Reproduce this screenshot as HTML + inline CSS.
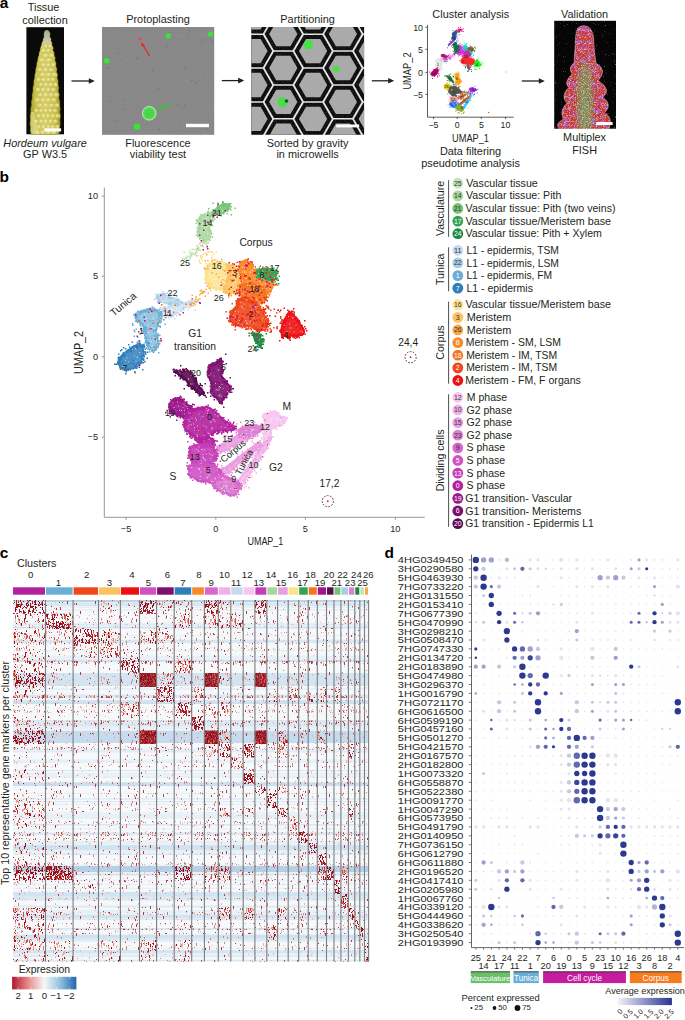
<!DOCTYPE html>
<html><head><meta charset="utf-8"><style>
html,body{margin:0;padding:0;background:#fff;}
body{width:685px;height:1020px;overflow:hidden;position:relative;}
svg{position:absolute;left:0;top:0;display:block;}
text{font-family:"Liberation Sans",sans-serif;}
</style></head><body>
<svg width="685" height="1020" viewBox="0 0 685 1020" font-family="Liberation Sans, sans-serif" fill="#231f20">
<defs>
<linearGradient id="spk" x1="0" x2="1" y1="0" y2="0">
<stop offset="0" stop-color="#9c9428"/><stop offset="0.18" stop-color="#cdc248"/><stop offset="0.5" stop-color="#e2da78"/><stop offset="0.82" stop-color="#cdc248"/><stop offset="1" stop-color="#9a9226"/></linearGradient>
<linearGradient id="spktip" x1="0" x2="0" y1="0" y2="1">
<stop offset="0" stop-color="#a8a89a"/><stop offset="0.1" stop-color="#c8c6a8" stop-opacity="0.95"/><stop offset="0.2" stop-color="#e0da9a" stop-opacity="0"/></linearGradient>
<filter id="grain" x="0" y="0" width="1" height="1"><feTurbulence type="fractalNoise" baseFrequency="0.9" numOctaves="2" seed="3"/><feColorMatrix type="matrix" values="0 0 0 0 0.3  0 0 0 0 0.3  0 0 0 0 0.3  0 0 0 -2.2 1.25"/><feComposite in2="SourceGraphic" operator="in"/></filter>
</defs>
<text x="-0.30" y="7.90" font-size="15.5" fill="#000" font-weight="bold">a</text>
<text x="43.60" y="10.90" font-size="10.9" text-anchor="middle">Tissue</text>
<text x="45.00" y="23.50" font-size="10.9" text-anchor="middle">collection</text>
<text x="45.10" y="146.80" font-size="10.9" text-anchor="middle" font-style="italic">Hordeum vulgare</text>
<text x="45.10" y="157.70" font-size="10.9" text-anchor="middle">GP W3.5</text>
<rect x="26.4" y="27.2" width="37.6" height="107.1" fill="#0a0a08"/>
<path d="M44.6 31.5 Q46.9 28.8 49.2 31.5 Q51.0 34.2 49.7 37.0 Q52.1 39.0 50.8 41.0 Q53.1 43.0 51.8 45.0 Q54.1 47.5 52.8 50.0 Q55.1 52.5 53.8 55.0 Q56.1 57.5 54.8 60.0 Q57.1 63.0 55.8 66.0 Q57.9 69.0 56.6 72.0 Q58.5 75.0 57.2 78.0 Q59.1 81.0 57.8 84.0 Q59.6 87.5 58.3 91.0 Q60.1 94.5 58.8 98.0 Q60.7 101.5 59.4 105.0 Q61.1 108.5 59.8 112.0 Q61.3 116.0 60.0 120.0 Q60.9 123.5 59.6 127.0 Q60.1 130.7 58.8 134.3 L31.2 134.3 Q29.3 130.7 30.6 127.0 Q29.2 123.5 30.5 120.0 Q29.5 116.0 30.8 112.0 Q30.2 108.5 31.5 105.0 Q30.9 101.5 32.2 98.0 Q31.7 94.5 33.0 91.0 Q32.5 87.5 33.8 84.0 Q33.3 81.0 34.6 78.0 Q34.3 75.0 35.6 72.0 Q35.3 69.0 36.6 66.0 Q36.5 63.0 37.8 60.0 Q37.7 57.5 39.0 55.0 Q38.9 52.5 40.2 50.0 Q40.3 47.5 41.6 45.0 Q41.6 43.0 42.9 41.0 Q42.9 39.0 44.2 37.0 Q43.3 34.2 44.6 31.5 Z" fill="url(#spk)"/>
<path d="M44.6 31.5 Q46.9 28.8 49.2 31.5 Q51.0 34.2 49.7 37.0 Q52.1 39.0 50.8 41.0 Q53.1 43.0 51.8 45.0 Q54.1 47.5 52.8 50.0 Q55.1 52.5 53.8 55.0 Q56.1 57.5 54.8 60.0 Q57.1 63.0 55.8 66.0 Q57.9 69.0 56.6 72.0 Q58.5 75.0 57.2 78.0 Q59.1 81.0 57.8 84.0 Q59.6 87.5 58.3 91.0 Q60.1 94.5 58.8 98.0 Q60.7 101.5 59.4 105.0 Q61.1 108.5 59.8 112.0 Q61.3 116.0 60.0 120.0 Q60.9 123.5 59.6 127.0 Q60.1 130.7 58.8 134.3 L31.2 134.3 Q29.3 130.7 30.6 127.0 Q29.2 123.5 30.5 120.0 Q29.5 116.0 30.8 112.0 Q30.2 108.5 31.5 105.0 Q30.9 101.5 32.2 98.0 Q31.7 94.5 33.0 91.0 Q32.5 87.5 33.8 84.0 Q33.3 81.0 34.6 78.0 Q34.3 75.0 35.6 72.0 Q35.3 69.0 36.6 66.0 Q36.5 63.0 37.8 60.0 Q37.7 57.5 39.0 55.0 Q38.9 52.5 40.2 50.0 Q40.3 47.5 41.6 45.0 Q41.6 43.0 42.9 41.0 Q42.9 39.0 44.2 37.0 Q43.3 34.2 44.6 31.5 Z" fill="url(#spktip)"/>
<g fill="#e4dd84" stroke="#aea43c" stroke-width="0.45" opacity="0.8"><ellipse cx="45.9" cy="46.0" rx="2.2" ry="2.3"/><ellipse cx="49.8" cy="46.0" rx="2.2" ry="2.3"/><ellipse cx="43.3" cy="50.6" rx="2.6" ry="2.3"/><ellipse cx="48.1" cy="50.6" rx="2.6" ry="2.3"/><ellipse cx="45.5" cy="55.3" rx="3.1" ry="2.3"/><ellipse cx="51.2" cy="55.3" rx="3.1" ry="2.3"/><ellipse cx="41.9" cy="60.0" rx="3.5" ry="2.3"/><ellipse cx="48.6" cy="60.0" rx="3.5" ry="2.3"/><ellipse cx="43.2" cy="64.8" rx="2.7" ry="2.3"/><ellipse cx="48.1" cy="64.8" rx="2.7" ry="2.3"/><ellipse cx="53.1" cy="64.8" rx="2.7" ry="2.3"/><ellipse cx="40.1" cy="69.6" rx="2.9" ry="2.3"/><ellipse cx="45.5" cy="69.6" rx="2.9" ry="2.3"/><ellipse cx="51.0" cy="69.6" rx="2.9" ry="2.3"/><ellipse cx="42.5" cy="74.5" rx="3.1" ry="2.3"/><ellipse cx="48.4" cy="74.5" rx="3.1" ry="2.3"/><ellipse cx="54.2" cy="74.5" rx="3.1" ry="2.3"/><ellipse cx="38.8" cy="79.5" rx="2.5" ry="2.3"/><ellipse cx="43.4" cy="79.5" rx="2.5" ry="2.3"/><ellipse cx="48.1" cy="79.5" rx="2.5" ry="2.3"/><ellipse cx="52.7" cy="79.5" rx="2.5" ry="2.3"/><ellipse cx="40.8" cy="84.5" rx="2.6" ry="2.3"/><ellipse cx="45.7" cy="84.5" rx="2.6" ry="2.3"/><ellipse cx="50.6" cy="84.5" rx="2.6" ry="2.3"/><ellipse cx="55.4" cy="84.5" rx="2.6" ry="2.3"/><ellipse cx="38.1" cy="89.6" rx="2.7" ry="2.3"/><ellipse cx="43.1" cy="89.6" rx="2.7" ry="2.3"/><ellipse cx="48.2" cy="89.6" rx="2.7" ry="2.3"/><ellipse cx="53.2" cy="89.6" rx="2.7" ry="2.3"/><ellipse cx="40.4" cy="94.7" rx="2.8" ry="2.3"/><ellipse cx="45.6" cy="94.7" rx="2.8" ry="2.3"/><ellipse cx="50.8" cy="94.7" rx="2.8" ry="2.3"/><ellipse cx="56.1" cy="94.7" rx="2.8" ry="2.3"/><ellipse cx="37.4" cy="99.9" rx="2.9" ry="2.3"/><ellipse cx="42.8" cy="99.9" rx="2.9" ry="2.3"/><ellipse cx="48.3" cy="99.9" rx="2.9" ry="2.3"/><ellipse cx="53.7" cy="99.9" rx="2.9" ry="2.3"/><ellipse cx="39.8" cy="105.2" rx="3.0" ry="2.3"/><ellipse cx="45.5" cy="105.2" rx="3.0" ry="2.3"/><ellipse cx="51.1" cy="105.2" rx="3.0" ry="2.3"/><ellipse cx="56.8" cy="105.2" rx="3.0" ry="2.3"/><ellipse cx="36.4" cy="110.5" rx="2.5" ry="2.3"/><ellipse cx="41.1" cy="110.5" rx="2.5" ry="2.3"/><ellipse cx="45.7" cy="110.5" rx="2.5" ry="2.3"/><ellipse cx="50.4" cy="110.5" rx="2.5" ry="2.3"/><ellipse cx="55.0" cy="110.5" rx="2.5" ry="2.3"/><ellipse cx="38.6" cy="115.9" rx="2.6" ry="2.3"/><ellipse cx="43.4" cy="115.9" rx="2.6" ry="2.3"/><ellipse cx="48.1" cy="115.9" rx="2.6" ry="2.3"/><ellipse cx="52.8" cy="115.9" rx="2.6" ry="2.3"/><ellipse cx="57.5" cy="115.9" rx="2.6" ry="2.3"/><ellipse cx="36.3" cy="121.3" rx="2.6" ry="2.3"/><ellipse cx="41.0" cy="121.3" rx="2.6" ry="2.3"/><ellipse cx="45.7" cy="121.3" rx="2.6" ry="2.3"/><ellipse cx="50.4" cy="121.3" rx="2.6" ry="2.3"/><ellipse cx="55.2" cy="121.3" rx="2.6" ry="2.3"/><ellipse cx="38.8" cy="126.8" rx="2.5" ry="2.3"/><ellipse cx="43.4" cy="126.8" rx="2.5" ry="2.3"/><ellipse cx="48.1" cy="126.8" rx="2.5" ry="2.3"/><ellipse cx="52.7" cy="126.8" rx="2.5" ry="2.3"/><ellipse cx="57.3" cy="126.8" rx="2.5" ry="2.3"/><ellipse cx="37.4" cy="132.4" rx="2.9" ry="2.3"/><ellipse cx="42.8" cy="132.4" rx="2.9" ry="2.3"/><ellipse cx="48.3" cy="132.4" rx="2.9" ry="2.3"/><ellipse cx="53.7" cy="132.4" rx="2.9" ry="2.3"/></g>
<g fill="#fbf8d0" opacity="0.7"><circle cx="46.0" cy="45.4" r="0.75"/><circle cx="50.1" cy="45.4" r="0.75"/><circle cx="43.6" cy="50.0" r="0.75"/><circle cx="48.5" cy="50.0" r="0.75"/><circle cx="45.7" cy="54.7" r="0.75"/><circle cx="51.6" cy="54.7" r="0.75"/><circle cx="41.4" cy="59.4" r="0.75"/><circle cx="48.5" cy="59.4" r="0.75"/><circle cx="43.6" cy="64.2" r="0.75"/><circle cx="48.3" cy="64.2" r="0.75"/><circle cx="53.5" cy="64.2" r="0.75"/><circle cx="39.7" cy="69.0" r="0.75"/><circle cx="45.5" cy="69.0" r="0.75"/><circle cx="50.7" cy="69.0" r="0.75"/><circle cx="42.6" cy="73.9" r="0.75"/><circle cx="48.4" cy="73.9" r="0.75"/><circle cx="53.7" cy="73.9" r="0.75"/><circle cx="38.5" cy="78.9" r="0.75"/><circle cx="43.2" cy="78.9" r="0.75"/><circle cx="48.5" cy="78.9" r="0.75"/><circle cx="52.9" cy="78.9" r="0.75"/><circle cx="40.5" cy="83.9" r="0.75"/><circle cx="46.0" cy="83.9" r="0.75"/><circle cx="50.2" cy="83.9" r="0.75"/><circle cx="55.5" cy="83.9" r="0.75"/><circle cx="37.7" cy="89.0" r="0.75"/><circle cx="42.6" cy="89.0" r="0.75"/><circle cx="48.5" cy="89.0" r="0.75"/><circle cx="52.9" cy="89.0" r="0.75"/><circle cx="40.1" cy="94.1" r="0.75"/><circle cx="46.1" cy="94.1" r="0.75"/><circle cx="51.2" cy="94.1" r="0.75"/><circle cx="55.8" cy="94.1" r="0.75"/><circle cx="37.9" cy="99.3" r="0.75"/><circle cx="42.9" cy="99.3" r="0.75"/><circle cx="48.4" cy="99.3" r="0.75"/><circle cx="53.4" cy="99.3" r="0.75"/><circle cx="40.3" cy="104.6" r="0.75"/><circle cx="45.7" cy="104.6" r="0.75"/><circle cx="51.6" cy="104.6" r="0.75"/><circle cx="57.2" cy="104.6" r="0.75"/><circle cx="36.2" cy="109.9" r="0.75"/><circle cx="41.0" cy="109.9" r="0.75"/><circle cx="45.4" cy="109.9" r="0.75"/><circle cx="50.0" cy="109.9" r="0.75"/><circle cx="54.6" cy="109.9" r="0.75"/><circle cx="38.4" cy="115.3" r="0.75"/><circle cx="43.5" cy="115.3" r="0.75"/><circle cx="47.6" cy="115.3" r="0.75"/><circle cx="53.0" cy="115.3" r="0.75"/><circle cx="57.4" cy="115.3" r="0.75"/><circle cx="36.1" cy="120.7" r="0.75"/><circle cx="41.3" cy="120.7" r="0.75"/><circle cx="45.7" cy="120.7" r="0.75"/><circle cx="50.3" cy="120.7" r="0.75"/><circle cx="55.2" cy="120.7" r="0.75"/><circle cx="39.0" cy="126.2" r="0.75"/><circle cx="43.0" cy="126.2" r="0.75"/><circle cx="48.5" cy="126.2" r="0.75"/><circle cx="52.2" cy="126.2" r="0.75"/><circle cx="57.5" cy="126.2" r="0.75"/><circle cx="37.7" cy="131.8" r="0.75"/><circle cx="42.3" cy="131.8" r="0.75"/><circle cx="48.6" cy="131.8" r="0.75"/><circle cx="53.6" cy="131.8" r="0.75"/></g>
<path d="M44.6 31.5 Q46.9 28.8 49.2 31.5 Q51.0 34.2 49.7 37.0 Q52.1 39.0 50.8 41.0 Q53.1 43.0 51.8 45.0 Q54.1 47.5 52.8 50.0 Q55.1 52.5 53.8 55.0 Q56.1 57.5 54.8 60.0 Q57.1 63.0 55.8 66.0 Q57.9 69.0 56.6 72.0 Q58.5 75.0 57.2 78.0 Q59.1 81.0 57.8 84.0 Q59.6 87.5 58.3 91.0 Q60.1 94.5 58.8 98.0 Q60.7 101.5 59.4 105.0 Q61.1 108.5 59.8 112.0 Q61.3 116.0 60.0 120.0 Q60.9 123.5 59.6 127.0 Q60.1 130.7 58.8 134.3 L31.2 134.3 Q29.3 130.7 30.6 127.0 Q29.2 123.5 30.5 120.0 Q29.5 116.0 30.8 112.0 Q30.2 108.5 31.5 105.0 Q30.9 101.5 32.2 98.0 Q31.7 94.5 33.0 91.0 Q32.5 87.5 33.8 84.0 Q33.3 81.0 34.6 78.0 Q34.3 75.0 35.6 72.0 Q35.3 69.0 36.6 66.0 Q36.5 63.0 37.8 60.0 Q37.7 57.5 39.0 55.0 Q38.9 52.5 40.2 50.0 Q40.3 47.5 41.6 45.0 Q41.6 43.0 42.9 41.0 Q42.9 39.0 44.2 37.0 Q43.3 34.2 44.6 31.5 Z" fill="none" stroke="#7a7420" stroke-width="0.6" opacity="0.6"/>
<path d="M31 112 Q29.8 124 31.5 134.3 L40 134.3 Q36 125 34 112Z" fill="#e8e29a" opacity="0.6"/>
<rect x="44.3" y="128.3" width="16.8" height="3.1" fill="#fff"/>
<line x1="71.50" y1="81.00" x2="90.80" y2="81.00" stroke="#231f20" stroke-width="1.3"/>
<path d="M94.80 81.00 L88.80 78.20 L88.80 83.80Z" fill="#231f20"/>
<rect x="102" y="27" width="112.2" height="107.8" fill="#888"/>
<rect x="102" y="27" width="112.2" height="107.8" fill="#888" filter="url(#grain)" opacity="0.35"/>
<g fill="#5a5a5a" opacity="0.45"><circle cx="153.9" cy="67.6" r="0.5"/><circle cx="123.5" cy="99.7" r="0.6"/><circle cx="158.3" cy="123.2" r="0.5"/><circle cx="139.7" cy="127.3" r="0.8"/><circle cx="107.5" cy="68.2" r="0.8"/><circle cx="207.1" cy="128.8" r="0.6"/><circle cx="120.3" cy="53.2" r="0.5"/><circle cx="117.6" cy="120.4" r="0.8"/><circle cx="110.0" cy="101.0" r="0.8"/><circle cx="200.6" cy="125.4" r="0.5"/><circle cx="177.2" cy="104.9" r="0.6"/><circle cx="200.9" cy="109.9" r="0.5"/><circle cx="146.6" cy="64.2" r="0.5"/><circle cx="124.9" cy="122.0" r="0.6"/><circle cx="109.0" cy="68.2" r="0.6"/><circle cx="118.3" cy="53.1" r="0.8"/><circle cx="202.7" cy="39.9" r="0.8"/><circle cx="103.4" cy="109.0" r="0.5"/><circle cx="201.5" cy="49.5" r="0.5"/><circle cx="201.2" cy="42.1" r="0.5"/><circle cx="158.1" cy="88.7" r="0.8"/><circle cx="204.3" cy="72.5" r="0.6"/><circle cx="124.1" cy="109.1" r="0.8"/><circle cx="166.8" cy="46.3" r="0.8"/><circle cx="182.2" cy="32.4" r="0.6"/><circle cx="164.1" cy="92.3" r="0.5"/><circle cx="185.0" cy="106.1" r="0.8"/><circle cx="212.8" cy="40.9" r="0.8"/><circle cx="147.3" cy="124.1" r="0.5"/><circle cx="170.2" cy="32.6" r="0.6"/><circle cx="196.0" cy="83.3" r="0.8"/><circle cx="188.2" cy="37.2" r="0.6"/><circle cx="115.1" cy="121.5" r="0.6"/><circle cx="152.6" cy="70.6" r="0.8"/><circle cx="185.0" cy="68.2" r="0.8"/><circle cx="139.2" cy="74.0" r="0.5"/><circle cx="127.4" cy="56.6" r="0.5"/><circle cx="136.8" cy="58.2" r="0.8"/><circle cx="189.3" cy="30.7" r="0.8"/><circle cx="191.8" cy="80.7" r="0.8"/><circle cx="188.6" cy="88.0" r="0.5"/><circle cx="149.8" cy="52.5" r="0.6"/><circle cx="159.1" cy="129.3" r="0.8"/><circle cx="143.6" cy="98.8" r="0.5"/><circle cx="179.2" cy="120.8" r="0.5"/></g>
<circle cx="168.2" cy="35.7" r="2.8" fill="#38e438"/>
<circle cx="210.6" cy="34.1" r="2.6" fill="#38e438"/>
<circle cx="106.7" cy="60.7" r="2.9" fill="#38e438"/>
<circle cx="137.1" cy="126.8" r="3.3" fill="#38e438"/>
<circle cx="149.2" cy="113.3" r="6.8" fill="#56dc56" stroke="#c6f2c6" stroke-width="0.9"/>
<circle cx="149.2" cy="113.3" r="4.6" fill="#44d044" opacity="0.55"/>
<circle cx="139.8" cy="38.8" r="1.8" fill="#e05050"/>
<line x1="149.60" y1="56.20" x2="143.00" y2="45.00" stroke="#e8241c" stroke-width="1.2"/>
<path d="M141.2 42.2 L145.2 45.4 L141.6 46.6Z" fill="#e8241c"/>
<line x1="171.80" y1="104.80" x2="160.00" y2="108.00" stroke="#22d022" stroke-width="1.3"/>
<path d="M156.6 108.8 L160.6 105.9 L161.4 110.0Z" fill="#22d022"/>
<rect x="186" y="123.8" width="23" height="3.4" fill="#fff"/>
<text x="158.00" y="23.40" font-size="10.9" text-anchor="middle">Protoplasting</text>
<text x="158.00" y="146.50" font-size="10.9" text-anchor="middle">Fluorescence</text>
<text x="158.00" y="157.70" font-size="10.9" text-anchor="middle">viability test</text>
<line x1="221.80" y1="80.60" x2="240.20" y2="80.60" stroke="#231f20" stroke-width="1.3"/>
<path d="M244.20 80.60 L238.20 77.80 L238.20 83.40Z" fill="#231f20"/>
<clipPath id="pclip"><rect x="251.3" y="27" width="112.8" height="107.8"/></clipPath>
<g clip-path="url(#pclip)"><rect x="251.3" y="27" width="112.8" height="107.8" fill="#e8e8e8"/><g fill="#0c0c0c"><polygon points="272.2,-16.7 262.9,-0.5 244.2,-0.5 234.8,-16.7 244.1,-32.9 262.9,-32.9"/><polygon points="272.2,17.2 262.9,33.4 244.2,33.4 234.8,17.2 244.1,1.0 262.9,1.0"/><polygon points="272.2,51.1 262.9,67.3 244.2,67.3 234.8,51.1 244.1,34.9 262.9,34.9"/><polygon points="272.2,85.0 262.9,101.2 244.2,101.2 234.8,85.0 244.1,68.8 262.9,68.8"/><polygon points="272.2,118.9 262.9,135.1 244.2,135.1 234.8,118.9 244.1,102.7 262.9,102.7"/><polygon points="272.2,152.8 262.9,169.0 244.2,169.0 234.8,152.8 244.1,136.6 262.9,136.6"/><polygon points="302.0,0.2 292.7,16.4 273.9,16.4 264.6,0.2 273.9,-16.0 292.7,-16.0"/><polygon points="302.0,34.1 292.7,50.3 273.9,50.3 264.6,34.1 273.9,17.9 292.7,17.9"/><polygon points="302.0,68.0 292.7,84.2 273.9,84.2 264.6,68.0 273.9,51.8 292.7,51.8"/><polygon points="302.0,101.9 292.7,118.1 273.9,118.1 264.6,101.9 273.9,85.7 292.7,85.7"/><polygon points="302.0,135.8 292.7,152.0 273.9,152.0 264.6,135.8 273.9,119.6 292.7,119.6"/><polygon points="302.0,169.7 292.7,185.9 273.9,185.9 264.6,169.7 273.9,153.5 292.7,153.5"/><polygon points="331.8,-16.7 322.5,-0.5 303.8,-0.5 294.4,-16.7 303.8,-32.9 322.5,-32.9"/><polygon points="331.8,17.2 322.5,33.4 303.8,33.4 294.4,17.2 303.8,1.0 322.5,1.0"/><polygon points="331.8,51.1 322.5,67.3 303.8,67.3 294.4,51.1 303.8,34.9 322.5,34.9"/><polygon points="331.8,85.0 322.5,101.2 303.8,101.2 294.4,85.0 303.8,68.8 322.5,68.8"/><polygon points="331.8,118.9 322.5,135.1 303.8,135.1 294.4,118.9 303.8,102.7 322.5,102.7"/><polygon points="331.8,152.8 322.5,169.0 303.8,169.0 294.4,152.8 303.8,136.6 322.5,136.6"/><polygon points="361.6,0.2 352.3,16.4 333.6,16.4 324.2,0.2 333.6,-16.0 352.3,-16.0"/><polygon points="361.6,34.1 352.3,50.3 333.6,50.3 324.2,34.1 333.6,17.9 352.3,17.9"/><polygon points="361.6,68.0 352.3,84.2 333.6,84.2 324.2,68.0 333.6,51.8 352.3,51.8"/><polygon points="361.6,101.9 352.3,118.1 333.6,118.1 324.2,101.9 333.6,85.7 352.3,85.7"/><polygon points="361.6,135.8 352.3,152.0 333.6,152.0 324.2,135.8 333.6,119.6 352.3,119.6"/><polygon points="361.6,169.7 352.3,185.9 333.6,185.9 324.2,169.7 333.6,153.5 352.3,153.5"/><polygon points="391.4,-16.7 382.1,-0.5 363.4,-0.5 354.0,-16.7 363.4,-32.9 382.1,-32.9"/><polygon points="391.4,17.2 382.1,33.4 363.4,33.4 354.0,17.2 363.4,1.0 382.1,1.0"/><polygon points="391.4,51.1 382.1,67.3 363.4,67.3 354.0,51.1 363.4,34.9 382.1,34.9"/><polygon points="391.4,85.0 382.1,101.2 363.4,101.2 354.0,85.0 363.4,68.8 382.1,68.8"/><polygon points="391.4,118.9 382.1,135.1 363.4,135.1 354.0,118.9 363.4,102.7 382.1,102.7"/><polygon points="391.4,152.8 382.1,169.0 363.4,169.0 354.0,152.8 363.4,136.6 382.1,136.6"/><polygon points="421.2,0.2 411.9,16.4 393.1,16.4 383.8,0.2 393.1,-16.0 411.9,-16.0"/><polygon points="421.2,34.1 411.9,50.3 393.1,50.3 383.8,34.1 393.1,17.9 411.9,17.9"/><polygon points="421.2,68.0 411.9,84.2 393.1,84.2 383.8,68.0 393.1,51.8 411.9,51.8"/><polygon points="421.2,101.9 411.9,118.1 393.1,118.1 383.8,101.9 393.1,85.7 411.9,85.7"/><polygon points="421.2,135.8 411.9,152.0 393.1,152.0 383.8,135.8 393.1,119.6 411.9,119.6"/><polygon points="421.2,169.7 411.9,185.9 393.1,185.9 383.8,169.7 393.1,153.5 411.9,153.5"/></g><g fill="#acacac"><polygon points="267.6,-16.7 260.6,-4.5 246.5,-4.5 239.4,-16.7 246.4,-28.9 260.6,-28.9"/><polygon points="267.6,17.2 260.6,29.4 246.5,29.4 239.4,17.2 246.4,5.0 260.6,5.0"/><polygon points="267.6,51.1 260.6,63.3 246.5,63.3 239.4,51.1 246.4,38.9 260.6,38.9"/><polygon points="267.6,85.0 260.6,97.2 246.5,97.2 239.4,85.0 246.4,72.8 260.6,72.8"/><polygon points="267.6,118.9 260.6,131.1 246.5,131.1 239.4,118.9 246.4,106.7 260.6,106.7"/><polygon points="267.6,152.8 260.6,165.0 246.5,165.0 239.4,152.8 246.4,140.6 260.6,140.6"/><polygon points="297.4,0.2 290.4,12.4 276.2,12.4 269.2,0.2 276.2,-12.0 290.4,-12.0"/><polygon points="297.4,34.1 290.4,46.3 276.2,46.3 269.2,34.1 276.2,21.9 290.4,21.9"/><polygon points="297.4,68.0 290.4,80.2 276.2,80.2 269.2,68.0 276.2,55.8 290.4,55.8"/><polygon points="297.4,101.9 290.4,114.1 276.2,114.1 269.2,101.9 276.2,89.7 290.4,89.7"/><polygon points="297.4,135.8 290.4,148.0 276.2,148.0 269.2,135.8 276.2,123.6 290.4,123.6"/><polygon points="297.4,169.7 290.4,181.9 276.2,181.9 269.2,169.7 276.2,157.5 290.4,157.5"/><polygon points="327.2,-16.7 320.2,-4.5 306.1,-4.5 299.0,-16.7 306.1,-28.9 320.2,-28.9"/><polygon points="327.2,17.2 320.2,29.4 306.1,29.4 299.0,17.2 306.1,5.0 320.2,5.0"/><polygon points="327.2,51.1 320.2,63.3 306.1,63.3 299.0,51.1 306.1,38.9 320.2,38.9"/><polygon points="327.2,85.0 320.2,97.2 306.1,97.2 299.0,85.0 306.1,72.8 320.2,72.8"/><polygon points="327.2,118.9 320.2,131.1 306.1,131.1 299.0,118.9 306.1,106.7 320.2,106.7"/><polygon points="327.2,152.8 320.2,165.0 306.1,165.0 299.0,152.8 306.1,140.6 320.2,140.6"/><polygon points="357.0,0.2 350.0,12.4 335.9,12.4 328.8,0.2 335.9,-12.0 350.0,-12.0"/><polygon points="357.0,34.1 350.0,46.3 335.9,46.3 328.8,34.1 335.9,21.9 350.0,21.9"/><polygon points="357.0,68.0 350.0,80.2 335.9,80.2 328.8,68.0 335.9,55.8 350.0,55.8"/><polygon points="357.0,101.9 350.0,114.1 335.9,114.1 328.8,101.9 335.9,89.7 350.0,89.7"/><polygon points="357.0,135.8 350.0,148.0 335.9,148.0 328.8,135.8 335.9,123.6 350.0,123.6"/><polygon points="357.0,169.7 350.0,181.9 335.9,181.9 328.8,169.7 335.9,157.5 350.0,157.5"/><polygon points="386.8,-16.7 379.8,-4.5 365.7,-4.5 358.6,-16.7 365.7,-28.9 379.8,-28.9"/><polygon points="386.8,17.2 379.8,29.4 365.7,29.4 358.6,17.2 365.7,5.0 379.8,5.0"/><polygon points="386.8,51.1 379.8,63.3 365.7,63.3 358.6,51.1 365.7,38.9 379.8,38.9"/><polygon points="386.8,85.0 379.8,97.2 365.7,97.2 358.6,85.0 365.7,72.8 379.8,72.8"/><polygon points="386.8,118.9 379.8,131.1 365.7,131.1 358.6,118.9 365.7,106.7 379.8,106.7"/><polygon points="386.8,152.8 379.8,165.0 365.7,165.0 358.6,152.8 365.7,140.6 379.8,140.6"/><polygon points="416.6,0.2 409.6,12.4 395.4,12.4 388.4,0.2 395.4,-12.0 409.6,-12.0"/><polygon points="416.6,34.1 409.6,46.3 395.4,46.3 388.4,34.1 395.4,21.9 409.6,21.9"/><polygon points="416.6,68.0 409.6,80.2 395.4,80.2 388.4,68.0 395.4,55.8 409.6,55.8"/><polygon points="416.6,101.9 409.6,114.1 395.4,114.1 388.4,101.9 395.4,89.7 409.6,89.7"/><polygon points="416.6,135.8 409.6,148.0 395.4,148.0 388.4,135.8 395.4,123.6 409.6,123.6"/><polygon points="416.6,169.7 409.6,181.9 395.4,181.9 388.4,169.7 395.4,157.5 409.6,157.5"/></g><rect x="251.3" y="27" width="112.8" height="107.8" fill="#999" filter="url(#grain)" opacity="0.25"/></g>
<circle cx="308.5" cy="44.8" r="4.8" fill="#48e048"/>
<circle cx="336.2" cy="69.0" r="3.2" fill="#48e048"/>
<circle cx="282.4" cy="102.3" r="5.0" fill="#48e048"/>
<circle cx="286.5" cy="101.0" r="1.8" fill="#153" />
<rect x="336.2" y="124.5" width="23" height="2.9" fill="#fff"/>
<text x="307.60" y="23.40" font-size="10.9" text-anchor="middle">Partitioning</text>
<text x="307.60" y="146.50" font-size="10.9" text-anchor="middle">Sorted by gravity</text>
<text x="307.60" y="157.70" font-size="10.9" text-anchor="middle">in microwells</text>
<line x1="371.80" y1="80.80" x2="390.20" y2="80.80" stroke="#231f20" stroke-width="1.3"/>
<path d="M394.20 80.80 L388.20 78.00 L388.20 83.60Z" fill="#231f20"/>
<text x="-0.50" y="181.70" font-size="15.5" fill="#000" font-weight="bold">b</text>
<line x1="104.30" y1="187.50" x2="104.30" y2="517.30" stroke="#8a8a8a" stroke-width="0.9"/>
<line x1="104.30" y1="517.30" x2="424.70" y2="517.30" stroke="#8a8a8a" stroke-width="0.9"/>
<line x1="101.80" y1="196.20" x2="104.30" y2="196.20" stroke="#8a8a8a" stroke-width="0.9"/>
<text x="98.00" y="199.40" font-size="9.2" text-anchor="end">10</text>
<line x1="101.80" y1="276.20" x2="104.30" y2="276.20" stroke="#8a8a8a" stroke-width="0.9"/>
<text x="98.00" y="279.40" font-size="9.2" text-anchor="end">5</text>
<line x1="101.80" y1="356.80" x2="104.30" y2="356.80" stroke="#8a8a8a" stroke-width="0.9"/>
<text x="98.00" y="360.00" font-size="9.2" text-anchor="end">0</text>
<line x1="101.80" y1="437.20" x2="104.30" y2="437.20" stroke="#8a8a8a" stroke-width="0.9"/>
<text x="98.00" y="440.40" font-size="9.2" text-anchor="end">−5</text>
<line x1="126.10" y1="517.30" x2="126.10" y2="519.80" stroke="#8a8a8a" stroke-width="0.9"/>
<text x="126.10" y="531.60" font-size="9.2" text-anchor="middle">−5</text>
<line x1="215.80" y1="517.30" x2="215.80" y2="519.80" stroke="#8a8a8a" stroke-width="0.9"/>
<text x="215.80" y="531.60" font-size="9.2" text-anchor="middle">0</text>
<line x1="305.40" y1="517.30" x2="305.40" y2="519.80" stroke="#8a8a8a" stroke-width="0.9"/>
<text x="305.40" y="531.60" font-size="9.2" text-anchor="middle">5</text>
<line x1="395.30" y1="517.30" x2="395.30" y2="519.80" stroke="#8a8a8a" stroke-width="0.9"/>
<text x="395.30" y="531.60" font-size="9.2" text-anchor="middle">10</text>
<text x="265.40" y="545.40" font-size="10.8" text-anchor="middle" textLength="35.90" lengthAdjust="spacingAndGlyphs">UMAP_1</text>
<text x="82.90" y="352.50" font-size="12.2" text-anchor="middle" textLength="43.20" lengthAdjust="spacingAndGlyphs" transform="rotate(-90 82.90 352.50)">UMAP_2</text>
<g transform="scale(.5)"><path fill="#c2e3b8" d="M385 506h3v3h-3zm4 1h3v3h-3zm-3-9h3v3h-3zm21-15h3v3h-3zm-15 16h3v3h-3zm-24 17h3v3h-3zm5 2h3v3h-3zm21-24h3v3h-3zm-7 12h3v3h-3zm24-23h3v3h-3zm-16 14h3v3h-3zm-28 18h3v3h-3zm28-26h3v3h-3zm20-5h3v3h-3zm-36 29h3v3h-3zm-8 1h3v3h-3zm28-30h3v3h-3zm-18 23h3v3h-3zm1 3h3v3h-3zm27-24h3v3h-3zm-13 13h3v3h-3zm6-16h3v3h-3zm-24 31h3v3h-3zm2-8h3v3h-3zm26-26h3v3h-3zm-14 11h3v3h-3zm-4 17h3v3h-3zm2-11h3v3h-3zm-19 16h3v3h-3zm-8 3h3v3h-3zm27-18h3v3h-3zm21-12h3v3h-3zm-8 2h3v3h-3zm-12 15h3v3h-3zm-22 19h3v3h-3zm36-30h3v3h-3zm-38 11h3v3h-3zm29-7h3v3h-3zm-18 4h3v3h-3zm1 10h3v3h-3zm-1 2h3v3h-3zm14-8h3v3h-3zm-9 0h3v3h-3zm11-10h3v3h-3zm-20 17h3v3h-3zm25-12h3v3h-3zm-6-2h3v3h-3zm3-3h3v3h-3zm-23 19h3v3h-3zm23-19h3v3h-3zm9-9h3v3h-3zm-25 26h3v3h-3zm12-10h3v3h-3zm8-11h3v3h-3zm-21 26h3v3h-3zm33-27h3v3h-3zm-23 16h3v3h-3zm17-28h3v3h-3zm-23 20h3v3h-3zm2 10h3v3h-3zm-14 8h3v3h-3zm-4 2h3v3h-3zm11-12h3v3h-3zm3-1h3v3h-3zm17-18h3v3h-3zm-19 27h3v3h-3z"/><path fill="#a5d79a" fill-opacity="0.8" d="M407 427 421 422 429 427 425 439 419 452 421 466 419 480 409 482 397 476 393 464 396 452 394 441 399 431Z"/><path fill="#a5d79a" d="M427 430h3v3h-3zm-32 40h3v3h-3zm28-31h3v3h-3zm-17 39h3v3h-3zm-15-33h3v3h-3zm28 27h3v3h-3zm1-12h3v3h-3zm-22-2h3v3h-3zm23-19h3v3h-3zm-6 38h3v3h-3zm-20-21h3v3h-3zm-1-2h3v3h-3zm22 17h3v3h-3zm-19-34h3v3h-3zm9-5h3v3h-3zm-10 39h3v3h-3zm19 12h3v3h-3zm-5-53h3v3h-3zm-15 32h3v3h-3zm2 3h3v3h-3zm28-32h3v3h-3zm-6 41h3v3h-3zm7-48h3v3h-3zm-29 25h3v3h-3zm-1 7h3v3h-3zm3 17h3v3h-3zm-7-37h3v3h-3zm36-11h3v3h-3zm-19 44h3v3h-3zm14-40h3v3h-3zm-25 25h3v3h-3zm0-7h3v3h-3zm23-7h3v3h-3zm1-8h3v3h-3zm-16-2h3v3h-3zm14-7h3v3h-3zm-15 55h3v3h-3zm-8-44h3v3h-3zm6-6h3v3h-3zm15 27h3v3h-3zm-21 5h3v3h-3zm0 4h3v3h-3zm21-9h3v3h-3zm-20-4h3v3h-3zm24-14h3v3h-3zm-24 12h3v3h-3zm-7-12h3v3h-3zm24-14h3v3h-3zm4 36h3v3h-3zm-23 10h3v3h-3zm26-44h3v3h-3zm-29 35h3v3h-3zm25-10h3v3h-3zm-13-21h3v3h-3zm11 27h3v3h-3zm-10 22h3v3h-3zm-8-5h3v3h-3zm0 0h3v3h-3zm-5-33h3v3h-3zm3 20h3v3h-3zm24-15h3v3h-3zm1 2h3v3h-3zm-17-20h3v3h-3zm20 12h3v3h-3zm-6 5h3v3h-3zm-21 12h3v3h-3zm23-9h3v3h-3zm-4-1h3v3h-3zm5 17h3v3h-3zm-3-15h3v3h-3zm2 10h3v3h-3zm-26 3h3v3h-3zm24 7h3v3h-3zm-20 6h3v3h-3zm25-3h3v3h-3zm3-40h3v3h-3zm-33 21h3v3h-3zm26 25h3v3h-3zm-21-37h3v3h-3zm-1 29h3v3h-3zm20-12h3v3h-3zm-19-25h3v3h-3zm16-12h3v3h-3zm-1 56h3v3h-3zm8-35h3v3h-3zm-4 14h3v3h-3zm-22-2h3v3h-3zm26-13h3v3h-3zm-22-6h3v3h-3zm0 17h3v3h-3zm18 2h3v3h-3zm9-21h3v3h-3zm-31 34h3v3h-3zm19-44h3v3h-3zm3 37h3v3h-3zm-1-7h3v3h-3zm10-15h3v3h-3zm-1-7h3v3h-3zm-29 13h3v3h-3zm7 29h3v3h-3zm21-24h3v3h-3zm-7 28h3v3h-3zm-8-50h3v3h-3zm-15 42h3v3h-3zm0-1h3v3h-3zm21-43h3v3h-3zm6 14h3v3h-3zm-9 3h3v3h-3zm6 6h3v3h-3zm9-22h3v3h-3zm1 10h3v3h-3zm-25 37h3v3h-3zm-12-5h3v3h-3zm27-18h3v3h-3zm-13-10h3v3h-3zm-4-6h3v3h-3zm-6 28h3v3h-3zm23-18h3v3h-3zm-12-13h3v3h-3zm-11 40h3v3h-3zm28-34h3v3h-3zm-17 44h3v3h-3zm4-1h3v3h-3zm9-16h3v3h-3zm-16 3h3v3h-3zm-5 0h3v3h-3zm19-19h3v3h-3zm-13 6h3v3h-3zm7 12h3v3h-3zm11 0h3v3h-3zm-25-6h3v3h-3zm7-30h3v3h-3zm11-10h3v3h-3zm-17 15h3v3h-3zm23 31h3v3h-3zm-25-19h3v3h-3zm29-9h3v3h-3zm-2 33h3v3h-3zm-25 5h3v3h-3zm20-16h3v3h-3zm-13 16h3v3h-3zm-7-9h3v3h-3zm22-6h3v3h-3zm8-37h3v3h-3zm-28 3h3v3h-3zm-5 35h3v3h-3zm10-13h3v3h-3zm17-8h3v3h-3zm-22-6h3v3h-3zm0 2h3v3h-3zm17-12h3v3h-3z"/><path fill="#74c476" fill-opacity="0.9" d="M433 414 446 406 460 407 461 413 454 421 446 427 434 428 427 425 422 426Z"/><path fill="#74c476" d="M452 419h3v3h-3zm9-7h3v3h-3zm-32 9h3v3h-3zm29-12h3v3h-3zm-22 7h3v3h-3zm-14 12h3v3h-3zm26-18h3v3h-3zm-20 9h3v3h-3zm9 5h3v3h-3zm17-9h3v3h-3zm-20-3h3v3h-3zm19 9h3v3h-3zm-18-8h3v3h-3zm26-1h3v3h-3zm-12-5h3v3h-3zm-21 20h3v3h-3zm19-17h3v3h-3zm-5 15h3v3h-3zm10-6h3v3h-3zm-14-4h3v3h-3zm7-7h3v3h-3zm12 2h3v3h-3zm4 18h3v3h-3zm-36-10h3v3h-3zm14 6h3v3h-3zm14-14h3v3h-3zm-8-7h3v3h-3zm-10 8h3v3h-3zm-1-1h3v3h-3zm22-4h3v3h-3zm-1 3h3v3h-3zm-16 2h3v3h-3zm1 17h3v3h-3zm5-19h3v3h-3zm-4 3h3v3h-3zm-25 4h3v3h-3zm39 1h3v3h-3zm-7 4h3v3h-3zm7-12h3v3h-3zm-2 17h3v3h-3zm-13-15h3v3h-3zm-3 5h3v3h-3zm23-10h3v3h-3zm-20 20h3v3h-3zm16-9h3v3h-3zm-2-1h3v3h-3zm-15 8h3v3h-3zm19-9h3v3h-3zm-14-13h3v3h-3zm25 13h3v3h-3zm-21 7h3v3h-3zm-19 2h3v3h-3zm8 4h3v3h-3zm-5-5h3v3h-3zm9-8h3v3h-3zm-8 12h3v3h-3zm1-22h3v3h-3zm14 16h3v3h-3zm12-3h3v3h-3zm-16 7h3v3h-3zm3-3h3v3h-3zm-18-1h3v3h-3zm10-6h3v3h-3zm7 7h3v3h-3zm-21-17h3v3h-3zm21 2h3v3h-3zm-17 14h3v3h-3zm1 6h3v3h-3zm-2-5h3v3h-3zm20-15h3v3h-3zm-2 3h3v3h-3zm-12 4h3v3h-3zm11 10h3v3h-3zm4-3h3v3h-3zm5-1h3v3h-3zm2-11h3v3h-3zm-21 5h3v3h-3zm12 8h3v3h-3zm-3 1h3v3h-3zm-20 2h3v3h-3zm-5 6h3v3h-3zm28-21h3v3h-3zm-6-1h3v3h-3zm-3 5h3v3h-3zm9-6h3v3h-3zm11-1h3v3h-3zm-30 18h3v3h-3zm10-1h3v3h-3zm-19 12h3v3h-3zm22-6h3v3h-3zm10-23h3v3h-3zm-16 9h3v3h-3zm-8 8h3v3h-3zm19 2h3v3h-3zm-2-21h3v3h-3zm12 10h3v3h-3z"/><path fill="#c6dbef" fill-opacity="0.6" d="M313 618 337 610 360 607 378 601 389 598 395 604 384 613 366 618 348 630 331 636 319 630Z"/><path fill="#c6dbef" d="M354 612h3v3h-3zm-36 14h3v3h-3zm26 6h3v3h-3zm33-28h3v3h-3zm-29 23h3v3h-3zm4 3h3v3h-3zm-24-13h3v3h-3zm-4 1h3v3h-3zm40-3h3v3h-3zm5-8h3v3h-3zm-36 9h3v3h-3zm-10 1h3v3h-3zm47-12h3v3h-3zm-47 25h3v3h-3zm15-20h3v3h-3zm2 18h3v3h-3zm1-20h3v3h-3zm-21 18h3v3h-3zm37-16h3v3h-3zm1 17h3v3h-3zm-32-11h3v3h-3zm48-15h3v3h-3zm-52 25h3v3h-3zm19 4h3v3h-3zm18-23h3v3h-3zm1 11h3v3h-3zm-7-8h3v3h-3zm-10 22h3v3h-3zm1-23h3v3h-3zm-25 19h3v3h-3zm6-13h3v3h-3zm-6 2h3v3h-3zm8-5h3v3h-3zm-4 8h3v3h-3zm41-17h3v3h-3zm-21 6h3v3h-3zm-3 21h3v3h-3zm36-25h3v3h-3zm-59 13h3v3h-3zm1 5h3v3h-3zm1-9h3v3h-3zm-2 10h3v3h-3zm1-5h3v3h-3zm27 10h3v3h-3zm-7-16h3v3h-3zm2-6h3v3h-3zm-9 25h3v3h-3zm9 1h3v3h-3zm-4 1h3v3h-3zm2-20h3v3h-3zm54-14h3v3h-3zm-34 8h3v3h-3zm7 7h3v3h-3zm23-11h3v3h-3zm-48 29h3v3h-3zm38-32h3v3h-3zm-42 29h3v3h-3zm12 6h3v3h-3zm-27-10h3v3h-3zm7 8h3v3h-3zm14-23h3v3h-3zm-13 19h3v3h-3zm11 1h3v3h-3zm33-19h3v3h-3zm-19 12h3v3h-3zm27-23h3v3h-3zm-36 26h3v3h-3zm21-10h3v3h-3zm-50 12h3v3h-3zm33-19h3v3h-3zm47-8h3v3h-3zm-31 16h3v3h-3zm-24 12h3v3h-3zm6-3h3v3h-3zm8-3h3v3h-3zm-3-13h3v3h-3zm-8 2h3v3h-3zm22-4h3v3h-3zm-15 16h3v3h-3zm-1 2h3v3h-3zm-9-18h3v3h-3zm-18 9h3v3h-3zm39 3h3v3h-3zm16-7h3v3h-3zm-43-1h3v3h-3zm8 15h3v3h-3zm37-16h3v3h-3zm-5 6h3v3h-3zm18-15h3v3h-3zm-23 2h3v3h-3zm21-11h3v3h-3zm-36 12h3v3h-3zm3 4h3v3h-3zm30-6h3v3h-3zm-27 17h3v3h-3zm-5 5h3v3h-3zm27-28h3v3h-3zm-14 15h3v3h-3zm-22-3h3v3h-3zm-17 22h3v3h-3zm22-2h3v3h-3zm-7 0h3v3h-3zm-28-12h3v3h-3zm23-8h3v3h-3zm38-1h3v3h-3zm-8-5h3v3h-3zm-34 28h3v3h-3zm6-25h3v3h-3zm18 13h3v3h-3zm-37 8h3v3h-3zm14-20h3v3h-3zm5 2h3v3h-3zm-14 4h3v3h-3zm-5 3h3v3h-3zm31 7h3v3h-3zm30-24h3v3h-3zm-55 32h3v3h-3zm20-15h3v3h-3zm-30 13h3v3h-3zm50-24h3v3h-3zm-2-1h3v3h-3zm22 14h3v3h-3zm-73 19h3v3h-3z"/><path fill="#a5cde5" fill-opacity="0.65" d="M312 589 325 585 343 594 357 596 363 604 348 608 331 607 316 602 311 596Z"/><path fill="#a5cde5" d="M314 591h3v3h-3zm22 13h3v3h-3zm4 0h3v3h-3zm-17-14h3v3h-3zm4-4h3v3h-3zm21 17h3v3h-3zm9-5h3v3h-3zm-1 4h3v3h-3zm-4-11h3v3h-3zm-19-6h3v3h-3zm-19 6h3v3h-3zm12-4h3v3h-3zm-10 17h3v3h-3zm3-1h3v3h-3zm8 1h3v3h-3zm-13-2h3v3h-3zm1 2h3v3h-3zm21-13h3v3h-3zm-7 1h3v3h-3zm-14 9h3v3h-3zm36-2h3v3h-3zm-28-11h3v3h-3zm13 5h3v3h-3zm-12 4h3v3h-3zm36 7h3v3h-3zm-20-10h3v3h-3zm-12-5h3v3h-3zm10 14h3v3h-3zm15 6h3v3h-3zm-36-11h3v3h-3zm-6-11h3v3h-3zm7 15h3v3h-3zm35-4h3v3h-3zm0 7h3v3h-3zm-10-10h3v3h-3zm14 3h3v3h-3zm-49-1h3v3h-3zm27 10h3v3h-3zm1-20h3v3h-3zm8 7h3v3h-3zm-30-5h3v3h-3zm24 5h3v3h-3zm-22 4h3v3h-3zm3-6h3v3h-3zm-2 7h3v3h-3zm-3-3h3v3h-3zm36 3h3v3h-3zm-28-12h3v3h-3zm32 15h3v3h-3zm-3-2h3v3h-3zm-20 4h3v3h-3zm8-11h3v3h-3zm24 12h3v3h-3zm-23-9h3v3h-3zm3-2h3v3h-3zm-7 1h3v3h-3zm6 9h3v3h-3zm-29-10h3v3h-3zm1 2h3v3h-3zm26-9h3v3h-3zm-25 6h3v3h-3zm39 13h3v3h-3zm-15 1h3v3h-3zm-27-14h3v3h-3zm3 5h3v3h-3zm33 6h3v3h-3zm2 1h3v3h-3zm-2-1h3v3h-3zm-23-22h3v3h-3zm7 23h3v3h-3zm-15-8h3v3h-3zm1 5h3v3h-3zm18 5h3v3h-3zm-21-15h3v3h-3zm23 3h3v3h-3zm27 20h3v3h-3zm-36-29h3v3h-3zm7 8h3v3h-3zm26 8h3v3h-3zm-22-7h3v3h-3zm-4-4h3v3h-3zm5 16h3v3h-3zm7 1h3v3h-3zm9-1h3v3h-3zm-36-4h3v3h-3z"/><path fill="#6aaed6" fill-opacity="0.7" d="M268 627 281 620 296 617 308 615 319 623 322 636 318 648 313 659 316 683 313 697 305 703 294 694 290 683 289 668 286 653 278 645 271 642Z"/><path fill="#6aaed6" d="M269 629h3v3h-3zm23 65h3v3h-3zm-12-72h3v3h-3zm39 6h3v3h-3zm-45-7h3v3h-3zm17 44h3v3h-3zm-3 10h3v3h-3zm23 13h3v3h-3zm2-66h3v3h-3zm-42 17h3v3h-3zm51-3h3v3h-3zm-41 23h3v3h-3zm3-12h3v3h-3zm32 38h3v3h-3zm2-58h3v3h-3zm-2 77h3v3h-3zm-1-23h3v3h-3zm-44-52h3v3h-3zm-1-3h3v3h-3zm42-6h3v3h-3zm-19 2h3v3h-3zm-27 6h3v3h-3zm48 66h3v3h-3zm-20-13h3v3h-3zm9-63h3v3h-3zm-12 46h3v3h-3zm29-35h3v3h-3zm-42 13h3v3h-3zm36 39h3v3h-3zm-3-5h3v3h-3zm-38-44h3v3h-3zm31-10h3v3h-3zm-11 57h3v3h-3zm-6-24h3v3h-3zm-12-14h3v3h-3zm47-19h3v3h-3zm-32 51h3v3h-3zm25 18h3v3h-3zm-3-37h3v3h-3zm-18-34h3v3h-3zm19 47h3v3h-3zm-31-22h3v3h-3zm26-26h3v3h-3zm5 72h3v3h-3zm-21-16h3v3h-3zm-21-48h3v3h-3zm20 51h3v3h-3zm-16-36h3v3h-3zm6 2h3v3h-3zm33-21h3v3h-3zm-13-4h3v3h-3zm-12 42h3v3h-3zm4 25h3v3h-3zm-2-66h3v3h-3zm3-4h3v3h-3zm11 28h3v3h-3zm10 7h3v3h-3zm-15-31h3v3h-3zm-13-1h3v3h-3zm-23 30h3v3h-3zm47 10h3v3h-3zm-21-3h3v3h-3zm29-12h3v3h-3zm-20-23h3v3h-3zm10 40h3v3h-3zm-20-6h3v3h-3zm-12-32h3v3h-3zm7 23h3v3h-3zm5 7h3v3h-3zm27-9h3v3h-3zm-27 18h3v3h-3zm-9-40h3v3h-3zm10 43h3v3h-3zm21 33h3v3h-3zm-32-53h3v3h-3zm32-25h3v3h-3zm-15 55h3v3h-3zm22 11h3v3h-3zm-8 12h3v3h-3zm6-73h3v3h-3zm-6 73h3v3h-3zm-2-1h3v3h-3zm-20-40h3v3h-3zm8-40h3v3h-3zm18 60h3v3h-3zm2-47h3v3h-3zm0 40h3v3h-3zm-7 29h3v3h-3zm-21-78h3v3h-3zm-17 6h3v3h-3zm46 58h3v3h-3zm-38-36h3v3h-3zm32-29h3v3h-3zm-18 65h3v3h-3zm24-53h3v3h-3zm-53 14h3v3h-3zm17-23h3v3h-3zm24 69h3v3h-3zm14-57h3v3h-3zm-4 31h3v3h-3zm-19-47h3v3h-3zm-6 62h3v3h-3zm-17-39h3v3h-3zm40 7h3v3h-3zm9-23h3v3h-3zm-26-6h3v3h-3zm22 20h3v3h-3zm-5 31h3v3h-3zm-24 12h3v3h-3zm32-41h3v3h-3zm-10 27h3v3h-3zm0-14h3v3h-3zm-40-14h3v3h-3zm18-19h3v3h-3zm22-4h3v3h-3zm-23 73h3v3h-3zm19-76h3v3h-3zm-5 85h3v3h-3zm-10-80h3v3h-3zm19 74h3v3h-3zm-26-31h3v3h-3zm21 40h3v3h-3zm-31-65h3v3h-3zm40 49h3v3h-3zm-30 13h3v3h-3zm-4-77h3v3h-3zm14 66h3v3h-3zm-9-37h3v3h-3zm6 31h3v3h-3zm-1-21h3v3h-3zm-6-2h3v3h-3zm33 9h3v3h-3zm-22-50h3v3h-3zm-27 14h3v3h-3zm43 38h3v3h-3zm-3-13h3v3h-3zm-17 24h3v3h-3zm-19-48h3v3h-3zm33 66h3v3h-3zm-16-45h3v3h-3zm-12-15h3v3h-3zm42-1h3v3h-3zm-1 12h3v3h-3zm2-26h3v3h-3zm-29 43h3v3h-3zm4 28h3v3h-3zm3-56h3v3h-3zm-25 3h3v3h-3zm18 21h3v3h-3zm19 8h3v3h-3zm19-38h3v3h-3zm-27-21h3v3h-3zm-10 7h3v3h-3zm21 50h3v3h-3zm-43-31h3v3h-3zm21 26h3v3h-3zm-22-32h3v3h-3zm41 57h3v3h-3zm-22-26h3v3h-3zm-5-41h3v3h-3zm38 9h3v3h-3zm-15 38h3v3h-3zm-2-9h3v3h-3zm-17-40h3v3h-3zm15 77h3v3h-3zm-23-73h3v3h-3zm6 32h3v3h-3zm43-10h3v3h-3zm-32-30h3v3h-3zm-18 9h3v3h-3zm39 2h3v3h-3zm-21 64h3v3h-3zm-14-72h3v3h-3zm-7 8h3v3h-3zm43-3h3v3h-3zm-27 70h3v3h-3zm25-76h3v3h-3zm2 34h3v3h-3zm-28-31h3v3h-3zm-21 6h3v3h-3zm19-6h3v3h-3zm-1 37h3v3h-3zm-12-31h3v3h-3zm16 42h3v3h-3zm18-8h3v3h-3zm5 19h3v3h-3zm-19 7h3v3h-3zm-19-48h3v3h-3zm40 3h3v3h-3zm-2 43h3v3h-3zm-30-65h3v3h-3zm13-6h3v3h-3zm21 8h3v3h-3zm-28 72h3v3h-3zm30-67h3v3h-3zm-5 58h3v3h-3zm-6 10h3v3h-3zm-40-55h3v3h-3zm26 49h3v3h-3zm11-73h3v3h-3zm-18 67h3v3h-3zm27-4h3v3h-3zm-11-21h3v3h-3zm-2 42h3v3h-3zm12-55h3v3h-3zm-46-12h3v3h-3zm44 13h3v3h-3zm5-21h3v3h-3zm-48 5h3v3h-3zm21 51h3v3h-3zm25 5h3v3h-3zm-32-37h3v3h-3zm38-19h3v3h-3zm-52 4h3v3h-3zm52 0h3v3h-3zm-32 47h3v3h-3zm24 3h3v3h-3zm-16 17h3v3h-3zm18-52h3v3h-3zm-20-32h3v3h-3zm-21 4h3v3h-3zm12 35h3v3h-3zm13 37h3v3h-3zm15-56h3v3h-3zm-26 14h3v3h-3zm9-35h3v3h-3zm1 3h3v3h-3zm-9 2h3v3h-3zm26 66h3v3h-3zm-18 10h3v3h-3zm16-24h3v3h-3zm-21 15h3v3h-3zm29-61h3v3h-3zm-3 0h3v3h-3zm-7 29h3v3h-3zm-33-9h3v3h-3zm23 27h3v3h-3zm-11-58h3v3h-3zm-13 26h3v3h-3zm35-24h3v3h-3zm-21 70h3v3h-3zm13-50h3v3h-3zm-25 11h3v3h-3zm23-32h3v3h-3zm-29 23h3v3h-3zm40 37h3v3h-3zm3-51h3v3h-3zm3-5h3v3h-3zm-16 80h3v3h-3zm-14-19h3v3h-3zm23-13h3v3h-3zm-40-28h3v3h-3zm5 39h3v3h-3zm3-26h3v3h-3zm13 27h3v3h-3zm-7-21h3v3h-3zm4 22h3v3h-3zm-24-12h3v3h-3zm23 11h3v3h-3zm5 15h3v3h-3zm-18-15h3v3h-3zm15-16h3v3h-3zm-18 7h3v3h-3zm4 9h3v3h-3zm8-22h3v3h-3zm6 27h3v3h-3zm-4-17h3v3h-3zm3 14h3v3h-3zm-3-17h3v3h-3zm-3 22h3v3h-3zm1-34h3v3h-3zm-15 2h3v3h-3zm9-1h3v3h-3zm9 9h3v3h-3zm4-7h3v3h-3zm-26 1h3v3h-3zm12 28h3v3h-3zm10-25h3v3h-3zm5 29h3v3h-3zm-3-11h3v3h-3zm-12-13h3v3h-3zm15 18h3v3h-3zm-9-34h3v3h-3zm-12 33h3v3h-3zm4 2h3v3h-3zm-9-24h3v3h-3zm18 25h3v3h-3zm5-33h3v3h-3zm-18 29h3v3h-3z"/><path fill="#2f7ebc" fill-opacity="0.85" d="M236 716 248 704 262 694 276 686 286 690 289 706 282 724 270 734 256 740 242 738 234 728Z"/><path fill="#2f7ebc" d="M280 718h3v3h-3zm-16-21h3v3h-3zm8 36h3v3h-3zm-18 6h3v3h-3zm31-28h3v3h-3zm-45 8h3v3h-3zm17-19h3v3h-3zm3 0h3v3h-3zm-10 46h3v3h-3zm-8-10h3v3h-3zm15-38h3v3h-3zm-6 37h3v3h-3zm-11-21h3v3h-3zm-5 1h3v3h-3zm9-8h3v3h-3zm10-5h3v3h-3zm13-12h3v3h-3zm-29 37h3v3h-3zm-2-20h3v3h-3zm31-14h3v3h-3zm13 31h3v3h-3zm-25-25h3v3h-3zm-4 4h3v3h-3zm31 21h3v3h-3zm-9-34h3v3h-3zm-36 31h3v3h-3zm18 17h3v3h-3zm-11-3h3v3h-3zm33-12h3v3h-3zm-1-38h3v3h-3zm-5 50h3v3h-3zm3-46h3v3h-3zm-17 9h3v3h-3zm24 23h3v3h-3zm-36 17h3v3h-3zm28-47h3v3h-3zm12 25h3v3h-3zm-1-15h3v3h-3zm-17 31h3v3h-3zm4-1h3v3h-3zm13-38h3v3h-3zm-1 25h3v3h-3zm-6 11h3v3h-3zm-7-39h3v3h-3zm-1 3h3v3h-3zm-18 49h3v3h-3zm-14-21h3v3h-3zm19 16h3v3h-3zm34-30h3v3h-3zm-33 19h3v3h-3zm24-34h3v3h-3zm-19 7h3v3h-3zm14 26h3v3h-3zm-48 2h3v3h-3zm35 9h3v3h-3zm-29-13h3v3h-3zm25-24h3v3h-3zm9 43h3v3h-3zm-3-6h3v3h-3zm4-4h3v3h-3zm17-44h3v3h-3zm-44 22h3v3h-3zm4-2h3v3h-3zm1-4h3v3h-3zm40-11h3v3h-3zm-49 39h3v3h-3zm34-39h3v3h-3zm-19 9h3v3h-3zm16-9h3v3h-3zm-36 33h3v3h-3zm53-8h3v3h-3zm-13-29h3v3h-3zm12 35h3v3h-3zm-46 8h3v3h-3zm1 5h3v3h-3zm27-43h3v3h-3zm2 40h3v3h-3zm-10 4h3v3h-3zm35-35h3v3h-3zm-9-11h3v3h-3zm-14 36h3v3h-3zm-8-35h3v3h-3zm-6 42h3v3h-3zm19-8h3v3h-3zm6-13h3v3h-3zm-41 12h3v3h-3zm-5-8h3v3h-3zm43-31h3v3h-3zm-40 45h3v3h-3zm-1-2h3v3h-3zm50-8h3v3h-3zm-48-22h3v3h-3zm22 36h3v3h-3zm-20-38h3v3h-3zm-4 24h3v3h-3zm5 2h3v3h-3zm29 11h3v3h-3zm12-38h3v3h-3zm-30 6h3v3h-3zm19 23h3v3h-3zm-18 13h3v3h-3zm31-47h3v3h-3zm10-7h3v3h-3zm-46 11h3v3h-3zm14 1h3v3h-3zm-10 5h3v3h-3zm24-17h3v3h-3zm2 2h3v3h-3zm-6 3h3v3h-3zm-20 48h3v3h-3zm24-11h3v3h-3zm-38 8h3v3h-3zm29-44h3v3h-3zm9 0h3v3h-3zm0-1h3v3h-3zm8 29h3v3h-3zm-12 12h3v3h-3zm15-34h3v3h-3zm-3 15h3v3h-3zm0-5h3v3h-3zm-6 13h3v3h-3zm-19-18h3v3h-3zm16 25h3v3h-3zm-13 9h3v3h-3zm-3-1h3v3h-3zm1-10h3v3h-3zm3 1h3v3h-3zm11 3h3v3h-3zm-34 3h3v3h-3zm44-15h3v3h-3zm-34 20h3v3h-3zm11-54h3v3h-3zm-14 25h3v3h-3zm0 0h3v3h-3zm32-16h3v3h-3zm3 19h3v3h-3zm-9 15h3v3h-3zm3-35h3v3h-3zm11 13h3v3h-3zm-44 30h3v3h-3zm34-11h3v3h-3zm-42-9h3v3h-3zm34 19h3v3h-3zm4-8h3v3h-3zm-39-1h3v3h-3zm10-16h3v3h-3zm10-8h3v3h-3zm29 10h3v3h-3zm-22 26h3v3h-3zm-19-25h3v3h-3zm21 8h3v3h-3zm-11 16h3v3h-3zm-9-30h3v3h-3zm29 21h3v3h-3zm-8 9h3v3h-3zm-29-9h3v3h-3zm5-14h3v3h-3zm34 14h3v3h-3zm-32-18h3v3h-3zm16-12h3v3h-3zm27 14h3v3h-3zm-6 12h3v3h-3zm-27-20h3v3h-3zm9-10h3v3h-3zm24 20h3v3h-3zm-31-24h3v3h-3zm-4 51h3v3h-3zm12-41h3v3h-3zm-22 37h3v3h-3zm-6-18h3v3h-3zm38-27h3v3h-3zm-25 49h3v3h-3zm23-42h3v3h-3zm-13 41h3v3h-3zm22-47h3v3h-3zm-39 44h3v3h-3zm0-25h3v3h-3zm-2 6h3v3h-3zm36 13h3v3h-3zm-10-39h3v3h-3zm2 43h3v3h-3zm-28-21h3v3h-3zm40 13h3v3h-3zm2-3h3v3h-3zm6-20h3v3h-3zm-42 19h3v3h-3zm1-10h3v3h-3zm16 25h3v3h-3zm30-21h3v3h-3zm-24 29h3v3h-3zm-31-14h3v3h-3zm46 8h3v3h-3zm6-35h3v3h-3zm-53 15h3v3h-3zm-6 9h3v3h-3zm15-33h3v3h-3zm-10 19h3v3h-3zm20-14h3v3h-3zm-20 19h3v3h-3zm51-16h3v3h-3zm-17 27h3v3h-3zm-31 7h3v3h-3zm19-43h3v3h-3zm-17 24h3v3h-3zm-4-2h3v3h-3zm2 19h3v3h-3zm42-22h3v3h-3zm-34-3h3v3h-3zm40-18h3v3h-3zm-42 15h3v3h-3zm-9 12h3v3h-3zm33 14h3v3h-3zm17-21h3v3h-3zm-3-22h3v3h-3zm-30 12h3v3h-3z"/><path fill="#f9a848" d="M400 586h3v3h-3zm15-19h3v3h-3zm2-2h3v3h-3zm-9 17h3v3h-3zm-3 2h3v3h-3zm17-19h3v3h-3zm-41 44h3v3h-3zm1-5h3v3h-3zm31-33h3v3h-3zm6-3h3v3h-3zm-31 34h3v3h-3zm1 6h3v3h-3zm-4 2h3v3h-3zm-1-6h3v3h-3zm14-8h3v3h-3zm8-15h3v3h-3zm-3 1h3v3h-3zm6 9h3v3h-3zm-6-6h3v3h-3zm-4-5h3v3h-3zm20-4h3v3h-3zm-24 22h3v3h-3zm22-28h3v3h-3zm-30 35h3v3h-3zm3-8h3v3h-3zm16-16h3v3h-3zm-14 21h3v3h-3zm26-28h3v3h-3zm-38 33h3v3h-3zm25-23h3v3h-3zm13-9h3v3h-3zm-35 14h3v3h-3zm18-10h3v3h-3zm-17 26h3v3h-3zm6-7h3v3h-3zm1-6h3v3h-3z"/><path fill="#fde28c" fill-opacity="0.8" d="M412 535 424 523 444 522 456 528 460 541 456 558 450 573 438 580 424 576 415 567 409 553Z"/><path fill="#fde28c" d="M412 538h3v3h-3zm2 17h3v3h-3zm19-30h3v3h-3zm-23 35h3v3h-3zm45-34h3v3h-3zm-41 17h3v3h-3zm35 30h3v3h-3zm-25-47h3v3h-3zm23-3h3v3h-3zm-37 12h3v3h-3zm19-11h3v3h-3zm-6 3h3v3h-3zm-12 30h3v3h-3zm3-13h3v3h-3zm10-24h3v3h-3zm5 7h3v3h-3zm10 51h3v3h-3zm-20-9h3v3h-3zm14-45h3v3h-3zm22 7h3v3h-3zm-7-3h3v3h-3zm-26-4h3v3h-3zm-10 27h3v3h-3zm6 15h3v3h-3zm34 0h3v3h-3zm-42-18h3v3h-3zm4-9h3v3h-3zm2 20h3v3h-3zm36-33h3v3h-3zm-7 48h3v3h-3zm-27-46h3v3h-3zm40 14h3v3h-3zm-3-9h3v3h-3zm-6 30h3v3h-3zm7-5h3v3h-3zm-7 8h3v3h-3zm-26-37h3v3h-3zm-9 24h3v3h-3zm13 22h3v3h-3zm31-33h3v3h-3zm-43-4h3v3h-3zm29 37h3v3h-3zm-15-52h3v3h-3zm14-1h3v3h-3zm-7 3h3v3h-3zm12 3h3v3h-3zm-36 28h3v3h-3zm43-6h3v3h-3zm3 7h3v3h-3zm2-17h3v3h-3zm-5-3h3v3h-3zm-41 8h3v3h-3zm23 30h3v3h-3zm-23-29h3v3h-3zm31 29h3v3h-3zm15-42h3v3h-3zm-26-12h3v3h-3zm-8 5h3v3h-3zm33 15h3v3h-3zm-1-4h3v3h-3zm-29-13h3v3h-3zm13 52h3v3h-3zm-28-23h3v3h-3zm-1-12h3v3h-3zm37 24h3v3h-3zm-8-41h3v3h-3zm12 7h3v3h-3zm-24 48h3v3h-3zm-19-34h3v3h-3zm20 30h3v3h-3zm-20-20h3v3h-3zm-2 2h3v3h-3zm45 3h3v3h-3zm2-28h3v3h-3zm-45 14h3v3h-3zm45-7h3v3h-3zm-18 41h3v3h-3zm-2-53h3v3h-3zm-18 36h3v3h-3zm26 13h3v3h-3zm-22-3h3v3h-3zm13 4h3v3h-3zm-16-48h3v3h-3zm-1 4h3v3h-3zm32-7h3v3h-3zm-27 44h3v3h-3zm26-27h3v3h-3zm-35 4h3v3h-3zm-4-8h3v3h-3zm44 9h3v3h-3zm-38-8h3v3h-3zm37 14h3v3h-3zm5-18h3v3h-3zm-46 8h3v3h-3zm0 14h3v3h-3zm9 12h3v3h-3zm-10-26h3v3h-3zm47-5h3v3h-3zm-10 31h3v3h-3zm-34-23h3v3h-3zm27-25h3v3h-3zm-21 52h3v3h-3zm15 2h3v3h-3zm18-10h3v3h-3zm-35-33h3v3h-3zm2 33h3v3h-3zm21-41h3v3h-3zm6-2h3v3h-3zm8 37h3v3h-3zm-30 16h3v3h-3zm6-2h3v3h-3zm17-4h3v3h-3zm-5-41h3v3h-3zm-27 35h3v3h-3zm13-39h3v3h-3zm16 51h3v3h-3zm13-38h3v3h-3zm-4 24h3v3h-3zm-15 14h3v3h-3zm-6 1h3v3h-3zm22-40h3v3h-3zm0 22h3v3h-3zm-1-8h3v3h-3zm-41 11h3v3h-3zm38-36h3v3h-3zm-13 18h3v3h-3zm16 13h3v3h-3zm-22-30h3v3h-3zm-8 46h3v3h-3zm35-27h3v3h-3zm-3-1h3v3h-3zm-28 29h3v3h-3zm14 4h3v3h-3zm-10-52h3v3h-3zm23 10h3v3h-3zm-26-9h3v3h-3zm-13 8h3v3h-3zm38 28h3v3h-3zm-27-39h3v3h-3zm21 45h3v3h-3zm-38-13h3v3h-3zm22-32h3v3h-3zm15 0h3v3h-3zm-27 7h3v3h-3zm28 39h3v3h-3zm-32-42h3v3h-3zm-7 16h3v3h-3zm31 34h3v3h-3zm14-9h3v3h-3zm3-20h3v3h-3zm-48 7h3v3h-3zm42 5h3v3h-3zm7-12h3v3h-3zm-6 18h3v3h-3zm-38-4h3v3h-3zm43-26h3v3h-3zm-43 12h3v3h-3zm17 26h3v3h-3zm-15-4h3v3h-3zm-3-10h3v3h-3zm21-14h3v3h-3zm20 5h3v3h-3zm5 8h3v3h-3zm-32 15h3v3h-3zm-6-48h3v3h-3zm-1 53h3v3h-3zm27-11h3v3h-3zm-20 7h3v3h-3zm2-3h3v3h-3zm22 0h3v3h-3zm-36-46h3v3h-3zm-6 15h3v3h-3zm17 12h3v3h-3zm-4-39h3v3h-3zm6 10h3v3h-3zm-4 49h3v3h-3zm26-12h3v3h-3zm-33 9h3v3h-3zm36-45h3v3h-3zm-22 19h3v3h-3zm-1 42h3v3h-3zm-8-61h3v3h-3zm33 29h3v3h-3zm-1 5h3v3h-3zm-27-34h3v3h-3zm28 33h3v3h-3zm-47-3h3v3h-3zm35-13h3v3h-3zm-4-19h3v3h-3zm-11 3h3v3h-3zm-7 46h3v3h-3zm-4-11h3v3h-3zm16 13h3v3h-3zm16-5h3v3h-3zm-37-22h3v3h-3zm11-23h3v3h-3zm39 50h3v3h-3zm-5-39h3v3h-3zm0 14h3v3h-3zm-14-30h3v3h-3zm12 14h3v3h-3zm3 12h3v3h-3zm-27 34h3v3h-3zm0-3h3v3h-3zm-17-16h3v3h-3zm33 14h3v3h-3zm-28-46h3v3h-3zm39-3h3v3h-3zm-33-1h3v3h-3zm14-3h3v3h-3zm9 50h3v3h-3zm-20-40h3v3h-3zm-4-12h3v3h-3zm-2 5h3v3h-3zm-22-12h3v3h-3zm3-1h3v3h-3zm-2 3h3v3h-3zm2 5h3v3h-3zm6-15h3v3h-3zm13 9h3v3h-3zm-11 12h3v3h-3zm8-23h3v3h-3zm-6 0h3v3h-3zm-8 4h3v3h-3zm26-4h3v3h-3zm-21 23h3v3h-3zm-11-16h3v3h-3zm23-8h3v3h-3zm-24 22h3v3h-3zm26-21h3v3h-3zm-20 5h3v3h-3zm21 17h3v3h-3zm-2-4h3v3h-3zm-23-8h3v3h-3zm2 0h3v3h-3zm21-3h3v3h-3zm-12 29h3v3h-3zm14-20h3v3h-3zm-8-18h3v3h-3zm-20 18h3v3h-3zm18-16h3v3h-3zm-13 13h3v3h-3zm-2 9h3v3h-3zm22-6h3v3h-3zm-11 13h3v3h-3zm15-25h3v3h-3zm-4 14h3v3h-3zm-4 4h3v3h-3zm-6 9h3v3h-3zm-15-14h3v3h-3zm4-10h3v3h-3zm10-5h3v3h-3z"/><path fill="#fdc25f" fill-opacity="0.85" d="M450 529 465 528 476 538 479 558 476 576 468 588 453 588 444 579 450 564 457 544Z"/><path fill="#fdc25f" d="M450 583h3v3h-3zm29-25h3v3h-3zm-13 24h3v3h-3zm6-44h3v3h-3zm-25 42h3v3h-3zm9 7h3v3h-3zm31-28h3v3h-3zm-38 20h3v3h-3zm25-4h3v3h-3zm-1-34h3v3h-3zm-2 41h3v3h-3zm3-12h3v3h-3zm-21-32h3v3h-3zm6 14h3v3h-3zm14-11h3v3h-3zm-13 3h3v3h-3zm-8 40h3v3h-3zm16-52h3v3h-3zm8 40h3v3h-3zm-2-32h3v3h-3zm-24 30h3v3h-3zm16-36h3v3h-3zm-10 15h3v3h-3zm20-6h3v3h-3zm-7-10h3v3h-3zm-13 20h3v3h-3zm16 24h3v3h-3zm-8 3h3v3h-3zm7-44h3v3h-3zm-15 1h3v3h-3zm11-5h3v3h-3zm-10 54h3v3h-3zm-2-33h3v3h-3zm-1-19h3v3h-3zm0-3h3v3h-3zm22 41h3v3h-3zm2-16h3v3h-3zm-22-3h3v3h-3zm-1 2h3v3h-3zm15 29h3v3h-3zm-13-41h3v3h-3zm19 19h3v3h-3zm-28 14h3v3h-3zm24-40h3v3h-3zm1 0h3v3h-3zm-19 48h3v3h-3zm-5-15h3v3h-3zm23 7h3v3h-3zm-21-14h3v3h-3zm-2 10h3v3h-3zm-3 8h3v3h-3zm22 1h3v3h-3zm-19-5h3v3h-3zm29 3h3v3h-3zm-22 5h3v3h-3zm-6-37h3v3h-3zm31 15h3v3h-3zm-16 21h3v3h-3zm-14 1h3v3h-3zm0-4h3v3h-3zm15-47h3v3h-3zm9 47h3v3h-3zm-24-12h3v3h-3zm-2 13h3v3h-3zm1-10h3v3h-3zm8-40h3v3h-3zm-4 28h3v3h-3zm1-30h3v3h-3zm-2 6h3v3h-3zm7 49h3v3h-3zm0-39h3v3h-3zm15 24h3v3h-3zm-20-31h3v3h-3zm4 49h3v3h-3zm-6-18h3v3h-3zm2-37h3v3h-3zm-1 29h3v3h-3zm-1 24h3v3h-3zm8 4h3v3h-3zm4-59h3v3h-3zm6-6h3v3h-3zm-6 9h3v3h-3zm1 17h3v3h-3zm3-20h3v3h-3zm-9 56h3v3h-3zm-11-26h3v3h-3zm8-6h3v3h-3zm16 16h3v3h-3zm2-13h3v3h-3zm-23-22h3v3h-3zm26 23h3v3h-3zm-1 1h3v3h-3zm-31 21h3v3h-3zm13-36h3v3h-3zm14 31h3v3h-3zm-15-27h3v3h-3zm-8 27h3v3h-3zm0-3h3v3h-3zm18 15h3v3h-3zm-9-40h3v3h-3zm12 35h3v3h-3zm-21-19h3v3h-3zm24-25h3v3h-3zm5 14h3v3h-3zm-10 32h3v3h-3zm-1-11h3v3h-3zm2 15h3v3h-3zm2-53h3v3h-3zm-20-3h3v3h-3zm1 26h3v3h-3zm15 26h3v3h-3zm-2-53h3v3h-3zm-10 13h3v3h-3zm2 43h3v3h-3zm12-9h3v3h-3zm5-21h3v3h-3zm-16-8h3v3h-3zm12 29h3v3h-3zm-11-14h3v3h-3zm-16-26h3v3h-3zm34 24h3v3h-3zm-28 9h3v3h-3zm3 12h3v3h-3zm-7-14h3v3h-3zm17-41h3v3h-3zm11 19h3v3h-3zm-7-15h3v3h-3zm-22 51h3v3h-3zm8-23h3v3h-3zm21 6h3v3h-3zm-21-36h3v3h-3zm22 19h3v3h-3zm-19-12h3v3h-3zm21 29h3v3h-3zm2-9h3v3h-3zm-29-30h3v3h-3zm7 19h3v3h-3zm-12 20h3v3h-3zm28-22h3v3h-3zm-14 16h3v3h-3zm21 3h3v3h-3zm-22-12h3v3h-3zm-1 33h3v3h-3zm0-44h3v3h-3zm3 46h3v3h-3zm14-15h3v3h-3zm0-1h3v3h-3zm-4 11h3v3h-3zm3-40h3v3h-3zm-18-4h3v3h-3zm21 7h3v3h-3zm-24-5h3v3h-3zm3 2h3v3h-3zm-3 30h3v3h-3zm-6 1h3v3h-3zm14-41h3v3h-3zm-2 17h3v3h-3zm22 5h3v3h-3zm-2-10h3v3h-3zm-5 43h3v3h-3zm4-19h3v3h-3zm1-18h3v3h-3zm-23-15h3v3h-3zm11 51h3v3h-3zm12-28h3v3h-3zm-25-20h3v3h-3zm21 31h3v3h-3zm3-14h3v3h-3zm-26-20h3v3h-3zm2 49h3v3h-3zm21-9h3v3h-3zm-3-23h3v3h-3zm-3 36h3v3h-3zm-14-21h3v3h-3zm21-13h3v3h-3zm-19 41h3v3h-3zm1-41h3v3h-3zm-3 8h3v3h-3z"/><path fill="#f98a2a" fill-opacity="0.9" d="M479 523 491 519 503 526 508 538 544 547 546 567 538 588 520 593 503 588 491 573 482 555 478 538Z"/><path fill="#f98a2a" d="M525 587h3v3h-3zm-38-26h3v3h-3zm-5-38h3v3h-3zm-2 16h3v3h-3zm25-9h3v3h-3zm-25 10h3v3h-3zm57 38h3v3h-3zm-49-12h3v3h-3zm14-33h3v3h-3zm-11-15h3v3h-3zm-6 44h3v3h-3zm37-23h3v3h-3zm-20 45h3v3h-3zm-7-13h3v3h-3zm55-26h3v3h-3zm-48-22h3v3h-3zm-16 33h3v3h-3zm43 1h3v3h-3zm-49-34h3v3h-3zm64 50h3v3h-3zm-57-7h3v3h-3zm42-21h3v3h-3zm-44 13h3v3h-3zm67-4h3v3h-3zm-24 33h3v3h-3zm-34-38h3v3h-3zm-14-11h3v3h-3zm27 51h3v3h-3zm-6-62h3v3h-3zm-8 36h3v3h-3zm-4-43h3v3h-3zm8 8h3v3h-3zm-12 23h3v3h-3zm-2-4h3v3h-3zm64 6h3v3h-3zm-33 38h3v3h-3zm-11-4h3v3h-3zm-5-42h3v3h-3zm31 43h3v3h-3zm-48-47h3v3h-3zm52 44h3v3h-3zm-42-15h3v3h-3zm54-24h3v3h-3zm-17-7h3v3h-3zm-16 48h3v3h-3zm-24-65h3v3h-3zm31 69h3v3h-3zm24-28h3v3h-3zm-35-21h3v3h-3zm34 12h3v3h-3zm-3 21h3v3h-3zm-56-29h3v3h-3zm1 8h3v3h-3zm2-29h3v3h-3zm57 42h3v3h-3zm-43-40h3v3h-3zm-14-4h3v3h-3zm28 21h3v3h-3zm-27-22h3v3h-3zm-7 38h3v3h-3zm49-25h3v3h-3zm3 20h3v3h-3zm-57-17h3v3h-3zm15 28h3v3h-3zm53 9h3v3h-3zm0-4h3v3h-3zm-5 5h3v3h-3zm4-5h3v3h-3zm-63-36h3v3h-3zm33 6h3v3h-3zm21 46h3v3h-3zm-12-46h3v3h-3zm-13-1h3v3h-3zm34 14h3v3h-3zm-45 41h3v3h-3zm45-40h3v3h-3zm-52 7h3v3h-3zm6-40h3v3h-3zm48 39h3v3h-3zm-4-12h3v3h-3zm-32 39h3v3h-3zm-22-32h3v3h-3zm55-7h3v3h-3zm-8 38h3v3h-3zm-13 2h3v3h-3zm-21-13h3v3h-3zm-23-34h3v3h-3zm19 31h3v3h-3zm-17-47h3v3h-3zm23-2h3v3h-3zm-1 58h3v3h-3zm7-42h3v3h-3zm-5 44h3v3h-3zm-10-34h3v3h-3zm20 15h3v3h-3zm-26-24h3v3h-3zm0-19h3v3h-3zm30 70h3v3h-3zm-13-58h3v3h-3zm39 14h3v3h-3zm-1 9h3v3h-3zm-46 18h3v3h-3zm9-42h3v3h-3zm-22 15h3v3h-3zm64 17h3v3h-3zm-27 31h3v3h-3zm-41-51h3v3h-3zm61 38h3v3h-3zm-58-35h3v3h-3zm59-4h3v3h-3zm-35-16h3v3h-3zm-19 35h3v3h-3zm16-8h3v3h-3zm42 9h3v3h-3zm-34-28h3v3h-3zm26 7h3v3h-3zm-49-20h3v3h-3zm-8 6h3v3h-3zm25 3h3v3h-3zm37 19h3v3h-3zm-51 8h3v3h-3zm31-15h3v3h-3zm25-1h3v3h-3zm-42-9h3v3h-3zm16 39h3v3h-3zm7 21h3v3h-3zm-45-41h3v3h-3zm17-26h3v3h-3zm-7-9h3v3h-3zm12 11h3v3h-3zm38 27h3v3h-3zm12 0h3v3h-3zm-70-35h3v3h-3zm6 70h3v3h-3zm52-47h3v3h-3zm-29 48h3v3h-3zm-31-56h3v3h-3zm53 50h3v3h-3zm-52-38h3v3h-3zm40 30h3v3h-3zm6-35h3v3h-3zm-1-1h3v3h-3zm-25-16h3v3h-3zm-4 1h3v3h-3zm-18 19h3v3h-3zm23-16h3v3h-3zm-16 38h3v3h-3zm-3-47h3v3h-3zm2 36h3v3h-3zm33-13h3v3h-3zm-28 21h3v3h-3zm9-37h3v3h-3zm31 59h3v3h-3zm-5-43h3v3h-3zm-11 48h3v3h-3zm-22-19h3v3h-3zm53-4h3v3h-3zm-14 24h3v3h-3zm-18-46h3v3h-3zm1 48h3v3h-3zm6-51h3v3h-3zm-36 17h3v3h-3zm55-4h3v3h-3zm3 11h3v3h-3zm1-11h3v3h-3zm-17 33h3v3h-3zm13-9h3v3h-3zm-3-35h3v3h-3zm-2 2h3v3h-3zm-27-8h3v3h-3zm-15 34h3v3h-3zm27 17h3v3h-3zm-18-57h3v3h-3zm38 45h3v3h-3zm-1-5h3v3h-3zm-55-17h3v3h-3zm56-11h3v3h-3zm-43 30h3v3h-3zm47-12h3v3h-3zm-40-24h3v3h-3zm32 50h3v3h-3zm-54-33h3v3h-3zm4 0h3v3h-3zm1-38h3v3h-3zm10 8h3v3h-3zm-6 42h3v3h-3zm-8-32h3v3h-3zm56 37h3v3h-3zm-50-46h3v3h-3zm-11 13h3v3h-3zm39 1h3v3h-3zm24 5h3v3h-3zm-61 13h3v3h-3zm66-1h3v3h-3zm-39-21h3v3h-3zm0 42h3v3h-3zm28 2h3v3h-3zm18-13h3v3h-3zm-17 13h3v3h-3zm-56-56h3v3h-3zm62 28h3v3h-3zm-43 24h3v3h-3zm-19-40h3v3h-3zm1-3h3v3h-3zm3 16h3v3h-3zm18-16h3v3h-3zm41 32h3v3h-3zm-52-1h3v3h-3zm-12-35h3v3h-3zm48 56h3v3h-3zm-4-43h3v3h-3zm-22-14h3v3h-3zm40 46h3v3h-3zm-16 15h3v3h-3zm20-27h3v3h-3zm-21-20h3v3h-3zm0 2h3v3h-3zm-29-7h3v3h-3zm46 19h3v3h-3zm2-1h3v3h-3zm-4-20h3v3h-3zm-1 44h3v3h-3zm-60-26h3v3h-3zm59 32h3v3h-3zm-53-64h3v3h-3zm29 65h3v3h-3zm-1 1h3v3h-3zm-3-3h3v3h-3zm20-42h3v3h-3zm14 23h3v3h-3zm-21 21h3v3h-3zm-23-6h3v3h-3zm-17-55h3v3h-3zm6 45h3v3h-3zm50 8h3v3h-3zm-62-39h3v3h-3zm64 17h3v3h-3zm-2-9h3v3h-3zm-48-28h3v3h-3zm48 23h3v3h-3zm-37 26h3v3h-3zm-14-47h3v3h-3zm51 27h3v3h-3zm-13-4h3v3h-3zm-29 29h3v3h-3zm-6-7h3v3h-3zm39 20h3v3h-3zm-13 0h3v3h-3zm-20-64h3v3h-3zm-1 10h3v3h-3zm-18 21h3v3h-3zm24 25h3v3h-3zm2 6h3v3h-3zm-4-7h3v3h-3zm-12-12h3v3h-3zm34-22h3v3h-3zm20 13h3v3h-3zm-23 34h3v3h-3zm-26-69h3v3h-3zm-7 1h3v3h-3zm57 49h3v3h-3zm-9-30h3v3h-3zm-48-22h3v3h-3zm11 54h3v3h-3zm17-35h3v3h-3z"/><path fill="#f47421" fill-opacity="0.9" d="M479 567 503 564 526 573 535 593 520 605 503 608 485 599 476 585Z"/><path fill="#f47421" d="M490 566h3v3h-3zm-10 22h3v3h-3zm32 16h3v3h-3zm-1 4h3v3h-3zm-13-4h3v3h-3zm32-13h3v3h-3zm2 2h3v3h-3zm-9 7h3v3h-3zm-30 1h3v3h-3zm33-29h3v3h-3zm-28-4h3v3h-3zm-9 29h3v3h-3zm41-19h3v3h-3zm-43-7h3v3h-3zm38 2h3v3h-3zm-42 18h3v3h-3zm44-6h3v3h-3zm3 1h3v3h-3zm-44 7h3v3h-3zm2 4h3v3h-3zm43-2h3v3h-3zm-58-9h3v3h-3zm51 18h3v3h-3zm4-24h3v3h-3zm-33 20h3v3h-3zm17-30h3v3h-3zm1-2h3v3h-3zm-4 3h3v3h-3zm21 8h3v3h-3zm-7-2h3v3h-3zm-20-14h3v3h-3zm26 33h3v3h-3zm-45-1h3v3h-3zm26-24h3v3h-3zm-31 17h3v3h-3zm36-18h3v3h-3zm0-3h3v3h-3zm-20 14h3v3h-3zm33 21h3v3h-3zm-6-2h3v3h-3zm7-2h3v3h-3zm-10 5h3v3h-3zm-46-26h3v3h-3zm49 29h3v3h-3zm-7-33h3v3h-3zm3-4h3v3h-3zm-34-2h3v3h-3zm19 29h3v3h-3zm-14 1h3v3h-3zm3-6h3v3h-3zm-3 8h3v3h-3zm14 5h3v3h-3zm22-30h3v3h-3zm-9 1h3v3h-3zm3 26h3v3h-3zm-11-32h3v3h-3zm7-2h3v3h-3zm-30 28h3v3h-3zm18-31h3v3h-3zm-14 37h3v3h-3zm14 3h3v3h-3zm-23-25h3v3h-3zm6 19h3v3h-3zm3-29h3v3h-3zm6-5h3v3h-3zm-9 32h3v3h-3zm4 3h3v3h-3zm-9-15h3v3h-3zm1-12h3v3h-3zm0-2h3v3h-3zm3 22h3v3h-3zm15-24h3v3h-3zm3-4h3v3h-3zm-20 7h3v3h-3zm22 35h3v3h-3zm-23-35h3v3h-3zm41 3h3v3h-3zm-38-8h3v3h-3zm-3 25h3v3h-3zm-4-4h3v3h-3zm50 6h3v3h-3zm3 1h3v3h-3zm-16 10h3v3h-3zm-39-22h3v3h-3zm7 12h3v3h-3zm52-1h3v3h-3zm-47-21h3v3h-3zm26 1h3v3h-3zm-32 1h3v3h-3zm38-1h3v3h-3zm-39 23h3v3h-3zm2 3h3v3h-3zm38-26h3v3h-3zm3 28h3v3h-3zm-20-34h3v3h-3zm-10 2h3v3h-3zm-13 21h3v3h-3zm46 9h3v3h-3zm-24-10h3v3h-3zm24-12h3v3h-3zm-3 0h3v3h-3zm5 21h3v3h-3zm-34-29h3v3h-3zm-17 8h3v3h-3zm8 17h3v3h-3zm5 7h3v3h-3zm-6-32h3v3h-3zm-8 16h3v3h-3zm45 19h3v3h-3zm-28-34h3v3h-3zm17 2h3v3h-3zm-29-5h3v3h-3zm17 1h3v3h-3zm21 4h3v3h-3zm-28 26h3v3h-3zm26-3h3v3h-3zm11-10h3v3h-3zm-28-17h3v3h-3zm4 9h3v3h-3zm21 23h3v3h-3zm-4 1h3v3h-3zm-31-2h3v3h-3zm36-20h3v3h-3zm-25 24h3v3h-3zm25-17h3v3h-3zm-22-17h3v3h-3zm22 7h3v3h-3zm-2-2h3v3h-3zm-8 33h3v3h-3zm1-36h3v3h-3zm-19 31h3v3h-3zm-4-27h3v3h-3zm-21-5h3v3h-3zm40 32h3v3h-3zm-36-32h3v3h-3zm43 24h3v3h-3zm4-15h3v3h-3zm-37-11h3v3h-3zm9-1h3v3h-3zm-20 15h3v3h-3zm19-15h3v3h-3zm23 3h3v3h-3zm-40 14h3v3h-3zm3 9h3v3h-3zm-8-9h3v3h-3zm57 14h3v3h-3zm-11 4h3v3h-3zm-41-33h3v3h-3zm9-1h3v3h-3zm9 27h3v3h-3zm12 8h3v3h-3zm-1-24h3v3h-3zm5 27h3v3h-3zm-35-28h3v3h-3zm55 5h3v3h-3zm-40-15h3v3h-3zm18 37h3v3h-3zm0-34h3v3h-3zm-26 26h3v3h-3zm37 6h3v3h-3zm-2-32h3v3h-3zm-37-3h3v3h-3zm17-2h3v3h-3zm19 39h3v3h-3zm4-29h3v3h-3zm5 6h3v3h-3zm-44 15h3v3h-3zm33 13h3v3h-3z"/><path fill="#31a354" fill-opacity="0.9" d="M512 540 526 535 544 536 554 544 553 558 542 561 526 556 512 550Z"/><path fill="#31a354" d="M513 554h3v3h-3zm29 7h3v3h-3zm-25-19h3v3h-3zm24 16h3v3h-3zm-8-3h3v3h-3zm12-8h3v3h-3zm-30 2h3v3h-3zm13 7h3v3h-3zm14-21h3v3h-3zm5 6h3v3h-3zm-28 11h3v3h-3zm-3-1h3v3h-3zm4-5h3v3h-3zm17 13h3v3h-3zm7 1h3v3h-3zm6-6h3v3h-3zm1 3h3v3h-3zm2-2h3v3h-3zm-27 2h3v3h-3zm-9-18h3v3h-3zm34 8h3v3h-3zm3-1h3v3h-3zm-26 10h3v3h-3zm1-18h3v3h-3zm2 1h3v3h-3zm14 19h3v3h-3zm7 8h3v3h-3zm-10-28h3v3h-3zm-31 14h3v3h-3zm39-11h3v3h-3zm4 0h3v3h-3zm-23-1h3v3h-3zm-13 12h3v3h-3zm9-2h3v3h-3zm1 7h3v3h-3zm15-2h3v3h-3zm-24-16h3v3h-3zm12 17h3v3h-3zm19-9h3v3h-3zm-11 9h3v3h-3zm-15 3h3v3h-3zm-2-22h3v3h-3zm28 7h3v3h-3zm-33 6h3v3h-3zm2 3h3v3h-3zm37 13h3v3h-3zm-3-7h3v3h-3zm-15-23h3v3h-3zm-6 0h3v3h-3zm-14 3h3v3h-3zm-5 6h3v3h-3zm25-8h3v3h-3zm-13-1h3v3h-3zm26 13h3v3h-3zm-15 8h3v3h-3zm8-18h3v3h-3zm-28 9h3v3h-3zm14 8h3v3h-3zm-15-6h3v3h-3zm1-4h3v3h-3zm25 5h3v3h-3zm3-9h3v3h-3zm-28-1h3v3h-3zm13-4h3v3h-3zm-17 4h3v3h-3zm28 16h3v3h-3zm6-14h3v3h-3zm7 2h3v3h-3zm-8 13h3v3h-3zm-24-6h3v3h-3zm-5-11h3v3h-3zm8-8h3v3h-3zm25 29h3v3h-3zm-30-10h3v3h-3zm30-10h3v3h-3zm-40 2h3v3h-3zm33-5h3v3h-3zm11 16h3v3h-3zm-14 3h3v3h-3zm11-19h3v3h-3zm-4-4h3v3h-3zm-27-4h3v3h-3zm1 8h3v3h-3zm-9 7h3v3h-3zm44 13h3v3h-3zm-16-23h3v3h-3zm-11 18h3v3h-3zm-12-5h3v3h-3zm11 6h3v3h-3zm17 7h3v3h-3zm-2-4h3v3h-3zm-27-15h3v3h-3zm29-4h3v3h-3zm-9 20h3v3h-3zm-23-6h3v3h-3zm36 4h3v3h-3zm-19-19h3v3h-3zm-8 13h3v3h-3zm0 2h3v3h-3zm14-14h3v3h-3zm-20 15h3v3h-3zm31-15h3v3h-3zm-2-3h3v3h-3zm-25 13h3v3h-3zm17-12h3v3h-3zm-12 2h3v3h-3zm20-1h3v3h-3zm-6 19h3v3h-3zm-24-11h3v3h-3zm38-6h3v3h-3zm-7-4h3v3h-3zm-20 16h3v3h-3zm5 6h3v3h-3zm0-19h3v3h-3zm-12-1h3v3h-3zm34 19h3v3h-3zm-35-5h3v3h-3zm16 5h3v3h-3zm-20-20h3v3h-3zm32-1h3v3h-3zm-2 0h3v3h-3zm8 12h3v3h-3zm-28 10h3v3h-3zm11-25h3v3h-3zm10 30h3v3h-3zm-20-11h3v3h-3zm33-1h3v3h-3zm-35-10h3v3h-3zm30 2h3v3h-3zm-18 12h3v3h-3zm9 9h3v3h-3zm-32-22h3v3h-3zm8 7h3v3h-3z"/><path fill="#f0461a" fill-opacity="0.9" d="M474 596 494 594 512 604 526 622 536 640 532 660 518 662 502 654 486 654 466 650 457 638 460 624 472 610Z"/><path fill="#f0461a" d="M532 657h3v3h-3zm-69-19h3v3h-3zm73 2h3v3h-3zm-44 0h3v3h-3zm30-22h3v3h-3zm2 29h3v3h-3zm-59-25h3v3h-3zm21-27h3v3h-3zm20 10h3v3h-3zm-7-7h3v3h-3zm-8-2h3v3h-3zm29 15h3v3h-3zm-6-3h3v3h-3zm7-10h3v3h-3zm-46 26h3v3h-3zm44 36h3v3h-3zm-39-16h3v3h-3zm41 15h3v3h-3zm3 0h3v3h-3zm-55-40h3v3h-3zm58 1h3v3h-3zm-1 37h3v3h-3zm-52-45h3v3h-3zm60 26h3v3h-3zm1 14h3v3h-3zm-9 6h3v3h-3zm-11 7h3v3h-3zm-46-13h3v3h-3zm51-41h3v3h-3zm14 25h3v3h-3zm-58-36h3v3h-3zm32 53h3v3h-3zm-33-56h3v3h-3zm1 12h3v3h-3zm-16 32h3v3h-3zm0 1h3v3h-3zm43 12h3v3h-3zm-37-38h3v3h-3zm1 31h3v3h-3zm6-32h3v3h-3zm61 42h3v3h-3zm-18 2h3v3h-3zm-54-16h3v3h-3zm44-40h3v3h-3zm-44 28h3v3h-3zm20-33h3v3h-3zm-4-1h3v3h-3zm27 54h3v3h-3zm28-2h3v3h-3zm-25 8h3v3h-3zm-34-56h3v3h-3zm56 56h3v3h-3zm2-26h3v3h-3zm1-1h3v3h-3zm-21-24h3v3h-3zm-38-6h3v3h-3zm36 55h3v3h-3zm3-45h3v3h-3zm-54 23h3v3h-3zm37 19h3v3h-3zm-9-2h3v3h-3zm-13-42h3v3h-3zm-23 14h3v3h-3zm26-16h3v3h-3zm-16 32h3v3h-3zm31 18h3v3h-3zm-19-51h3v3h-3zm33 0h3v3h-3zm-7-5h3v3h-3zm-36 27h3v3h-3zm50-18h3v3h-3zm-26-11h3v3h-3zm-8 54h3v3h-3zm2 0h3v3h-3zm51-8h3v3h-3zm-55 4h3v3h-3zm41-35h3v3h-3zm-49 4h3v3h-3zm68 29h3v3h-3zm-5 7h3v3h-3zm-61-53h3v3h-3zm29 55h3v3h-3zm10-2h3v3h-3zm23-13h3v3h-3zm-53 12h3v3h-3zm42-8h3v3h-3zm10-1h3v3h-3zm-25-39h3v3h-3zm-3 50h3v3h-3zm-43-12h3v3h-3zm51 13h3v3h-3zm-21-5h3v3h-3zm-22-8h3v3h-3zm62 7h3v3h-3zm-62 9h3v3h-3zm36-54h3v3h-3zm-8-4h3v3h-3zm14 54h3v3h-3zm21-4h3v3h-3zm-58 0h3v3h-3zm-4-36h3v3h-3zm-2 34h3v3h-3zm48 11h3v3h-3zm-15-57h3v3h-3zm-39 27h3v3h-3zm44 27h3v3h-3zm13 2h3v3h-3zm-60-37h3v3h-3zm68 38h3v3h-3zm-62-10h3v3h-3zm10-41h3v3h-3zm57 33h3v3h-3zm2 19h3v3h-3zm-32-63h3v3h-3zm20 22h3v3h-3zm-1 39h3v3h-3zm-57-32h3v3h-3zm43-10h3v3h-3zm6 41h3v3h-3zm7-42h3v3h-3zm-45-5h3v3h-3zm-14 14h3v3h-3zm16-35h3v3h-3zm49 33h3v3h-3zm-45-25h3v3h-3zm55 49h3v3h-3zm-24-41h3v3h-3zm-51 23h3v3h-3zm73 13h3v3h-3zm-20-29h3v3h-3zm-35-14h3v3h-3zm-6 14h3v3h-3zm59 37h3v3h-3zm-38 8h3v3h-3zm-16-6h3v3h-3zm35-42h3v3h-3zm-36-4h3v3h-3zm56 35h3v3h-3zm-39-46h3v3h-3zm-35 37h3v3h-3zm36-33h3v3h-3zm40 49h3v3h-3zm-11 10h3v3h-3zm2-38h3v3h-3zm3 15h3v3h-3zm2-2h3v3h-3zm-70 0h3v3h-3zm0-1h3v3h-3zm-3-8h3v3h-3zm6-2h3v3h-3zm4-6h3v3h-3zm24 37h3v3h-3zm-7-55h3v3h-3zm11-2h3v3h-3zm17 61h3v3h-3zm-27-62h3v3h-3zm28 15h3v3h-3zm-57 33h3v3h-3zm6-17h3v3h-3zm3-2h3v3h-3zm45 37h3v3h-3zm21-3h3v3h-3zm-13-38h3v3h-3zm-15-17h3v3h-3zm-28 48h3v3h-3zm-14-26h3v3h-3zm68 1h3v3h-3zm-46-27h3v3h-3zm47 41h3v3h-3zm-36-24h3v3h-3zm9-11h3v3h-3zm28 44h3v3h-3zm-25-49h3v3h-3zm-40 19h3v3h-3zm-5 30h3v3h-3zm71-6h3v3h-3zm-29-40h3v3h-3zm-45 19h3v3h-3zm14-12h3v3h-3zm8-14h3v3h-3zm35 19h3v3h-3zm-41-2h3v3h-3zm21 44h3v3h-3zm-5-60h3v3h-3zm13 6h3v3h-3zm-3 15h3v3h-3zm-8-20h3v3h-3zm36 37h3v3h-3zm-64-15h3v3h-3zm57 39h3v3h-3zm-38-4h3v3h-3zm6-2h3v3h-3zm1-1h3v3h-3zm-32-10h3v3h-3zm71 20h3v3h-3zm-45-30h3v3h-3zm-20 12h3v3h-3zm36-42h3v3h-3zm-23 36h3v3h-3zm23 21h3v3h-3zm-30-52h3v3h-3zm-6 39h3v3h-3zm50-27h3v3h-3zm-43-4h3v3h-3zm38 16h3v3h-3zm1-29h3v3h-3zm-40 1h3v3h-3zm45 58h3v3h-3zm5 0h3v3h-3zm6-7h3v3h-3zm-34-59h3v3h-3zm23 18h3v3h-3zm-29-13h3v3h-3zm4-5h3v3h-3zm25 50h3v3h-3zm-52-24h3v3h-3zm70 25h3v3h-3zm-41 5h3v3h-3zm13-49h3v3h-3zm28 44h3v3h-3zm-9-23h3v3h-3zm-14 36h3v3h-3zm-46-39h3v3h-3zm31-16h3v3h-3zm-9-6h3v3h-3zm35 27h3v3h-3zm1-5h3v3h-3zm-22-23h3v3h-3zm0 6h3v3h-3zm19 57h3v3h-3zm-60-21h3v3h-3zm71 8h3v3h-3zm-70-26h3v3h-3zm61 5h3v3h-3zm-53 21h3v3h-3zm16-52h3v3h-3zm46 63h3v3h-3zm-22-2h3v3h-3zm-21-2h3v3h-3zm-6-1h3v3h-3zm-9-51h3v3h-3zm-10 28h3v3h-3zm51 29h3v3h-3zm-51-30h3v3h-3zm61-2h3v3h-3zm-16 31h3v3h-3zm-9-7h3v3h-3zm29 10h3v3h-3zm-5-42h3v3h-3zm7 17h3v3h-3zm-50 14h3v3h-3zm53-8h3v3h-3zm-44-43h3v3h-3zm22 57h3v3h-3zm7-57h3v3h-3zm-59 36h3v3h-3zm37 20h3v3h-3zm9-51h3v3h-3zm-18-8h3v3h-3zm9-1h3v3h-3zm31 29h3v3h-3zm-13 34h3v3h-3zm-27-44h3v3h-3zm40 14h3v3h-3zm-17-2h3v3h-3zm-38-20h3v3h-3zm46 13h3v3h-3zm-18-23h3v3h-3zm33 55h3v3h-3zm-27-44h3v3h-3zm-44 34h3v3h-3zm38-43h3v3h-3zm12 58h3v3h-3zm-51-15h3v3h-3zm22 14h3v3h-3zm-27-14h3v3h-3zm17 8h3v3h-3zm-10-42h3v3h-3zm38-8h3v3h-3zm-33 50h3v3h-3zm67-5h3v3h-3zm25-8h3v3h-3zm-25-23h3v3h-3zm20 7h3v3h-3zm-25 25h3v3h-3zm34 6h3v3h-3zm-34-7h3v3h-3zm28-21h3v3h-3zm-28-6h3v3h-3zm-2 2h3v3h-3zm8-3h3v3h-3zm0 1h3v3h-3zm-3-5h3v3h-3zm8 48h3v3h-3zm-13-36h3v3h-3zm10 26h3v3h-3zm25 1h3v3h-3zm-24 13h3v3h-3zm-6-50h3v3h-3zm2 32h3v3h-3zm0-8h3v3h-3zm18 19h3v3h-3zm-26-29h3v3h-3zm12 29h3v3h-3zm13-2h3v3h-3zm-22-30h3v3h-3zm5-9h3v3h-3zm28 23h3v3h-3zm-16-21h3v3h-3zm-17 20h3v3h-3zm1-27h3v3h-3zm-6 4h3v3h-3zm27 10h3v3h-3zm9 18h3v3h-3zm1-3h3v3h-3zm-16 15h3v3h-3zm-16-20h3v3h-3zm-1-17h3v3h-3zm1 15h3v3h-3zm23 20h3v3h-3zm-13-33h3v3h-3z"/><path fill="#1a8a3e" fill-opacity="0.9" d="M503 664 517 666 526 681 523 696 517 693 508 681Z"/><path fill="#1a8a3e" d="M525 687h3v3h-3zm-19-18h3v3h-3zm8-1h3v3h-3zm5 10h3v3h-3zm2 11h3v3h-3zm-13 4h3v3h-3zm4-9h3v3h-3zm9 5h3v3h-3zm-2-22h3v3h-3zm4 28h3v3h-3zm1-25h3v3h-3zm-4 18h3v3h-3zm-6-21h3v3h-3zm-6 4h3v3h-3zm0 26h3v3h-3zm-2-30h3v3h-3zm1 1h3v3h-3zm6 15h3v3h-3zm4-9h3v3h-3zm-4 17h3v3h-3zm2-8h3v3h-3zm-8-18h3v3h-3zm-10 5h3v3h-3zm17-1h3v3h-3zm9 25h3v3h-3zm8-28h3v3h-3zm-23 14h3v3h-3zm9-17h3v3h-3zm3 26h3v3h-3zm-23-24h3v3h-3zm21 25h3v3h-3zm-4 8h3v3h-3zm-2-32h3v3h-3zm-2 19h3v3h-3zm11 10h3v3h-3zm-6-12h3v3h-3zm-2 9h3v3h-3zm-7-27h3v3h-3zm17 22h3v3h-3zm-16-18h3v3h-3zm-6-3h3v3h-3zm18 26h3v3h-3zm-10-24h3v3h-3zm14 14h3v3h-3zm-8-17h3v3h-3zm0 18h3v3h-3zm2-10h3v3h-3zm4 15h3v3h-3zm-11-7h3v3h-3zm11-13h3v3h-3zm4 8h3v3h-3zm-14 9h3v3h-3zm15-3h3v3h-3zm-21 8h3v3h-3zm3-12h3v3h-3zm6 4h3v3h-3zm2 11h3v3h-3zm8-14h3v3h-3zm-17-9h3v3h-3zm11-1h3v3h-3zm-2-2h3v3h-3zm6 11h3v3h-3zm-1 11h3v3h-3zm2-12h3v3h-3zm4 1h3v3h-3zm-22-9h3v3h-3zm-4-4h3v3h-3zm19 6h3v3h-3zm-11 4h3v3h-3zm-3-3h3v3h-3zm13 20h3v3h-3z"/><path fill="#ee1111" fill-opacity="0.9" d="M578 620 588 628 600 644 610 660 606 668 592 672 576 674 562 672 560 660 566 640Z"/><path fill="#ee1111" d="M603 650h3v3h-3zm-41 20h3v3h-3zm16-5h3v3h-3zm-4 10h3v3h-3zm17-41h3v3h-3zm-12 45h3v3h-3zm14-37h3v3h-3zm3 2h3v3h-3zm0 23h3v3h-3zm11-6h3v3h-3zm-32-33h3v3h-3zm0 1h3v3h-3zm28 22h3v3h-3zm-38 7h3v3h-3zm2-8h3v3h-3zm24 19h3v3h-3zm6-25h3v3h-3zm-14-18h3v3h-3zm6 7h3v3h-3zm-24 41h3v3h-3zm21-46h3v3h-3zm11 39h3v3h-3zm-23-32h3v3h-3zm16 40h3v3h-3zm2-5h3v3h-3zm-31-12h3v3h-3zm7-16h3v3h-3zm-4 18h3v3h-3zm31-17h3v3h-3zm-11 28h3v3h-3zm-21-22h3v3h-3zm34 18h3v3h-3zm-26-32h3v3h-3zm-8 37h3v3h-3zm11 0h3v3h-3zm-2 1h3v3h-3zm14-57h3v3h-3zm-28 44h3v3h-3zm20-36h3v3h-3zm27 42h3v3h-3zm-31-33h3v3h-3zm-12 36h3v3h-3zm30-34h3v3h-3zm-15-9h3v3h-3zm25 27h3v3h-3zm-39 15h3v3h-3zm28-35h3v3h-3zm-16-6h3v3h-3zm-7 17h3v3h-3zm-6 1h3v3h-3zm5 0h3v3h-3zm45 15h3v3h-3zm-30-39h3v3h-3zm26 19h3v3h-3zm-22 28h3v3h-3zm7-28h3v3h-3zm-13 30h3v3h-3zm-20-7h3v3h-3zm40 6h3v3h-3zm-39-9h3v3h-3zm16 16h3v3h-3zm-16-13h3v3h-3zm2 2h3v3h-3zm14-35h3v3h-3zm-4 1h3v3h-3zm10-5h3v3h-3zm22 30h3v3h-3zm-42 18h3v3h-3zm3-21h3v3h-3zm3-8h3v3h-3zm26-4h3v3h-3zm-21 29h3v3h-3zm3-8h3v3h-3zm28 0h3v3h-3zm-13-10h3v3h-3zm11-1h3v3h-3zm-5 18h3v3h-3zm-8-1h3v3h-3zm10 0h3v3h-3zm-28-32h3v3h-3zm-1 0h3v3h-3zm21 36h3v3h-3zm-27-19h3v3h-3zm44 14h3v3h-3zm-22-40h3v3h-3zm-22 48h3v3h-3zm6-36h3v3h-3zm23 29h3v3h-3zm12-9h3v3h-3zm-28 13h3v3h-3zm15 1h3v3h-3zm-14 1h3v3h-3zm-16-4h3v3h-3zm33 1h3v3h-3zm-12-50h3v3h-3zm-6 14h3v3h-3zm29 28h3v3h-3zm-49 17h3v3h-3zm6-25h3v3h-3zm10-29h3v3h-3zm-4 40h3v3h-3zm11-40h3v3h-3zm-2 1h3v3h-3zm18 13h3v3h-3zm-18 30h3v3h-3zm12 0h3v3h-3zm-20 3h3v3h-3zm-6-2h3v3h-3zm12 2h3v3h-3zm2 0h3v3h-3zm16-29h3v3h-3zm2 0h3v3h-3zm-32 3h3v3h-3zm31-7h3v3h-3zm-9 33h3v3h-3zm-2-3h3v3h-3zm-18-55h3v3h-3zm31 34h3v3h-3zm9 15h3v3h-3zm-22 7h3v3h-3zm-15-31h3v3h-3zm6-11h3v3h-3zm27 40h3v3h-3zm-2-20h3v3h-3zm-28-15h3v3h-3zm22 5h3v3h-3zm-1-2h3v3h-3zm-5-3h3v3h-3zm-20 4h3v3h-3zm41 18h3v3h-3zm-29-33h3v3h-3zm-13 22h3v3h-3zm21-8h3v3h-3zm6 33h3v3h-3zm-2 3h3v3h-3zm-9-1h3v3h-3zm-16-27h3v3h-3zm-3-4h3v3h-3zm-2 32h3v3h-3zm10-42h3v3h-3zm10-5h3v3h-3zm-21 19h3v3h-3zm46 7h3v3h-3zm-39 18h3v3h-3zm13-49h3v3h-3zm21 33h3v3h-3zm-15 17h3v3h-3zm-20-2h3v3h-3zm35-14h3v3h-3zm-31 14h3v3h-3zm32-15h3v3h-3zm-39-14h3v3h-3zm17-16h3v3h-3zm-18 44h3v3h-3zm10-36h3v3h-3zm-8 37h3v3h-3zm-5-9h3v3h-3zm44-3h3v3h-3zm-20-29h3v3h-3zm20 39h3v3h-3zm-36 3h3v3h-3zm28-2h3v3h-3zm0 6h3v3h-3zm-20-51h3v3h-3zm-15 50h3v3h-3zm21-4h3v3h-3zm-4 0h3v3h-3zm13 0h3v3h-3zm-6-37h3v3h-3zm-15 41h3v3h-3zm-12-11h3v3h-3zm17-40h3v3h-3zm-11 21h3v3h-3zm33 0h3v3h-3zm-9 28h3v3h-3zm-2-48h3v3h-3zm4 13h3v3h-3zm-28 16h3v3h-3zm14-25h3v3h-3zm16 41h3v3h-3zm6-13h3v3h-3zm-10-21h3v3h-3zm11 16h3v3h-3zm-33-10h3v3h-3zm20-8h3v3h-3zm16 36h3v3h-3zm-27-38h3v3h-3zm-4-2h3v3h-3zm31 29h3v3h-3zm-33 13h3v3h-3zm18-1h3v3h-3zm0-23h3v3h-3zm-16 27h3v3h-3zm-3-30h3v3h-3zm4-10h3v3h-3zm19 7h3v3h-3zm-30 9h3v3h-3zm21 20h3v3h-3zm4 5h3v3h-3zm-3-48h3v3h-3zm19 31h3v3h-3z"/><path fill="#5a0b52" fill-opacity="0.9" d="M346 738 364 741 373 736 387 750 393 764 405 779 408 788 399 788 387 779 378 773 370 761 358 750 349 744Z"/><path fill="#5a0b52" d="M360 754h3v3h-3zm4-4h3v3h-3zm-7-4h3v3h-3zm51 43h3v3h-3zm-44-35h3v3h-3zm2-17h3v3h-3zm-15 7h3v3h-3zm52 35h3v3h-3zm-1-1h3v3h-3zm-43-36h3v3h-3zm-10 8h3v3h-3zm34 21h3v3h-3zm-2 5h3v3h-3zm-22-38h3v3h-3zm-5 5h3v3h-3zm41 37h3v3h-3zm-30-26h3v3h-3zm14 15h3v3h-3zm23 16h3v3h-3zm-10-24h3v3h-3zm-32-18h3v3h-3zm-10-1h3v3h-3zm17 12h3v3h-3zm-15-9h3v3h-3zm35 14h3v3h-3zm-31-9h3v3h-3zm11 26h3v3h-3zm-12-36h3v3h-3zm1 7h3v3h-3zm29 6h3v3h-3zm-26-1h3v3h-3zm6 6h3v3h-3zm11 13h3v3h-3zm25 16h3v3h-3zm-34-45h3v3h-3zm9 27h3v3h-3zm-28-28h3v3h-3zm54 34h3v3h-3zm-56-38h3v3h-3zm34 3h3v3h-3zm3 35h3v3h-3zm0-31h3v3h-3zm-3-2h3v3h-3zm16 33h3v3h-3zm-30-34h3v3h-3zm5-2h3v3h-3zm34 47h3v3h-3zm-7-4h3v3h-3zm-36-30h3v3h-3zm25 11h3v3h-3zm3 20h3v3h-3zm-17-43h3v3h-3zm19 24h3v3h-3zm-5 6h3v3h-3zm-26-27h3v3h-3zm31 39h3v3h-3zm-4-6h3v3h-3zm-1-18h3v3h-3zm2 0h3v3h-3zm-8-14h3v3h-3zm20 43h3v3h-3zm-13-32h3v3h-3zm3 13h3v3h-3zm14 16h3v3h-3zm-14-3h3v3h-3zm-27-44h3v3h-3zm42 52h3v3h-3zm-31-19h3v3h-3zm23 17h3v3h-3zm-13-36h3v3h-3zm-25-21h3v3h-3zm28 49h3v3h-3zm-15-19h3v3h-3zm10-12h3v3h-3zm14 26h3v3h-3zm-35-20h3v3h-3zm14 11h3v3h-3zm31 19h3v3h-3zm-36-45h3v3h-3zm14 12h3v3h-3zm19 36h3v3h-3zm-34-46h3v3h-3zm27 29h3v3h-3zm-26-12h3v3h-3zm-20-13h3v3h-3zm37 16h3v3h-3zm3-2h3v3h-3zm-1 3h3v3h-3zm10 14h3v3h-3zm-21-31h3v3h-3zm-4 24h3v3h-3zm-2 0h3v3h-3zm26 20h3v3h-3zm-13-16h3v3h-3zm-26-20h3v3h-3zm7 5h3v3h-3zm-1-5h3v3h-3zm26 15h3v3h-3zm6 5h3v3h-3zm-40-27h3v3h-3zm6 9h3v3h-3zm22 21h3v3h-3zm-26-30h3v3h-3zm44 36h3v3h-3zm-54-37h3v3h-3zm54 42h3v3h-3zm5-21h3v3h-3zm-9 3h3v3h-3zm-9-2h3v3h-3zm-37-23h3v3h-3zm-1 0h3v3h-3zm13 10h3v3h-3zm-3-2h3v3h-3zm3-13h3v3h-3zm22 16h3v3h-3zm16 24h3v3h-3zm-19-26h3v3h-3zm8 29h3v3h-3zm5 4h3v3h-3zm-7-31h3v3h-3zm-6-1h3v3h-3zm4 7h3v3h-3zm2-4h3v3h-3zm-20 2h3v3h-3zm36 26h3v3h-3zm-56-43h3v3h-3zm41 37h3v3h-3zm-16-38h3v3h-3zm5 33h3v3h-3zm-22-18h3v3h-3zm15 8h3v3h-3zm-11-21h3v3h-3zm39 41h3v3h-3zm12 0h3v3h-3zm-37-21h3v3h-3zm12 12h3v3h-3zm-24-21h3v3h-3zm22 6h3v3h-3zm-42-22h3v3h-3zm37 32h3v3h-3zm-18-17h3v3h-3zm26 1h3v3h-3zm3 29h3v3h-3zm-46-40h3v3h-3zm21 11h3v3h-3zm36 31h3v3h-3zm2-3h3v3h-3zm-30-11h3v3h-3zm12 3h3v3h-3zm-5 3h3v3h-3zm26 13h3v3h-3zm-18-33h3v3h-3zm-39-18h3v3h-3zm10 10h3v3h-3zm26 1h3v3h-3zm-21-10h3v3h-3zm-17 4h3v3h-3zm22-5h3v3h-3zm24 35h3v3h-3zm-42-30h3v3h-3zm45 22h3v3h-3zm4 4h3v3h-3zm-49-23h3v3h-3zm32 2h3v3h-3zm11 41h3v3h-3zm-44-45h3v3h-3zm-7-3h3v3h-3zm38 30h3v3h-3zm-22-23h3v3h-3zm7 8h3v3h-3zm14-6h3v3h-3zm8 9h3v3h-3zm-30-11h3v3h-3zm41 35h3v3h-3zm-8-5h3v3h-3zm-4-20h3v3h-3zm4 25h3v3h-3zm-36-34h3v3h-3zm30 6h3v3h-3zm-20-17h3v3h-3zm25 28h3v3h-3zm-26-12h3v3h-3zm28 31h3v3h-3zm-20-18h3v3h-3zm-4-32h3v3h-3zm26 36h3v3h-3zm-43-25h3v3h-3zm30 28h3v3h-3zm15 0h3v3h-3zm-36-32h3v3h-3zm-4 4h3v3h-3zm-6-2h3v3h-3z"/><path fill="#7c0f70" fill-opacity="0.9" d="M416 729 431 723 441 715 446 729 443 750 454 764 463 776 457 785 446 799 443 808 434 799 425 793 419 785 422 767 413 750Z"/><path fill="#7c0f70" d="M416 749h3v3h-3zm2-8h3v3h-3zm-1-4h3v3h-3zm35 24h3v3h-3zm-30 19h3v3h-3zm20 15h3v3h-3zm-27-43h3v3h-3zm42 18h3v3h-3zm-6-4h3v3h-3zm-31-11h3v3h-3zm40 23h3v3h-3zm-15-24h3v3h-3zm-29-9h3v3h-3zm44 28h3v3h-3zm-25 25h3v3h-3zm-20-65h3v3h-3zm29 12h3v3h-3zm8 43h3v3h-3zm-34-30h3v3h-3zm37 9h3v3h-3zm-34-36h3v3h-3zm4 55h3v3h-3zm20-64h3v3h-3zm-26 19h3v3h-3zm26 0h3v3h-3zm-4 9h3v3h-3zm4 12h3v3h-3zm13 11h3v3h-3zm-4 13h3v3h-3zm-37-46h3v3h-3zm29 16h3v3h-3zm-13-30h3v3h-3zm4 38h3v3h-3zm-9 28h3v3h-3zm17 6h3v3h-3zm13-17h3v3h-3zm-24-60h3v3h-3zm30 55h3v3h-3zm-43-12h3v3h-3zm19-16h3v3h-3zm-14-22h3v3h-3zm-2 39h3v3h-3zm17-50h3v3h-3zm11 71h3v3h-3zm-37-45h3v3h-3zm26-23h3v3h-3zm-17 55h3v3h-3zm16-28h3v3h-3zm2-9h3v3h-3zm-26 12h3v3h-3zm37 17h3v3h-3zm-12-42h3v3h-3zm-17 54h3v3h-3zm-7-37h3v3h-3zm29 53h3v3h-3zm-27-22h3v3h-3zm12-44h3v3h-3zm30 44h3v3h-3zm-35-8h3v3h-3zm-1 1h3v3h-3zm-4-35h3v3h-3zm31 41h3v3h-3zm-26-45h3v3h-3zm10-1h3v3h-3zm20 45h3v3h-3zm-7-8h3v3h-3zm12 17h3v3h-3zm-9-15h3v3h-3zm-12-45h3v3h-3zm-3 84h3v3h-3zm-11-64h3v3h-3zm18 5h3v3h-3zm-1 3h3v3h-3zm18 26h3v3h-3zm-15 26h3v3h-3zm-23-24h3v3h-3zm10-51h3v3h-3zm8 20h3v3h-3zm10 21h3v3h-3zm1 26h3v3h-3zm-12-38h3v3h-3zm-7 46h3v3h-3zm-5-69h3v3h-3zm37 47h3v3h-3zm-37-47h3v3h-3zm10 75h3v3h-3zm-20-55h3v3h-3zm-3 0h3v3h-3zm27 6h3v3h-3zm-6 47h3v3h-3zm-18-65h3v3h-3zm20 68h3v3h-3zm2-89h3v3h-3zm-13 82h3v3h-3zm23-10h3v3h-3zm-24-2h3v3h-3zm1-14h3v3h-3zm6 23h3v3h-3zm10 9h3v3h-3zm-1-63h3v3h-3zm-6-20h3v3h-3zm-15 39h3v3h-3zm20-32h3v3h-3zm-17 3h3v3h-3zm-5 4h3v3h-3zm6-8h3v3h-3zm7 66h3v3h-3zm-8-6h3v3h-3zm-5-27h3v3h-3zm1-1h3v3h-3zm17 43h3v3h-3zm7-47h3v3h-3zm-3-28h3v3h-3zm10 66h3v3h-3zm3-24h3v3h-3zm-7 27h3v3h-3zm-3 3h3v3h-3zm-3 7h3v3h-3zm3-63h3v3h-3zm-26 12h3v3h-3zm25 47h3v3h-3zm-15-52h3v3h-3zm9-26h3v3h-3zm-20 27h3v3h-3zm1 1h3v3h-3zm39 17h3v3h-3zm-40-26h3v3h-3zm34-17h3v3h-3zm-9-1h3v3h-3zm2 70h3v3h-3zm-29-42h3v3h-3zm33 9h3v3h-3zm-15 8h3v3h-3zm19 19h3v3h-3zm-36-49h3v3h-3zm43 43h3v3h-3zm-23-52h3v3h-3zm5 3h3v3h-3zm18 20h3v3h-3zm-2 28h3v3h-3zm-11 13h3v3h-3zm1-38h3v3h-3zm-5-21h3v3h-3zm0-16h3v3h-3zm-20 66h3v3h-3zm36-17h3v3h-3zm-38-12h3v3h-3zm1 24h3v3h-3zm-1-52h3v3h-3zm13-11h3v3h-3zm27 57h3v3h-3zm-36 11h3v3h-3zm29-25h3v3h-3zm0 26h3v3h-3zm-4-23h3v3h-3zm2 28h3v3h-3zm-7-60h3v3h-3zm-15 16h3v3h-3zm-12-4h3v3h-3zm3 22h3v3h-3zm21-24h3v3h-3zm-15 48h3v3h-3zm-4-9h3v3h-3zm4-41h3v3h-3zm22 54h3v3h-3zm-10-39h3v3h-3zm-18 36h3v3h-3zm22-69h3v3h-3zm-25 21h3v3h-3zm29 70h3v3h-3zm-5-69h3v3h-3zm6 52h3v3h-3zm11-17h3v3h-3zm-29-51h3v3h-3zm11 27h3v3h-3zm-13 38h3v3h-3zm23-4h3v3h-3zm-4-51h3v3h-3zm12 44h3v3h-3zm-26-20h3v3h-3zm11-11h3v3h-3zm-20 29h3v3h-3zm19-45h3v3h-3zm-24 18h3v3h-3zm5 15h3v3h-3zm19 34h3v3h-3zm-25-50h3v3h-3zm21 51h3v3h-3zm10-46h3v3h-3zm-10-38h3v3h-3zm5 87h3v3h-3zm15-25h3v3h-3zm-41-34h3v3h-3zm12-20h3v3h-3zm-5 59h3v3h-3zm18-47h3v3h-3zm0 15h3v3h-3zm0-2h3v3h-3zm13 16h3v3h-3zm-1 0h3v3h-3zm-13-16h3v3h-3zm9-45h3v3h-3zm-7 33h3v3h-3zm9 20h3v3h-3zm-21 32h3v3h-3zm-8-67h3v3h-3zm17 12h3v3h-3zm0-15h3v3h-3zm4-1h3v3h-3zm-1 84h3v3h-3zm8-14h3v3h-3zm-10-37h3v3h-3zm-14-28h3v3h-3zm-12 18h3v3h-3zm10-17h3v3h-3zm-3 37h3v3h-3zm5 25h3v3h-3zm-3-26h3v3h-3zm15 38h3v3h-3zm-28-8h3v3h-3zm29-49h3v3h-3zm12 21h3v3h-3zm-22-38h3v3h-3zm-10 56h3v3h-3zm25 12h3v3h-3zm-4-77h3v3h-3zm-20 63h3v3h-3zm23 10h3v3h-3zm18-8h3v3h-3zm-10 11h3v3h-3zm-20-71h3v3h-3zm-13 7h3v3h-3zm-6 12h3v3h-3zm25-26h3v3h-3zm-2 86h3v3h-3z"/><path fill="#9c178b" fill-opacity="0.9" d="M340 811 349 799 361 796 373 808 384 817 378 828 364 834 352 828 340 823ZM336 808 346 796 360 794 374 806 386 816 380 828 364 834 350 828 338 822Z"/><path fill="#9c178b" d="M374 828h3v3h-3zm-34-14h3v3h-3zm12-14h3v3h-3zm26 21h3v3h-3zm-37-6h3v3h-3zm14-16h3v3h-3zm-1 33h3v3h-3zm2-31h3v3h-3zm-3-6h3v3h-3zm-1 44h3v3h-3zm-3-17h3v3h-3zm30-12h3v3h-3zm-28-11h3v3h-3zm15 2h3v3h-3zm10 24h3v3h-3zm3-7h3v3h-3zm-7-7h3v3h-3zm-11-13h3v3h-3zm-12 3h3v3h-3zm6 19h3v3h-3zm-3-18h3v3h-3zm13 1h3v3h-3zm-14 22h3v3h-3zm25 0h3v3h-3zm5-4h3v3h-3zm-37-5h3v3h-3zm20-13h3v3h-3zm-16 4h3v3h-3zm-3-2h3v3h-3zm28 25h3v3h-3zm-36-5h3v3h-3zm13-21h3v3h-3zm6-6h3v3h-3zm22 26h3v3h-3zm-37-2h3v3h-3zm11 3h3v3h-3zm5 1h3v3h-3zm-10-2h3v3h-3zm12 7h3v3h-3zm4-20h3v3h-3zm-10 20h3v3h-3zm22-4h3v3h-3zm-10-25h3v3h-3zm-21 18h3v3h-3zm30-5h3v3h-3zm-2 20h3v3h-3zm-33-3h3v3h-3zm34-24h3v3h-3zm-24-6h3v3h-3zm3 28h3v3h-3zm4-30h3v3h-3zm-1-1h3v3h-3zm20 28h3v3h-3zm-12 6h3v3h-3zm-5-8h3v3h-3zm-18-12h3v3h-3zm5-6h3v3h-3zm37 10h3v3h-3zm-7 14h3v3h-3zm-14-24h3v3h-3zm-13-2h3v3h-3zm21 2h3v3h-3zm-27 17h3v3h-3zm12-8h3v3h-3zm9 14h3v3h-3zm7-1h3v3h-3zm-24-26h3v3h-3zm-3 10h3v3h-3zm1 6h3v3h-3zm30-10h3v3h-3zm2 15h3v3h-3zm-35-2h3v3h-3zm31-5h3v3h-3zm-25-15h3v3h-3zm25 8h3v3h-3zm7 9h3v3h-3zm-22-12h3v3h-3zm-1-9h3v3h-3zm-7 29h3v3h-3zm35-7h3v3h-3zm-29 9h3v3h-3zm0-2h3v3h-3zm27-8h3v3h-3zm-33-19h3v3h-3zm0 5h3v3h-3zm23 4h3v3h-3zm-3 20h3v3h-3zm-2-21h3v3h-3zm-1 15h3v3h-3zm-2-22h3v3h-3zm-24 14h3v3h-3zm28-6h3v3h-3zm-18 18h3v3h-3zm-6-23h3v3h-3zm6-1h3v3h-3zm-4 21h3v3h-3zm0-18h3v3h-3zm17 27h3v3h-3zm1-2h3v3h-3zm-3-38h3v3h-3zm16 20h3v3h-3zm-32-13h3v3h-3zm17 2h3v3h-3zm-1-1h3v3h-3zm-19 11h3v3h-3zm4-1h3v3h-3zm6-12h3v3h-3zm-9 15h3v3h-3zm16 17h3v3h-3zm-5-4h3v3h-3zm-11-5h3v3h-3zm21 9h3v3h-3zm12-15h3v3h-3zm-19-16h3v3h-3zm7 32h3v3h-3zm-11-4h3v3h-3zm-3-27h3v3h-3zm-8 21h3v3h-3zm40-10h3v3h-3zm-23-11h3v3h-3zm-18 17h3v3h-3zm1-2h3v3h-3zm-2-18h3v3h-3zm12 8h3v3h-3zm12 28h3v3h-3zm7-24h3v3h-3zm0 17h3v3h-3zm-4 5h3v3h-3zm14 7h3v3h-3zm-6-9h3v3h-3zm-14-5h3v3h-3zm3-26h3v3h-3zm12 27h3v3h-3zm-35-5h3v3h-3zm27-13h3v3h-3zm-21 18h3v3h-3zm-2-23h3v3h-3zm27 2h3v3h-3zm4 23h3v3h-3zm-1 4h3v3h-3zm8-20h3v3h-3zm-24 12h3v3h-3zm22 5h3v3h-3zm-7-17h3v3h-3zm-27 13h3v3h-3zm28 1h3v3h-3zm-37-4h3v3h-3zm8 4h3v3h-3zm-10-13h3v3h-3zm4-3h3v3h-3zm1 6h3v3h-3zm0 5h3v3h-3zm30-3h3v3h-3zm-3 14h3v3h-3zm11-8h3v3h-3zm-7 9h3v3h-3zm-14-5h3v3h-3zm-28-4h3v3h-3zm8-15h3v3h-3zm33 12h3v3h-3zm10-4h3v3h-3zm-42 9h3v3h-3zm15-32h3v3h-3zm10 5h3v3h-3zm3-2h3v3h-3zm6 32h3v3h-3zm-32-17h3v3h-3zm-4 2h3v3h-3zm6-12h3v3h-3zm14-7h3v3h-3zm18 34h3v3h-3zm5-17h3v3h-3zm-40 1h3v3h-3zm7-13h3v3h-3zm-10 7h3v3h-3zm42 19h3v3h-3zm7-8h3v3h-3zm-43 2h3v3h-3zm25 9h3v3h-3zm-17-30h3v3h-3zm-1 29h3v3h-3zm30-12h3v3h-3zm-30 0h3v3h-3zm-12 3h3v3h-3zm4-13h3v3h-3zm7-12h3v3h-3zm31 27h3v3h-3zm2 2h3v3h-3zm-44-3h3v3h-3zm37 8h3v3h-3zm-6 2h3v3h-3zm-12-1h3v3h-3zm15-24h3v3h-3zm-10-6h3v3h-3zm-4-1h3v3h-3zm-20 21h3v3h-3zm17 11h3v3h-3zm-14-14h3v3h-3zm26 10h3v3h-3zm-22 2h3v3h-3zm12 2h3v3h-3zm-13-7h3v3h-3zm-6-9h3v3h-3zm-1-3h3v3h-3zm17-13h3v3h-3zm-4-2h3v3h-3zm-12 20h3v3h-3zm44 8h3v3h-3zm-42-3h3v3h-3zm33-13h3v3h-3zm-13 23h3v3h-3zm-22-26h3v3h-3zm35 5h3v3h-3zm9 11h3v3h-3zm-15 9h3v3h-3zm-3-33h3v3h-3zm-1 4h3v3h-3zm-9-5h3v3h-3zm0 1h3v3h-3zm29 29h3v3h-3zm-7-17h3v3h-3zm-4-7h3v3h-3zm12 15h3v3h-3zm-12-11h3v3h-3zm-26-6h3v3h-3zm-4 2h3v3h-3zm42 14h3v3h-3zm-19 16h3v3h-3zm-22-32h3v3h-3zm19 3h3v3h-3zm20 17h3v3h-3zm-26 3h3v3h-3zm-11 1h3v3h-3zm1-24h3v3h-3zm41 8h3v3h-3zm-42-5h3v3h-3zm38 16h3v3h-3zm-11 8h3v3h-3zm-15 2h3v3h-3zm-5-31h3v3h-3zm8-1h3v3h-3zm-14 1h3v3h-3zm9-4h3v3h-3zm19 16h3v3h-3zm9 10h3v3h-3zm-5-7h3v3h-3zm-18 17h3v3h-3zm-8-2h3v3h-3zm-15-10h3v3h-3zm28-4h3v3h-3zm23 5h3v3h-3zm-40-20h3v3h-3zm-10 11h3v3h-3zm4 13h3v3h-3zm23 9h3v3h-3zm17-22h3v3h-3zm-10 21h3v3h-3zm-33-16h3v3h-3zm42 2h3v3h-3zm-22-26h3v3h-3zm25 16h3v3h-3zm-10 24h3v3h-3zm-22-5h3v3h-3zm13 7h3v3h-3zm-10-37h3v3h-3zm21 31h3v3h-3zm-31-27h3v3h-3zm7-2h3v3h-3zm-5 0h3v3h-3zm1 0h3v3h-3zm-2 3h3v3h-3zm29 27h3v3h-3zm-9-29h3v3h-3zm19 18h3v3h-3zm-26 17h3v3h-3zm-17-8h3v3h-3zm28 4h3v3h-3zm-1 1h3v3h-3zm5-21h3v3h-3zm-5-4h3v3h-3zm-12-10h3v3h-3zm18 15h3v3h-3z"/><path fill="#f6c5f0" fill-opacity="0.9" d="M525 828 549 821 563 832 574 833 563 849 546 856 528 853ZM524 854 544 854 536 876 526 882Z"/><path fill="#f6c5f0" d="M532 852h3v3h-3zm16 3h3v3h-3zm-20-3h3v3h-3zm16-28h3v3h-3zm4 30h3v3h-3zm-11-3h3v3h-3zm18-7h3v3h-3zm-26-14h3v3h-3zm13 22h3v3h-3zm9-31h3v3h-3zm-20 8h3v3h-3zm40 6h3v3h-3zm-13 13h3v3h-3zm-31-7h3v3h-3zm26-13h3v3h-3zm3 1h3v3h-3zm-19-1h3v3h-3zm-9 14h3v3h-3zm29 6h3v3h-3zm-1 1h3v3h-3zm-17-23h3v3h-3zm13-2h3v3h-3zm19 16h3v3h-3zm-42 9h3v3h-3zm44-15h3v3h-3zm-44 11h3v3h-3zm0-4h3v3h-3zm-2-10h3v3h-3zm32 17h3v3h-3zm-29 2h3v3h-3zm32-15h3v3h-3zm-24 19h3v3h-3zm-1-26h3v3h-3zm3 21h3v3h-3zm23-1h3v3h-3zm-13-24h3v3h-3zm-15 26h3v3h-3zm-2-21h3v3h-3zm-1-3h3v3h-3zm40 11h3v3h-3zm-45-5h3v3h-3zm26 20h3v3h-3zm-23-16h3v3h-3zm8-10h3v3h-3zm22 22h3v3h-3zm-5-20h3v3h-3zm-22 22h3v3h-3zm35-6h3v3h-3zm3-6h3v3h-3zm-33 13h3v3h-3zm13-26h3v3h-3zm-19 4h3v3h-3zm3 21h3v3h-3zm-7-5h3v3h-3zm32-12h3v3h-3zm-20 24h3v3h-3zm-16-29h3v3h-3zm16-5h3v3h-3zm23 9h3v3h-3zm-8-6h3v3h-3zm-24-1h3v3h-3zm-5 23h3v3h-3zm30 2h3v3h-3zm-13-1h3v3h-3zm-2 4h3v3h-3zm-14-24h3v3h-3zm2 2h3v3h-3zm11-7h3v3h-3zm6-4h3v3h-3zm-13 33h3v3h-3zm-7 1h3v3h-3zm40-13h3v3h-3zm-23 13h3v3h-3zm-1-28h3v3h-3zm23 5h3v3h-3zm-36 2h3v3h-3zm5-6h3v3h-3zm3-2h3v3h-3zm0 26h3v3h-3zm30-13h3v3h-3zm-2 1h3v3h-3zm-37-9h3v3h-3zm36 19h3v3h-3zm-24 7h3v3h-3zm24-13h3v3h-3zm7-7h3v3h-3zm-39-8h3v3h-3zm35 4h3v3h-3zm-39-3h3v3h-3zm35 6h3v3h-3zm-24-14h3v3h-3zm2 2h3v3h-3zm0 29h3v3h-3zm16-5h3v3h-3zm-1-23h3v3h-3zm-8 0h3v3h-3zm-17 6h3v3h-3zm40 10h3v3h-3zm-48-8h3v3h-3zm27 16h3v3h-3zm-12-20h3v3h-3zm-12 7h3v3h-3zm9 14h3v3h-3zm31-11h3v3h-3zm1 7h3v3h-3zm2-10h3v3h-3zm-20 18h3v3h-3zm-16-3h3v3h-3zm19 2h3v3h-3zm-24-6h3v3h-3zm36-3h3v3h-3zm4-4h3v3h-3zm-40-13h3v3h-3zm41 17h3v3h-3zm-43-10h3v3h-3zm32-2h3v3h-3zm7 12h3v3h-3zm-28 9h3v3h-3zm27-7h3v3h-3zm-36-5h3v3h-3zm32-9h3v3h-3zm-28 19h3v3h-3zm35-9h3v3h-3zm-40 0h3v3h-3zm19-17h3v3h-3zm-4 0h3v3h-3zm-14 17h3v3h-3zm0 1h3v3h-3zm10 18h3v3h-3zm-2 7h3v3h-3zm-7 9h3v3h-3zm9-17h3v3h-3zm-9-4h3v3h-3zm-2 21h3v3h-3zm10-21h3v3h-3zm5 1h3v3h-3zm-25-1h3v3h-3zm10 11h3v3h-3zm2 3h3v3h-3zm13-12h3v3h-3zm-13 24h3v3h-3zm1-2h3v3h-3zm1-4h3v3h-3zm-7-16h3v3h-3zm-1 6h3v3h-3zm5-8h3v3h-3zm-1 18h3v3h-3zm12-12h3v3h-3zm3-9h3v3h-3zm-15 25h3v3h-3zm4-15h3v3h-3zm-3-9h3v3h-3zm13 14h3v3h-3zm4-13h3v3h-3zm-17 9h3v3h-3zm-6 13h3v3h-3zm11-23h3v3h-3zm7 6h3v3h-3zm-3 19h3v3h-3zm-1-14h3v3h-3zm2-10h3v3h-3zm-11 7h3v3h-3zm5 17h3v3h-3zm9-21h3v3h-3zm-3-2h3v3h-3zm-10 11h3v3h-3z"/><path fill="#efb1e8" fill-opacity="0.75" d="M468 968 484 948 500 926 514 904 524 888 532 882 540 866 544 860 540 880 528 904 516 924 500 948 484 972 474 980Z"/><path fill="#efb1e8" d="M521 912h3v3h-3zm-11 16h3v3h-3zm-41 51h3v3h-3zm70-105h3v3h-3zm-56 78h3v3h-3zm57-79h3v3h-3zm-53 94h3v3h-3zm36-70h3v3h-3zm2 8h3v3h-3zm9-31h3v3h-3zm-22 53h3v3h-3zm21-36h3v3h-3zm-7-2h3v3h-3zm-20 32h3v3h-3zm1-4h3v3h-3zm-8 9h3v3h-3zm33-31h3v3h-3zm-12 15h3v3h-3zm-20 12h3v3h-3zm28-25h3v3h-3zm-26 45h3v3h-3zm23-41h3v3h-3zm-15 11h3v3h-3zm7-7h3v3h-3zm2-10h3v3h-3zm2-1h3v3h-3zm-11 20h3v3h-3zm0 15h3v3h-3zm28-56h3v3h-3zm-21 42h3v3h-3zm-18 30h3v3h-3zm-5 5h3v3h-3zm39-63h3v3h-3zm-45 73h3v3h-3zm49-83h3v3h-3zm-2 11h3v3h-3zm-29 44h3v3h-3zm19-44h3v3h-3zm16-13h3v3h-3zm-43 69h3v3h-3zm-20 29h3v3h-3zm28-39h3v3h-3zm17-42h3v3h-3zm-33 47h3v3h-3zm35-56h3v3h-3zm11-9h3v3h-3zm-64 94h3v3h-3zm26-20h3v3h-3zm-24 25h3v3h-3zm65-96h3v3h-3zm-42 76h3v3h-3zm37-73h3v3h-3zm-38 52h3v3h-3zm-1-4h3v3h-3zm26-27h3v3h-3zm-48 56h3v3h-3zm-2 4h3v3h-3zm56-58h3v3h-3zm-10 3h3v3h-3zm7-4h3v3h-3zm11-19h3v3h-3zm-42 59h3v3h-3zm38-49h3v3h-3zm-34 40h3v3h-3zm30-35h3v3h-3zm-10 23h3v3h-3zm-42 41h3v3h-3zm69-90h3v3h-3zm-7 16h3v3h-3zm3-14h3v3h-3zm-54 64h3v3h-3zm27-9h3v3h-3zm-3-19h3v3h-3zm30-38h3v3h-3zm-69 101h3v3h-3zm0 1h3v3h-3zm51-100h3v3h-3zm-12 37h3v3h-3zm3 1h3v3h-3zm-21 26h3v3h-3zm-3 23h3v3h-3zm18-43h3v3h-3zm18-6h3v3h-3zm-44 41h3v3h-3zm59-73h3v3h-3zm-9 2h3v3h-3zm-29 70h3v3h-3zm14-32h3v3h-3zm-21 15h3v3h-3zm-21 40h3v3h-3zm45-59h3v3h-3zm30-63h3v3h-3zm-53 80h3v3h-3zm-29 35h3v3h-3zm38-44h3v3h-3zm22-35h3v3h-3zm-7 7h3v3h-3zm-1 20h3v3h-3zm11-18h3v3h-3zm1-10h3v3h-3zm8-12h3v3h-3zm-3 6h3v3h-3zm-25 33h3v3h-3zm16-25h3v3h-3zm-56 80h3v3h-3zm15-44h3v3h-3zm45-40h3v3h-3zm-2 3h3v3h-3zm-9 12h3v3h-3zm-23 29h3v3h-3zm-5 23h3v3h-3zm43-58h3v3h-3zm-19 4h3v3h-3zm25-26h3v3h-3zm-4 10h3v3h-3zm-25 47h3v3h-3zm-28 23h3v3h-3zm53-74h3v3h-3zm-35 51h3v3h-3zm-11 41h3v3h-3zm9-26h3v3h-3zm39-71h3v3h-3zm-18 19h3v3h-3zm-32 71h3v3h-3zm-10-8h3v3h-3zm51-71h3v3h-3zm-11 30h3v3h-3zm0-3h3v3h-3zm21-39h3v3h-3zm-23 27h3v3h-3zm6-6h3v3h-3zm-35 72h3v3h-3zm5-33h3v3h-3zm-9 19h3v3h-3zm57-87h3v3h-3zm-29 60h3v3h-3zm-24 20h3v3h-3zm-14 14h3v3h-3zm15-2h3v3h-3zm25-33h3v3h-3zm-20 36h3v3h-3zm-16 18h3v3h-3zm36-55h3v3h-3zm-36 34h3v3h-3zm11-14h3v3h-3zm25-35h3v3h-3zm-39 75h3v3h-3zm55-91h3v3h-3zm2-5h3v3h-3zm-39 71h3v3h-3zm39-65h3v3h-3zm-58 73h3v3h-3zm60-85h3v3h-3zm2-8h3v3h-3zm-19 28h3v3h-3zm-20 53h3v3h-3zm-28 11h3v3h-3zm60-65h3v3h-3zm5-13h3v3h-3zm-15 8h3v3h-3zm1 42h3v3h-3zm14-57h3v3h-3zm-29 41h3v3h-3zm15-8h3v3h-3zm-47 51h3v3h-3zm42-54h3v3h-3zm-3 20h3v3h-3zm-1-2h3v3h-3zm-28 22h3v3h-3zm49-59h3v3h-3zm8-15h3v3h-3zm-44 59h3v3h-3zm2 1h3v3h-3zm10-1h3v3h-3zm-5-11h3v3h-3zm-15 24h3v3h-3zm36-52h3v3h-3zm-29 38h3v3h-3zm6-28h3v3h-3zm14 12h3v3h-3zm-52 39h3v3h-3zm51-51h3v3h-3zm-1 20h3v3h-3zm12-25h3v3h-3zm6-7h3v3h-3zm-4-8h3v3h-3zm-40 81h3v3h-3zm-3-24h3v3h-3zm11-4h3v3h-3zm23-23h3v3h-3zm-1 4h3v3h-3zm8-36h3v3h-3zm-53 81h3v3h-3zm34-43h3v3h-3zm-14 19h3v3h-3zm32-53h3v3h-3zm6 11h3v3h-3zm11-22h3v3h-3zm-53 62h3v3h-3zm16-12h3v3h-3zm-31 51h3v3h-3zm8-8h3v3h-3zm22-28h3v3h-3zm-5 4h3v3h-3zm13-16h3v3h-3zm6-9h3v3h-3zm-20 28h3v3h-3zm-22 33h3v3h-3zm54-82h3v3h-3zm-39 64h3v3h-3zm5-27h3v3h-3zm4 17h3v3h-3zm4-12h3v3h-3zm29-46h3v3h-3zm4-10h3v3h-3zm-1 0h3v3h-3zm-15 29h3v3h-3zm-33 59h3v3h-3zm38-84h3v3h-3zm1-5h3v3h-3zm1 2h3v3h-3zm-13 36h3v3h-3zm0-23h3v3h-3zm-6 9h3v3h-3zm44-52h3v3h-3zm-33 39h3v3h-3zm6-4h3v3h-3zm-44 62h3v3h-3zm18-20h3v3h-3zm31-35h3v3h-3zm-19 46h3v3h-3zm13-56h3v3h-3zm-28 85h3v3h-3zm-21 5h3v3h-3zm3-1h3v3h-3zm43-60h3v3h-3zm-8-14h3v3h-3zm-5 36h3v3h-3zm4-12h3v3h-3zm22-47h3v3h-3zm-48 78h3v3h-3zm1-10h3v3h-3z"/><path fill="#e99ce0" fill-opacity="0.9" d="M432 892 456 880 484 864 504 850 516 856 504 872 476 888 452 900 436 904ZM428 948 452 932 480 910 504 892 518 882 524 890 508 904 486 922 460 944 440 960Z"/><path fill="#e99ce0" d="M434 894h3v3h-3zm2 17h3v3h-3zm11-10h3v3h-3zm42-41h3v3h-3zm-33 37h3v3h-3zm49-31h3v3h-3zm4-3h3v3h-3zm-6 8h3v3h-3zm-48 25h3v3h-3zm10-20h3v3h-3zm-29 22h3v3h-3zm36-27h3v3h-3zm31 10h3v3h-3zm-28-11h3v3h-3zm35-15h3v3h-3zm-30 15h3v3h-3zm17-10h3v3h-3zm-20 13h3v3h-3zm-39 20h3v3h-3zm29-15h3v3h-3zm-16 21h3v3h-3zm19-13h3v3h-3zm-5 7h3v3h-3zm14-9h3v3h-3zm-26 15h3v3h-3zm17-11h3v3h-3zm-7-12h3v3h-3zm19-9h3v3h-3zm8 15h3v3h-3zm-53 11h3v3h-3zm44-29h3v3h-3zm-1 18h3v3h-3zm-23 18h3v3h-3zm-13-13h3v3h-3zm-3 13h3v3h-3zm64-51h3v3h-3zm-15 15h3v3h-3zm-56 31h3v3h-3zm66-39h3v3h-3zm-14 25h3v3h-3zm-44 7h3v3h-3zm-2 18h3v3h-3zm78-53h3v3h-3zm-14 1h3v3h-3zm-69 44h3v3h-3zm27-20h3v3h-3zm43-29h3v3h-3zm-2 19h3v3h-3zm-3-15h3v3h-3zm-36 37h3v3h-3zm-19 11h3v3h-3zm3-3h3v3h-3zm61-34h3v3h-3zm-18 12h3v3h-3zm-54 17h3v3h-3zm-1-2h3v3h-3zm8 11h3v3h-3zm60-50h3v3h-3zm-13 26h3v3h-3zm-42 20h3v3h-3zm60-41h3v3h-3zm1 3h3v3h-3zm-57 40h3v3h-3zm-17-1h3v3h-3zm24-7h3v3h-3zm27-25h3v3h-3zm-27 11h3v3h-3zm10 12h3v3h-3zm-23-1h3v3h-3zm54-37h3v3h-3zm-19 13h3v3h-3zm-24 30h3v3h-3zm50-31h3v3h-3zm-45 5h3v3h-3zm12 5h3v3h-3zm18 4h3v3h-3zm15-16h3v3h-3zm-5-10h3v3h-3zm-3-3h3v3h-3zm-51 55h3v3h-3zm17-13h3v3h-3zm16-7h3v3h-3zm8-10h3v3h-3zm-1 2h3v3h-3zm16-2h3v3h-3zm-35-14h3v3h-3zm12 7h3v3h-3zm-46 27h3v3h-3zm47-26h3v3h-3zm37-19h3v3h-3zm-21 26h3v3h-3zm-12-9h3v3h-3zm-3-2h3v3h-3zm24-3h3v3h-3zm-71 37h3v3h-3zm1 6h3v3h-3zm21-23h3v3h-3zm-11 19h3v3h-3zm20-12h3v3h-3zm16-4h3v3h-3zm8-23h3v3h-3zm-5 3h3v3h-3zm7-4h3v3h-3zm-2 16h3v3h-3zm-25 14h3v3h-3zm-15-10h3v3h-3zm-1 8h3v3h-3zm59-32h3v3h-3zm-67 46h3v3h-3zm13-19h3v3h-3zm13 8h3v3h-3zm-27 11h3v3h-3zm69-50h3v3h-3zm1 8h3v3h-3zm-24 3h3v3h-3zm-26 17h3v3h-3zm-20 20h3v3h-3zm17-3h3v3h-3zm-3 1h3v3h-3zm-3-15h3v3h-3zm46-30h3v3h-3zm-5 6h3v3h-3zm11 6h3v3h-3zm-17-1h3v3h-3zm6 14h3v3h-3zm-42-8h3v3h-3zm19 19h3v3h-3zm16-24h3v3h-3zm-16 24h3v3h-3zm-34 7h3v3h-3zm3-6h3v3h-3zm50-12h3v3h-3zm3-17h3v3h-3zm-17 9h3v3h-3zm3 0h3v3h-3zm30-15h3v3h-3zm-71 46h3v3h-3zm48-38h3v3h-3zm7 18h3v3h-3zm-30 10h3v3h-3zm-23 12h3v3h-3zm26-11h3v3h-3zm-31 13h3v3h-3zm26-30h3v3h-3zm26-11h3v3h-3zm17-9h3v3h-3zm5 13h3v3h-3zm-30 1h3v3h-3zm15-10h3v3h-3zm6-9h3v3h-3zm-63 50h3v3h-3zm76-40h3v3h-3zm-40 30h3v3h-3zm-40 1h3v3h-3zm24-7h3v3h-3zm-23 21h3v3h-3zm9-18h3v3h-3zm35-4h3v3h-3zm-43 15h3v3h-3zm54-20h3v3h-3zm-17 8h3v3h-3zm-16-7h3v3h-3zm61-22h3v3h-3zm-45 30h3v3h-3zm13-19h3v3h-3zm20-4h3v3h-3zm3-21h3v3h-3zm-75 51h3v3h-3zm49-27h3v3h-3zm27-3h3v3h-3zm-3 2h3v3h-3zm-67 37h3v3h-3zm35-16h3v3h-3zm-24-6h3v3h-3zm18-8h3v3h-3zm48-16h3v3h-3zm-10-4h3v3h-3zm0 13h3v3h-3zm-43 24h3v3h-3zm47-29h3v3h-3zm-39 11h3v3h-3zm-36 23h3v3h-3zm32-18h3v3h-3zm-23 11h3v3h-3zm3-3h3v3h-3zm-4 1h3v3h-3zm11-6h3v3h-3zm18-12h3v3h-3zm23 6h3v3h-3zm-62 17h3v3h-3zm60-15h3v3h-3zm4-19h3v3h-3zm-38 21h3v3h-3zm13-7h3v3h-3zm26-21h3v3h-3zm16 8h3v3h-3zm-49 16h3v3h-3zm26-10h3v3h-3zm-1 0h3v3h-3zm-1 14h3v3h-3zm10-26h3v3h-3zm-16 16h3v3h-3zm14 8h3v3h-3zm-14 4h3v3h-3zm-3 41h3v3h-3zm-29 15h3v3h-3zm14 0h3v3h-3zm-12-3h3v3h-3zm43-30h3v3h-3zm-60 52h3v3h-3zm8 4h3v3h-3zm75-71h3v3h-3zm-24 31h3v3h-3zm-31 16h3v3h-3zm0 1h3v3h-3zm18-29h3v3h-3zm24-22h3v3h-3zm-66 70h3v3h-3zm15-20h3v3h-3zm-15 8h3v3h-3zm64-35h3v3h-3zm-42 19h3v3h-3zm53-40h3v3h-3zm2-2h3v3h-3zm-23 25h3v3h-3zm-26 29h3v3h-3zm13-14h3v3h-3zm-28 10h3v3h-3zm0 1h3v3h-3zm-23 9h3v3h-3zm77-44h3v3h-3zm-52 43h3v3h-3zm-11 3h3v3h-3zm40-26h3v3h-3zm28-22h3v3h-3zm-22 25h3v3h-3zm-24 1h3v3h-3zm-13 28h3v3h-3zm-12-12h3v3h-3zm41-33h3v3h-3zm22-12h3v3h-3zm6 9h3v3h-3zm-45 32h3v3h-3zm18-35h3v3h-3zm36-22h3v3h-3zm0 17h3v3h-3zm-64 33h3v3h-3zm50-35h3v3h-3zm-70 51h3v3h-3zm1 8h3v3h-3zm78-52h3v3h-3zm-84 44h3v3h-3zm33-8h3v3h-3zm7-6h3v3h-3zm-14 12h3v3h-3zm33-26h3v3h-3zm-58 30h3v3h-3zm11-18h3v3h-3zm21 14h3v3h-3zm-10-8h3v3h-3zm32-16h3v3h-3zm-49 26h3v3h-3zm69-43h3v3h-3zm-63 32h3v3h-3zm28-16h3v3h-3zm38-25h3v3h-3zm-35 38h3v3h-3zm31-27h3v3h-3zm-36 32h3v3h-3zm16-26h3v3h-3zm-34 37h3v3h-3zm77-66h3v3h-3zm-38 37h3v3h-3zm-53 27h3v3h-3zm57-33h3v3h-3zm-21 4h3v3h-3zm15-12h3v3h-3zm-3 6h3v3h-3zm-50 37h3v3h-3zm25-6h3v3h-3zm57-57h3v3h-3zm-67 65h3v3h-3zm12-20h3v3h-3zm48-41h3v3h-3zm-38 30h3v3h-3zm-28 23h3v3h-3zm-6 15h3v3h-3zm12-21h3v3h-3zm-13 9h3v3h-3zm5-8h3v3h-3zm30-7h3v3h-3zm-27 37h3v3h-3zm42-45h3v3h-3zm15-25h3v3h-3zm-11 21h3v3h-3zm-37 36h3v3h-3zm52-61h3v3h-3zm-2 20h3v3h-3zm-37 10h3v3h-3zm20-6h3v3h-3zm30-34h3v3h-3zm-5 13h3v3h-3zm-18 9h3v3h-3zm-36 41h3v3h-3zm30-39h3v3h-3zm8-6h3v3h-3zm29-11h3v3h-3zm-10 3h3v3h-3zm-30 27h3v3h-3zm-50 29h3v3h-3zm12-12h3v3h-3zm17-8h3v3h-3zm21-10h3v3h-3zm33-19h3v3h-3zm-4 0h3v3h-3zm-77 45h3v3h-3zm59-43h3v3h-3zm-61 44h3v3h-3zm76-28h3v3h-3zm-58 17h3v3h-3zm-3 0h3v3h-3zm60-46h3v3h-3zm-29 33h3v3h-3zm3 0h3v3h-3zm-17 4h3v3h-3zm-6 17h3v3h-3zm49-54h3v3h-3zm-1 3h3v3h-3zm-41 42h3v3h-3zm8-14h3v3h-3zm-17 7h3v3h-3zm33-13h3v3h-3zm29-23h3v3h-3zm-10-3h3v3h-3zm4 10h3v3h-3zm-29 9h3v3h-3zm-17 13h3v3h-3zm46-17h3v3h-3zm3-16h3v3h-3zm-80 59h3v3h-3zm2-1h3v3h-3zm20-3h3v3h-3zm62-55h3v3h-3zm-23 24h3v3h-3zm17-13h3v3h-3zm-36 31h3v3h-3zm-54 21h3v3h-3zm94-66h3v3h-3zm-26 19h3v3h-3zm-14 20h3v3h-3zm41-38h3v3h-3zm-35 35h3v3h-3zm-44 23h3v3h-3zm31-22h3v3h-3zm0-4h3v3h-3zm33-11h3v3h-3zm-63 38h3v3h-3zm17-16h3v3h-3zm13-11h3v3h-3zm46-33h3v3h-3zm-9 16h3v3h-3zm-46 27h3v3h-3zm-18 7h3v3h-3zm41-24h3v3h-3zm23-16h3v3h-3zm-35 18h3v3h-3zm-8 26h3v3h-3zm27-27h3v3h-3zm-47 39h3v3h-3zm-3-13h3v3h-3zm11-2h3v3h-3zm-14 6h3v3h-3zm21 2h3v3h-3zm31-28h3v3h-3zm-2 6h3v3h-3zm13-18h3v3h-3zm11-6h3v3h-3zm-76 57h3v3h-3zm55-51h3v3h-3zm-4 28h3v3h-3zm-40 20h3v3h-3zm47-48h3v3h-3zm-55 50h3v3h-3zm80-61h3v3h-3zm-5-4h3v3h-3zm-70 66h3v3h-3zm2-3h3v3h-3zm-7 9h3v3h-3zm18-31h3v3h-3zm26-22h3v3h-3zm13 5h3v3h-3zm-9 5h3v3h-3zm-12 26h3v3h-3zm-8-23h3v3h-3zm-41 33h3v3h-3zm12 6h3v3h-3zm81-69h3v3h-3zm-4-5h3v3h-3zm-30 41h3v3h-3zm13-16h3v3h-3zm-37 17h3v3h-3zm34-26h3v3h-3zm7 0h3v3h-3zm-61 37h3v3h-3zm51-41h3v3h-3zm-3 17h3v3h-3zm-58 32h3v3h-3zm55-37h3v3h-3zm22-22h3v3h-3zm-77 64h3v3h-3zm85-56h3v3h-3zm-1-3h3v3h-3zm-82 60h3v3h-3zm39-37h3v3h-3zm-12 23h3v3h-3zm42-42h3v3h-3zm-58 54h3v3h-3zm71-58h3v3h-3zm-12 3h3v3h-3zm-72 53h3v3h-3zm40-31h3v3h-3zm30-19h3v3h-3zm15-4h3v3h-3zm-9 4h3v3h-3zm-15 15h3v3h-3z"/><path fill="#dd80d3" fill-opacity="0.9" d="M472 860 492 850 512 848 526 854 516 866 496 872 480 872Z"/><path fill="#dd80d3" d="M516 851h3v3h-3zm4 0h3v3h-3zm-40 8h3v3h-3zm36 5h3v3h-3zm-33-5h3v3h-3zm35 0h3v3h-3zm-26-7h3v3h-3zm18 19h3v3h-3zm-12-4h3v3h-3zm-2 4h3v3h-3zm10-21h3v3h-3zm4 1h3v3h-3zm12-5h3v3h-3zm-51 18h3v3h-3zm25 10h3v3h-3zm16-8h3v3h-3zm1 0h3v3h-3zm7-10h3v3h-3zm-45 12h3v3h-3zm2-6h3v3h-3zm35-10h3v3h-3zm-5 14h3v3h-3zm-21-10h3v3h-3zm40-1h3v3h-3zm-7-1h3v3h-3zm3-1h3v3h-3zm-22 19h3v3h-3zm-2-8h3v3h-3zm-15-13h3v3h-3zm7 20h3v3h-3zm8-2h3v3h-3zm16-5h3v3h-3zm4-6h3v3h-3zm-3 3h3v3h-3zm1-7h3v3h-3zm2 0h3v3h-3zm10 4h3v3h-3zm-23 13h3v3h-3zm15-11h3v3h-3zm-31-3h3v3h-3zm12-5h3v3h-3zm-5 19h3v3h-3zm21-18h3v3h-3zm-33 5h3v3h-3zm21 10h3v3h-3zm2 2h3v3h-3zm4-18h3v3h-3zm-30 15h3v3h-3zm33 3h3v3h-3zm-23-21h3v3h-3zm6 18h3v3h-3zm-12 4h3v3h-3zm34-9h3v3h-3zm-11 4h3v3h-3zm-25-8h3v3h-3zm21-6h3v3h-3zm-27 10h3v3h-3zm16-10h3v3h-3zm-7 6h3v3h-3zm18 8h3v3h-3zm-18 9h3v3h-3zm30-21h3v3h-3zm-39 15h3v3h-3zm20 3h3v3h-3zm-16-16h3v3h-3zm-4 1h3v3h-3zm26-7h3v3h-3zm-20 21h3v3h-3zm4-16h3v3h-3zm2-2h3v3h-3zm-9-10h3v3h-3zm31 20h3v3h-3zm-30 4h3v3h-3zm4 2h3v3h-3zm33-7h3v3h-3zm-19-14h3v3h-3zm-3 21h3v3h-3zm16-20h3v3h-3zm4 13h3v3h-3zm-37-1h3v3h-3zm3-2h3v3h-3zm-5 7h3v3h-3zm33 1h3v3h-3zm-14-19h3v3h-3zm29 7h3v3h-3zm-20 11h3v3h-3zm-27 7h3v3h-3zm11-8h3v3h-3zm-6-10h3v3h-3zm13 4h3v3h-3zm-14 14h3v3h-3zm21-20h3v3h-3zm21-2h3v3h-3zm-18 19h3v3h-3zm-28-8h3v3h-3zm42-3h3v3h-3zm-18-10h3v3h-3zm17 11h3v3h-3zm-12-10h3v3h-3zm-22 6h3v3h-3zm5 16h3v3h-3zm4-18h3v3h-3zm15 12h3v3h-3zm-7-15h3v3h-3zm-19 4h3v3h-3zm8 16h3v3h-3zm21-8h3v3h-3zm-35-2h3v3h-3zm13 2h3v3h-3zm31-4h3v3h-3zm-41-4h3v3h-3zm18-5h3v3h-3zm-14 6h3v3h-3zm14-4h3v3h-3zm3 18h3v3h-3zm14-7h3v3h-3zm9-6h3v3h-3zm-8 7h3v3h-3zm-39-3h3v3h-3z"/><path fill="#b3219e" fill-opacity="0.9" d="M368 836 380 818 396 814 416 812 432 822 444 834 458 846 472 852 464 862 444 862 428 864 416 874 404 882 392 880 378 868 366 854ZM392 876 412 870 428 878 426 894 400 892Z"/><path fill="#b3219e" d="M408 815h3v3h-3zm59 43h3v3h-3zm-57 20h3v3h-3zm-5 2h3v3h-3zm20-11h3v3h-3zm28-6h3v3h-3zm-70 6h3v3h-3zm20 11h3v3h-3zm-36-44h3v3h-3zm13 33h3v3h-3zm-1-42h3v3h-3zm31-13h3v3h-3zm-37 18h3v3h-3zm6-7h3v3h-3zm-10 21h3v3h-3zm1 2h3v3h-3zm66 14h3v3h-3zm-32-47h3v3h-3zm24 3h3v3h-3zm-30-4h3v3h-3zm59 34h3v3h-3zm14 4h3v3h-3zm-59-37h3v3h-3zm-16 46h3v3h-3zm49 1h3v3h-3zm-77-23h3v3h-3zm9-11h3v3h-3zm62 31h3v3h-3zm13-17h3v3h-3zm-14 21h3v3h-3zm-59 6h3v3h-3zm38 3h3v3h-3zm-52-28h3v3h-3zm28 32h3v3h-3zm9 2h3v3h-3zm-8-61h3v3h-3zm-15 8h3v3h-3zm17 53h3v3h-3zm-20-54h3v3h-3zm53 39h3v3h-3zm8-31h3v3h-3zm-67 11h3v3h-3zm4 18h3v3h-3zm48-41h3v3h-3zm-15-3h3v3h-3zm47 45h3v3h-3zm-3-20h3v3h-3zm-26-17h3v3h-3zm-50 3h3v3h-3zm6 42h3v3h-3zm20 11h3v3h-3zm55-30h3v3h-3zm-23 11h3v3h-3zm0 0h3v3h-3zm-46-46h3v3h-3zm17-1h3v3h-3zm22 3h3v3h-3zm-19 44h3v3h-3zm41-19h3v3h-3zm-55-7h3v3h-3zm36-19h3v3h-3zm38 38h3v3h-3zm-33 4h3v3h-3zm-65-24h3v3h-3zm10-14h3v3h-3zm15 56h3v3h-3zm40-17h3v3h-3zm-63 1h3v3h-3zm96-4h3v3h-3zm-17-12h3v3h-3zm7 4h3v3h-3zm-87-14h3v3h-3zm-1 25h3v3h-3zm1-22h3v3h-3zm-3 15h3v3h-3zm55 14h3v3h-3zm-50-42h3v3h-3zm1 11h3v3h-3zm21 47h3v3h-3zm39-23h3v3h-3zm-8-41h3v3h-3zm-54 20h3v3h-3zm3-5h3v3h-3zm92 9h3v3h-3zm-91-10h3v3h-3zm47-1h3v3h-3zm49 24h3v3h-3zm-76-41h3v3h-3zm7 2h3v3h-3zm59 43h3v3h-3zm-90-20h3v3h-3zm-1-9h3v3h-3zm73 30h3v3h-3zm-40-47h3v3h-3zm43 49h3v3h-3zm-39-46h3v3h-3zm-35 13h3v3h-3zm95 26h3v3h-3zm-99-16h3v3h-3zm46-26h3v3h-3zm49 35h3v3h-3zm-28-22h3v3h-3zm-43-9h3v3h-3zm7-2h3v3h-3zm-8 41h3v3h-3zm70 14h3v3h-3zm-92-17h3v3h-3zm64 8h3v3h-3zm20-20h3v3h-3zm-35-27h3v3h-3zm20 47h3v3h-3zm-41-45h3v3h-3zm37 49h3v3h-3zm10-7h3v3h-3zm-65 9h3v3h-3zm66-9h3v3h-3zm-47 18h3v3h-3zm-25-44h3v3h-3zm38-22h3v3h-3zm-13 4h3v3h-3zm-32 29h3v3h-3zm5 0h3v3h-3zm42-30h3v3h-3zm-31 53h3v3h-3zm-4-47h3v3h-3zm62 13h3v3h-3zm-22 20h3v3h-3zm26-18h3v3h-3zm-65-13h3v3h-3zm21-4h3v3h-3zm13-3h3v3h-3zm-42 40h3v3h-3zm32 24h3v3h-3zm-6 7h3v3h-3zm-28-41h3v3h-3zm34-28h3v3h-3zm59 33h3v3h-3zm-70-34h3v3h-3zm42 12h3v3h-3zm-47-7h3v3h-3zm-5 29h3v3h-3zm71 12h3v3h-3zm-49 21h3v3h-3zm-9-70h3v3h-3zm-18 14h3v3h-3zm-2-8h3v3h-3zm47 46h3v3h-3zm-29-46h3v3h-3zm-2-3h3v3h-3zm14 39h3v3h-3zm36-18h3v3h-3zm-41-8h3v3h-3zm-2 50h3v3h-3zm4-67h3v3h-3zm7 3h3v3h-3zm43 46h3v3h-3zm-37 17h3v3h-3zm-44-22h3v3h-3zm4 5h3v3h-3zm33 14h3v3h-3zm-23-56h3v3h-3zm78 31h3v3h-3zm-65 27h3v3h-3zm66-21h3v3h-3zm-4 3h3v3h-3zm10-8h3v3h-3zm-63 27h3v3h-3zm-27-38h3v3h-3zm-12 13h3v3h-3zm94 6h3v3h-3zm-1 3h3v3h-3zm-79 7h3v3h-3zm71-6h3v3h-3zm-86-11h3v3h-3zm10-25h3v3h-3zm67 7h3v3h-3zm-40 48h3v3h-3zm18-17h3v3h-3zm-11-51h3v3h-3zm52 57h3v3h-3zm-74 2h3v3h-3zm25-2h3v3h-3zm-24 4h3v3h-3zm-17-8h3v3h-3zm81-19h3v3h-3zm11-2h3v3h-3zm-76-29h3v3h-3zm3 57h3v3h-3zm50-40h3v3h-3zm0 30h3v3h-3zm-69-37h3v3h-3zm50 40h3v3h-3zm-16 14h3v3h-3zm39-47h3v3h-3zm-30-5h3v3h-3zm13-7h3v3h-3zm-17-10h3v3h-3zm-28 9h3v3h-3zm-2 47h3v3h-3zm67-24h3v3h-3zm-14-18h3v3h-3zm-21-12h3v3h-3zm32 47h3v3h-3zm9-22h3v3h-3zm-9 21h3v3h-3zm-57-40h3v3h-3zm71 25h3v3h-3zm-33 16h3v3h-3zm-53-4h3v3h-3zm0-30h3v3h-3zm9 9h3v3h-3zm49-16h3v3h-3zm-55 27h3v3h-3zm9-31h3v3h-3zm-18 42h3v3h-3zm76 3h3v3h-3zm7-2h3v3h-3zm-37 16h3v3h-3zm-6-60h3v3h-3zm47 36h3v3h-3zm-47 29h3v3h-3zm58-26h3v3h-3zm-88 12h3v3h-3zm65-29h3v3h-3zm17 14h3v3h-3zm-51 14h3v3h-3zm-30 7h3v3h-3zm85-18h3v3h-3zm-8-10h3v3h-3zm-14 22h3v3h-3zm-43 12h3v3h-3zm25-57h3v3h-3zm-22 5h3v3h-3zm-34 20h3v3h-3zm69-15h3v3h-3zm-1-4h3v3h-3zm12 44h3v3h-3zm-65 3h3v3h-3zm43-12h3v3h-3zm-8-48h3v3h-3zm34 47h3v3h-3zm-52 22h3v3h-3zm6-70h3v3h-3zm3 61h3v3h-3zm-16-58h3v3h-3zm22 56h3v3h-3zm-49-36h3v3h-3zm64-11h3v3h-3zm-37 52h3v3h-3zm-27-35h3v3h-3zm35 42h3v3h-3zm-3-1h3v3h-3zm-24-52h3v3h-3zm-4 24h3v3h-3zm4 4h3v3h-3zm58 7h3v3h-3zm12-7h3v3h-3zm-20 7h3v3h-3zm-47-2h3v3h-3zm25-28h3v3h-3zm-8-22h3v3h-3zm-24 23h3v3h-3zm51-21h3v3h-3zm-17 61h3v3h-3zm39-43h3v3h-3zm-73 21h3v3h-3zm56 10h3v3h-3zm-54-3h3v3h-3zm18-43h3v3h-3zm46 30h3v3h-3zm-40 31h3v3h-3zm38-51h3v3h-3zm-47 30h3v3h-3zm29-42h3v3h-3zm-13-2h3v3h-3zm-25 48h3v3h-3zm72-18h3v3h-3zm15 14h3v3h-3zm-84 16h3v3h-3zm33-1h3v3h-3zm-30-5h3v3h-3zm-14-16h3v3h-3zm21 27h3v3h-3zm-10-15h3v3h-3zm64-25h3v3h-3zm-57 37h3v3h-3zm26-6h3v3h-3zm-5-55h3v3h-3zm39 42h3v3h-3zm-42 20h3v3h-3zm-15-4h3v3h-3zm18 2h3v3h-3zm7-4h3v3h-3zm13-12h3v3h-3zm-58-28h3v3h-3zm8 35h3v3h-3zm82-8h3v3h-3zm-30-34h3v3h-3zm37 29h3v3h-3zm-64 27h3v3h-3zm53-22h3v3h-3zm-51-46h3v3h-3zm-29 5h3v3h-3zm1 49h3v3h-3zm58-7h3v3h-3zm22-17h3v3h-3zm-42-19h3v3h-3zm-38 48h3v3h-3zm44-3h3v3h-3zm-7-60h3v3h-3zm-38 56h3v3h-3zm44 2h3v3h-3zm-54-18h3v3h-3zm67-21h3v3h-3zm-49 41h3v3h-3zm22 1h3v3h-3zm61-14h3v3h-3zm-63 21h3v3h-3zm-16 2h3v3h-3zm-10-16h3v3h-3zm8 7h3v3h-3zm-6-50h3v3h-3zm-17 28h3v3h-3zm71 17h3v3h-3zm-19-48h3v3h-3zm15 7h3v3h-3zm-59 42h3v3h-3zm2-5h3v3h-3zm76 0h3v3h-3zm-82-14h3v3h-3zm-1 5h3v3h-3zm54 41h3v3h-3zm-3-3h3v3h-3zm6-10h3v3h-3zm-17 13h3v3h-3zm4 0h3v3h-3zm16-13h3v3h-3zm-1-3h3v3h-3zm-2 9h3v3h-3zm-15-12h3v3h-3zm20 13h3v3h-3zm-27-12h3v3h-3zm-4 4h3v3h-3zm4 10h3v3h-3zm-8-8h3v3h-3zm21-11h3v3h-3zm9 14h3v3h-3zm-12-11h3v3h-3zm-11 1h3v3h-3zm22 1h3v3h-3zm-11-7h3v3h-3zm-8 31h3v3h-3zm22-12h3v3h-3zm7-6h3v3h-3zm-32-7h3v3h-3zm-1 13h3v3h-3zm19 4h3v3h-3zm-28-12h3v3h-3zm8-2h3v3h-3zm31 3h3v3h-3zm-9-4h3v3h-3zm-23 1h3v3h-3zm21 16h3v3h-3zm-27-16h3v3h-3zm11 12h3v3h-3zm15-15h3v3h-3zm-2 18h3v3h-3zm-7-20h3v3h-3zm12 5h3v3h-3zm2 10h3v3h-3zm-19 5h3v3h-3zm21-3h3v3h-3zm-34-16h3v3h-3zm7 6h3v3h-3zm12 12h3v3h-3zm15 3h3v3h-3zm0-14h3v3h-3zm-22-6h3v3h-3zm-8 9h3v3h-3zm33 7h3v3h-3zm-8-14h3v3h-3zm-11 13h3v3h-3zm12-13h3v3h-3zm-21 14h3v3h-3zm1 4h3v3h-3zm26-11h3v3h-3zm-22 9h3v3h-3zm-7-18h3v3h-3zm26 4h3v3h-3zm2 15h3v3h-3zm-30-21h3v3h-3zm13 2h3v3h-3z"/><path fill="#c53cb9" fill-opacity="0.9" d="M378 892 400 886 426 890 434 904 428 924 410 930 384 928 376 912Z"/><path fill="#c53cb9" d="M377 902h3v3h-3zm29 24h3v3h-3zm13-3h3v3h-3zm10-12h3v3h-3zm-4-10h3v3h-3zm-45 12h3v3h-3zm30-22h3v3h-3zm-20 1h3v3h-3zm0 32h3v3h-3zm12-33h3v3h-3zm-27 19h3v3h-3zm54 7h3v3h-3zm-38 7h3v3h-3zm5-34h3v3h-3zm37 15h3v3h-3zm-6-11h3v3h-3zm-46 23h3v3h-3zm9 12h3v3h-3zm33-4h3v3h-3zm-32-16h3v3h-3zm13-18h3v3h-3zm-3 36h3v3h-3zm0-1h3v3h-3zm-22-32h3v3h-3zm38-5h3v3h-3zm-29 39h3v3h-3zm17-41h3v3h-3zm-11 37h3v3h-3zm-2 6h3v3h-3zm-11-34h3v3h-3zm-1 5h3v3h-3zm-2 1h3v3h-3zm18 26h3v3h-3zm-22-13h3v3h-3zm47-23h3v3h-3zm-14-3h3v3h-3zm-2 42h3v3h-3zm1-40h3v3h-3zm27 25h3v3h-3zm-12-26h3v3h-3zm-15 38h3v3h-3zm8 0h3v3h-3zm19-28h3v3h-3zm-11 25h3v3h-3zm-33-35h3v3h-3zm17-2h3v3h-3zm-21 35h3v3h-3zm33-1h3v3h-3zm2 2h3v3h-3zm-26-35h3v3h-3zm3 2h3v3h-3zm28 6h3v3h-3zm-42-4h3v3h-3zm-7 2h3v3h-3zm56 14h3v3h-3zm-49 11h3v3h-3zm15-23h3v3h-3zm3-8h3v3h-3zm-5 37h3v3h-3zm-14-11h3v3h-3zm40 11h3v3h-3zm-19 1h3v3h-3zm17-22h3v3h-3zm-10 21h3v3h-3zm3-40h3v3h-3zm16 17h3v3h-3zm-46-11h3v3h-3zm14 25h3v3h-3zm-11-31h3v3h-3zm-6 33h3v3h-3zm34-16h3v3h-3zm-7 24h3v3h-3zm27-16h3v3h-3zm-26-24h3v3h-3zm22 24h3v3h-3zm-37-21h3v3h-3zm27-1h3v3h-3zm-39 12h3v3h-3zm11 24h3v3h-3zm13 3h3v3h-3zm3 3h3v3h-3zm22-14h3v3h-3zm-50-2h3v3h-3zm19-25h3v3h-3zm-23 22h3v3h-3zm29-21h3v3h-3zm7 39h3v3h-3zm-4 2h3v3h-3zm-24-6h3v3h-3zm12-35h3v3h-3zm21 33h3v3h-3zm10-30h3v3h-3zm-51 9h3v3h-3zm50 18h3v3h-3zm6-16h3v3h-3zm-50 21h3v3h-3zm10-44h3v3h-3zm-8 44h3v3h-3zm37-1h3v3h-3zm-45-23h3v3h-3zm7 17h3v3h-3zm30 7h3v3h-3zm16-15h3v3h-3zm-10 18h3v3h-3zm-10-43h3v3h-3zm-20 39h3v3h-3zm37-27h3v3h-3zm-17 32h3v3h-3zm13-37h3v3h-3zm-28-5h3v3h-3zm-16 10h3v3h-3zm25 31h3v3h-3zm-3-41h3v3h-3zm31 29h3v3h-3zm-12 9h3v3h-3zm10-37h3v3h-3zm-14 36h3v3h-3zm14-14h3v3h-3zm-51-8h3v3h-3zm33 7h3v3h-3zm-28 12h3v3h-3zm42-32h3v3h-3zm-44 25h3v3h-3zm14 14h3v3h-3zm-7-36h3v3h-3zm-10 12h3v3h-3zm5 13h3v3h-3zm-8-9h3v3h-3zm16 3h3v3h-3zm21-10h3v3h-3zm16 13h3v3h-3zm-16 11h3v3h-3zm15-27h3v3h-3zm-42 27h3v3h-3zm45-16h3v3h-3zm-7-17h3v3h-3zm4 17h3v3h-3zm0 7h3v3h-3zm-21 10h3v3h-3zm26-30h3v3h-3zm-53-2h3v3h-3zm8 31h3v3h-3zm-9-16h3v3h-3zm41-5h3v3h-3zm-40 5h3v3h-3zm0-3h3v3h-3zm38 20h3v3h-3zm-26-35h3v3h-3zm42 15h3v3h-3zm-7-15h3v3h-3zm-27 39h3v3h-3zm35-25h3v3h-3zm-43 22h3v3h-3zm2-36h3v3h-3zm23-4h3v3h-3zm-30 36h3v3h-3zm1 1h3v3h-3zm28-34h3v3h-3zm11 34h3v3h-3zm8-17h3v3h-3zm-7-19h3v3h-3zm-40 2h3v3h-3zm25 35h3v3h-3zm-27-3h3v3h-3zm9 4h3v3h-3zm7-39h3v3h-3zm26 33h3v3h-3zm-5-33h3v3h-3zm-30 13h3v3h-3zm12-10h3v3h-3zm26 11h3v3h-3zm-56-20h3v3h-3zm64 8h3v3h-3zm-49 1h3v3h-3zm-4 32h3v3h-3zm12-5h3v3h-3zm34-6h3v3h-3zm-5 5h3v3h-3zm-18 9h3v3h-3zm-25-22h3v3h-3zm26 29h3v3h-3zm20-35h3v3h-3zm-13 30h3v3h-3zm17-28h3v3h-3zm-16 23h3v3h-3zm-32 6h3v3h-3zm49-18h3v3h-3zm-3 4h3v3h-3zm0-3h3v3h-3zm-2 8h3v3h-3zm-9-30h3v3h-3zm-16 0h3v3h-3zm22 0h3v3h-3zm-35-2h3v3h-3zm48 33h3v3h-3zm-57-4h3v3h-3zm49 0h3v3h-3zm-51 0h3v3h-3zm33-25h3v3h-3z"/><path fill="#cf52c3" fill-opacity="0.9" d="M374 930 400 926 428 928 444 944 440 960 424 966 396 962 378 952Z"/><path fill="#cf52c3" d="M398 926h3v3h-3zm12 40h3v3h-3zm29-27h3v3h-3zm-15 29h3v3h-3zm-25-38h3v3h-3zm14 30h3v3h-3zm3-34h3v3h-3zm-38 15h3v3h-3zm24-15h3v3h-3zm-5 5h3v3h-3zm8-4h3v3h-3zm8 0h3v3h-3zm29 31h3v3h-3zm-12 7h3v3h-3zm-50-19h3v3h-3zm29 15h3v3h-3zm4 0h3v3h-3zm4 3h3v3h-3zm-21-40h3v3h-3zm21 39h3v3h-3zm-23-34h3v3h-3zm-15 3h3v3h-3zm15 24h3v3h-3zm46-9h3v3h-3zm-23-18h3v3h-3zm-2 34h3v3h-3zm-12-3h3v3h-3zm24-28h3v3h-3zm-37 23h3v3h-3zm-1-25h3v3h-3zm-14 6h3v3h-3zm18 20h3v3h-3zm-12-24h3v3h-3zm45-3h3v3h-3zm-25 30h3v3h-3zm-17-6h3v3h-3zm-5-1h3v3h-3zm17-24h3v3h-3zm-2-3h3v3h-3zm1 36h3v3h-3zm33-33h3v3h-3zm-1 1h3v3h-3zm1-3h3v3h-3zm-43-1h3v3h-3zm17 2h3v3h-3zm-13 29h3v3h-3zm45 4h3v3h-3zm6-22h3v3h-3zm-18-7h3v3h-3zm-7 31h3v3h-3zm-2-31h3v3h-3zm-26-4h3v3h-3zm40 5h3v3h-3zm-33-5h3v3h-3zm-18 6h3v3h-3zm8 26h3v3h-3zm-9-13h3v3h-3zm65 23h3v3h-3zm-31-9h3v3h-3zm-26-29h3v3h-3zm46-2h3v3h-3zm-27 34h3v3h-3zm22 1h3v3h-3zm-5 0h3v3h-3zm-44-31h3v3h-3zm61 9h3v3h-3zm-22-11h3v3h-3zm12 33h3v3h-3zm-20-37h3v3h-3zm0 1h3v3h-3zm-12 31h3v3h-3zm10 2h3v3h-3zm14-29h3v3h-3zm-37 22h3v3h-3zm56-18h3v3h-3zm5 8h3v3h-3zm0 9h3v3h-3zm-70-23h3v3h-3zm25 29h3v3h-3zm-21-20h3v3h-3zm32-13h3v3h-3zm18 39h3v3h-3zm-47-11h3v3h-3zm0-23h3v3h-3zm13 28h3v3h-3zm49-18h3v3h-3zm-29-15h3v3h-3zm22 33h3v3h-3zm-14 4h3v3h-3zm19-22h3v3h-3zm-2 13h3v3h-3zm-38 4h3v3h-3zm-18-27h3v3h-3zm26 30h3v3h-3zm12 3h3v3h-3zm-2-1h3v3h-3zm23-19h3v3h-3zm-52-12h3v3h-3zm11 30h3v3h-3zm-25-15h3v3h-3zm6-2h3v3h-3zm28-14h3v3h-3zm11 0h3v3h-3zm-4-6h3v3h-3zm-35 6h3v3h-3zm18-5h3v3h-3zm38 31h3v3h-3zm6-9h3v3h-3zm-1 1h3v3h-3zm-62-6h3v3h-3zm52-23h3v3h-3zm-54 27h3v3h-3zm60-7h3v3h-3zm1 1h3v3h-3zm4 13h3v3h-3zm-27 8h3v3h-3zm11-42h3v3h-3zm7 11h3v3h-3zm-15 0h3v3h-3zm-10 30h3v3h-3zm-23-25h3v3h-3zm46 1h3v3h-3zm-21 26h3v3h-3zm14 1h3v3h-3zm-7-36h3v3h-3zm-30 3h3v3h-3zm45 0h3v3h-3zm-27 16h3v3h-3zm31-8h3v3h-3zm-11 22h3v3h-3zm11-25h3v3h-3zm7 13h3v3h-3zm-23 16h3v3h-3zm-39-18h3v3h-3zm-5 2h3v3h-3zm3-20h3v3h-3zm0 9h3v3h-3zm43-7h3v3h-3zm-44 13h3v3h-3zm57 13h3v3h-3zm-29-31h3v3h-3zm2 34h3v3h-3zm13-31h3v3h-3zm8 33h3v3h-3zm-10 0h3v3h-3zm-13-39h3v3h-3zm35 22h3v3h-3zm3 5h3v3h-3zm-39 9h3v3h-3zm-24-8h3v3h-3zm-3-16h3v3h-3zm56 16h3v3h-3zm12-5h3v3h-3zm-67-2h3v3h-3zm15 17h3v3h-3zm-17-28h3v3h-3zm26 27h3v3h-3zm-26-16h3v3h-3zm26-19h3v3h-3zm36 18h3v3h-3zm-41 17h3v3h-3zm-12-6h3v3h-3zm39-26h3v3h-3zm-34-2h3v3h-3zm9 33h3v3h-3zm-10-29h3v3h-3zm49 26h3v3h-3zm-45-28h3v3h-3zm-10 3h3v3h-3zm6 25h3v3h-3zm-13-12h3v3h-3zm14-15h3v3h-3zm32 33h3v3h-3zm-4-1h3v3h-3zm-38-8h3v3h-3zm0-22h3v3h-3zm48 33h3v3h-3zm10-9h3v3h-3zm-12-26h3v3h-3zm-3 2h3v3h-3zm-13 30h3v3h-3zm23-34h3v3h-3zm-36 33h3v3h-3zm25-28h3v3h-3zm2-4h3v3h-3zm-42 2h3v3h-3zm17 31h3v3h-3zm-19-32h3v3h-3zm-3 20h3v3h-3zm51-20h3v3h-3zm-56-5h3v3h-3zm43 7h3v3h-3zm-36 23h3v3h-3zm60-12h3v3h-3zm-51 15h3v3h-3zm17 6h3v3h-3zm17-34h3v3h-3zm1 33h3v3h-3zm16-13h3v3h-3zm-38 11h3v3h-3zm-20-30h3v3h-3zm30-1h3v3h-3zm-29 1h3v3h-3zm37 14h3v3h-3zm3 22h3v3h-3zm-36-34h3v3h-3zm32 33h3v3h-3zm19-7h3v3h-3zm-11-28h3v3h-3zm11 22h3v3h-3z"/><path fill="#d767cb" fill-opacity="0.8" d="M420 956 444 948 464 956 480 968 476 986 464 992 440 984 424 972Z"/><path fill="#d767cb" d="M441 950h3v3h-3zm5 33h3v3h-3zm-10-6h3v3h-3zm21-2h3v3h-3zm-1 12h3v3h-3zm4-7h3v3h-3zm18-8h3v3h-3zm-5 6h3v3h-3zm-44-2h3v3h-3zm13 8h3v3h-3zm1 1h3v3h-3zm26-24h3v3h-3zm-10 27h3v3h-3zm-2-30h3v3h-3zm2 0h3v3h-3zm10 30h3v3h-3zm-15-37h3v3h-3zm-32 11h3v3h-3zm44 26h3v3h-3zm-9-16h3v3h-3zm-27-17h3v3h-3zm46 21h3v3h-3zm-47-21h3v3h-3zm17 22h3v3h-3zm28 3h3v3h-3zm6-10h3v3h-3zm-25-13h3v3h-3zm-13-5h3v3h-3zm-13 20h3v3h-3zm16-22h3v3h-3zm2-1h3v3h-3zm0 37h3v3h-3zm-26-25h3v3h-3zm17 19h3v3h-3zm38-4h3v3h-3zm-11-19h3v3h-3zm-31 23h3v3h-3zm-1-1h3v3h-3zm12 3h3v3h-3zm16-27h3v3h-3zm14 14h3v3h-3zm-1 7h3v3h-3zm-33-26h3v3h-3zm20 17h3v3h-3zm-23 14h3v3h-3zm17 8h3v3h-3zm-20-37h3v3h-3zm43 24h3v3h-3zm-28 8h3v3h-3zm-14-5h3v3h-3zm-10-4h3v3h-3zm7-20h3v3h-3zm23 32h3v3h-3zm-14-35h3v3h-3zm23 38h3v3h-3zm11-15h3v3h-3zm1-6h3v3h-3zm4 5h3v3h-3zm-20 13h3v3h-3zm-13-34h3v3h-3zm24 34h3v3h-3zm2-25h3v3h-3zm-33-3h3v3h-3zm26 31h3v3h-3zm-41-23h3v3h-3zm30-13h3v3h-3zm-32 1h3v3h-3zm53 9h3v3h-3zm-13 24h3v3h-3zm-7-32h3v3h-3zm-25 25h3v3h-3zm-4-23h3v3h-3zm46 10h3v3h-3zm-30-17h3v3h-3zm-2 20h3v3h-3zm5-21h3v3h-3zm6 35h3v3h-3zm-20-14h3v3h-3zm-5 1h3v3h-3zm41-14h3v3h-3zm-36 20h3v3h-3zm2-1h3v3h-3zm35 8h3v3h-3zm2-22h3v3h-3zm4 24h3v3h-3zm-41-35h3v3h-3zm-5 4h3v3h-3zm53 14h3v3h-3zm-24-13h3v3h-3zm-30 13h3v3h-3zm49 6h3v3h-3zm-14-15h3v3h-3zm-36 8h3v3h-3zm3-16h3v3h-3zm27 4h3v3h-3zm-5-3h3v3h-3zm1 30h3v3h-3zm7-35h3v3h-3zm-20 35h3v3h-3zm32 9h3v3h-3zm-12-38h3v3h-3zm17 12h3v3h-3zm-18 24h3v3h-3zm-3-35h3v3h-3zm-7-3h3v3h-3zm-22 17h3v3h-3zm10-20h3v3h-3zm24 38h3v3h-3zm-37-30h3v3h-3zm3 17h3v3h-3zm46-7h3v3h-3zm-25-18h3v3h-3zm26 10h3v3h-3zm-40 15h3v3h-3zm-10-9h3v3h-3zm43-3h3v3h-3zm-39-10h3v3h-3zm44 11h3v3h-3zm-49-3h3v3h-3zm52 5h3v3h-3zm-46 5h3v3h-3zm24-15h3v3h-3zm15 4h3v3h-3zm-43 14h3v3h-3zm27-21h3v3h-3zm28 24h3v3h-3zm-29 10h3v3h-3zm25-11h3v3h-3zm-34 9h3v3h-3zm-15-10h3v3h-3zm42 10h3v3h-3zm-46-24h3v3h-3zm39-3h3v3h-3zm18 8h3v3h-3zm-16 21h3v3h-3zm-33-11h3v3h-3zm-5-9h3v3h-3zm27-14h3v3h-3zm-1 31h3v3h-3zm14-4h3v3h-3zm-12-12h3v3h-3zm-29-2h3v3h-3zm18 21h3v3h-3zm-18-20h3v3h-3zm45 21h3v3h-3zm-44-22h3v3h-3zm48 15h3v3h-3zm-17 9h3v3h-3zm17-10h3v3h-3zm-51-16h3v3h-3zm-3 0h3v3h-3zm32-7h3v3h-3zm7-2h3v3h-3zm-13-6h3v3h-3zm-20 22h3v3h-3zm31 16h3v3h-3zm11-24h3v3h-3zm-4 24h3v3h-3z"/><path fill="#fff" fill-opacity=".6" d="M399 463h2v2h-2zm17-12h2v2h-2zm-15 19h2v2h-2zm10-34h2v2h-2zm11 0h2v2h-2zm-11-7h2v2h-2zm-13 42h2v2h-2zm11-16h2v2h-2zm-4-4h2v2h-2zm16-17h2v2h-2zm-7 32h2v2h-2zm9-32h2v2h-2zm17-20h2v2h-2zm1 3h2v2h-2zm3 5h2v2h-2zm0-2h2v2h-2zm-102 201h2v2h-2zm43-17h2v2h-2zm-37 16h2v2h-2zm39-17h2v2h-2zm-57-2h2v2h-2zm21 2h2v2h-2zm-27-2h2v2h-2zm7-9h2v2h-2zm-36 72h2v2h-2zm6-4h2v2h-2zm-4 5h2v2h-2zm12-10h2v2h-2zm-6-1h2v2h-2zm-7-4h2v2h-2zm-6-15h2v2h-2zm22 44h2v2h-2zm-19-43h2v2h-2zm2 42h2v2h-2zm7 4h2v2h-2zm2 9h2v2h-2zm2-16h2v2h-2zm-21-32h2v2h-2zm4-15h2v2h-2zm9-6h2v2h-2zm10 34h2v2h-2zm-2-23h2v2h-2zm-1 5h2v2h-2zm-13 31h2v2h-2zm-9-38h2v2h-2zm6 8h2v2h-2zm17-3h2v2h-2zm-42 62h2v2h-2zm15 21h2v2h-2zm-11-8h2v2h-2zm10-7h2v2h-2zm-28 16h2v2h-2zm21-24h2v2h-2zm0 25h2v2h-2zm-15 2h2v2h-2zm18-9h2v2h-2zm-21 1h2v2h-2zm16-20h2v2h-2zm4 18h2v2h-2zm-30 19h2v2h-2zm28-34h2v2h-2zm156-140h2v2h-2zm13 8h2v2h-2zm2-35h2v2h-2zm12 3h2v2h-2zm-5 31h2v2h-2zm5-22h2v2h-2zm-36 10h2v2h-2zm33-10h2v2h-2zm-20 13h2v2h-2zm0 3h2v2h-2zm18 7h2v2h-2zm-7-29h2v2h-2zm-11 7h2v2h-2zm3-7h2v2h-2zm3 12h2v2h-2zm2 20h2v2h-2zm8-4h2v2h-2zm-4-9h2v2h-2zm-24-21h2v2h-2zm28 34h2v2h-2zm-19 1h2v2h-2zm34-15h2v2h-2zm-4 10h2v2h-2zm7 4h2v2h-2zm7 6h2v2h-2zm-6-38h2v2h-2zm7 7h2v2h-2zm-5 1h2v2h-2zm-6 25h2v2h-2zm-10-1h2v2h-2zm4-2h2v2h-2zm13-14h2v2h-2zm1 10h2v2h-2zm-10-5h2v2h-2zm6 8h2v2h-2zm64 0h2v2h-2zm-21-9h2v2h-2zm9 5h2v2h-2zm-18-19h2v2h-2zm-9-13h2v2h-2zm30 52h2v2h-2zm-28-55h2v2h-2zm13 49h2v2h-2zm-12-12h2v2h-2zm-10-30h2v2h-2zm33 46h2v2h-2zm-3-12h2v2h-2zm-12 9h2v2h-2zm37-1h2v2h-2zm-12-18h2v2h-2zm-38-14h2v2h-2zm34 24h2v2h-2zm-18 11h2v2h-2zm-21-36h2v2h-2zm48 32h2v2h-2zm-44-33h2v2h-2zm15 41h2v2h-2zm4-13h2v2h-2zm14-16h2v2h-2zm-5-8h2v2h-2zm-25 10h2v2h-2zm8-12h2v2h-2zm23 8h2v2h-2zm6 6h2v2h-2zm-24-18h2v2h-2zm15 41h2v2h-2zm6-26h2v2h-2zm-1 21h2v2h-2zm-35-28h2v2h-2zm24 28h2v2h-2zm-21 23h2v2h-2zm20-2h2v2h-2zm5-10h2v2h-2zm-15 6h2v2h-2zm-8-23h2v2h-2zm5 0h2v2h-2zm4 28h2v2h-2zm-20-11h2v2h-2zm11-3h2v2h-2zm24-2h2v2h-2zm-19 14h2v2h-2zm-16-17h2v2h-2zm34 22h2v2h-2zm-4-23h2v2h-2zm4 23h2v2h-2zm-33-22h2v2h-2zm29 21h2v2h-2zm-20-1h2v2h-2zm-7-20h2v2h-2zm50-30h2v2h-2zm2-10h2v2h-2zm-15 2h2v2h-2zm25 13h2v2h-2zm-5-13h2v2h-2zm-18 2h2v2h-2zm-32 98h2v2h-2zm34 15h2v2h-2zm-57-25h2v2h-2zm11-27h2v2h-2zm26 33h2v2h-2zm-5-18h2v2h-2zm3 2h2v2h-2zm-13 24h2v2h-2zm-22-23h2v2h-2zm12-10h2v2h-2zm3 19h2v2h-2zm-19-1h2v2h-2zm18-16h2v2h-2zm39 25h2v2h-2zm-29 7h2v2h-2zm17-31h2v2h-2zm-5 30h2v2h-2zm-7 0h2v2h-2zm-21-5h2v2h-2zm36-28h2v2h-2zm2 11h2v2h-2zm-17-12h2v2h-2zm9 26h2v2h-2zm-9 4h2v2h-2zm-2-9h2v2h-2zm-21-9h2v2h-2zm14 17h2v2h-2zm20-28h2v2h-2zm2 11h2v2h-2zm-25-16h2v2h-2zm44 30h2v2h-2zm-6-10h2v2h-2zm-38-10h2v2h-2zm4-19h2v2h-2zm-8 50h2v2h-2zm-8-2h2v2h-2zm-4-12h2v2h-2zm43 6h2v2h-2zm10-13h2v2h-2zm1 8h2v2h-2zm-7 43h2v2h-2zm61-23h2v2h-2zm8 8h2v2h-2zm-1-29h2v2h-2zm-8 13h2v2h-2zm2 8h2v2h-2zm21 6h2v2h-2zm3 2h2v2h-2zm-23-8h2v2h-2zm3-20h2v2h-2zm-6 28h2v2h-2zm-2-31h2v2h-2zm-3 30h2v2h-2zm-6-12h2v2h-2zm24-1h2v2h-2zm-215 109h2v2h-2zm-17-13h2v2h-2zm24 22h2v2h-2zm-7-11h2v2h-2zm4 11h2v2h-2zm2-17h2v2h-2zm55 25h2v2h-2zm0-36h2v2h-2zm8 37h2v2h-2zm-25-29h2v2h-2zm8 4h2v2h-2zm2 15h2v2h-2zm10 8h2v2h-2zm3-6h2v2h-2zm-4 24h2v2h-2zm0-37h2v2h-2zm-4-16h2v2h-2zm2 39h2v2h-2zm-2 2h2v2h-2zm2 10h2v2h-2zm17-8h2v2h-2zm-16-10h2v2h-2zm-21-22h2v2h-2zm25 41h2v2h-2zm-3-3h2v2h-2zm-7-10h2v2h-2zm21-7h2v2h-2zm-109 49h2v2h-2zm14 0h2v2h-2zm4 0h2v2h-2zm7-10h2v2h-2zm-1 10h2v2h-2zm-12-9h2v2h-2zm9 3h2v2h-2zm175 29h2v2h-2zm16-6h2v2h-2zm4 3h2v2h-2zm-20-2h2v2h-2zm12-2h2v2h-2zm-10 1h2v2h-2zm-12-4h2v2h-2zm4 14h2v2h-2zm20-10h2v2h-2zm-24 0h2v2h-2zm5 21h2v2h-2zm-2 4h2v2h-2zm-2 0h2v2h-2zm0 9h2v2h-2zm3-8h2v2h-2zm-34 75h2v2h-2zm-16 16h2v2h-2zm30-41h2v2h-2zm17-23h2v2h-2zm-35 57h2v2h-2zm15-23h2v2h-2zm3-9h2v2h-2zm-30 48h2v2h-2zm18-94h2v2h-2zm-47 19h2v2h-2zm47-31h2v2h-2zm-17 15h2v2h-2zm16-10h2v2h-2zm-46 32h2v2h-2zm26-24h2v2h-2zm22-12h2v2h-2zm-40 25h2v2h-2zm-14 55h2v2h-2zm40-23h2v2h-2zm-18 11h2v2h-2zm-23 23h2v2h-2zm10-12h2v2h-2zm26-71h2v2h-2zm8 0h2v2h-2zm14-8h2v2h-2zm-2 2h2v2h-2zm-3 6h2v2h-2zm-10-6h2v2h-2zm20-1h2v2h-2zm-82-31h2v2h-2zm5 3h2v2h-2zm-44 4h2v2h-2zm30 9h2v2h-2zm2 13h2v2h-2zm-47-19h2v2h-2zm67 15h2v2h-2zm-45-26h2v2h-2zm26 30h2v2h-2zm0-3h2v2h-2zm-31-15h2v2h-2zm44-8h2v2h-2zm-31 1h2v2h-2zm49 17h2v2h-2zm-58 11h2v2h-2zm16-44h2v2h-2zm2 9h2v2h-2zm-2 28h2v2h-2zm-5-2h2v2h-2zm-13 21h2v2h-2zm31-34h2v2h-2zm-47 3h2v2h-2zm5-5h2v2h-2zm9 2h2v2h-2zm2 13h2v2h-2zm20-31h2v2h-2zm2-2h2v2h-2zm-1 47h2v2h-2zm12-26h2v2h-2zm-52 17h2v2h-2zm4-31h2v2h-2zm36-5h2v2h-2zm-21 49h2v2h-2zm-1 0h2v2h-2zm-22-16h2v2h-2zm36 17h2v2h-2zm42-16h2v2h-2zm-20-12h2v2h-2zm-47 7h2v2h-2zm39-7h2v2h-2zm-45 9h2v2h-2zm10-4h2v2h-2zm31 19h2v2h-2zm-38-18h2v2h-2zm9 6h2v2h-2zm0 5h2v2h-2zm29 19h2v2h-2zm-10 3h2v2h-2zm-30-56h2v2h-2zm-9 2h2v2h-2zm-21-13h2v2h-2zm-2-9h2v2h-2zm28 7h2v2h-2zm-19-9h2v2h-2zm13 4h2v2h-2zm2 3h2v2h-2zm5 6h2v2h-2zm28 105h2v2h-2zm-6-19h2v2h-2zm12-3h2v2h-2zm-6-1h2v2h-2zm0 23h2v2h-2zm19-5h2v2h-2zm-9-9h2v2h-2zm-15-15h2v2h-2zm21 14h2v2h-2zm-23-5h2v2h-2zm9-2h2v2h-2zm1 14h2v2h-2zm1 2h2v2h-2zm4 3h2v2h-2zm-9 8h2v2h-2zm20-18h2v2h-2zm-12 13h2v2h-2zm-17-23h2v2h-2zm13 10h2v2h-2zm2 9h2v2h-2zm17-7h2v2h-2zm-7 41h2v2h-2zm-3 4h2v2h-2zm8 7h2v2h-2zm-23-4h2v2h-2zm37-10h2v2h-2zm-23 5h2v2h-2zm-17-16h2v2h-2zm-13-3h2v2h-2zm17 18h2v2h-2zm34-13h2v2h-2zm-5 16h2v2h-2zm-48-21h2v2h-2zm37 15h2v2h-2zm12 8h2v2h-2zm-5 5h2v2h-2zm-45-17h2v2h-2zm18-7h2v2h-2zm2 5h2v2h-2zm9-7h2v2h-2zm-11 0h2v2h-2zm40 18h2v2h-2zm-18-12h2v2h-2zm34 33h2v2h-2zm-9-19h2v2h-2zm5 15h2v2h-2zm4-1h2v2h-2zm6 6h2v2h-2zm-16-1h2v2h-2zm3 5h2v2h-2zm5-9h2v2h-2zm4 10h2v2h-2zm-14-5h2v2h-2zm2-22h2v2h-2zm23 24h2v2h-2zm-24-22h2v2h-2zm27 22h2v2h-2zm-20-15h2v2h-2zm24 15h2v2h-2zm-26 4h2v2h-2zm-2-11h2v2h-2z"/><path fill="#e8141c" d="M457 540h3v3h-3zm44 84h3v3h-3zm-29-84h3v3h-3zm10 95h3v3h-3zm-9-3h3v3h-3zm58-88h3v3h-3zm-14 45h3v3h-3zm-14 80h3v3h-3zm-36-142h3v3h-3zm12 45h3v3h-3zm1-16h3v3h-3zm43 48h3v3h-3zm42 42h3v3h-3zm-68-92h3v3h-3zm-38 77h3v3h-3zm96-12h3v3h-3zm-74 21h3v3h-3zm58-88h3v3h-3zm-10 4h3v3h-3zm-68 17h3v3h-3zm33 9h3v3h-3zm36 64h3v3h-3zm36 21h3v3h-3zm3-28h3v3h-3zm-78-89h3v3h-3zm36 54h3v3h-3zm6-66h3v3h-3zm-8 88h3v3h-3zm-58-44h3v3h-3zm93 37h3v3h-3zm-52 22h3v3h-3zm-1-2h3v3h-3zm13-98h3v3h-3zm-50 11h3v3h-3zm24 76h3v3h-3zm19 11h3v3h-3zm-25-61h3v3h-3zm38 39h3v3h-3zm-66-77h3v3h-3zm12 90h3v3h-3zm71-69h3v3h-3zm-47-35h3v3h-3zm3 39h3v3h-3zm-23-34h3v3h-3zm-6 119h3v3h-3zm10-98h3v3h-3zm70 16h3v3h-3zm-73 22h3v3h-3zm39 39h3v3h-3zm-7 0h3v3h-3zm0-85h3v3h-3zm-39 94h3v3h-3zm71 24h3v3h-3zm-66-13h3v3h-3zm-5-63h3v3h-3zm2-6h3v3h-3zm19 6h3v3h-3zm-7 52h3v3h-3zm56 7h3v3h-3zm-61-2h3v3h-3zm18-60h3v3h-3zm-18-28h3v3h-3zm16 71h3v3h-3zm3 11h3v3h-3zm-34-77h3v3h-3zm63 34h3v3h-3zm-14 67h3v3h-3zm-25-110h3v3h-3zm2 42h3v3h-3zm-33-69h3v3h-3zm42 111h3v3h-3zm-9 22h3v3h-3zm32-74h3v3h-3zm23-25h3v3h-3zm-20 90h3v3h-3zm-7-77h3v3h-3zm-41 7h3v3h-3zm41 83h3v3h-3zm15-61h3v3h-3zm-33 23h3v3h-3zm19-67h3v3h-3zm-16 88h3v3h-3zm-19-17h3v3h-3zm50-56h3v3h-3zm34 69h3v3h-3zm-105-80h3v3h-3zm49 110h3v3h-3zm-40-139h3v3h-3zm20 0h3v3h-3zm11 72h3v3h-3zm3-58h3v3h-3zm-47 96h3v3h-3zm47-47h3v3h-3zm4 30h3v3h-3zm49 21h3v3h-3zm-20-72h3v3h-3zm-64-36h3v3h-3zm46 120h3v3h-3zm-28-76h3v3h-3zm11 81h3v3h-3zm30-16h3v3h-3zm-74-15h3v3h-3zm47-48h3v3h-3zm42 48h3v3h-3zm11 1h3v3h-3zm-41 7h3v3h-3zm-11-95h3v3h-3zm15 107h3v3h-3zm32-109h3v3h-3zm-56 15h3v3h-3z"/><path fill="#ef3f1d" d="M464 534h3v3h-3zm24 58h3v3h-3zm20-15h3v3h-3zm-42-18h3v3h-3zm78 1h3v3h-3zm-49-44h3v3h-3zm-38 61h3v3h-3zm7-51h3v3h-3zm29 4h3v3h-3zm-5 64h3v3h-3zm-15-10h3v3h-3zm60-20h3v3h-3zm-17 17h3v3h-3zm1-46h3v3h-3zm-27 1h3v3h-3zm8 63h3v3h-3zm2-77h3v3h-3zm6 62h3v3h-3zm-4-9h3v3h-3zm-15-27h3v3h-3zm41 48h3v3h-3zm-21 0h3v3h-3zm39-28h3v3h-3zm-35-9h3v3h-3zm-32-11h3v3h-3zm52-16h3v3h-3zm13 27h3v3h-3zm-25 26h3v3h-3zm-1 12h3v3h-3zm19-54h3v3h-3zm-34-20h3v3h-3zm-14 7h3v3h-3zm5-7h3v3h-3zm36 75h3v3h-3zm-52-16h3v3h-3zm39-25h3v3h-3zm33-9h3v3h-3zm-94 42h3v3h-3zm75-17h3v3h-3zm5-25h3v3h-3zm-68-5h3v3h-3zm12 10h3v3h-3zm23 39h3v3h-3zm-46-6h3v3h-3zm25-24h3v3h-3zm66-4h3v3h-3zm-31 41h3v3h-3zm-42 0h3v3h-3zm14-23h3v3h-3zm20-44h3v3h-3zm-15-14h3v3h-3zm15 61h3v3h-3zm-35-56h3v3h-3zm57 70h3v3h-3zm-36-37h3v3h-3zm27 4h3v3h-3zm-53-21h3v3h-3zm8-6h3v3h-3zm-12 16h3v3h-3zm14 38h3v3h-3z"/><path fill="#a8189a" d="M498 583h3v3h-3zm16 75h3v3h-3zm0-79h3v3h-3zm-24-50h3v3h-3zm15 84h3v3h-3zm-34 33h3v3h-3zm-46-214h3v3h-3zm107 130h3v3h-3zm-118-119h3v3h-3zm-1 49h3v3h-3zm-12-12h3v3h-3zm91 148h3v3h-3zm-43-208h3v3h-3zm44 109h3v3h-3zm-9 49h3v3h-3zm20 34h3v3h-3zm-26-90h3v3h-3zm-13 111h3v3h-3zm43-12h3v3h-3zm66 20h3v3h-3zm-102-6h3v3h-3zm94 17h3v3h-3zm-33-82h3v3h-3zm-46 77h3v3h-3zm22-38h3v3h-3zm-76-182h3v3h-3zm8 142h3v3h-3zm96-3h3v3h-3zm1 64h3v3h-3zm-105-197h3v3h-3zm27 199h3v3h-3zm71 19h3v3h-3zm43-32h3v3h-3zm-160-123h3v3h-3zm40 48h3v3h-3zm-48-85h3v3h-3zm8-30h3v3h-3zm128 129h3v3h-3zm-65 27h3v3h-3zm-42-178h3v3h-3zm-30 91h3v3h-3zm-7-52h3v3h-3zm115 231h3v3h-3zm-60-42h3v3h-3zm-55-166h3v3h-3z"/><path fill="#a8189a" d="M320 676h3v3h-3zm-3-71h3v3h-3zm-40 75h3v3h-3zm-4-9h3v3h-3zm65-43h3v3h-3zm-17 52h3v3h-3zm-19-59h3v3h-3zm-24 108h3v3h-3zm78 12h3v3h-3zm-55-85h3v3h-3zm-31-27h3v3h-3zm29-12h3v3h-3zm60 121h3v3h-3zm-72-105h3v3h-3zm1 7h3v3h-3zm-11 93h3v3h-3zm58-110h3v3h-3zm-15-34h3v3h-3zm-44 73h3v3h-3zm-3 32h3v3h-3zm126-89h3v3h-3zm-1-1h3v3h-3zm-89 73h3v3h-3zm56-53h3v3h-3zm-66 32h3v3h-3z"/><path fill="#f26a22" d="M277 640h3v3h-3zm93 99h3v3h-3zm-56-94h3v3h-3zm-18-22h3v3h-3zm50 0h3v3h-3zm-17-7h3v3h-3zm-83 120h3v3h-3zm125-129h3v3h-3zm-13 21h3v3h-3zm-53 17h3v3h-3zm14 36h3v3h-3zm3-73h3v3h-3zm11 20h3v3h-3zm50-32h3v3h-3zm-57 42h3v3h-3zm-18 55h3v3h-3zm71-86h3v3h-3zm-72 13h3v3h-3zm-7 36h3v3h-3zm49-47h3v3h-3z"/><path fill="#f9a848" d="M461 590h3v3h-3zm-12-6h3v3h-3zm-39-19h3v3h-3zm13-21h3v3h-3zm8 2h3v3h-3zm-14 29h3v3h-3zm30-36h3v3h-3zm-32 46h3v3h-3zm-13 0h3v3h-3zm20-65h3v3h-3zm-15 15h3v3h-3zm53 15h3v3h-3zm-51-13h3v3h-3zm-5-57h3v3h-3zm5 40h3v3h-3zm51 22h3v3h-3zm-18-25h3v3h-3zm-39-27h3v3h-3zm46 51h3v3h-3zm-51 47h3v3h-3zm14-80h3v3h-3zm-20 2h3v3h-3zm22 26h3v3h-3zm0-16h3v3h-3zm-3 57h3v3h-3zm3-47h3v3h-3zm19-9h3v3h-3zm-5-3h3v3h-3zm9 7h3v3h-3zm-1 28h3v3h-3zm23 4h3v3h-3zm-15 1h3v3h-3zm-3 5h3v3h-3zm-17-28h3v3h-3zm5-9h3v3h-3zm-6 18h3v3h-3zm16-22h3v3h-3zm23 35h3v3h-3zm-20 10h3v3h-3zm-48-72h3v3h-3z"/><path fill="#e8141c" d="M497 954h2v2h-2zm17-70h2v2h-2zm-108-64h2v2h-2zm123 19h2v2h-2zm-179-45h2v2h-2zm77 120h2v2h-2zm76-38h2v2h-2zm-115-45h2v2h-2zm37-75h2v2h-2zm99 157h2v2h-2zm-56 63h2v2h-2zm56-126h2v2h-2zm-136 39h2v2h-2zm85-42h2v2h-2zm13 21h2v2h-2zm-15 108h2v2h-2zm63-150h2v2h-2zm-110 43h2v2h-2zm-22-10h2v2h-2zm132 30h2v2h-2zm25-38h2v2h-2zm-182 65h2v2h-2zm39-184h2v2h-2zm89 205h2v2h-2zm-108-32h2v2h-2zm57-40h2v2h-2zm-83-12h2v2h-2zm80-72h2v2h-2zm-77 156h2v2h-2zm114-27h2v2h-2z"/><path fill="#6aaed6" d="M423 787h2v2h-2zm-4 134h2v2h-2zm39 68h2v2h-2zm37-126h2v2h-2zm-127 0h2v2h-2zm-35-44h2v2h-2zm142 90h2v2h-2zm-77 18h2v2h-2zm-19-85h2v2h-2zm64-49h2v2h-2zm-42 43h2v2h-2zm30-57h2v2h-2zm130 55h2v2h-2zm-29 28h2v2h-2zm-108 110h2v2h-2zm-55-134h2v2h-2zm119 29h2v2h-2zm-120-7h2v2h-2zm165 20h2v2h-2zm-132-49h2v2h-2z"/></g>
<text x="216.80" y="215.60" font-size="9.0" text-anchor="middle">21</text>
<text x="207.60" y="225.80" font-size="9.0" text-anchor="middle">14</text>
<text x="185.10" y="265.70" font-size="9.0" text-anchor="middle">25</text>
<text x="216.80" y="268.90" font-size="9.0" text-anchor="middle">16</text>
<text x="234.70" y="276.20" font-size="9.0" text-anchor="middle">3</text>
<text x="262.00" y="278.40" font-size="9.0" text-anchor="middle">8</text>
<text x="274.50" y="271.10" font-size="9.0" text-anchor="middle">17</text>
<text x="254.40" y="292.40" font-size="9.0" text-anchor="middle">18</text>
<text x="218.80" y="301.00" font-size="9.0" text-anchor="middle">26</text>
<text x="251.10" y="316.80" font-size="9.0" text-anchor="middle">2</text>
<text x="252.50" y="351.80" font-size="9.0" text-anchor="middle">24</text>
<text x="285.90" y="338.40" font-size="9.0" text-anchor="middle">4</text>
<text x="172.50" y="296.00" font-size="9.0" text-anchor="middle">22</text>
<text x="167.50" y="316.20" font-size="9.0" text-anchor="middle">11</text>
<text x="141.50" y="334.00" font-size="9.0" text-anchor="middle">1</text>
<text x="125.00" y="371.00" font-size="9.0" text-anchor="middle">7</text>
<text x="196.00" y="375.60" font-size="9.0" text-anchor="middle">20</text>
<text x="223.40" y="370.10" font-size="9.0" text-anchor="middle">6</text>
<text x="169.90" y="416.20" font-size="9.0" text-anchor="middle">19</text>
<text x="209.60" y="419.90" font-size="9.0" text-anchor="middle">0</text>
<text x="249.30" y="426.00" font-size="9.0" text-anchor="middle">23</text>
<text x="265.00" y="430.10" font-size="9.0" text-anchor="middle">12</text>
<text x="227.20" y="441.80" font-size="9.0" text-anchor="middle">15</text>
<text x="194.70" y="460.00" font-size="9.0" text-anchor="middle">13</text>
<text x="208.20" y="472.50" font-size="9.0" text-anchor="middle">5</text>
<text x="253.40" y="468.00" font-size="9.0" text-anchor="middle">10</text>
<text x="233.70" y="481.90" font-size="9.0" text-anchor="middle">9</text>
<text x="256.00" y="245.60" font-size="10.3" text-anchor="middle">Corpus</text>
<text x="125.50" y="307.00" font-size="10.3" text-anchor="middle" transform="rotate(-40 125.50 307.00)">Tunica</text>
<text x="195.00" y="337.00" font-size="10.3" text-anchor="middle">G1</text>
<text x="195.00" y="349.80" font-size="10.3" text-anchor="middle">transition</text>
<text x="286.90" y="409.50" font-size="10.3" text-anchor="middle">M</text>
<text x="275.90" y="471.00" font-size="10.3" text-anchor="middle">G2</text>
<text x="173.00" y="480.40" font-size="10.3" text-anchor="middle">S</text>
<text x="235.20" y="453.50" font-size="9.2" text-anchor="middle" transform="rotate(-40 235.20 453.50)">Corpus</text>
<text x="246.90" y="463.70" font-size="9.2" text-anchor="middle" transform="rotate(-62 246.90 463.70)">Tunica</text>
<circle cx="410.6" cy="357.2" r="5.6" fill="none" stroke="#444" stroke-width="1" stroke-dasharray="1.7 1.4"/>
<circle cx="410.6" cy="357.2" r="0.9" fill="#e8141c"/>
<text x="408.20" y="346.00" font-size="10.2" text-anchor="middle">24,4</text>
<circle cx="327.8" cy="501.2" r="5.6" fill="none" stroke="#444" stroke-width="1" stroke-dasharray="1.7 1.4"/>
<circle cx="327.8" cy="501.2" r="0.9" fill="#e8141c"/>
<text x="329.40" y="487.00" font-size="10.2" text-anchor="middle">17,2</text>
<line x1="448.60" y1="180.20" x2="448.60" y2="236.92" stroke="#3a3a3a" stroke-width="0.9"/>
<text x="444.20" y="208.46" font-size="10.6" text-anchor="middle" transform="rotate(-90 444.20 208.46)">Vasculature</text>
<circle cx="457.8" cy="183.20" r="5.4" fill="#c2e3b8"/>
<text x="457.80" y="185.70" font-size="7.0" text-anchor="middle" fill="#333" textLength="7.60" lengthAdjust="spacingAndGlyphs">25</text>
<text x="466.30" y="186.80" font-size="10.5" textLength="71.50" lengthAdjust="spacingAndGlyphs">Vascular tissue</text>
<circle cx="457.8" cy="195.83" r="5.4" fill="#a5d79a"/>
<text x="457.80" y="198.33" font-size="7.0" text-anchor="middle" fill="#333" textLength="7.60" lengthAdjust="spacingAndGlyphs">14</text>
<text x="466.00" y="199.43" font-size="10.5" textLength="95.40" lengthAdjust="spacingAndGlyphs">Vascular tissue: Pith</text>
<circle cx="457.8" cy="208.46" r="5.4" fill="#74c476"/>
<text x="457.80" y="210.96" font-size="7.0" text-anchor="middle" fill="#333" textLength="7.60" lengthAdjust="spacingAndGlyphs">21</text>
<text x="465.60" y="212.06" font-size="10.5" textLength="149.90" lengthAdjust="spacingAndGlyphs">Vascular tissue: Pith (two veins)</text>
<circle cx="457.8" cy="221.09" r="5.4" fill="#31a354"/>
<text x="457.80" y="223.59" font-size="7.0" text-anchor="middle" fill="#fff" textLength="7.60" lengthAdjust="spacingAndGlyphs">17</text>
<text x="465.40" y="224.69" font-size="10.5" textLength="145.70" lengthAdjust="spacingAndGlyphs">Vascular tissue/Meristem base</text>
<circle cx="457.8" cy="233.72" r="5.4" fill="#1a8a3e"/>
<text x="457.80" y="236.22" font-size="7.0" text-anchor="middle" fill="#fff" textLength="7.60" lengthAdjust="spacingAndGlyphs">24</text>
<text x="465.40" y="237.32" font-size="10.5" textLength="136.50" lengthAdjust="spacingAndGlyphs">Vascular tissue: Pith + Xylem</text>
<line x1="448.60" y1="247.30" x2="448.60" y2="291.39" stroke="#3a3a3a" stroke-width="0.9"/>
<text x="444.20" y="269.25" font-size="10.6" text-anchor="middle" transform="rotate(-90 444.20 269.25)">Tunica</text>
<circle cx="457.8" cy="250.30" r="5.4" fill="#c6dbef"/>
<text x="457.80" y="252.80" font-size="7.0" text-anchor="middle" fill="#333" textLength="7.60" lengthAdjust="spacingAndGlyphs">11</text>
<text x="466.40" y="253.90" font-size="10.5" textLength="92.50" lengthAdjust="spacingAndGlyphs">L1 - epidermis, TSM</text>
<circle cx="457.8" cy="262.93" r="5.4" fill="#a5cde5"/>
<text x="457.80" y="265.43" font-size="7.0" text-anchor="middle" fill="#333" textLength="7.60" lengthAdjust="spacingAndGlyphs">22</text>
<text x="466.40" y="266.53" font-size="10.5" textLength="92.50" lengthAdjust="spacingAndGlyphs">L1 - epidermis, LSM</text>
<circle cx="457.8" cy="275.56" r="5.4" fill="#6aaed6"/>
<text x="457.80" y="278.06" font-size="7.0" text-anchor="middle" fill="#fff">1</text>
<text x="466.40" y="279.16" font-size="10.5" textLength="85.80" lengthAdjust="spacingAndGlyphs">L1 - epidermis, FM</text>
<circle cx="457.8" cy="288.19" r="5.4" fill="#2f7ebc"/>
<text x="457.80" y="290.69" font-size="7.0" text-anchor="middle" fill="#fff">7</text>
<text x="466.40" y="291.79" font-size="10.5" textLength="66.50" lengthAdjust="spacingAndGlyphs">L1 - epidermis</text>
<line x1="448.60" y1="301.70" x2="448.60" y2="383.68" stroke="#3a3a3a" stroke-width="0.9"/>
<text x="444.20" y="342.59" font-size="10.6" text-anchor="middle" transform="rotate(-90 444.20 342.59)">Corpus</text>
<circle cx="457.8" cy="304.70" r="5.4" fill="#fde28c"/>
<text x="457.80" y="307.20" font-size="7.0" text-anchor="middle" fill="#333" textLength="7.60" lengthAdjust="spacingAndGlyphs">16</text>
<text x="465.40" y="308.30" font-size="10.5" textLength="145.70" lengthAdjust="spacingAndGlyphs">Vascular tissue/Meristem base</text>
<circle cx="457.8" cy="317.33" r="5.4" fill="#fdc25f"/>
<text x="457.80" y="319.83" font-size="7.0" text-anchor="middle" fill="#333">3</text>
<text x="466.80" y="320.93" font-size="10.5" textLength="44.50" lengthAdjust="spacingAndGlyphs">Meristem</text>
<circle cx="457.8" cy="329.96" r="5.4" fill="#f9a848"/>
<text x="457.80" y="332.46" font-size="7.0" text-anchor="middle" fill="#333" textLength="7.60" lengthAdjust="spacingAndGlyphs">26</text>
<text x="466.80" y="333.56" font-size="10.5" textLength="44.50" lengthAdjust="spacingAndGlyphs">Meristem</text>
<circle cx="457.8" cy="342.59" r="5.4" fill="#f98a2a"/>
<text x="457.80" y="345.09" font-size="7.0" text-anchor="middle" fill="#fff">8</text>
<text x="465.80" y="346.19" font-size="10.5" textLength="95.10" lengthAdjust="spacingAndGlyphs">Meristem - SM, LSM</text>
<circle cx="457.8" cy="355.22" r="5.4" fill="#f47421"/>
<text x="457.80" y="357.72" font-size="7.0" text-anchor="middle" fill="#fff" textLength="7.60" lengthAdjust="spacingAndGlyphs">18</text>
<text x="466.20" y="358.82" font-size="10.5" textLength="91.00" lengthAdjust="spacingAndGlyphs">Meristem - IM, TSM</text>
<circle cx="457.8" cy="367.85" r="5.4" fill="#f0461a"/>
<text x="457.80" y="370.35" font-size="7.0" text-anchor="middle" fill="#fff">2</text>
<text x="466.20" y="371.45" font-size="10.5" textLength="91.00" lengthAdjust="spacingAndGlyphs">Meristem - IM, TSM</text>
<circle cx="457.8" cy="380.48" r="5.4" fill="#ee1111"/>
<text x="457.80" y="382.98" font-size="7.0" text-anchor="middle" fill="#fff">4</text>
<text x="465.20" y="384.08" font-size="10.5" textLength="115.60" lengthAdjust="spacingAndGlyphs">Meristem - FM, F organs</text>
<line x1="448.60" y1="394.30" x2="448.60" y2="526.80" stroke="#3a3a3a" stroke-width="0.9"/>
<text x="444.20" y="460.45" font-size="10.6" text-anchor="middle" transform="rotate(-90 444.20 460.45)">Dividing cells</text>
<circle cx="457.8" cy="397.30" r="5.4" fill="#f6c5f0"/>
<text x="457.80" y="399.80" font-size="7.0" text-anchor="middle" fill="#333" textLength="7.60" lengthAdjust="spacingAndGlyphs">12</text>
<text x="466.80" y="400.90" font-size="10.5" textLength="40.30" lengthAdjust="spacingAndGlyphs">M phase</text>
<circle cx="457.8" cy="409.93" r="5.4" fill="#efb1e8"/>
<text x="457.80" y="412.43" font-size="7.0" text-anchor="middle" fill="#333" textLength="7.60" lengthAdjust="spacingAndGlyphs">10</text>
<text x="466.50" y="413.53" font-size="10.5" textLength="45.50" lengthAdjust="spacingAndGlyphs">G2 phase</text>
<circle cx="457.8" cy="422.56" r="5.4" fill="#e99ce0"/>
<text x="457.80" y="425.06" font-size="7.0" text-anchor="middle" fill="#333" textLength="7.60" lengthAdjust="spacingAndGlyphs">15</text>
<text x="466.50" y="426.16" font-size="10.5" textLength="45.50" lengthAdjust="spacingAndGlyphs">G2 phase</text>
<circle cx="457.8" cy="435.19" r="5.4" fill="#dd80d3"/>
<text x="457.80" y="437.69" font-size="7.0" text-anchor="middle" fill="#333" textLength="7.60" lengthAdjust="spacingAndGlyphs">23</text>
<text x="466.50" y="438.79" font-size="10.5" textLength="45.50" lengthAdjust="spacingAndGlyphs">G2 phase</text>
<circle cx="457.8" cy="447.82" r="5.4" fill="#d767cb"/>
<text x="457.80" y="450.32" font-size="7.0" text-anchor="middle" fill="#333">9</text>
<text x="466.60" y="451.42" font-size="10.5" textLength="38.50" lengthAdjust="spacingAndGlyphs">S phase</text>
<circle cx="457.8" cy="460.45" r="5.4" fill="#cf52c3"/>
<text x="457.80" y="462.95" font-size="7.0" text-anchor="middle" fill="#fff">5</text>
<text x="466.60" y="464.05" font-size="10.5" textLength="38.50" lengthAdjust="spacingAndGlyphs">S phase</text>
<circle cx="457.8" cy="473.08" r="5.4" fill="#c53cb9"/>
<text x="457.80" y="475.58" font-size="7.0" text-anchor="middle" fill="#fff" textLength="7.60" lengthAdjust="spacingAndGlyphs">13</text>
<text x="466.60" y="476.68" font-size="10.5" textLength="38.50" lengthAdjust="spacingAndGlyphs">S phase</text>
<circle cx="457.8" cy="485.71" r="5.4" fill="#b3219e"/>
<text x="457.80" y="488.21" font-size="7.0" text-anchor="middle" fill="#fff">0</text>
<text x="466.60" y="489.31" font-size="10.5" textLength="38.50" lengthAdjust="spacingAndGlyphs">S phase</text>
<circle cx="457.8" cy="498.34" r="5.4" fill="#9c178b"/>
<text x="457.80" y="500.84" font-size="7.0" text-anchor="middle" fill="#fff" textLength="7.60" lengthAdjust="spacingAndGlyphs">19</text>
<text x="465.20" y="501.94" font-size="10.5" textLength="106.90" lengthAdjust="spacingAndGlyphs">G1 transition- Vascular</text>
<circle cx="457.8" cy="510.97" r="5.4" fill="#7c0f70"/>
<text x="457.80" y="513.47" font-size="7.0" text-anchor="middle" fill="#fff">6</text>
<text x="465.20" y="514.57" font-size="10.5" textLength="116.10" lengthAdjust="spacingAndGlyphs">G1 transition- Meristems</text>
<circle cx="457.8" cy="523.60" r="5.4" fill="#5a0b52"/>
<text x="457.80" y="526.10" font-size="7.0" text-anchor="middle" fill="#fff" textLength="7.60" lengthAdjust="spacingAndGlyphs">20</text>
<text x="465.20" y="527.20" font-size="10.5" textLength="128.50" lengthAdjust="spacingAndGlyphs">G1 transition - Epidermis L1</text>
<text x="-0.20" y="558.10" font-size="15.5" fill="#000" font-weight="bold">c</text>
<text x="16.90" y="567.20" font-size="10.8">Clusters</text>
<rect x="13.0" y="587.3" width="32.0" height="7.4" fill="#b3219e"/>
<text x="30.70" y="577.60" font-size="9.6" text-anchor="middle">0</text>
<rect x="46.0" y="587.3" width="26.6" height="7.4" fill="#6aaed6"/>
<text x="58.40" y="586.20" font-size="9.6" text-anchor="middle">1</text>
<rect x="73.6" y="587.3" width="24.4" height="7.4" fill="#f0461a"/>
<text x="86.70" y="577.60" font-size="9.6" text-anchor="middle">2</text>
<rect x="99.0" y="587.3" width="20.9" height="7.4" fill="#fdc25f"/>
<text x="109.50" y="586.20" font-size="9.6" text-anchor="middle">3</text>
<rect x="120.9" y="587.3" width="18.1" height="7.4" fill="#ee1111"/>
<text x="132.00" y="577.60" font-size="9.6" text-anchor="middle">4</text>
<rect x="140.0" y="587.3" width="16.1" height="7.4" fill="#cf52c3"/>
<text x="148.30" y="586.20" font-size="9.6" text-anchor="middle">5</text>
<rect x="157.1" y="587.3" width="16.6" height="7.4" fill="#7c0f70"/>
<text x="167.30" y="577.60" font-size="9.6" text-anchor="middle">6</text>
<rect x="174.7" y="587.3" width="16.5" height="7.4" fill="#2f7ebc"/>
<text x="183.00" y="586.20" font-size="9.6" text-anchor="middle">7</text>
<rect x="192.2" y="587.3" width="11.7" height="7.4" fill="#f98a2a"/>
<text x="199.00" y="577.60" font-size="9.6" text-anchor="middle">8</text>
<rect x="204.9" y="587.3" width="12.9" height="7.4" fill="#d767cb"/>
<text x="211.20" y="586.20" font-size="9.6" text-anchor="middle">9</text>
<rect x="218.8" y="587.3" width="11.5" height="7.4" fill="#efb1e8"/>
<text x="224.40" y="577.60" font-size="9.6" text-anchor="middle">10</text>
<rect x="231.3" y="587.3" width="11.4" height="7.4" fill="#c6dbef"/>
<text x="236.00" y="586.20" font-size="9.6" text-anchor="middle">11</text>
<rect x="243.7" y="587.3" width="10.7" height="7.4" fill="#f6c5f0"/>
<text x="247.20" y="577.60" font-size="9.6" text-anchor="middle">12</text>
<rect x="255.4" y="587.3" width="10.9" height="7.4" fill="#c53cb9"/>
<text x="258.80" y="586.20" font-size="9.6" text-anchor="middle">13</text>
<rect x="267.3" y="587.3" width="9.8" height="7.4" fill="#a5d79a"/>
<text x="271.00" y="577.60" font-size="9.6" text-anchor="middle">14</text>
<rect x="278.1" y="587.3" width="9.6" height="7.4" fill="#e99ce0"/>
<text x="281.00" y="586.20" font-size="9.6" text-anchor="middle">15</text>
<rect x="288.7" y="587.3" width="9.5" height="7.4" fill="#fde28c"/>
<text x="292.70" y="577.60" font-size="9.6" text-anchor="middle">16</text>
<rect x="299.2" y="587.3" width="8.5" height="7.4" fill="#31a354"/>
<text x="302.60" y="586.20" font-size="9.6" text-anchor="middle">17</text>
<rect x="308.7" y="587.3" width="8.1" height="7.4" fill="#f47421"/>
<text x="310.50" y="577.60" font-size="9.6" text-anchor="middle">18</text>
<rect x="317.8" y="587.3" width="8.2" height="7.4" fill="#9c178b"/>
<text x="320.10" y="586.20" font-size="9.6" text-anchor="middle">19</text>
<rect x="327.0" y="587.3" width="6.5" height="7.4" fill="#5a0b52"/>
<text x="328.90" y="577.60" font-size="9.6" text-anchor="middle">20</text>
<rect x="334.5" y="587.3" width="5.9" height="7.4" fill="#74c476"/>
<text x="336.80" y="586.20" font-size="9.6" text-anchor="middle">21</text>
<rect x="341.4" y="587.3" width="6.5" height="7.4" fill="#a5cde5"/>
<text x="342.60" y="577.60" font-size="9.6" text-anchor="middle">22</text>
<rect x="348.9" y="587.3" width="5.4" height="7.4" fill="#dd80d3"/>
<text x="350.20" y="586.20" font-size="9.6" text-anchor="middle">23</text>
<rect x="355.3" y="587.3" width="4.0" height="7.4" fill="#1a8a3e"/>
<text x="356.40" y="577.60" font-size="9.6" text-anchor="middle">24</text>
<rect x="360.3" y="587.3" width="3.7" height="7.4" fill="#c2e3b8"/>
<text x="362.50" y="586.20" font-size="9.6" text-anchor="middle">25</text>
<rect x="365.0" y="587.3" width="3.1" height="7.4" fill="#f9a848"/>
<text x="368.30" y="577.60" font-size="9.6" text-anchor="middle">26</text>
<text x="9.00" y="773.00" font-size="10.7" text-anchor="middle" transform="rotate(-90 9.00 773.00)">Top 10 representative gene markers per cluster</text>
<g><rect x="13" y="600.0" width="355.6" height="2.8" fill="#dae8f3"/><rect x="13" y="602.7" width="355.6" height="4.1" fill="#e7f0f7"/><rect x="13" y="606.7" width="355.6" height="1.4" fill="#e7f0f7"/><rect x="13" y="608.0" width="355.6" height="1.4" fill="#f5f9fc"/><rect x="13" y="609.3" width="355.6" height="1.4" fill="#dae8f3"/><rect x="13" y="610.6" width="355.6" height="1.5" fill="#f5f9fc"/><rect x="13" y="612.0" width="355.6" height="4.1" fill="#f5f9fc"/><rect x="13" y="616.0" width="355.6" height="1.5" fill="#f5f9fc"/><rect x="13" y="617.4" width="355.6" height="4.1" fill="#f5f9fc"/><rect x="13" y="621.4" width="355.6" height="1.5" fill="#f5f9fc"/><rect x="13" y="622.8" width="355.6" height="1.5" fill="#e7f0f7"/><rect x="13" y="624.2" width="355.6" height="1.5" fill="#dae8f3"/><rect x="13" y="625.6" width="355.6" height="1.5" fill="#e7f0f7"/><rect x="13" y="627.0" width="355.6" height="1.4" fill="#cbdff0"/><rect x="13" y="628.3" width="355.6" height="1.4" fill="#e7f0f7"/><rect x="13" y="629.6" width="355.6" height="1.5" fill="#f5f9fc"/><rect x="13" y="631.0" width="355.6" height="1.5" fill="#f5f9fc"/><rect x="13" y="632.4" width="355.6" height="1.5" fill="#f5f9fc"/><rect x="13" y="633.8" width="355.6" height="1.5" fill="#f5f9fc"/><rect x="13" y="635.2" width="355.6" height="1.5" fill="#e7f0f7"/><rect x="13" y="636.6" width="355.6" height="2.8" fill="#f5f9fc"/><rect x="13" y="639.3" width="355.6" height="1.4" fill="#e7f0f7"/><rect x="13" y="640.6" width="355.6" height="1.5" fill="#f5f9fc"/><rect x="13" y="642.0" width="355.6" height="1.5" fill="#f5f9fc"/><rect x="13" y="643.4" width="355.6" height="2.8" fill="#f5f9fc"/><rect x="13" y="646.1" width="355.6" height="4.1" fill="#f5f9fc"/><rect x="13" y="650.1" width="355.6" height="1.5" fill="#e7f0f7"/><rect x="13" y="651.5" width="355.6" height="1.5" fill="#f5f9fc"/><rect x="13" y="652.9" width="355.6" height="2.8" fill="#f5f9fc"/><rect x="13" y="655.6" width="355.6" height="2.8" fill="#e7f0f7"/><rect x="13" y="658.3" width="355.6" height="2.8" fill="#e7f0f7"/><rect x="13" y="661.0" width="355.6" height="1.4" fill="#f5f9fc"/><rect x="13" y="662.3" width="355.6" height="4.1" fill="#f5f9fc"/><rect x="13" y="666.3" width="355.6" height="2.8" fill="#f5f9fc"/><rect x="13" y="669.0" width="355.6" height="4.1" fill="#f5f9fc"/><rect x="13" y="673.0" width="355.6" height="1.4" fill="#e7f0f7"/><rect x="13" y="674.3" width="355.6" height="1.5" fill="#e7f0f7"/><rect x="13" y="675.7" width="355.6" height="2.8" fill="#f5f9fc"/><rect x="13" y="678.4" width="355.6" height="2.8" fill="#e7f0f7"/><rect x="13" y="681.1" width="355.6" height="1.5" fill="#e7f0f7"/><rect x="13" y="682.5" width="355.6" height="1.4" fill="#e7f0f7"/><rect x="13" y="683.8" width="355.6" height="2.8" fill="#f5f9fc"/><rect x="13" y="686.5" width="355.6" height="1.4" fill="#f5f9fc"/><rect x="13" y="687.8" width="355.6" height="2.8" fill="#e7f0f7"/><rect x="13" y="690.5" width="355.6" height="4.1" fill="#f5f9fc"/><rect x="13" y="694.5" width="355.6" height="4.1" fill="#dae8f3"/><rect x="13" y="698.5" width="355.6" height="2.8" fill="#f5f9fc"/><rect x="13" y="701.2" width="355.6" height="4.1" fill="#f5f9fc"/><rect x="13" y="705.2" width="355.6" height="1.5" fill="#f5f9fc"/><rect x="13" y="706.6" width="355.6" height="1.4" fill="#f5f9fc"/><rect x="13" y="707.9" width="355.6" height="2.8" fill="#f5f9fc"/><rect x="13" y="710.6" width="355.6" height="1.5" fill="#f5f9fc"/><rect x="13" y="712.0" width="355.6" height="4.1" fill="#f5f9fc"/><rect x="13" y="716.0" width="355.6" height="4.1" fill="#f5f9fc"/><rect x="13" y="720.0" width="355.6" height="2.8" fill="#dae8f3"/><rect x="13" y="722.7" width="355.6" height="4.1" fill="#dae8f3"/><rect x="13" y="726.7" width="355.6" height="2.8" fill="#e7f0f7"/><rect x="13" y="729.4" width="355.6" height="2.8" fill="#e7f0f7"/><rect x="13" y="732.1" width="355.6" height="4.1" fill="#dae8f3"/><rect x="13" y="736.1" width="355.6" height="1.5" fill="#f5f9fc"/><rect x="13" y="737.5" width="355.6" height="1.5" fill="#f5f9fc"/><rect x="13" y="738.9" width="355.6" height="1.5" fill="#f5f9fc"/><rect x="13" y="740.3" width="355.6" height="1.5" fill="#f5f9fc"/><rect x="13" y="741.7" width="355.6" height="2.8" fill="#f5f9fc"/><rect x="13" y="744.4" width="355.6" height="4.1" fill="#f5f9fc"/><rect x="13" y="748.4" width="355.6" height="1.5" fill="#e7f0f7"/><rect x="13" y="749.8" width="355.6" height="1.5" fill="#e7f0f7"/><rect x="13" y="751.2" width="355.6" height="1.5" fill="#dae8f3"/><rect x="13" y="752.6" width="355.6" height="1.4" fill="#f5f9fc"/><rect x="13" y="753.9" width="355.6" height="1.5" fill="#f5f9fc"/><rect x="13" y="755.3" width="355.6" height="4.1" fill="#f5f9fc"/><rect x="13" y="759.3" width="355.6" height="4.1" fill="#e7f0f7"/><rect x="13" y="763.3" width="355.6" height="1.4" fill="#f5f9fc"/><rect x="13" y="764.6" width="355.6" height="1.5" fill="#f5f9fc"/><rect x="13" y="766.0" width="355.6" height="1.4" fill="#f5f9fc"/><rect x="13" y="767.3" width="355.6" height="1.4" fill="#f5f9fc"/><rect x="13" y="768.6" width="355.6" height="1.5" fill="#f5f9fc"/><rect x="13" y="770.0" width="355.6" height="1.4" fill="#dae8f3"/><rect x="13" y="771.3" width="355.6" height="1.5" fill="#f5f9fc"/><rect x="13" y="772.7" width="355.6" height="1.5" fill="#e7f0f7"/><rect x="13" y="774.1" width="355.6" height="1.5" fill="#e7f0f7"/><rect x="13" y="775.5" width="355.6" height="2.8" fill="#e7f0f7"/><rect x="13" y="778.2" width="355.6" height="4.1" fill="#f5f9fc"/><rect x="13" y="782.2" width="355.6" height="4.1" fill="#cbdff0"/><rect x="13" y="786.2" width="355.6" height="4.1" fill="#f5f9fc"/><rect x="13" y="790.2" width="355.6" height="2.8" fill="#f5f9fc"/><rect x="13" y="792.9" width="355.6" height="1.4" fill="#e7f0f7"/><rect x="13" y="794.2" width="355.6" height="2.8" fill="#f5f9fc"/><rect x="13" y="796.9" width="355.6" height="1.5" fill="#f5f9fc"/><rect x="13" y="798.3" width="355.6" height="1.5" fill="#dae8f3"/><rect x="13" y="799.7" width="355.6" height="1.5" fill="#f5f9fc"/><rect x="13" y="801.1" width="355.6" height="1.5" fill="#dae8f3"/><rect x="13" y="802.5" width="355.6" height="1.5" fill="#f5f9fc"/><rect x="13" y="803.9" width="355.6" height="1.4" fill="#e7f0f7"/><rect x="13" y="805.2" width="355.6" height="2.8" fill="#f5f9fc"/><rect x="13" y="807.9" width="355.6" height="1.5" fill="#f5f9fc"/><rect x="13" y="809.3" width="355.6" height="1.5" fill="#f5f9fc"/><rect x="13" y="810.7" width="355.6" height="1.5" fill="#f5f9fc"/><rect x="13" y="812.1" width="355.6" height="1.5" fill="#e7f0f7"/><rect x="13" y="813.5" width="355.6" height="1.5" fill="#e7f0f7"/><rect x="13" y="814.9" width="355.6" height="4.1" fill="#e7f0f7"/><rect x="13" y="818.9" width="355.6" height="1.5" fill="#f5f9fc"/><rect x="13" y="820.3" width="355.6" height="4.1" fill="#f5f9fc"/><rect x="13" y="824.3" width="355.6" height="1.4" fill="#cbdff0"/><rect x="13" y="825.6" width="355.6" height="2.8" fill="#f5f9fc"/><rect x="13" y="828.3" width="355.6" height="1.5" fill="#e7f0f7"/><rect x="13" y="829.7" width="355.6" height="2.8" fill="#f5f9fc"/><rect x="13" y="832.4" width="355.6" height="2.8" fill="#dae8f3"/><rect x="13" y="835.1" width="355.6" height="2.8" fill="#f5f9fc"/><rect x="13" y="837.8" width="355.6" height="1.4" fill="#f5f9fc"/><rect x="13" y="839.1" width="355.6" height="1.5" fill="#f5f9fc"/><rect x="13" y="840.5" width="355.6" height="4.1" fill="#e7f0f7"/><rect x="13" y="844.5" width="355.6" height="1.5" fill="#e7f0f7"/><rect x="13" y="845.9" width="355.6" height="4.1" fill="#dae8f3"/><rect x="13" y="849.9" width="355.6" height="2.8" fill="#e7f0f7"/><rect x="13" y="852.6" width="355.6" height="1.4" fill="#e7f0f7"/><rect x="13" y="853.9" width="355.6" height="1.4" fill="#dae8f3"/><rect x="13" y="855.2" width="355.6" height="1.5" fill="#f5f9fc"/><rect x="13" y="856.6" width="355.6" height="1.5" fill="#f5f9fc"/><rect x="13" y="858.0" width="355.6" height="2.8" fill="#f5f9fc"/><rect x="13" y="860.7" width="355.6" height="4.1" fill="#f5f9fc"/><rect x="13" y="864.7" width="355.6" height="1.4" fill="#e7f0f7"/><rect x="13" y="866.0" width="355.6" height="1.5" fill="#cbdff0"/><rect x="13" y="867.4" width="355.6" height="1.4" fill="#f5f9fc"/><rect x="13" y="868.7" width="355.6" height="4.1" fill="#e7f0f7"/><rect x="13" y="872.7" width="355.6" height="1.5" fill="#e7f0f7"/><rect x="13" y="874.1" width="355.6" height="1.5" fill="#cbdff0"/><rect x="13" y="875.5" width="355.6" height="2.8" fill="#f5f9fc"/><rect x="13" y="878.2" width="355.6" height="1.5" fill="#f5f9fc"/><rect x="13" y="879.6" width="355.6" height="1.4" fill="#e7f0f7"/><rect x="13" y="880.9" width="355.6" height="1.4" fill="#f5f9fc"/><rect x="13" y="882.2" width="355.6" height="1.5" fill="#f5f9fc"/><rect x="13" y="883.6" width="355.6" height="1.5" fill="#e7f0f7"/><rect x="13" y="885.0" width="355.6" height="1.5" fill="#f5f9fc"/><rect x="13" y="886.4" width="355.6" height="1.5" fill="#f5f9fc"/><rect x="13" y="887.8" width="355.6" height="1.5" fill="#e7f0f7"/><rect x="13" y="889.2" width="355.6" height="2.8" fill="#f5f9fc"/><rect x="13" y="891.9" width="355.6" height="4.1" fill="#e7f0f7"/><rect x="13" y="895.9" width="355.6" height="1.4" fill="#dae8f3"/><rect x="13" y="897.2" width="355.6" height="2.8" fill="#dae8f3"/><rect x="13" y="899.9" width="355.6" height="1.5" fill="#e7f0f7"/><rect x="13" y="901.3" width="355.6" height="1.5" fill="#f5f9fc"/><rect x="13" y="902.7" width="355.6" height="1.5" fill="#f5f9fc"/><rect x="13" y="904.1" width="355.6" height="1.5" fill="#f5f9fc"/><rect x="13" y="905.5" width="355.6" height="1.4" fill="#dae8f3"/><rect x="13" y="906.8" width="355.6" height="1.5" fill="#e7f0f7"/><rect x="13" y="908.2" width="355.6" height="1.5" fill="#f5f9fc"/><rect x="13" y="909.6" width="355.6" height="4.1" fill="#e7f0f7"/><rect x="13" y="913.6" width="355.6" height="1.4" fill="#e7f0f7"/><rect x="13" y="914.9" width="355.6" height="2.8" fill="#e7f0f7"/><rect x="13" y="917.6" width="355.6" height="1.5" fill="#e7f0f7"/><rect x="13" y="919.0" width="355.6" height="1.4" fill="#dae8f3"/><rect x="13" y="920.3" width="355.6" height="1.4" fill="#f5f9fc"/><rect x="13" y="921.6" width="355.6" height="2.8" fill="#f5f9fc"/><rect x="13" y="924.3" width="355.6" height="1.4" fill="#f5f9fc"/><rect x="13" y="925.6" width="355.6" height="1.5" fill="#f5f9fc"/><rect x="13" y="927.0" width="355.6" height="1.4" fill="#f5f9fc"/><rect x="13" y="928.3" width="355.6" height="1.5" fill="#cbdff0"/><rect x="13" y="929.7" width="355.6" height="1.5" fill="#f5f9fc"/><rect x="13" y="931.1" width="355.6" height="2.8" fill="#f5f9fc"/><rect x="13" y="933.8" width="355.6" height="1.5" fill="#e7f0f7"/><rect x="13" y="935.2" width="355.6" height="1.5" fill="#dae8f3"/><rect x="13" y="936.6" width="355.6" height="1.5" fill="#dae8f3"/><rect x="13" y="938.0" width="355.6" height="2.8" fill="#dae8f3"/><rect x="13" y="940.7" width="355.6" height="1.5" fill="#e7f0f7"/><rect x="13" y="942.1" width="355.6" height="1.5" fill="#f5f9fc"/><rect x="13" y="943.5" width="355.6" height="4.1" fill="#f5f9fc"/><rect x="13" y="947.5" width="355.6" height="1.4" fill="#e7f0f7"/><rect x="13" y="948.8" width="355.6" height="4.1" fill="#f5f9fc"/><rect x="13" y="952.8" width="355.6" height="2.8" fill="#e7f0f7"/><rect x="13" y="955.5" width="355.6" height="1.5" fill="#dae8f3"/><rect x="13" y="956.9" width="355.6" height="2.8" fill="#f5f9fc"/><rect x="13" y="959.6" width="355.6" height="1.5" fill="#dae8f3"/><rect x="13" y="961.0" width="355.6" height="0.7" fill="#e7f0f7"/><rect x="13" y="600" width="355.6" height="2" fill="#b9d3e8"/><rect x="13" y="673" width="355.6" height="13" fill="#d3e5f2"/><rect x="13" y="603" width="355.6" height="3" fill="#d8e8f3"/><rect x="13" y="640" width="355.6" height="3" fill="#d8e8f3"/><rect x="13" y="700" width="355.6" height="3" fill="#d3e5f2"/><rect x="13" y="731" width="355.6" height="12" fill="#c6dcee"/><rect x="13" y="866" width="355.6" height="6" fill="#b5d1e8"/><rect x="13" y="845" width="355.6" height="5" fill="#d0e3f1"/><rect x="13" y="660" width="355.6" height="2" fill="#cfe2f0"/><rect x="13" y="892" width="355.6" height="4" fill="#d2e4f1"/><rect x="13" y="702" width="355.6" height="2" fill="#cde0ef"/><rect x="13" y="915" width="355.6" height="3" fill="#d2e4f1"/><rect x="13" y="935" width="355.6" height="3" fill="#cfe2f0"/><rect x="13" y="950" width="355.6" height="3" fill="#d5e6f2"/></g>
<defs><pattern id="sp0" width="83" height="61" patternUnits="userSpaceOnUse"><path stroke="#b83a3a" stroke-width="1" d="M55.5 32v3M26.5 11v1M24.5 10v3M74.5 16v1M74.5 55v1M35.5 45v2M39.5 33v2M15.5 46v2M6.5 12v1M53.5 9v3M52.5 4v2M49.5 17v1M80.5 1v3M20.5 57v2M73.5 35v1M58.5 40v2M38.5 8v3M53.5 1v2M13.5 44v1M48.5 45v2M62.5 53v1M60.5 58v3M67.5 52v3M59.5 44v1M46.5 56v1M56.5 59v2M26.5 20v1M26.5 58v2M76.5 54v2M69.5 28v1M19.5 12v1M51.5 57v1M3.5 46v1M11.5 46v1M78.5 30v1M59.5 53v1M45.5 2v2M12.5 33v1M35.5 53v1M42.5 26v2M51.5 27v1M12.5 52v3M39.5 11v1M19.5 25v2M0.5 18v1M76.5 18v3M16.5 30v1M82.5 18v1"/><path stroke="#d9827a" stroke-width="1" d="M15.5 5v2M44.5 23v2M26.5 25v1M48.5 10v3M15.5 11v1M18.5 49v3M30.5 28v3M49.5 8v2M43.5 33v2M72.5 22v1M49.5 46v1M19.5 39v2M69.5 2v2M4.5 8v1M51.5 2v2M57.5 21v2M71.5 18v1M10.5 14v1M10.5 1v2M45.5 54v3M1.5 45v1M25.5 13v1M74.5 54v2M78.5 14v1M58.5 27v2M18.5 8v3M28.5 32v1M61.5 22v2M75.5 16v1M38.5 6v1M11.5 10v1M54.5 5v1M74.5 29v2M36.5 34v1M43.5 31v3M52.5 15v3M31.5 5v1M34.5 60v1M54.5 59v1M5.5 31v2M26.5 33v1M77.5 43v1"/><path stroke="#ecb5ac" stroke-width="1" d="M18.5 29v1M22.5 45v1M6.5 42v2M42.5 14v1M6.5 38v1M64.5 45v1M46.5 30v1M12.5 56v1M32.5 15v3M55.5 49v2M6.5 50v2M14.5 30v1M6.5 51v1M15.5 16v1M24.5 38v2M51.5 54v1M12.5 12v1M38.5 2v1M74.5 22v1M56.5 2v2M22.5 24v1M11.5 4v1M12.5 35v2M18.5 10v1M44.5 14v1M16.5 30v2M63.5 3v2M23.5 2v2M82.5 39v1M14.5 28v3M63.5 3v1M34.5 16v1M66.5 11v1M66.5 15v1M63.5 38v1M20.5 58v1M34.5 30v1M9.5 32v1M20.5 23v1M80.5 35v2M62.5 39v2M42.5 26v1M55.5 53v1M57.5 31v2M51.5 56v1"/></pattern><pattern id="sp1" width="47" height="38" patternUnits="userSpaceOnUse"><path stroke="#a50f15" stroke-width="1" d="M13.5 21v1M23.5 23v1M9.5 2v1M0.5 5v1M43.5 11v3M35.5 28v1M22.5 29v1M43.5 20v1M9.5 16v1M20.5 15v1M21.5 15v3M25.5 25v2M14.5 33v1M16.5 15v1M19.5 2v1M17.5 35v2M17.5 7v2M26.5 6v1M6.5 14v2M42.5 12v1M43.5 32v1M8.5 3v1M33.5 3v1M41.5 35v1M45.5 21v2M29.5 19v1M14.5 0v1M25.5 6v2M25.5 8v3M26.5 33v1M30.5 6v2M24.5 10v3M26.5 26v3M37.5 6v1M45.5 10v2"/><path stroke="#cc4c45" stroke-width="1" d="M29.5 3v2M38.5 14v1M12.5 10v1M34.5 23v1M27.5 13v1M17.5 25v3M26.5 0v3M46.5 23v2M19.5 11v2M7.5 29v3M9.5 19v1M11.5 0v1M39.5 29v2M42.5 12v2M18.5 22v2M42.5 7v1M35.5 13v1M42.5 17v3M39.5 28v1M39.5 5v1M19.5 24v1M12.5 26v1M21.5 2v1M2.5 24v1M44.5 28v1M46.5 13v2M18.5 29v2M15.5 8v3M4.5 24v1M46.5 18v2"/><path stroke="#eea08c" stroke-width="1" d="M37.5 12v2M20.5 15v2M19.5 13v1M39.5 21v2M27.5 4v1M34.5 6v1M4.5 9v1M10.5 31v3M22.5 34v2M3.5 35v2M7.5 33v3M20.5 21v1M23.5 1v1M12.5 23v2M35.5 20v1M21.5 28v1M2.5 29v2M3.5 0v1M9.5 31v2M40.5 3v1M4.5 9v1M22.5 13v2M10.5 11v2M12.5 33v2M33.5 0v1M32.5 8v2M8.5 7v1M28.5 36v2M15.5 10v2M31.5 28v1M17.5 1v3M16.5 2v3M8.5 16v2M46.5 23v3M29.5 16v3M1.5 23v1M42.5 31v1M6.5 0v3M18.5 8v1M43.5 29v1M14.5 34v2M44.5 3v1"/></pattern><pattern id="sp2" width="47" height="38" patternUnits="userSpaceOnUse"><path stroke="#a50f15" stroke-width="1" d="M42.5 11v1M27.5 36v2M11.5 24v1M8.5 5v3M14.5 33v2M4.5 15v2M21.5 24v2M10.5 23v1M15.5 18v1M32.5 13v1M34.5 23v2M7.5 30v3M14.5 0v1M17.5 9v1M9.5 0v1M27.5 12v2M29.5 36v3M43.5 30v1M17.5 26v1M27.5 15v2M4.5 7v1M29.5 15v3M12.5 28v1M30.5 16v1M30.5 17v1M13.5 25v1M44.5 5v2M44.5 29v1M17.5 12v3M12.5 18v2M12.5 13v1M11.5 34v1M15.5 21v1M5.5 31v1M0.5 6v1M46.5 11v1M9.5 32v1M39.5 34v1M42.5 6v1M26.5 23v1M9.5 32v3M35.5 23v1M7.5 12v3M9.5 33v1M10.5 26v2M44.5 27v2M14.5 34v2M10.5 23v3M26.5 7v1M36.5 25v1M15.5 13v1M43.5 8v3M5.5 15v3M14.5 27v3M14.5 20v1M1.5 17v1M34.5 17v3M42.5 20v1M24.5 2v1M12.5 31v2M14.5 24v3M39.5 16v2M7.5 0v3M45.5 18v1M15.5 28v2M1.5 28v1M35.5 22v3M32.5 30v3M22.5 37v1M16.5 10v2M41.5 17v2M35.5 32v2"/><path stroke="#cc4c45" stroke-width="1" d="M9.5 22v1M39.5 26v2M27.5 27v3M13.5 37v2M26.5 11v1M12.5 10v1M8.5 9v2M43.5 12v1M21.5 34v1M30.5 35v2M44.5 11v1M28.5 15v1M42.5 21v1M3.5 28v1M24.5 14v1M0.5 13v3M25.5 15v2M0.5 34v1M31.5 32v2M15.5 24v1M33.5 18v3M2.5 31v1M2.5 1v2M12.5 10v3M24.5 5v1M34.5 25v1M34.5 9v2M12.5 11v1M5.5 33v1M20.5 36v1M38.5 21v3M11.5 15v3M40.5 19v1M39.5 5v1M6.5 1v2M26.5 28v3M13.5 12v2M25.5 6v3M30.5 15v1M39.5 12v2M45.5 21v1M0.5 32v3M33.5 37v3M2.5 15v1M46.5 36v1M39.5 25v1M27.5 1v2M7.5 15v1M14.5 12v2M29.5 28v2M27.5 13v2M23.5 32v1M14.5 37v1M29.5 29v2M7.5 36v2M22.5 25v1M15.5 36v1M3.5 12v1M22.5 19v1M22.5 3v1M0.5 0v2M17.5 14v2M0.5 10v3M44.5 1v3M24.5 25v2M0.5 19v1M11.5 36v2M30.5 27v1"/><path stroke="#eea08c" stroke-width="1" d="M33.5 34v2M11.5 36v1M39.5 28v2M17.5 20v2M40.5 34v1M4.5 33v1M17.5 28v1M14.5 16v1M45.5 24v2M10.5 17v2M46.5 11v3M44.5 12v2M9.5 8v1M25.5 30v2M0.5 16v2M35.5 9v1M12.5 4v1M5.5 6v1M41.5 13v1M44.5 11v3M14.5 26v1M28.5 1v1M19.5 33v2M3.5 30v3M35.5 16v1M38.5 17v3M10.5 25v1M18.5 32v1M25.5 5v1M22.5 11v3M0.5 26v2M23.5 30v1M38.5 10v1M11.5 35v1M43.5 6v1M20.5 8v1M21.5 18v3M17.5 31v1M21.5 31v2M1.5 7v2M28.5 37v2M30.5 37v1M7.5 2v3M18.5 30v1M38.5 0v2M46.5 31v1M25.5 37v2M41.5 31v2M42.5 6v1M11.5 5v1M15.5 24v3M41.5 14v2M3.5 16v1M41.5 9v1M13.5 25v2M12.5 28v3M16.5 23v1M37.5 26v3M31.5 27v2M34.5 33v1M40.5 32v2M18.5 10v1M24.5 6v2M24.5 28v2M38.5 16v1M46.5 35v2M27.5 8v3M23.5 11v2M19.5 37v1M6.5 36v1M33.5 36v1M38.5 23v2M18.5 24v1M9.5 35v2"/></pattern><pattern id="sp3" width="47" height="38" patternUnits="userSpaceOnUse"><path stroke="#a50f15" stroke-width="1" d="M43.5 7v1M38.5 33v1M15.5 5v1M33.5 29v2M6.5 30v1M45.5 24v1M11.5 28v3M41.5 18v3M21.5 5v2M19.5 25v1M44.5 31v1M41.5 4v3M34.5 20v1M1.5 21v1M29.5 24v3M43.5 35v2M16.5 27v3M37.5 14v1M18.5 32v1M3.5 17v1M38.5 15v1M42.5 24v1M17.5 2v2M40.5 22v1M22.5 7v2M35.5 2v2M1.5 21v1M44.5 10v2M1.5 20v2M28.5 0v1M23.5 30v2M41.5 36v2M15.5 0v1M44.5 37v1M43.5 36v1M32.5 34v1M33.5 32v2M13.5 25v3M45.5 27v1M25.5 15v1M29.5 2v1M20.5 20v1M33.5 34v1M29.5 34v1M23.5 30v3M2.5 21v3M8.5 32v1M32.5 10v3M34.5 25v1M46.5 13v1M13.5 6v1M8.5 11v2M39.5 15v2M44.5 15v3M37.5 17v1M42.5 23v2M29.5 13v1M25.5 23v1M43.5 26v1M28.5 11v1M43.5 0v1M44.5 28v1M27.5 1v3M17.5 5v1M6.5 16v1M43.5 21v1M4.5 18v3M46.5 0v1M31.5 4v3M44.5 34v2M31.5 34v1M1.5 36v3M17.5 14v1M1.5 15v2M8.5 15v1M43.5 3v3M44.5 35v2M37.5 34v2M10.5 5v1M29.5 15v3M6.5 34v1M16.5 37v1M3.5 5v2M37.5 33v1M25.5 14v2M36.5 36v3M39.5 34v1M10.5 1v1M42.5 31v1M17.5 9v2M22.5 15v2M12.5 25v2M22.5 18v1M36.5 37v1M40.5 17v1M37.5 32v3M33.5 30v1M18.5 24v2M17.5 29v1M6.5 31v1M22.5 22v1M30.5 14v3M39.5 20v1M39.5 22v3M23.5 3v2M38.5 25v3M44.5 18v1M38.5 7v1M12.5 1v1M41.5 2v2M5.5 30v2M14.5 11v2M32.5 7v1M34.5 33v2"/><path stroke="#cc4c45" stroke-width="1" d="M33.5 18v1M9.5 8v1M42.5 5v1M15.5 36v1M14.5 24v1M41.5 24v1M23.5 33v3M24.5 10v1M26.5 9v1M37.5 0v1M3.5 8v1M41.5 36v2M29.5 17v1M20.5 28v2M29.5 34v1M23.5 0v3M22.5 9v1M19.5 27v1M38.5 7v2M37.5 30v2M9.5 21v1M6.5 6v2M27.5 23v1M25.5 11v3M22.5 29v1M3.5 18v3M31.5 20v1M10.5 7v1M44.5 22v3M21.5 32v2M11.5 33v1M11.5 10v1M3.5 34v1M23.5 3v2M16.5 7v3M13.5 9v2M26.5 20v1M34.5 9v3M23.5 16v2M42.5 32v2M42.5 18v2M39.5 36v1M1.5 25v2M46.5 37v1M32.5 17v1M39.5 3v1M46.5 35v2M8.5 12v2M36.5 36v3M46.5 23v2M10.5 17v1M12.5 21v2M46.5 35v3M4.5 7v1M32.5 37v1M45.5 2v2M18.5 2v1M7.5 7v1M0.5 10v2M36.5 9v3M38.5 16v1M13.5 13v1M12.5 17v3M15.5 34v2M13.5 34v2M4.5 35v1M42.5 8v1M7.5 3v1M42.5 34v3M31.5 2v1M15.5 24v1M22.5 14v1M40.5 0v1M34.5 8v2M25.5 31v3M0.5 25v3M28.5 34v3M25.5 23v2M5.5 19v1M21.5 7v2M44.5 22v1M22.5 9v3M23.5 7v3M17.5 27v2M6.5 25v3M23.5 3v2M44.5 17v1M1.5 31v2M25.5 6v3M24.5 19v2M46.5 19v1M26.5 22v2M36.5 24v2M35.5 23v1M46.5 10v1M29.5 29v2M13.5 36v3M43.5 36v1M26.5 34v2M18.5 22v1M13.5 11v1M1.5 17v3M40.5 31v3M36.5 35v3M1.5 18v2M4.5 25v1M27.5 18v3M32.5 37v2M14.5 30v2M42.5 21v1M37.5 10v1M28.5 33v3M9.5 32v2M3.5 13v2M4.5 32v1M14.5 2v1M45.5 9v1M28.5 31v1"/><path stroke="#eea08c" stroke-width="1" d="M45.5 29v2M13.5 4v2M41.5 24v1M14.5 37v3M2.5 14v1M26.5 37v2M14.5 36v3M13.5 32v1M45.5 18v1M7.5 36v3M30.5 25v1M28.5 16v2M2.5 20v1M14.5 34v1M18.5 18v2M33.5 2v1M28.5 21v3M28.5 36v2M43.5 0v2M3.5 35v1M18.5 24v2M19.5 12v1M30.5 29v1M11.5 33v3M6.5 4v2M20.5 20v2M6.5 35v1M19.5 19v1M30.5 21v2M10.5 26v1M26.5 13v1M37.5 13v3M43.5 37v3M29.5 20v1M11.5 28v2M41.5 19v2M5.5 13v1M46.5 24v1M1.5 24v1M7.5 36v1M26.5 37v1M42.5 19v1M33.5 17v1M24.5 31v1M7.5 9v1M44.5 27v3M44.5 25v2M29.5 24v2M42.5 23v1M6.5 24v1M16.5 24v2M43.5 21v1M30.5 35v1M32.5 5v1M14.5 27v2M22.5 29v1M27.5 12v1M29.5 32v1M46.5 11v1M28.5 25v1M36.5 4v2M32.5 34v1M31.5 32v2M7.5 19v3M19.5 33v2M41.5 17v2M13.5 27v3M8.5 29v1M29.5 8v1M11.5 36v3M36.5 15v2M16.5 14v1M9.5 5v2M26.5 34v2M32.5 19v1M34.5 21v1M9.5 2v2M4.5 23v1M2.5 1v1M1.5 12v1M46.5 7v2M35.5 23v1M46.5 20v1M41.5 9v1M3.5 28v1M29.5 17v1M8.5 22v2M31.5 36v2M2.5 36v1M29.5 33v2M33.5 19v2M1.5 17v2M36.5 11v2M0.5 17v1M13.5 21v1M28.5 28v1M27.5 37v2M12.5 33v2M30.5 17v1M5.5 34v2M6.5 32v2M31.5 17v1M32.5 29v1M27.5 14v1M18.5 15v2M25.5 11v1M4.5 3v1M5.5 32v1M2.5 19v2M16.5 34v2M35.5 22v1M17.5 34v3M13.5 30v3M32.5 29v2M18.5 35v2M5.5 16v2M9.5 1v3M3.5 32v1M24.5 21v1M43.5 29v2M2.5 8v1M30.5 14v1M45.5 24v1M5.5 31v1M5.5 29v2"/></pattern><pattern id="sp4" width="47" height="38" patternUnits="userSpaceOnUse"><path stroke="#8e0c14" stroke-width="1" d="M23.5 3v3M10.5 19v1M28.5 34v1M11.5 36v1M38.5 7v3M35.5 30v2M11.5 2v2M9.5 29v1M28.5 5v1M28.5 7v1M26.5 13v1M34.5 11v1M13.5 14v3M44.5 5v2M32.5 33v1M45.5 31v1M18.5 36v1M35.5 4v1M39.5 28v1M32.5 8v2M11.5 35v1M1.5 16v1M29.5 2v2M10.5 31v3M46.5 3v2M4.5 28v1M34.5 31v1M44.5 4v1M20.5 20v1M10.5 6v2M6.5 33v2M18.5 34v2M26.5 7v2M42.5 10v2M7.5 33v2M20.5 30v2M32.5 10v1M41.5 8v2M12.5 17v2M2.5 17v1M20.5 23v2M23.5 22v1M0.5 5v3M14.5 5v3M33.5 2v1M11.5 37v1M23.5 7v1M7.5 20v1M36.5 11v3M8.5 2v2M12.5 18v1M46.5 6v2M38.5 15v2M4.5 33v2M17.5 36v1M8.5 25v1M41.5 21v1M44.5 19v1M7.5 5v2M31.5 36v3M29.5 18v1M34.5 4v1M22.5 0v1M2.5 0v3M4.5 35v2M10.5 24v2M4.5 2v2M15.5 22v1M7.5 21v1M42.5 34v1M13.5 5v2M39.5 15v2M6.5 36v1M10.5 22v1M11.5 25v3M39.5 8v3M35.5 0v1M33.5 36v1M35.5 30v2M14.5 30v1M11.5 35v3M20.5 16v1M6.5 3v2M40.5 20v2M9.5 30v2M45.5 5v1M28.5 19v2M14.5 13v1M28.5 20v2M15.5 13v3M1.5 4v2M26.5 21v1M9.5 18v1M26.5 26v3M35.5 32v2M8.5 4v2M18.5 24v1M29.5 12v1M9.5 29v2M19.5 34v1M0.5 33v1M5.5 26v1M29.5 29v2M7.5 9v1M17.5 19v3M22.5 6v1M27.5 35v2M44.5 13v2M23.5 31v1M25.5 4v1M16.5 5v1M12.5 17v3M8.5 18v2M35.5 37v3M19.5 19v3M18.5 16v1M34.5 34v1M2.5 18v1M1.5 27v1M12.5 31v1M40.5 6v3M36.5 37v2M46.5 34v2M9.5 15v3M23.5 20v1M36.5 28v1M10.5 2v1M1.5 34v1M7.5 15v1M40.5 34v1M9.5 23v1M42.5 37v1M34.5 7v1M45.5 9v2M3.5 24v2M12.5 33v3M3.5 2v2M16.5 14v2M37.5 13v1M15.5 3v1M19.5 22v3M6.5 37v1M7.5 28v1M7.5 23v1M29.5 14v1M18.5 35v1M42.5 32v2M33.5 3v1M37.5 22v2M11.5 14v1M16.5 28v1M34.5 6v1M3.5 14v1M24.5 4v2M20.5 35v2M17.5 20v2M26.5 15v3M15.5 29v1M28.5 11v1M7.5 11v1M29.5 27v2M38.5 19v3M43.5 17v1M39.5 35v1M17.5 8v1M2.5 13v1M39.5 10v2M16.5 35v3M10.5 20v1M12.5 15v2M32.5 15v2M23.5 13v1M44.5 24v2M40.5 37v1M24.5 36v1M3.5 17v1M6.5 23v1M21.5 33v3M5.5 0v1M6.5 10v1M0.5 0v1M41.5 24v1M40.5 37v1M26.5 33v1M5.5 15v1M40.5 37v1M19.5 36v1M9.5 13v2M5.5 8v2M30.5 5v1M21.5 32v2M35.5 26v1M26.5 22v2M32.5 18v2M15.5 37v1M30.5 33v3M4.5 11v1M10.5 22v1M1.5 32v1M31.5 14v1M4.5 23v1M33.5 0v2M33.5 6v1M38.5 24v2M22.5 26v1M39.5 32v2M41.5 10v1M14.5 18v1M16.5 18v3M8.5 26v2M33.5 16v3M45.5 31v2M40.5 34v1M0.5 9v1M33.5 11v1M3.5 2v2M35.5 37v3M38.5 35v1M40.5 14v2M18.5 32v1M13.5 33v1M28.5 3v3M28.5 34v2M33.5 22v3M19.5 6v2M6.5 17v2M41.5 25v3M35.5 32v2M5.5 11v1M5.5 29v2M7.5 18v1M30.5 20v1M14.5 32v1M35.5 34v1M32.5 36v2M35.5 37v3M8.5 19v1M42.5 35v1M11.5 5v1M7.5 3v1M21.5 19v2M34.5 6v1M42.5 11v1M11.5 18v1M26.5 33v2M20.5 19v2M42.5 0v1M35.5 36v2M0.5 18v2M38.5 34v1M16.5 19v3M46.5 7v2M20.5 3v1M20.5 8v1M37.5 9v2M16.5 24v1M9.5 37v3M24.5 29v1M7.5 7v3M23.5 2v3M36.5 2v1M5.5 33v1M37.5 19v1M31.5 36v1M15.5 17v3M21.5 11v1M9.5 18v3M20.5 10v1M23.5 15v2M42.5 26v3M43.5 7v1M6.5 1v2M16.5 31v1M42.5 5v1M8.5 6v1M38.5 35v1M22.5 17v1M30.5 9v1M15.5 0v3M3.5 35v3M10.5 6v1M44.5 22v2M25.5 13v1M16.5 36v1M5.5 10v1M2.5 20v1M12.5 2v1M9.5 0v1M17.5 34v3M17.5 20v1M45.5 1v3M13.5 19v1M9.5 4v1M28.5 29v1M28.5 6v1M10.5 17v1M42.5 1v1M28.5 22v2M14.5 22v1M3.5 24v2M19.5 17v1"/><path stroke="#b2182b" stroke-width="1" d="M1.5 12v2M25.5 21v1M7.5 4v2M22.5 34v1M6.5 2v2M0.5 8v3M7.5 4v1M45.5 26v2M30.5 34v1M19.5 1v3M1.5 31v2M45.5 1v2M16.5 1v1M15.5 37v1M39.5 19v1M10.5 4v3M3.5 24v2M25.5 13v1M27.5 32v2M13.5 14v1M42.5 27v1M9.5 9v1M21.5 8v1M0.5 18v2M11.5 13v1M5.5 26v1M30.5 16v1M28.5 17v2M3.5 25v1M21.5 16v3M0.5 31v1M5.5 21v2M26.5 37v1M25.5 37v2M46.5 14v3M35.5 16v2M34.5 31v2M36.5 28v1M5.5 19v1M19.5 25v1M22.5 6v1M7.5 8v1M44.5 15v1M16.5 30v3M19.5 4v1M36.5 34v1M3.5 25v2M8.5 4v2M30.5 29v2M43.5 2v3M6.5 4v3M42.5 31v1M43.5 11v2M31.5 22v2M23.5 6v1M9.5 17v2M46.5 22v1M46.5 24v1M26.5 8v2M27.5 30v1M2.5 36v2M19.5 20v2M29.5 16v1M18.5 8v1M30.5 7v1M32.5 12v1M16.5 33v3M4.5 1v1M17.5 16v1M28.5 9v2M30.5 36v2M6.5 29v1M32.5 11v1M6.5 17v1M6.5 26v2M4.5 18v1M39.5 27v1M27.5 19v2M23.5 37v1M43.5 20v2M19.5 22v1M46.5 4v2M3.5 27v2M45.5 28v3M5.5 37v2M21.5 33v1M46.5 36v1M43.5 30v1M22.5 19v1M38.5 31v1M40.5 21v3M20.5 28v1M17.5 22v1M6.5 23v1M34.5 14v1M32.5 31v1M44.5 28v2M15.5 37v2M28.5 21v2M22.5 22v1M26.5 35v1M17.5 5v3M32.5 27v1M29.5 6v1M10.5 14v1M41.5 32v3M0.5 2v2M39.5 4v1M8.5 26v1M42.5 31v1M37.5 19v1M14.5 32v1M35.5 14v1M40.5 4v2M14.5 24v2M12.5 27v3M42.5 32v1M5.5 22v1M41.5 24v3M6.5 15v2M17.5 36v3M28.5 2v2M22.5 19v1M11.5 20v2M13.5 22v2M14.5 6v2M45.5 19v1M3.5 37v3M0.5 31v2M43.5 27v2M39.5 25v2M3.5 2v2M10.5 22v2M27.5 7v1M4.5 26v3M20.5 37v2M16.5 19v2M12.5 25v3M33.5 22v3M39.5 18v2M28.5 31v1M0.5 16v1M15.5 14v3M32.5 17v1M4.5 28v2M11.5 37v2M40.5 6v1M27.5 8v1M14.5 27v3M44.5 34v1M32.5 31v3M14.5 22v1M33.5 21v2M32.5 2v3M36.5 28v1M42.5 8v2M2.5 17v2M6.5 35v1M14.5 15v2M27.5 35v2M5.5 25v3M17.5 16v2M0.5 28v1M2.5 1v3M12.5 25v1M1.5 28v1M15.5 16v1M12.5 1v1M28.5 22v1M30.5 3v1M15.5 10v1M26.5 35v1M46.5 1v1M38.5 8v1M18.5 14v1"/><path stroke="#d6604d" stroke-width="1" d="M1.5 10v1M16.5 25v1M35.5 26v1M14.5 9v1M37.5 10v1M14.5 13v1M18.5 11v1M1.5 13v1M37.5 11v1M5.5 2v1M46.5 32v1M20.5 34v1M22.5 16v3M17.5 8v3M9.5 37v1M1.5 6v1M13.5 27v3M14.5 29v2M5.5 34v2M26.5 24v3M45.5 34v1M18.5 29v3M8.5 6v2M17.5 18v2M44.5 26v1M32.5 2v1M25.5 14v3M20.5 23v2M40.5 26v3M36.5 13v1M18.5 7v1M30.5 6v1M41.5 10v3M26.5 7v2M18.5 9v2M21.5 3v2M20.5 11v2M0.5 26v3M18.5 7v2M24.5 3v1M29.5 0v2M41.5 32v2M29.5 19v1M38.5 10v1M22.5 6v1M46.5 23v2M4.5 7v1M13.5 33v1M28.5 32v1M36.5 25v1M1.5 13v3M25.5 22v1M5.5 20v1M2.5 27v1M37.5 7v1M22.5 26v1M6.5 33v1M24.5 26v1M21.5 35v1"/></pattern><pattern id="sp5" width="47" height="38" patternUnits="userSpaceOnUse"><path stroke="#8e0c14" stroke-width="1" d="M22.5 10v3M33.5 7v2M18.5 16v2M0.5 35v1M27.5 21v1M2.5 18v1M38.5 10v2M13.5 36v2M28.5 20v3M22.5 22v1M6.5 14v1M13.5 2v2M11.5 30v1M11.5 36v1M1.5 23v1M38.5 2v2M36.5 6v2M0.5 6v2M36.5 4v2M17.5 35v1M24.5 22v1M21.5 13v1M37.5 26v1M4.5 0v1M46.5 27v1M30.5 16v2M22.5 37v3M0.5 30v1M28.5 11v1M12.5 6v2M11.5 17v1M10.5 33v1M20.5 29v1M11.5 21v1M18.5 13v2M34.5 36v3M23.5 29v1M30.5 22v3M18.5 6v1M40.5 24v2M8.5 21v1M24.5 11v2M21.5 32v3M37.5 32v3M35.5 10v1M40.5 17v3M35.5 14v1M18.5 1v1M0.5 4v2M1.5 31v2M34.5 7v2M9.5 9v2M44.5 36v1M9.5 10v1M4.5 32v1M30.5 10v2M25.5 24v3M12.5 3v1M34.5 14v1M32.5 34v2M1.5 25v3M43.5 17v3M44.5 28v3M5.5 26v1M45.5 25v1M21.5 26v1M18.5 14v2M27.5 20v2M24.5 5v1M10.5 17v1M18.5 3v2M22.5 21v3M11.5 4v2M16.5 20v1M8.5 10v1M44.5 9v1M11.5 20v1M11.5 26v1M17.5 0v1M1.5 22v3M33.5 12v1M8.5 2v1M28.5 12v1M43.5 34v1M33.5 33v2M37.5 32v1M36.5 2v2M9.5 18v1M38.5 30v1M15.5 23v2M13.5 24v1M21.5 20v2M25.5 21v1M10.5 9v1M18.5 5v1M32.5 27v1M31.5 6v3M0.5 16v2M4.5 5v1M24.5 26v1M14.5 23v1M23.5 26v1M9.5 31v3M7.5 33v1M35.5 15v1M0.5 29v1M19.5 16v2M7.5 9v1M31.5 34v3M11.5 24v1M32.5 4v1M6.5 26v3M40.5 5v1M14.5 37v1M8.5 4v1M8.5 35v2M5.5 1v1M6.5 24v1M21.5 37v2M35.5 5v2M31.5 24v1M0.5 10v1M14.5 35v2M2.5 29v2M36.5 15v2M12.5 21v1M38.5 0v3M13.5 36v3M10.5 26v2M40.5 17v2M32.5 21v1M28.5 29v2M12.5 33v1M33.5 19v1M12.5 16v1M20.5 15v2M6.5 27v1M43.5 22v1M21.5 25v1M17.5 37v3M3.5 23v1M32.5 16v2M33.5 31v2M29.5 20v1M4.5 35v2M2.5 8v1M25.5 30v1M30.5 32v2M40.5 13v3M25.5 25v3M44.5 31v2M8.5 28v3M18.5 14v2M11.5 9v1M42.5 19v2M36.5 5v2M11.5 31v1M3.5 3v2M6.5 10v3M40.5 18v2M9.5 14v1M32.5 1v1M41.5 1v1M4.5 24v1M3.5 17v1M16.5 2v1M4.5 11v1M44.5 17v2M33.5 29v1M21.5 33v1M37.5 14v2M6.5 1v1M41.5 7v1M28.5 24v3M22.5 26v1M40.5 19v1M0.5 15v3M32.5 4v3M46.5 31v3M34.5 27v1M43.5 6v3M35.5 21v3M38.5 24v1M37.5 28v1M38.5 26v1M27.5 31v1M25.5 11v2M29.5 8v2M23.5 7v1M46.5 10v1M0.5 0v1M15.5 12v3M7.5 9v1M30.5 15v1M40.5 19v1M44.5 29v3M46.5 32v1M19.5 17v1M33.5 35v1M4.5 23v2M30.5 5v2M9.5 2v1M43.5 3v2M8.5 22v3M43.5 8v1M18.5 28v1M20.5 3v1M31.5 31v2M2.5 20v3M18.5 0v3M12.5 31v1M21.5 24v3M45.5 36v1M22.5 19v2M41.5 29v1M16.5 36v1M32.5 30v2M8.5 11v3M4.5 34v2M3.5 17v1M46.5 34v2M9.5 18v1M17.5 26v1M44.5 34v3M8.5 4v2M38.5 33v1M25.5 1v1M2.5 36v3M14.5 10v3M12.5 6v3M3.5 32v1M24.5 15v2M30.5 13v1M25.5 33v1M15.5 26v1M16.5 2v2M24.5 10v3M10.5 2v1M11.5 21v2M35.5 26v1M27.5 31v1M1.5 18v1M28.5 7v1M2.5 5v1M37.5 21v1M40.5 10v1M31.5 5v2M41.5 7v1M4.5 33v3M23.5 10v2M2.5 33v1M11.5 20v2M14.5 36v1M35.5 14v1M40.5 21v1M33.5 16v1M15.5 24v1M41.5 17v3M30.5 34v2M8.5 7v3M22.5 12v2M43.5 31v1M22.5 30v1M43.5 35v1M29.5 23v3M4.5 22v2M46.5 22v2M39.5 33v1M46.5 24v3M29.5 23v1M37.5 36v1M28.5 32v2M45.5 24v2M42.5 11v2M26.5 9v2M1.5 21v2M14.5 24v1M19.5 18v3M17.5 0v2M4.5 31v1M41.5 27v2M16.5 26v2M3.5 33v1M20.5 0v1M30.5 19v1M32.5 4v3M40.5 6v1M16.5 25v1M16.5 13v1M14.5 30v1M32.5 33v2M14.5 6v1M36.5 21v1M37.5 32v1M6.5 17v1M9.5 13v2M13.5 36v3M9.5 23v3M19.5 1v1M44.5 26v1M36.5 34v1M1.5 37v3M20.5 5v1M22.5 18v1M33.5 34v1M24.5 18v2M7.5 37v1M32.5 37v1M12.5 13v1M39.5 4v2M6.5 0v1M41.5 8v3M13.5 13v1M19.5 6v1M27.5 1v2M14.5 4v1M28.5 22v3M36.5 3v2M0.5 7v1M30.5 18v2M12.5 4v1M16.5 36v1M7.5 18v1M23.5 32v1M33.5 32v1M0.5 23v1M18.5 21v2M24.5 20v2M29.5 2v2M34.5 8v1M3.5 30v1M40.5 7v1M38.5 31v1M3.5 37v1M16.5 15v2M11.5 36v1M45.5 34v1M26.5 1v1M38.5 15v1M23.5 1v1M17.5 24v1M1.5 14v1M30.5 9v1M39.5 24v2M26.5 1v1M38.5 27v2M36.5 4v1M28.5 25v1M4.5 4v2M28.5 21v1M40.5 15v2M4.5 12v1M32.5 34v1M33.5 8v1M15.5 21v1M32.5 17v1M31.5 21v3M27.5 34v1M4.5 4v1M12.5 37v1M19.5 11v2M21.5 0v3M36.5 10v1M23.5 13v1M13.5 0v1M1.5 5v1M27.5 25v2M29.5 4v2M21.5 10v2M25.5 33v1M10.5 10v1M13.5 3v3M10.5 21v2M11.5 12v1M35.5 17v1M14.5 0v1M11.5 13v1M43.5 31v2M11.5 20v1M16.5 14v1M46.5 37v1M44.5 14v1M23.5 36v3M14.5 17v3M14.5 14v1M6.5 35v1M1.5 0v3M41.5 17v1M39.5 18v1M16.5 21v2M28.5 35v1M3.5 25v1M42.5 35v2M13.5 27v2M36.5 37v2M12.5 25v1M43.5 5v1M21.5 4v1M25.5 5v2M17.5 29v3M45.5 20v1M34.5 7v1M35.5 23v2M45.5 33v1M18.5 35v1M40.5 17v1M40.5 33v3M7.5 5v2M9.5 2v1M9.5 4v2M18.5 33v1M20.5 18v1M18.5 28v2M24.5 7v1M13.5 30v1M35.5 10v1M18.5 0v1M7.5 26v1M24.5 4v2M25.5 12v1M10.5 15v2M8.5 17v1M22.5 27v1M30.5 20v2M8.5 6v2M5.5 19v1M1.5 8v1M44.5 24v2M24.5 17v1M22.5 5v1M9.5 30v2M35.5 15v2M26.5 35v1M30.5 0v3M20.5 27v1M16.5 5v1M39.5 20v1M33.5 21v3M7.5 34v3M13.5 23v1M4.5 26v2M31.5 20v1M7.5 28v1M34.5 12v1M24.5 26v1M5.5 9v2M11.5 1v1M10.5 26v2M32.5 24v1M41.5 16v1M16.5 11v1M9.5 0v1M25.5 13v2M28.5 15v2M10.5 23v1M37.5 33v3M34.5 12v3M46.5 2v2M39.5 31v1M41.5 29v1M31.5 35v1M19.5 20v1M30.5 31v1M36.5 27v2M18.5 29v1M13.5 10v2M33.5 11v2M9.5 30v2M23.5 26v1M5.5 25v2M31.5 24v1M1.5 12v2M21.5 2v1M43.5 12v2M15.5 10v1M16.5 14v2M11.5 30v1M3.5 26v1M41.5 21v1M10.5 20v3M1.5 17v2M19.5 0v1M36.5 9v1M16.5 2v2M7.5 33v2M30.5 19v3M28.5 28v1M8.5 5v3M20.5 0v1M4.5 10v1M34.5 30v3M11.5 34v1M27.5 7v1M32.5 21v2M18.5 5v3M6.5 36v3M7.5 30v3M25.5 22v1M43.5 8v1M41.5 23v3M2.5 33v2M23.5 22v1M17.5 31v2M4.5 29v3M9.5 5v1M3.5 21v1M37.5 15v3M26.5 1v1M46.5 34v2M17.5 22v1M0.5 33v1M45.5 30v3M16.5 23v3M14.5 13v3M45.5 23v1M31.5 8v1M3.5 7v2M25.5 10v1M10.5 3v2M11.5 35v1M26.5 0v3M14.5 19v1M44.5 11v1M34.5 22v1M0.5 2v1M19.5 16v1M4.5 19v3M20.5 12v1M27.5 14v1M45.5 9v2M23.5 28v1M18.5 13v1M3.5 28v2M36.5 28v1M29.5 23v2M36.5 4v3M15.5 15v2M1.5 4v3M7.5 12v1M38.5 33v2M38.5 8v1M27.5 16v1M46.5 2v1M2.5 14v2M26.5 9v1M40.5 5v1M31.5 33v2M2.5 32v2M9.5 7v1M27.5 2v1M6.5 33v1M26.5 24v2M15.5 5v1M34.5 9v1M21.5 25v3M31.5 11v1M43.5 36v1M35.5 37v1M27.5 37v1M5.5 12v3M1.5 9v1M0.5 35v1M12.5 23v1M25.5 14v3M7.5 22v3M4.5 10v3M23.5 20v1M13.5 11v2M22.5 37v2M18.5 6v1M5.5 18v3M15.5 34v2M15.5 28v2M38.5 21v2M24.5 7v1M36.5 4v2M22.5 26v1M37.5 21v1M38.5 5v1M14.5 9v1M4.5 2v2M21.5 6v1M30.5 18v1M41.5 1v1M14.5 23v1M14.5 8v2M39.5 14v3M38.5 35v1M14.5 10v3M28.5 2v3M23.5 11v1M5.5 9v1M9.5 0v1M45.5 11v1M38.5 30v2M3.5 0v1M38.5 35v1M33.5 15v2M22.5 37v2M42.5 16v3M13.5 32v2M35.5 15v1M33.5 30v1M6.5 17v2M19.5 29v1M13.5 26v3M2.5 27v1M37.5 12v1M27.5 29v2M14.5 34v2M12.5 23v1M0.5 31v2M37.5 17v2M6.5 29v1M35.5 9v2M32.5 14v1M9.5 2v1M16.5 21v2M4.5 17v2M24.5 19v2M14.5 29v1M29.5 16v2M43.5 26v1M14.5 35v1M33.5 37v1M12.5 21v2M5.5 19v1M15.5 22v1M36.5 16v1M13.5 2v1M4.5 32v2M25.5 32v3M18.5 28v2M8.5 21v1M12.5 19v1M19.5 24v1M17.5 20v2M30.5 3v2M25.5 11v2M17.5 14v1M45.5 25v1M17.5 11v1M10.5 7v3M46.5 22v2M30.5 21v3M14.5 20v1M4.5 13v2M2.5 12v1M15.5 6v1M14.5 23v1M6.5 28v2M18.5 12v1M5.5 5v2M5.5 9v1M19.5 21v1M4.5 14v3M24.5 24v2M18.5 11v1M42.5 30v1M29.5 37v2M41.5 1v1M10.5 19v2M45.5 22v2M10.5 35v2M12.5 1v2M8.5 18v1M1.5 29v2M2.5 30v2M23.5 13v3M30.5 32v1M23.5 9v2M17.5 22v2M7.5 4v1M34.5 2v1M7.5 29v1M44.5 22v1M43.5 21v3M20.5 32v1M40.5 27v3M43.5 31v1M8.5 27v2"/><path stroke="#b2182b" stroke-width="1" d="M37.5 22v2M0.5 19v2M21.5 18v1M10.5 9v1M39.5 7v1M25.5 34v2M40.5 31v3M25.5 22v3M39.5 11v1M27.5 28v3M10.5 2v1M7.5 6v1M7.5 23v1M33.5 13v2M17.5 7v1M33.5 34v1M20.5 24v1M5.5 17v1M43.5 20v3M28.5 28v1M8.5 19v1M34.5 28v2M28.5 32v1M3.5 22v2M31.5 32v1M44.5 34v1M38.5 36v1M0.5 35v1M36.5 13v3M7.5 6v3M18.5 26v1M44.5 3v2M5.5 5v1M31.5 12v1M42.5 37v1M29.5 13v1M36.5 25v2M32.5 33v3M7.5 25v2M39.5 13v2M27.5 17v1M5.5 16v2M34.5 37v1M8.5 37v2M41.5 16v1M26.5 14v1M18.5 25v1M5.5 27v2M38.5 28v2M12.5 30v3M10.5 9v1M29.5 23v1M8.5 2v1M20.5 18v1M18.5 21v2M28.5 18v1M35.5 10v1M8.5 2v2M23.5 12v1M4.5 8v1M1.5 5v1M40.5 19v2M25.5 1v3M3.5 33v1M23.5 21v3M16.5 15v1M41.5 18v1M19.5 30v2M30.5 30v3M22.5 0v1M14.5 17v2M21.5 10v3M1.5 28v2M4.5 25v1M34.5 15v1M43.5 24v1M39.5 0v1M28.5 17v2M7.5 30v1M25.5 19v3M34.5 0v1M43.5 2v1M12.5 14v1M33.5 11v3M30.5 1v1M1.5 28v3M0.5 14v3M7.5 19v1M32.5 9v3M38.5 33v2M26.5 7v2M41.5 22v1M30.5 11v2M2.5 37v1M15.5 35v1M39.5 6v2M28.5 3v2M12.5 12v2M18.5 1v2M3.5 26v1M45.5 28v2M11.5 36v1M39.5 37v1M30.5 22v1M22.5 15v1M4.5 3v1M41.5 4v1M42.5 32v2M3.5 11v3M8.5 9v1M43.5 1v3M35.5 3v1M1.5 9v2M14.5 29v1M28.5 3v1M12.5 6v2M5.5 26v1M31.5 4v1M1.5 10v1M34.5 15v1M22.5 35v1M25.5 19v1M28.5 30v1M19.5 30v2M4.5 3v2M27.5 13v1M23.5 11v1M29.5 9v1M29.5 10v2M29.5 1v1M31.5 13v2M9.5 25v1M27.5 2v1M41.5 19v1M45.5 9v1M4.5 22v3M38.5 10v1M7.5 0v1M23.5 19v1M19.5 6v1M3.5 20v3M46.5 15v3M1.5 15v1M3.5 10v1M19.5 22v2M0.5 7v2M27.5 6v2M37.5 6v1M8.5 10v1M2.5 5v1M25.5 14v1M25.5 7v1M3.5 31v2M25.5 36v1M32.5 35v3M33.5 18v3M34.5 27v1M29.5 0v1M41.5 5v2M9.5 3v1M32.5 26v1M32.5 19v1M11.5 27v2M34.5 30v3M46.5 13v3M44.5 19v1M43.5 16v1M13.5 0v3M40.5 4v3M29.5 6v1M42.5 24v1M30.5 2v2M14.5 36v1M30.5 31v2M0.5 28v2M8.5 17v1M45.5 35v1M28.5 37v1M30.5 33v2M43.5 7v2M18.5 22v2M21.5 35v3M42.5 16v2M15.5 6v3M8.5 1v1M15.5 34v1M41.5 16v2M8.5 18v3M32.5 20v1M0.5 20v1M19.5 32v1M28.5 0v2M28.5 3v1M24.5 2v1M8.5 32v1M22.5 14v3M32.5 34v3M18.5 2v1M33.5 7v2M17.5 0v2M1.5 31v3M40.5 16v3M4.5 6v1M25.5 11v1M26.5 25v1M17.5 12v2M23.5 5v2M33.5 2v1M26.5 15v1M39.5 25v1M27.5 26v2M27.5 2v3M43.5 16v2M39.5 25v2M43.5 26v2M44.5 15v1M46.5 21v2M36.5 29v2M7.5 10v1M26.5 20v1M41.5 10v1M33.5 19v2M42.5 18v2M3.5 15v1M10.5 13v1M13.5 25v2M2.5 29v2M29.5 1v1M13.5 27v1M30.5 35v2M18.5 17v1M45.5 15v1M43.5 6v2M6.5 1v1M29.5 15v1M39.5 13v2M27.5 9v3M26.5 25v1M25.5 0v1M34.5 14v2M41.5 0v1M27.5 27v2M4.5 21v1M38.5 26v2M24.5 11v1M24.5 8v1M10.5 11v3M20.5 27v2M44.5 16v1M37.5 9v1M15.5 17v2M30.5 34v1M8.5 28v1M42.5 2v2M33.5 3v1M27.5 34v2M17.5 7v2M23.5 9v1M30.5 8v1M44.5 13v1M14.5 37v1M9.5 15v1M44.5 3v1M13.5 25v1M18.5 14v3M24.5 5v1M42.5 33v2M19.5 5v2M4.5 6v3M29.5 29v2M39.5 32v3M2.5 31v2M19.5 24v2M40.5 1v1M30.5 5v2M32.5 8v1M45.5 32v3M2.5 15v3M33.5 3v2M3.5 2v3M9.5 34v3M33.5 21v1M35.5 34v1M20.5 2v2M1.5 7v2M31.5 19v1M9.5 16v1M15.5 29v1M15.5 13v2M45.5 18v1M17.5 6v1M19.5 24v1M35.5 35v1M10.5 1v3M24.5 8v1M7.5 14v1M6.5 25v3M0.5 9v1M21.5 28v1M34.5 33v2M25.5 12v1M11.5 35v1M34.5 1v3M4.5 37v3M29.5 13v2M40.5 18v3M3.5 24v3M36.5 1v3M44.5 37v3M33.5 8v1M43.5 18v1M30.5 8v1M12.5 0v2M12.5 21v2M39.5 6v2M30.5 4v3M37.5 16v1M17.5 11v2M18.5 18v1M42.5 35v1M25.5 11v2M20.5 21v3M29.5 25v1M32.5 1v2M37.5 30v1M22.5 20v1M34.5 13v2M17.5 19v1M33.5 20v2M28.5 37v1M42.5 27v2M24.5 3v2M24.5 9v1M30.5 37v2M34.5 25v2M14.5 21v1M11.5 5v1M27.5 22v2M2.5 7v1M23.5 23v1M28.5 18v1M44.5 15v2M2.5 21v1M38.5 15v2M44.5 7v2M3.5 16v1M38.5 28v1M23.5 21v1M31.5 3v2M19.5 31v1M15.5 1v2M22.5 18v2M44.5 16v1M2.5 17v3M30.5 15v2M21.5 19v2M26.5 31v1M2.5 29v1M10.5 15v3M32.5 9v1M35.5 5v1M3.5 17v2M8.5 2v2M43.5 12v2M28.5 35v1M10.5 37v2M29.5 12v1M31.5 7v3M27.5 0v2M45.5 11v1M20.5 6v1M7.5 3v1M35.5 16v1M35.5 2v2M33.5 1v1M42.5 3v1M13.5 24v3M31.5 27v1M4.5 35v1M32.5 28v1M23.5 2v1M39.5 15v2M13.5 19v1M33.5 1v1M18.5 14v1M41.5 13v1"/><path stroke="#d6604d" stroke-width="1" d="M24.5 29v1M43.5 14v2M39.5 19v3M16.5 3v1M43.5 11v3M24.5 37v1M7.5 35v1M4.5 22v2M17.5 15v2M26.5 19v1M5.5 22v2M36.5 29v3M31.5 27v2M26.5 33v1M37.5 2v1M2.5 29v1M18.5 23v2M2.5 37v1M32.5 29v2M15.5 12v1M8.5 21v1M16.5 35v1M9.5 10v2M19.5 6v2M14.5 21v3M8.5 6v3M0.5 9v2M7.5 22v1M35.5 37v3M39.5 8v2M25.5 12v1M3.5 1v1M26.5 35v2M4.5 13v2M22.5 30v2M18.5 37v2M25.5 20v1M39.5 5v1M7.5 18v1M35.5 31v2M17.5 11v2M23.5 11v2M1.5 16v1M12.5 1v1M16.5 19v3M37.5 36v1M15.5 27v2M24.5 23v2M46.5 11v1M15.5 22v2M25.5 12v1M36.5 23v1M29.5 34v3M26.5 36v1M17.5 31v1M16.5 19v1M35.5 4v3M38.5 7v1M19.5 27v2M31.5 24v1M26.5 24v1M43.5 33v1M4.5 34v2M2.5 21v2M9.5 16v2M19.5 4v3M22.5 20v2M5.5 18v1M32.5 1v1M36.5 29v1M3.5 6v3M24.5 26v1M16.5 7v1M31.5 8v2M22.5 2v2M43.5 24v3M15.5 13v1M25.5 18v2M2.5 2v1M10.5 18v2M23.5 26v1M21.5 2v2M33.5 9v2M24.5 16v1M21.5 26v1M34.5 23v1M40.5 8v2M27.5 15v2M36.5 9v1M10.5 4v1M38.5 36v2M2.5 15v2M44.5 12v1M8.5 24v1M45.5 9v1M32.5 34v1M2.5 10v2M4.5 7v2M20.5 19v2M31.5 31v1M22.5 7v1M36.5 15v1M37.5 20v1M35.5 37v2M44.5 23v3M27.5 9v1M3.5 8v1M15.5 15v3M0.5 16v1M23.5 20v3M27.5 30v3M39.5 23v1M33.5 22v1M1.5 11v1M18.5 37v3M33.5 0v1M46.5 37v1M14.5 13v1M32.5 23v1M34.5 31v1M25.5 19v1M45.5 11v1M18.5 5v1M32.5 19v2M44.5 34v1M33.5 16v2M42.5 13v2M28.5 0v2M9.5 25v2M13.5 15v2M43.5 12v1M7.5 4v1M9.5 4v2M23.5 5v1M36.5 26v2M23.5 11v1M39.5 25v2M0.5 18v2M14.5 5v1M25.5 33v1M9.5 16v1M26.5 27v3M1.5 14v1M12.5 37v1M12.5 9v1M13.5 17v1M22.5 24v1M39.5 5v1M30.5 20v1M45.5 36v3M13.5 35v2M19.5 12v2M28.5 24v1M26.5 33v1M39.5 11v2M43.5 23v1M32.5 0v2M43.5 36v1M45.5 2v2M38.5 36v1M18.5 15v1M1.5 1v1M37.5 20v1M16.5 27v1M12.5 4v2M22.5 20v1M40.5 5v1M12.5 33v2M2.5 4v3M14.5 32v1M15.5 36v3M43.5 12v3M44.5 35v1M21.5 19v1M12.5 29v1M45.5 32v1M8.5 31v1M33.5 8v1M36.5 15v2M30.5 33v1M2.5 22v3M12.5 4v2M11.5 9v1M13.5 5v1M32.5 20v2M20.5 18v1M18.5 24v1"/></pattern><pattern id="sp6" width="47" height="38" patternUnits="userSpaceOnUse"><path stroke="#8e0c14" stroke-width="1" d="M31.5 23v1M41.5 18v2M29.5 17v2M8.5 11v1M22.5 4v1M11.5 8v1M38.5 16v1M15.5 9v1M9.5 15v1M35.5 13v1M15.5 33v1M46.5 22v2M45.5 6v3M45.5 30v1M14.5 35v3M6.5 26v1M18.5 13v3M29.5 0v1M12.5 6v1M2.5 18v1M35.5 23v2M20.5 34v1M39.5 0v1M3.5 32v1M33.5 30v1M16.5 33v1M23.5 9v1M9.5 28v1M5.5 37v1M13.5 7v1M26.5 0v1M46.5 31v1M4.5 5v1M34.5 22v1M36.5 22v1M41.5 3v1M37.5 21v1M39.5 1v1M31.5 1v1M38.5 31v1M10.5 29v1M22.5 32v1M15.5 33v1M26.5 22v2M6.5 22v2M25.5 0v2M9.5 5v1M39.5 15v2M2.5 37v2M43.5 9v3M43.5 4v1M14.5 11v1M10.5 6v1M44.5 9v1M32.5 11v1M32.5 4v1M13.5 24v3M40.5 14v2M31.5 22v2M17.5 12v3M14.5 26v1M14.5 0v2M0.5 23v1M46.5 32v1M20.5 17v2M33.5 33v1M7.5 2v2M46.5 19v1M14.5 28v1M2.5 24v1M15.5 32v1M9.5 36v2M16.5 8v3M28.5 22v2M31.5 33v1M30.5 5v1M0.5 26v2M30.5 37v2M18.5 34v1M32.5 6v2M43.5 13v1M20.5 22v1M35.5 12v2M33.5 4v1M39.5 13v2M5.5 0v1M22.5 18v1M8.5 7v1M35.5 14v1M20.5 28v1M40.5 10v2M45.5 9v1M6.5 24v1M10.5 25v3M36.5 24v1M45.5 4v2M8.5 37v1M38.5 12v1M39.5 9v1M43.5 14v2M17.5 9v3M33.5 6v2M38.5 17v2M8.5 11v1M38.5 6v1M43.5 9v1M20.5 7v3M1.5 34v3M23.5 31v1M13.5 19v1M25.5 15v1M22.5 34v2M42.5 20v1M26.5 34v1M14.5 22v3M38.5 33v2M2.5 29v1M44.5 24v1M19.5 23v1M43.5 10v3M23.5 12v1M43.5 22v1M44.5 10v1M8.5 20v1M19.5 3v1M14.5 33v1M21.5 31v1M14.5 21v1M23.5 16v1M14.5 22v1M40.5 22v2M1.5 23v3M3.5 36v1M36.5 36v2M14.5 35v3M13.5 3v1M42.5 19v1M23.5 9v1M26.5 29v1M43.5 11v2M21.5 17v2M36.5 22v1M13.5 11v1M14.5 4v2M2.5 3v1M17.5 10v2M45.5 17v1M17.5 8v1M0.5 32v1M10.5 26v1M8.5 36v1M29.5 20v1M0.5 16v1M15.5 22v3M44.5 10v1M9.5 12v3M19.5 8v2M41.5 32v1M43.5 35v3M34.5 37v1M8.5 2v1M33.5 15v1M16.5 27v2M10.5 28v1M21.5 2v1M39.5 26v1M11.5 27v1M36.5 1v1M11.5 17v2M17.5 34v2M15.5 0v1M8.5 5v1M19.5 1v3M15.5 13v3M40.5 21v1M9.5 6v1M16.5 2v3M27.5 21v1M34.5 17v2M38.5 13v1M0.5 2v2M7.5 16v1M28.5 0v1M6.5 30v1M38.5 23v1M13.5 14v1M26.5 32v1M46.5 17v3M36.5 33v2M24.5 34v1M27.5 8v1M21.5 15v1M2.5 28v1M21.5 6v1M13.5 9v1M25.5 19v2M27.5 33v1M25.5 3v1M18.5 12v1M11.5 20v3M12.5 35v1M3.5 2v1M27.5 1v2M27.5 4v2M46.5 34v1M14.5 2v1M10.5 7v1M9.5 18v1M12.5 0v2M24.5 36v3M36.5 35v2M17.5 18v1M16.5 34v2M18.5 4v2M39.5 14v1M31.5 9v3M34.5 18v1M35.5 6v1M5.5 32v3M11.5 18v1M15.5 32v1M28.5 17v1M25.5 17v1M17.5 5v1M31.5 37v1M35.5 12v1M18.5 3v3M12.5 9v1M18.5 30v2M25.5 32v1M25.5 6v1M22.5 28v1M6.5 16v1M21.5 1v1M30.5 23v1M23.5 7v2M9.5 37v3M27.5 19v1M41.5 36v1M14.5 3v1M42.5 0v1M45.5 17v1M35.5 0v1M45.5 26v3M25.5 9v2M7.5 3v1M1.5 17v1M19.5 26v1M31.5 27v1M44.5 16v2M9.5 37v1M27.5 4v1M16.5 9v1M17.5 10v1M19.5 36v1M35.5 16v2M24.5 15v1M12.5 19v1M23.5 27v3M8.5 24v1M22.5 2v1M7.5 22v1M27.5 16v1M10.5 10v1M15.5 25v3M1.5 23v3M37.5 0v2M12.5 15v1M24.5 1v3M22.5 29v1M18.5 31v2M16.5 17v1M45.5 23v1M21.5 8v1M2.5 35v1M20.5 4v2M30.5 12v1M6.5 18v1M32.5 0v1M19.5 13v1M31.5 15v3M39.5 24v3M0.5 29v1M18.5 29v2M17.5 7v3M3.5 19v1M27.5 27v2M1.5 4v1M9.5 28v1M16.5 30v1M3.5 5v3M25.5 35v2M19.5 19v1M41.5 19v1M31.5 17v2M34.5 30v1M41.5 18v1M17.5 27v1M12.5 9v1M32.5 20v1M34.5 0v2M34.5 17v1M27.5 37v1M6.5 2v2M29.5 16v1M29.5 2v1M32.5 14v2M35.5 11v1M18.5 16v2M34.5 11v1M40.5 20v1M21.5 26v3M9.5 1v1M0.5 36v2M27.5 35v1M38.5 5v2M43.5 25v1M1.5 29v1M19.5 12v2M1.5 33v1M20.5 20v1M6.5 11v1M36.5 31v1M4.5 37v1M14.5 36v3M27.5 29v1M10.5 21v1M6.5 36v1M38.5 10v2M29.5 14v1M23.5 16v1M13.5 34v2M40.5 18v2M39.5 11v1M19.5 13v2M25.5 15v3M34.5 26v2M16.5 4v1M0.5 31v3M22.5 32v2M17.5 31v1M26.5 8v1M1.5 36v2M23.5 36v1M31.5 20v1M40.5 29v3M20.5 20v1M15.5 17v1M2.5 19v1M25.5 22v1M32.5 18v2M23.5 3v1M18.5 4v1M26.5 2v1M28.5 22v1M32.5 13v2M25.5 22v1M35.5 11v1M37.5 30v1M17.5 36v1M43.5 37v1M42.5 18v2M15.5 0v3M43.5 30v3M37.5 4v2M35.5 25v1M26.5 27v1M29.5 8v2M27.5 12v3M45.5 16v2M43.5 19v2M25.5 35v2M2.5 17v2M16.5 12v2M8.5 20v1M25.5 30v2M38.5 28v1M16.5 35v3M28.5 28v2M11.5 25v3M15.5 15v1M10.5 33v2M46.5 34v3M27.5 30v1M39.5 4v1M13.5 22v1M13.5 10v1M10.5 4v1M21.5 11v2M36.5 18v1M33.5 21v2M33.5 33v2M38.5 11v2M38.5 37v2M30.5 29v1M1.5 1v2M13.5 33v1M25.5 15v1M45.5 8v1M29.5 23v3M13.5 12v1M18.5 20v3M35.5 12v2M41.5 20v1M12.5 19v1M18.5 25v1M26.5 30v1M5.5 10v3M23.5 27v1M5.5 27v1M16.5 23v1M5.5 18v2M32.5 0v1M16.5 23v1M21.5 35v1M20.5 23v1M27.5 9v1M19.5 9v2M43.5 2v2M7.5 35v2M2.5 2v2M15.5 26v1M32.5 27v1M8.5 31v1M9.5 4v1M33.5 12v3M30.5 15v1M5.5 19v1M2.5 16v1M13.5 14v1M27.5 0v3M29.5 12v2M20.5 20v3M13.5 35v2M2.5 37v1M45.5 28v1M5.5 34v1M32.5 5v3M32.5 29v1M38.5 14v1M34.5 24v2M26.5 24v1M4.5 19v2M46.5 29v1M0.5 26v3M41.5 32v2M34.5 21v1M35.5 26v1M1.5 22v3M21.5 4v3M41.5 32v2M36.5 35v2M9.5 9v1M7.5 33v1M12.5 30v1M24.5 31v2M36.5 3v2M37.5 17v1M28.5 15v1M8.5 26v3M7.5 12v3M14.5 28v1M16.5 28v3M0.5 26v1M16.5 9v1M17.5 3v1M42.5 7v1M1.5 35v1M17.5 29v1M8.5 21v1M35.5 25v1M5.5 18v1M37.5 10v2M35.5 27v2M9.5 24v1M38.5 21v2M32.5 4v2M17.5 3v1M36.5 26v1M38.5 7v1M44.5 24v1M26.5 15v1M15.5 16v1M11.5 9v1M28.5 14v1M15.5 6v2M26.5 27v2M30.5 15v1M44.5 30v3M3.5 36v2M45.5 22v1M34.5 26v2M22.5 6v1M46.5 10v1M26.5 9v3M21.5 13v1M24.5 1v2M28.5 25v2M23.5 0v3M20.5 19v2M11.5 14v1M31.5 22v1M42.5 21v2M33.5 14v2M14.5 22v2M29.5 1v1M1.5 37v2M42.5 19v2M8.5 14v3M32.5 9v1M41.5 24v1M20.5 9v2M21.5 24v3M25.5 29v1M9.5 12v2M25.5 3v1M44.5 2v3M40.5 27v2M25.5 14v1M22.5 30v1M7.5 28v1M8.5 36v1M30.5 33v3M22.5 16v3M3.5 16v1M18.5 33v1M5.5 37v3M4.5 8v2M19.5 6v1M0.5 17v2M16.5 33v3M15.5 29v1M15.5 18v1M5.5 19v3M22.5 1v1M34.5 8v2M6.5 20v1M44.5 6v2M17.5 22v3M22.5 37v1M12.5 32v2M21.5 35v3M37.5 20v2M45.5 36v1M10.5 28v1M11.5 7v1M27.5 19v3M2.5 25v2M45.5 17v2M34.5 33v3M34.5 33v3M44.5 13v1M2.5 36v2M37.5 35v1M9.5 5v1M41.5 4v1M32.5 2v2M25.5 4v3M15.5 32v3M9.5 33v1M24.5 18v2M5.5 10v1M10.5 34v1M40.5 3v1M46.5 8v1M23.5 29v1M7.5 30v1M3.5 36v3M3.5 25v3M22.5 12v2M35.5 8v2M34.5 19v2M13.5 1v1M11.5 5v2M1.5 12v1M29.5 16v3M33.5 36v2M30.5 12v1M11.5 26v1M37.5 23v2M18.5 36v3M1.5 32v2M12.5 10v1M24.5 2v2M9.5 0v1M17.5 26v3M10.5 23v3M6.5 8v1M29.5 6v1M27.5 7v1M41.5 24v1M1.5 3v2M28.5 23v1M15.5 5v2M21.5 31v3M33.5 30v1M42.5 18v2M6.5 13v2M14.5 1v2M46.5 17v2M24.5 37v3M7.5 14v3M16.5 12v2M13.5 17v3M6.5 5v1M33.5 12v1M38.5 25v1M25.5 12v1M1.5 32v1M4.5 28v1M38.5 35v1M17.5 27v1M6.5 9v1M33.5 8v2M39.5 23v1M40.5 16v2M25.5 26v1M1.5 25v1M16.5 32v2M31.5 35v1M41.5 30v2M32.5 32v1M31.5 16v2M22.5 3v1M28.5 4v1M27.5 4v1M20.5 1v1M41.5 21v1M1.5 34v1M11.5 36v1M19.5 34v1M29.5 6v1M16.5 18v3M36.5 7v2M28.5 1v1M5.5 33v1M45.5 18v1M5.5 0v1M44.5 19v1M14.5 12v2M14.5 21v2M0.5 8v1M0.5 33v1M46.5 0v2M16.5 30v2M10.5 35v3M29.5 24v1M42.5 23v1M45.5 21v1M13.5 36v1M29.5 0v3M16.5 26v1M38.5 16v1M12.5 18v2M30.5 3v1M0.5 16v2M33.5 36v1M20.5 35v1M37.5 34v3M18.5 37v1M40.5 33v1M11.5 21v1M46.5 11v1M17.5 20v1M27.5 31v2M19.5 34v2M14.5 15v2M2.5 14v1M43.5 28v1M30.5 23v1M12.5 16v1M23.5 33v1M1.5 10v1M0.5 12v1M30.5 1v1M3.5 23v3M23.5 26v3M45.5 19v2M8.5 27v2M20.5 22v1M13.5 29v1M34.5 0v3M29.5 25v2M19.5 9v1M32.5 6v1M36.5 33v1M21.5 29v2M14.5 37v1M45.5 11v1M44.5 20v1M8.5 31v1M10.5 16v1M39.5 34v1M43.5 22v3M25.5 27v1M11.5 27v1M10.5 19v1M21.5 22v1M24.5 19v2M25.5 21v2M31.5 5v3M1.5 14v2M23.5 23v1M6.5 15v1M5.5 6v1M38.5 35v1M9.5 19v1M44.5 17v1M14.5 4v1M32.5 18v3M12.5 28v3M3.5 6v1M43.5 4v2M7.5 16v3M0.5 21v1M1.5 33v1M46.5 30v1M34.5 3v1M41.5 16v1M18.5 24v1M4.5 22v1M18.5 24v2M5.5 18v2M10.5 26v1M15.5 31v2M6.5 4v1M2.5 33v1M2.5 7v2M28.5 7v3M38.5 19v1M15.5 3v1M25.5 30v1M13.5 3v3M25.5 15v1M14.5 6v1M27.5 14v1M5.5 19v2M28.5 6v1M28.5 37v1M26.5 30v1M25.5 34v1M34.5 13v2M6.5 24v1M17.5 24v1M32.5 10v2M18.5 14v1M14.5 36v2M37.5 3v1M34.5 9v2M16.5 0v2M22.5 25v1M45.5 25v1M21.5 35v2M5.5 36v1M30.5 20v1M3.5 10v1M33.5 6v2M37.5 0v2M41.5 15v3M39.5 25v1M38.5 8v2M25.5 11v2M39.5 27v3M32.5 28v2M42.5 17v1M36.5 36v1M35.5 4v2M33.5 20v1M14.5 4v2M8.5 29v1M8.5 32v1M33.5 13v1M10.5 6v2M17.5 10v1M20.5 18v3M19.5 30v2M12.5 4v2M0.5 6v1M31.5 32v2M10.5 4v1M44.5 24v1M13.5 22v1M10.5 21v1M25.5 35v2M40.5 25v1M19.5 15v1M35.5 16v2M44.5 19v3M7.5 20v1M35.5 1v3M34.5 18v2M9.5 28v1M26.5 21v3M23.5 24v1M9.5 32v3M3.5 35v1M42.5 7v2M7.5 26v1M19.5 1v1M28.5 32v1M18.5 20v2M40.5 10v1M4.5 13v1M23.5 4v1M39.5 1v3M33.5 11v1M14.5 27v1M42.5 4v2M36.5 12v3M41.5 22v2M36.5 0v1M33.5 31v1M7.5 19v1M12.5 28v1M4.5 11v1M20.5 31v2M7.5 16v2M44.5 0v1M42.5 17v2M15.5 12v2M38.5 37v2M39.5 14v2M34.5 4v1M14.5 4v2M34.5 32v2M12.5 11v3M4.5 34v3M32.5 9v2M22.5 21v1M46.5 6v2M10.5 33v3M25.5 7v3M22.5 30v1M44.5 19v2M37.5 32v3M3.5 25v1M19.5 37v3M31.5 31v1M2.5 20v3M2.5 4v3M36.5 2v1M40.5 34v2M21.5 3v1M37.5 24v1M37.5 19v2M20.5 19v1M17.5 34v1M23.5 25v1M1.5 17v2M19.5 17v2M24.5 6v1M27.5 32v1M12.5 26v1M35.5 26v2M8.5 16v3M14.5 14v1M42.5 9v3M24.5 14v2M2.5 14v2M30.5 27v1M33.5 32v1M43.5 18v2M0.5 18v3M13.5 37v2M24.5 24v1M42.5 33v2M8.5 29v2M22.5 22v1M29.5 30v1M41.5 2v1M21.5 8v1M20.5 31v1M33.5 1v1M33.5 16v1M46.5 7v2M0.5 21v3M0.5 15v1M2.5 24v1M9.5 3v2M6.5 23v1M18.5 29v1M10.5 28v1"/><path stroke="#b2182b" stroke-width="1" d="M45.5 30v1M16.5 4v1M5.5 20v1M23.5 28v2M34.5 24v1M45.5 8v1M1.5 4v2M18.5 10v1M0.5 33v1M2.5 7v1M42.5 29v1M17.5 12v1M29.5 28v1M38.5 5v2M34.5 28v1M41.5 16v2M36.5 0v1M24.5 37v1M32.5 31v1M43.5 7v1M14.5 19v1M2.5 5v2M19.5 13v1M4.5 14v2M15.5 12v2M33.5 35v3M10.5 24v2M12.5 36v1M3.5 16v1M10.5 4v3M31.5 25v2M26.5 11v1M16.5 3v2M8.5 25v1M8.5 9v1M0.5 5v1M35.5 13v1M26.5 25v1M33.5 35v1M24.5 19v1M40.5 7v1M13.5 4v1M29.5 16v2M33.5 32v2M3.5 10v2M25.5 12v2M15.5 12v3M37.5 7v3M27.5 30v2M46.5 21v2M39.5 27v2M44.5 34v2M3.5 22v2M9.5 35v1M19.5 7v1M23.5 19v2M8.5 6v1M0.5 14v1M46.5 11v3M29.5 14v1M33.5 23v2M19.5 3v1M23.5 33v3M9.5 36v2M41.5 27v2M40.5 7v1M3.5 4v1M18.5 7v1M30.5 27v1M36.5 23v1M24.5 23v2M27.5 33v3M41.5 4v1M2.5 33v2M10.5 13v3M38.5 25v1M28.5 26v2M5.5 9v1M9.5 16v1M41.5 11v2M42.5 34v2M11.5 2v1M0.5 22v2M17.5 34v2M5.5 34v1M3.5 3v1M31.5 24v2M30.5 14v3M42.5 17v3M4.5 29v2M19.5 27v1M25.5 6v1M43.5 31v1M35.5 36v1M0.5 20v1M45.5 29v2M15.5 23v3M30.5 37v1M45.5 31v1M19.5 15v2M16.5 33v3M7.5 30v1M9.5 35v1M23.5 2v1M24.5 19v2M40.5 6v1M39.5 36v2M24.5 24v1M17.5 36v2M44.5 3v1M5.5 29v2M31.5 37v2M44.5 28v1M34.5 13v1M32.5 20v1M23.5 0v3M36.5 1v1M28.5 4v2M26.5 2v1M19.5 9v1M21.5 1v1M12.5 21v1M14.5 31v1M17.5 10v2M34.5 4v2M28.5 15v1M19.5 24v2M37.5 7v1M36.5 5v2M20.5 19v1M22.5 2v1M37.5 4v1M12.5 15v1M30.5 18v1M2.5 16v1M2.5 33v2M37.5 33v1M42.5 29v1M11.5 28v1M9.5 13v1M4.5 1v3M30.5 7v1M8.5 8v3M13.5 9v2M31.5 8v2M44.5 20v1M37.5 22v2M37.5 27v2M40.5 33v1M11.5 33v3M45.5 36v2M9.5 8v1M33.5 1v1M27.5 16v1M43.5 1v1M42.5 34v2M12.5 17v1M9.5 24v3M40.5 13v1M29.5 33v1M35.5 28v3M1.5 26v1M23.5 27v1M24.5 2v1M3.5 5v1M39.5 1v2M27.5 4v3M20.5 21v2M15.5 1v2M36.5 33v1M15.5 25v1M44.5 0v1M40.5 9v2M8.5 21v1M40.5 4v2M15.5 25v3M13.5 1v2M1.5 8v1M35.5 16v2M6.5 18v1M13.5 2v3M28.5 2v2M5.5 25v1M45.5 29v1M16.5 21v1M45.5 27v1M40.5 4v1M0.5 21v3M33.5 28v3M38.5 17v1M37.5 2v1M25.5 9v2M8.5 12v1M19.5 1v1M32.5 37v1M14.5 27v2M2.5 19v1M30.5 19v2M35.5 12v2M34.5 32v1M24.5 36v3M37.5 11v1M43.5 37v3M32.5 14v1M14.5 5v2M33.5 24v1M34.5 0v2M36.5 9v1M38.5 22v1M44.5 22v1M13.5 27v2M10.5 13v2M5.5 31v2M45.5 32v1M31.5 13v1M18.5 17v1M3.5 32v1M37.5 22v2M9.5 10v1M33.5 12v3M45.5 34v1M26.5 23v1M9.5 21v1M0.5 5v3M28.5 32v2M6.5 34v1M31.5 37v1M18.5 0v3M9.5 8v2M8.5 9v1M4.5 30v1M28.5 7v1M46.5 24v1M37.5 6v1M30.5 22v1M15.5 9v3M27.5 15v1M30.5 1v1M36.5 36v3M5.5 16v1M42.5 0v2M37.5 32v2M4.5 33v2M8.5 31v1M27.5 24v1M46.5 28v2M42.5 27v3M33.5 27v1M31.5 13v1M22.5 15v1M14.5 27v1M39.5 6v2M25.5 0v1M22.5 36v2M37.5 1v2M24.5 33v2M18.5 17v3M17.5 30v1M14.5 10v1M24.5 2v2M11.5 26v2M23.5 21v1M12.5 26v2M29.5 26v2M32.5 1v2M3.5 24v1M37.5 26v3M26.5 13v2M8.5 29v3M11.5 19v3M33.5 6v3M12.5 23v1M4.5 8v3M29.5 32v1M10.5 0v3M27.5 8v1M14.5 18v2M41.5 25v2M5.5 25v2M24.5 24v3M45.5 5v1M32.5 18v2M44.5 24v2M14.5 3v1M27.5 27v1M15.5 20v1M44.5 1v2M34.5 11v1M2.5 7v1M45.5 11v1M26.5 14v1M38.5 33v1M35.5 18v3M42.5 6v2M31.5 8v1M27.5 9v2M42.5 16v2M19.5 6v3M5.5 26v1M28.5 34v1M11.5 7v1M39.5 9v2M24.5 5v1M29.5 4v1M0.5 11v3M45.5 32v2M8.5 11v1M39.5 15v3M8.5 9v2M19.5 28v3M14.5 24v1M26.5 26v1M41.5 8v2M20.5 24v1M5.5 13v1M33.5 14v1M5.5 36v2M46.5 21v1M22.5 19v1M16.5 4v3M43.5 1v2M33.5 6v1M35.5 14v2M1.5 10v1M12.5 12v2M21.5 17v1M9.5 0v2M39.5 34v1M5.5 27v2M2.5 37v2M36.5 2v2M39.5 30v3M6.5 18v1M23.5 37v2M1.5 5v2M3.5 11v1M39.5 30v3M9.5 26v3M16.5 30v1M26.5 18v3M27.5 26v1M7.5 8v1M8.5 0v1M5.5 31v2M15.5 33v1M7.5 20v1M11.5 15v2M45.5 10v2M18.5 19v1M5.5 12v1M23.5 10v3M23.5 29v2M45.5 30v1M29.5 9v1M19.5 3v1M25.5 6v1M3.5 4v1M32.5 0v2M15.5 34v2M26.5 20v3M12.5 0v1M29.5 14v1M20.5 15v1M25.5 9v2M6.5 18v2M20.5 32v3M6.5 13v1M4.5 16v1M32.5 29v1M23.5 2v1M14.5 37v1M9.5 28v1M44.5 2v1M31.5 15v1M6.5 8v2M38.5 35v3M25.5 28v1M38.5 15v1M17.5 8v2M34.5 35v1M29.5 37v1M36.5 0v1M43.5 20v2M24.5 36v1M10.5 1v1M3.5 22v1M38.5 18v3M12.5 18v3M18.5 36v2M12.5 34v1M38.5 21v1M0.5 7v2M28.5 20v3M7.5 30v1M11.5 28v2M14.5 6v2M20.5 20v3M1.5 9v1M31.5 9v1M45.5 6v2M9.5 21v1M4.5 28v3M23.5 6v2M20.5 30v1M24.5 1v3M3.5 4v2M21.5 25v1M43.5 30v1M29.5 25v2M34.5 29v1M40.5 11v1M7.5 18v2M7.5 33v2M25.5 2v2M28.5 1v3M36.5 27v1M46.5 14v1M19.5 9v1M2.5 31v2M36.5 27v2M41.5 14v1M17.5 23v1M39.5 20v1M5.5 13v3M24.5 20v3M42.5 34v1M6.5 14v2M46.5 17v1M9.5 4v2M28.5 13v3M20.5 21v1M33.5 32v1M6.5 12v1M20.5 29v2M41.5 21v3M29.5 30v3M42.5 28v1M46.5 34v2M40.5 29v1M17.5 2v3M46.5 29v2M0.5 27v2M3.5 12v2M1.5 8v2M14.5 26v1M29.5 4v1M45.5 2v1M10.5 23v1M34.5 5v1M6.5 33v1M0.5 14v1M35.5 0v1M21.5 5v1M15.5 5v1M16.5 6v1M25.5 23v1M2.5 34v1M27.5 23v1M16.5 27v1M40.5 4v1M3.5 22v1M17.5 7v2M14.5 27v2M39.5 33v1M18.5 6v2M32.5 11v1M33.5 17v1M36.5 23v1M0.5 29v1M45.5 21v1M2.5 22v3M7.5 34v2M8.5 27v2M34.5 23v2M15.5 20v1M11.5 13v1M19.5 12v1M4.5 0v1M0.5 25v1M0.5 4v1M20.5 3v1M44.5 34v2M36.5 14v1M12.5 37v1M29.5 30v1M21.5 5v3M31.5 15v1"/><path stroke="#d6604d" stroke-width="1" d="M33.5 30v1M8.5 37v3M40.5 22v2M42.5 24v3M19.5 17v1M33.5 21v2M20.5 7v3M2.5 17v2M3.5 22v1M43.5 7v3M37.5 18v3M32.5 12v2M33.5 17v2M42.5 20v1M19.5 2v1M43.5 22v1M38.5 27v3M4.5 3v3M45.5 17v1M13.5 0v2M2.5 23v1M46.5 1v1M37.5 36v2M0.5 20v3M34.5 15v1M21.5 30v2M39.5 12v1M35.5 18v1M21.5 18v1M33.5 7v3M19.5 7v1M36.5 27v1M19.5 10v1M17.5 0v1M22.5 5v1M22.5 23v2M39.5 12v1M7.5 5v2M7.5 11v1M8.5 18v1M18.5 25v2M14.5 6v2M20.5 22v2M28.5 10v1M23.5 9v1M44.5 9v1M39.5 11v1M21.5 18v1M14.5 31v1M18.5 7v1M28.5 32v2M14.5 5v1M32.5 22v3M45.5 5v1M21.5 26v1M0.5 31v1M25.5 1v3M43.5 15v1M10.5 19v2M4.5 16v1M11.5 2v1M9.5 37v3M11.5 6v1M44.5 36v2M43.5 29v1M15.5 27v2M20.5 4v1M27.5 12v1M14.5 4v2M1.5 27v1M39.5 19v1M37.5 33v2M20.5 5v2M7.5 24v3M46.5 16v3M26.5 29v2M42.5 37v2M31.5 25v1M15.5 8v1M14.5 8v1M37.5 31v2M39.5 18v2M28.5 14v2M11.5 31v3M4.5 1v2M10.5 20v1M18.5 4v3M19.5 18v1M24.5 29v3M27.5 20v1M7.5 13v3M18.5 11v2M1.5 25v1M12.5 31v1M2.5 25v1M45.5 34v1M6.5 8v1M17.5 19v2M45.5 4v1M14.5 25v1M36.5 16v1M27.5 10v2M23.5 37v1M9.5 33v1M43.5 10v3M12.5 26v2M20.5 23v2M40.5 2v1M16.5 10v1M41.5 12v1M36.5 33v2M22.5 22v2M15.5 11v1M1.5 10v2M42.5 19v1M0.5 20v2M43.5 6v1M10.5 21v1M21.5 23v2M16.5 34v2M21.5 10v1M22.5 19v1M44.5 15v1M41.5 9v3M4.5 8v1M45.5 24v2M33.5 5v3M42.5 35v1M39.5 4v1M41.5 15v1M30.5 5v1M34.5 32v2M20.5 4v1M37.5 10v1M40.5 18v2M19.5 11v1M17.5 27v1M38.5 29v1M26.5 35v1M13.5 35v1M35.5 10v1M11.5 19v1M21.5 13v2M5.5 19v1M36.5 28v1M7.5 28v2M16.5 23v2M42.5 17v1M15.5 12v2M6.5 6v2M29.5 1v3M42.5 31v1M34.5 12v2M4.5 34v2M22.5 14v1M27.5 31v3M1.5 19v1M7.5 36v2M35.5 10v3M1.5 20v3M14.5 10v1M39.5 18v1M4.5 1v1M4.5 14v2M36.5 10v2M36.5 0v1M22.5 31v2M6.5 8v3M7.5 6v1M19.5 26v2M44.5 18v3M29.5 29v3M2.5 18v2M26.5 6v1M7.5 16v1M31.5 26v2M41.5 23v1M44.5 31v1M39.5 7v1M32.5 11v2M22.5 10v2M19.5 33v2M29.5 28v1M20.5 18v1M27.5 32v1M3.5 26v1M2.5 5v2M9.5 20v2M3.5 23v1M37.5 20v3M42.5 13v1M9.5 34v1M23.5 26v1M37.5 35v2M24.5 30v1M22.5 36v2M43.5 5v1M20.5 33v1M20.5 4v1M22.5 17v1M44.5 35v1M26.5 34v2M20.5 27v2M25.5 15v1M23.5 19v1M43.5 16v2M14.5 35v1M42.5 6v1M43.5 25v1M34.5 9v2M32.5 33v1M35.5 4v2M0.5 24v2M21.5 31v1M41.5 8v1M32.5 35v1M26.5 30v1M34.5 30v3M5.5 22v3M1.5 5v1M8.5 4v1M46.5 13v1M1.5 19v3M0.5 26v1M6.5 30v2M45.5 2v1M44.5 25v1M1.5 33v2M22.5 7v2M0.5 21v1M15.5 32v2M5.5 21v1M31.5 21v1M21.5 9v2M39.5 33v1M15.5 13v1M41.5 25v1M37.5 19v1M34.5 23v2M13.5 20v3M31.5 30v2M29.5 26v1M20.5 37v1M21.5 2v1M43.5 9v1M28.5 9v3M45.5 28v2M40.5 23v1M1.5 37v1M2.5 11v1"/></pattern></defs>
<rect x="13" y="600" width="355.6" height="361.6" fill="url(#sp0)"/>
<g opacity="0.8"><rect x="13" y="615.6" width="355.6" height="2.7" fill="url(#sp1)"/><rect x="13" y="622.5" width="355.6" height="1.3" fill="url(#sp1)"/><rect x="13" y="632.2" width="355.6" height="2.7" fill="url(#sp1)"/><rect x="13" y="642.9" width="355.6" height="1.3" fill="url(#sp1)"/><rect x="13" y="647.2" width="355.6" height="4" fill="url(#sp1)"/><rect x="13" y="660.7" width="355.6" height="2.7" fill="url(#sp2)"/><rect x="13" y="676.7" width="355.6" height="4" fill="url(#sp1)"/><rect x="13" y="684.7" width="355.6" height="1.3" fill="url(#sp1)"/><rect x="13" y="695.3" width="355.6" height="2.7" fill="url(#sp2)"/><rect x="13" y="704.9" width="355.6" height="2.7" fill="url(#sp1)"/><rect x="13" y="709.8" width="355.6" height="2.7" fill="url(#sp2)"/><rect x="13" y="720.5" width="355.6" height="4" fill="url(#sp2)"/><rect x="13" y="732.9" width="355.6" height="1.3" fill="url(#sp1)"/><rect x="13" y="747.0" width="355.6" height="2.7" fill="url(#sp2)"/><rect x="13" y="755.0" width="355.6" height="1.3" fill="url(#sp1)"/><rect x="13" y="765.9" width="355.6" height="1.3" fill="url(#sp2)"/><rect x="13" y="781.6" width="355.6" height="2.7" fill="url(#sp1)"/><rect x="13" y="793.1" width="355.6" height="1.3" fill="url(#sp1)"/><rect x="13" y="808.3" width="355.6" height="1.3" fill="url(#sp1)"/><rect x="13" y="821.3" width="355.6" height="2.7" fill="url(#sp1)"/><rect x="13" y="832.2" width="355.6" height="4" fill="url(#sp2)"/><rect x="13" y="837.9" width="355.6" height="4" fill="url(#sp1)"/><rect x="13" y="853.2" width="355.6" height="1.3" fill="url(#sp1)"/><rect x="13" y="863.2" width="355.6" height="1.3" fill="url(#sp2)"/><rect x="13" y="871.5" width="355.6" height="4" fill="url(#sp1)"/><rect x="13" y="878.6" width="355.6" height="4" fill="url(#sp1)"/><rect x="13" y="890.4" width="355.6" height="1.3" fill="url(#sp1)"/><rect x="13" y="897.9" width="355.6" height="1.3" fill="url(#sp1)"/><rect x="13" y="912.1" width="355.6" height="2.7" fill="url(#sp1)"/><rect x="13" y="923.0" width="355.6" height="1.3" fill="url(#sp1)"/><rect x="13" y="928.7" width="355.6" height="1.3" fill="url(#sp2)"/><rect x="13" y="932.8" width="355.6" height="1.3" fill="url(#sp2)"/><rect x="13" y="947.9" width="355.6" height="1.3" fill="url(#sp1)"/></g>
<g><rect x="13" y="600" width="32.5" height="13.8" fill="url(#sp4)"/><rect x="45.5" y="613.8" width="27.6" height="15.2" fill="url(#sp4)"/><rect x="73.1" y="629" width="25.4" height="15.0" fill="url(#sp4)"/><rect x="98.5" y="644" width="21.9" height="14.0" fill="url(#sp3)"/><rect x="120.4" y="658" width="19.1" height="15.0" fill="url(#sp4)"/><rect x="139.5" y="673" width="17.1" height="14.0" fill="#8e1420" opacity="0.82"/><rect x="139.5" y="673" width="17.1" height="14.0" fill="url(#sp5)"/><rect x="156.6" y="687" width="17.6" height="15.0" fill="url(#sp4)"/><rect x="174.2" y="702" width="17.5" height="14.0" fill="url(#sp4)"/><rect x="191.7" y="716" width="12.7" height="14.5" fill="url(#sp4)"/><rect x="204.4" y="730.5" width="13.9" height="13.5" fill="#8e1420" opacity="0.82"/><rect x="204.4" y="730.5" width="13.9" height="13.5" fill="url(#sp5)"/><rect x="218.3" y="744" width="12.5" height="13.5" fill="url(#sp4)"/><rect x="230.8" y="757.5" width="12.4" height="11.5" fill="url(#sp3)"/><rect x="243.2" y="769" width="11.7" height="15.0" fill="url(#sp4)"/><rect x="254.9" y="784" width="11.9" height="9.0" fill="url(#sp4)"/><rect x="266.8" y="793" width="10.8" height="15.0" fill="url(#sp4)"/><rect x="277.6" y="808" width="10.6" height="9.0" fill="url(#sp4)"/><rect x="288.2" y="817" width="10.5" height="14.0" fill="url(#sp3)"/><rect x="298.7" y="831" width="9.5" height="12.0" fill="url(#sp4)"/><rect x="308.2" y="843" width="9.1" height="10.0" fill="url(#sp4)"/><rect x="317.3" y="853" width="9.2" height="13.0" fill="url(#sp4)"/><rect x="326.5" y="866" width="7.5" height="14.0" fill="url(#sp4)"/><rect x="334" y="880" width="6.9" height="14.0" fill="url(#sp4)"/><rect x="340.9" y="894" width="7.5" height="14.0" fill="url(#sp4)"/><rect x="348.4" y="908" width="6.4" height="12.0" fill="url(#sp4)"/><rect x="354.8" y="920" width="5.0" height="7.0" fill="url(#sp4)"/><rect x="359.8" y="927" width="4.7" height="13.0" fill="url(#sp4)"/><rect x="364.5" y="940" width="4.1" height="21.6" fill="url(#sp4)"/><rect x="139.5" y="600" width="17.1" height="13.8" fill="url(#sp4)"/><rect x="204.4" y="600" width="13.9" height="13.8" fill="url(#sp4)"/><rect x="254.9" y="600" width="11.9" height="13.8" fill="url(#sp4)"/><rect x="174.2" y="600" width="17.5" height="13.8" fill="url(#sp2)"/><rect x="98.5" y="600" width="21.9" height="13.8" fill="url(#sp1)"/><rect x="156.6" y="600" width="17.6" height="13.8" fill="url(#sp2)"/><rect x="218.3" y="600" width="12.5" height="13.8" fill="url(#sp2)"/><rect x="204.4" y="613.8" width="13.9" height="15.2" fill="url(#sp2)"/><rect x="218.3" y="613.8" width="12.5" height="15.2" fill="url(#sp2)"/><rect x="230.8" y="613.8" width="12.4" height="15.2" fill="url(#sp2)"/><rect x="174.2" y="613.8" width="17.5" height="15.2" fill="url(#sp2)"/><rect x="13" y="613.8" width="32.5" height="15.2" fill="url(#sp1)"/><rect x="13" y="629" width="32.5" height="15.0" fill="url(#sp2)"/><rect x="98.5" y="629" width="21.9" height="15.0" fill="url(#sp2)"/><rect x="45.5" y="629" width="27.6" height="15.0" fill="url(#sp1)"/><rect x="139.5" y="629" width="17.1" height="15.0" fill="url(#sp2)"/><rect x="156.6" y="629" width="17.6" height="15.0" fill="url(#sp2)"/><rect x="73.1" y="644" width="25.4" height="14.0" fill="url(#sp2)"/><rect x="120.4" y="644" width="19.1" height="14.0" fill="url(#sp1)"/><rect x="13" y="644" width="32.5" height="14.0" fill="url(#sp1)"/><rect x="13" y="658" width="32.5" height="15.0" fill="url(#sp2)"/><rect x="174.2" y="658" width="17.5" height="15.0" fill="url(#sp3)"/><rect x="13" y="673" width="32.5" height="14.0" fill="url(#sp4)"/><rect x="204.4" y="673" width="13.9" height="14.0" fill="#8e1420" opacity="0.82"/><rect x="204.4" y="673" width="13.9" height="14.0" fill="url(#sp5)"/><rect x="254.9" y="673" width="11.9" height="14.0" fill="#8e1420" opacity="0.82"/><rect x="254.9" y="673" width="11.9" height="14.0" fill="url(#sp5)"/><rect x="218.3" y="673" width="12.5" height="14.0" fill="url(#sp2)"/><rect x="156.6" y="673" width="17.6" height="14.0" fill="url(#sp2)"/><rect x="191.7" y="687" width="12.7" height="15.0" fill="url(#sp3)"/><rect x="266.8" y="687" width="10.8" height="15.0" fill="url(#sp2)"/><rect x="288.2" y="687" width="10.5" height="15.0" fill="url(#sp3)"/><rect x="308.2" y="687" width="9.1" height="15.0" fill="url(#sp2)"/><rect x="317.3" y="687" width="9.2" height="15.0" fill="url(#sp2)"/><rect x="334" y="687" width="6.9" height="15.0" fill="url(#sp3)"/><rect x="13" y="687" width="32.5" height="15.0" fill="url(#sp1)"/><rect x="120.4" y="702" width="19.1" height="14.0" fill="url(#sp3)"/><rect x="204.4" y="702" width="13.9" height="14.0" fill="url(#sp2)"/><rect x="218.3" y="702" width="12.5" height="14.0" fill="url(#sp2)"/><rect x="13" y="716" width="32.5" height="14.5" fill="url(#sp1)"/><rect x="13" y="730.5" width="32.5" height="13.5" fill="url(#sp4)"/><rect x="139.5" y="730.5" width="17.1" height="13.5" fill="#8e1420" opacity="0.82"/><rect x="139.5" y="730.5" width="17.1" height="13.5" fill="url(#sp5)"/><rect x="254.9" y="730.5" width="11.9" height="13.5" fill="#8e1420" opacity="0.82"/><rect x="254.9" y="730.5" width="11.9" height="13.5" fill="url(#sp5)"/><rect x="218.3" y="730.5" width="12.5" height="13.5" fill="url(#sp3)"/><rect x="277.6" y="730.5" width="10.6" height="13.5" fill="url(#sp3)"/><rect x="317.3" y="730.5" width="9.2" height="13.5" fill="url(#sp3)"/><rect x="243.2" y="744" width="11.7" height="13.5" fill="url(#sp4)"/><rect x="277.6" y="744" width="10.6" height="13.5" fill="url(#sp3)"/><rect x="348.4" y="744" width="6.4" height="13.5" fill="url(#sp4)"/><rect x="204.4" y="744" width="13.9" height="13.5" fill="url(#sp2)"/><rect x="277.6" y="784" width="10.6" height="9.0" fill="url(#sp2)"/><rect x="13" y="808" width="32.5" height="9.0" fill="url(#sp2)"/><rect x="218.3" y="808" width="12.5" height="9.0" fill="url(#sp3)"/><rect x="243.2" y="808" width="11.7" height="9.0" fill="url(#sp3)"/><rect x="348.4" y="808" width="6.4" height="9.0" fill="url(#sp4)"/><rect x="13" y="866" width="32.5" height="14.0" fill="url(#sp4)"/><rect x="45.5" y="866" width="27.6" height="14.0" fill="url(#sp5)"/><rect x="174.2" y="866" width="17.5" height="14.0" fill="url(#sp4)"/><rect x="204.4" y="866" width="13.9" height="14.0" fill="url(#sp3)"/><rect x="218.3" y="866" width="12.5" height="14.0" fill="url(#sp3)"/><rect x="317.3" y="866" width="9.2" height="14.0" fill="url(#sp3)"/><rect x="340.9" y="866" width="7.5" height="14.0" fill="url(#sp3)"/><rect x="73.1" y="880" width="25.4" height="14.0" fill="url(#sp1)"/><rect x="13" y="908" width="32.5" height="12.0" fill="url(#sp3)"/><rect x="218.3" y="908" width="12.5" height="12.0" fill="url(#sp3)"/><rect x="243.2" y="908" width="11.7" height="12.0" fill="url(#sp3)"/><rect x="277.6" y="908" width="10.6" height="12.0" fill="url(#sp3)"/><rect x="266.8" y="927" width="10.8" height="13.0" fill="url(#sp3)"/><rect x="139.5" y="940" width="17.1" height="21.6" fill="url(#sp2)"/><rect x="174.2" y="940" width="17.5" height="21.6" fill="url(#sp2)"/><rect x="13" y="769" width="32.5" height="15.0" fill="url(#sp1)"/><rect x="13" y="793" width="32.5" height="15.0" fill="url(#sp1)"/><rect x="13" y="817" width="32.5" height="14.0" fill="url(#sp1)"/><rect x="13" y="843" width="32.5" height="10.0" fill="url(#sp1)"/><rect x="13" y="853" width="32.5" height="13.0" fill="url(#sp1)"/><rect x="13" y="920" width="32.5" height="7.0" fill="url(#sp1)"/><rect x="13" y="927" width="32.5" height="13.0" fill="url(#sp2)"/><rect x="13" y="940" width="32.5" height="21.6" fill="url(#sp2)"/><rect x="45.5" y="940" width="27.6" height="21.6" fill="url(#sp1)"/><rect x="98.5" y="940" width="21.9" height="21.6" fill="url(#sp1)"/></g>
<line x1="45.50" y1="600.00" x2="45.50" y2="961.60" stroke="#7d7d7d" stroke-width="1.1"/>
<line x1="73.10" y1="600.00" x2="73.10" y2="961.60" stroke="#7d7d7d" stroke-width="1.1"/>
<line x1="98.50" y1="600.00" x2="98.50" y2="961.60" stroke="#7d7d7d" stroke-width="1.1"/>
<line x1="120.40" y1="600.00" x2="120.40" y2="961.60" stroke="#7d7d7d" stroke-width="1.1"/>
<line x1="139.50" y1="600.00" x2="139.50" y2="961.60" stroke="#7d7d7d" stroke-width="1.1"/>
<line x1="156.60" y1="600.00" x2="156.60" y2="961.60" stroke="#7d7d7d" stroke-width="1.1"/>
<line x1="174.20" y1="600.00" x2="174.20" y2="961.60" stroke="#7d7d7d" stroke-width="1.1"/>
<line x1="191.70" y1="600.00" x2="191.70" y2="961.60" stroke="#7d7d7d" stroke-width="1.1"/>
<line x1="204.40" y1="600.00" x2="204.40" y2="961.60" stroke="#7d7d7d" stroke-width="1.1"/>
<line x1="218.30" y1="600.00" x2="218.30" y2="961.60" stroke="#7d7d7d" stroke-width="1.1"/>
<line x1="230.80" y1="600.00" x2="230.80" y2="961.60" stroke="#7d7d7d" stroke-width="1.1"/>
<line x1="243.20" y1="600.00" x2="243.20" y2="961.60" stroke="#7d7d7d" stroke-width="1.1"/>
<line x1="254.90" y1="600.00" x2="254.90" y2="961.60" stroke="#7d7d7d" stroke-width="1.1"/>
<line x1="266.80" y1="600.00" x2="266.80" y2="961.60" stroke="#7d7d7d" stroke-width="1.1"/>
<line x1="277.60" y1="600.00" x2="277.60" y2="961.60" stroke="#7d7d7d" stroke-width="1.1"/>
<line x1="288.20" y1="600.00" x2="288.20" y2="961.60" stroke="#7d7d7d" stroke-width="1.1"/>
<line x1="298.70" y1="600.00" x2="298.70" y2="961.60" stroke="#7d7d7d" stroke-width="1.1"/>
<line x1="308.20" y1="600.00" x2="308.20" y2="961.60" stroke="#7d7d7d" stroke-width="1.1"/>
<line x1="317.30" y1="600.00" x2="317.30" y2="961.60" stroke="#7d7d7d" stroke-width="1.1"/>
<line x1="326.50" y1="600.00" x2="326.50" y2="961.60" stroke="#7d7d7d" stroke-width="1.1"/>
<line x1="334.00" y1="600.00" x2="334.00" y2="961.60" stroke="#7d7d7d" stroke-width="1.1"/>
<line x1="340.90" y1="600.00" x2="340.90" y2="961.60" stroke="#7d7d7d" stroke-width="1.1"/>
<line x1="348.40" y1="600.00" x2="348.40" y2="961.60" stroke="#7d7d7d" stroke-width="1.1"/>
<line x1="354.80" y1="600.00" x2="354.80" y2="961.60" stroke="#7d7d7d" stroke-width="1.1"/>
<line x1="359.80" y1="600.00" x2="359.80" y2="961.60" stroke="#7d7d7d" stroke-width="1.1"/>
<line x1="364.50" y1="600.00" x2="364.50" y2="961.60" stroke="#7d7d7d" stroke-width="1.1"/>
<line x1="368.60" y1="600.00" x2="368.60" y2="961.60" stroke="#7d7d7d" stroke-width="1.1"/>
<text x="18.70" y="972.60" font-size="10.4">Expression</text>
<linearGradient id="expg" x1="0" x2="1" y1="0" y2="0"><stop offset="0" stop-color="#b2182b"/><stop offset="0.25" stop-color="#e58c8a"/><stop offset="0.5" stop-color="#f7f7f7"/><stop offset="0.75" stop-color="#92bfdd"/><stop offset="1" stop-color="#2166ac"/></linearGradient>
<rect x="12.1" y="976.8" width="64.3" height="12.6" fill="url(#expg)"/>
<line x1="18.20" y1="976.80" x2="18.20" y2="978.60" stroke="#fff" stroke-width="0.6"/>
<line x1="18.20" y1="987.60" x2="18.20" y2="989.40" stroke="#fff" stroke-width="0.6"/>
<line x1="30.90" y1="976.80" x2="30.90" y2="978.60" stroke="#fff" stroke-width="0.6"/>
<line x1="30.90" y1="987.60" x2="30.90" y2="989.40" stroke="#fff" stroke-width="0.6"/>
<line x1="44.40" y1="976.80" x2="44.40" y2="978.60" stroke="#fff" stroke-width="0.6"/>
<line x1="44.40" y1="987.60" x2="44.40" y2="989.40" stroke="#fff" stroke-width="0.6"/>
<line x1="56.50" y1="976.80" x2="56.50" y2="978.60" stroke="#fff" stroke-width="0.6"/>
<line x1="56.50" y1="987.60" x2="56.50" y2="989.40" stroke="#fff" stroke-width="0.6"/>
<line x1="69.40" y1="976.80" x2="69.40" y2="978.60" stroke="#fff" stroke-width="0.6"/>
<line x1="69.40" y1="987.60" x2="69.40" y2="989.40" stroke="#fff" stroke-width="0.6"/>
<text x="18.20" y="999.40" font-size="9.6" text-anchor="middle">2</text>
<text x="30.60" y="999.40" font-size="9.6" text-anchor="middle">1</text>
<text x="44.40" y="999.40" font-size="9.6" text-anchor="middle">0</text>
<text x="55.80" y="999.40" font-size="9.6" text-anchor="middle">−1</text>
<text x="69.20" y="999.40" font-size="9.6" text-anchor="middle">−2</text>
<text x="384.60" y="558.10" font-size="15.5" fill="#000" font-weight="bold">d</text>
<line x1="471.50" y1="554.50" x2="471.50" y2="947.60" stroke="#555" stroke-width="0.9"/>
<line x1="471.50" y1="947.60" x2="684.00" y2="947.60" stroke="#555" stroke-width="0.9"/>
<line x1="468.80" y1="559.90" x2="471.50" y2="559.90" stroke="#555" stroke-width="0.8"/>
<text x="463.40" y="563.30" font-size="9.9" text-anchor="end" textLength="65.60" lengthAdjust="spacingAndGlyphs">4HG0349450</text>
<line x1="468.80" y1="568.80" x2="471.50" y2="568.80" stroke="#555" stroke-width="0.8"/>
<text x="463.40" y="572.20" font-size="9.9" text-anchor="end" textLength="65.60" lengthAdjust="spacingAndGlyphs">3HG0290580</text>
<line x1="468.80" y1="577.70" x2="471.50" y2="577.70" stroke="#555" stroke-width="0.8"/>
<text x="463.40" y="581.10" font-size="9.9" text-anchor="end" textLength="65.60" lengthAdjust="spacingAndGlyphs">5HG0463930</text>
<line x1="468.80" y1="586.60" x2="471.50" y2="586.60" stroke="#555" stroke-width="0.8"/>
<text x="463.40" y="590.00" font-size="9.9" text-anchor="end" textLength="65.60" lengthAdjust="spacingAndGlyphs">7HG0733220</text>
<line x1="468.80" y1="595.50" x2="471.50" y2="595.50" stroke="#555" stroke-width="0.8"/>
<text x="463.40" y="598.90" font-size="9.9" text-anchor="end" textLength="65.60" lengthAdjust="spacingAndGlyphs">2HG0131550</text>
<line x1="468.80" y1="604.40" x2="471.50" y2="604.40" stroke="#555" stroke-width="0.8"/>
<text x="463.40" y="607.80" font-size="9.9" text-anchor="end" textLength="65.60" lengthAdjust="spacingAndGlyphs">2HG0153410</text>
<line x1="468.80" y1="613.30" x2="471.50" y2="613.30" stroke="#555" stroke-width="0.8"/>
<text x="463.40" y="616.70" font-size="9.9" text-anchor="end" textLength="65.60" lengthAdjust="spacingAndGlyphs">7HG0677390</text>
<line x1="468.80" y1="622.20" x2="471.50" y2="622.20" stroke="#555" stroke-width="0.8"/>
<text x="463.40" y="625.60" font-size="9.9" text-anchor="end" textLength="65.60" lengthAdjust="spacingAndGlyphs">5HG0470990</text>
<line x1="468.80" y1="631.10" x2="471.50" y2="631.10" stroke="#555" stroke-width="0.8"/>
<text x="463.40" y="634.50" font-size="9.9" text-anchor="end" textLength="65.60" lengthAdjust="spacingAndGlyphs">3HG0298210</text>
<line x1="468.80" y1="640.00" x2="471.50" y2="640.00" stroke="#555" stroke-width="0.8"/>
<text x="463.40" y="643.40" font-size="9.9" text-anchor="end" textLength="65.60" lengthAdjust="spacingAndGlyphs">5HG0508470</text>
<line x1="468.80" y1="648.90" x2="471.50" y2="648.90" stroke="#555" stroke-width="0.8"/>
<text x="463.40" y="652.30" font-size="9.9" text-anchor="end" textLength="65.60" lengthAdjust="spacingAndGlyphs">7HG0747330</text>
<line x1="468.80" y1="657.80" x2="471.50" y2="657.80" stroke="#555" stroke-width="0.8"/>
<text x="463.40" y="661.20" font-size="9.9" text-anchor="end" textLength="65.60" lengthAdjust="spacingAndGlyphs">2HG0134720</text>
<line x1="468.80" y1="666.70" x2="471.50" y2="666.70" stroke="#555" stroke-width="0.8"/>
<text x="463.40" y="670.10" font-size="9.9" text-anchor="end" textLength="65.60" lengthAdjust="spacingAndGlyphs">2HG0183890</text>
<line x1="468.80" y1="675.60" x2="471.50" y2="675.60" stroke="#555" stroke-width="0.8"/>
<text x="463.40" y="679.00" font-size="9.9" text-anchor="end" textLength="65.60" lengthAdjust="spacingAndGlyphs">5HG0474980</text>
<line x1="468.80" y1="684.50" x2="471.50" y2="684.50" stroke="#555" stroke-width="0.8"/>
<text x="463.40" y="687.90" font-size="9.9" text-anchor="end" textLength="65.60" lengthAdjust="spacingAndGlyphs">3HG0296370</text>
<line x1="468.80" y1="693.40" x2="471.50" y2="693.40" stroke="#555" stroke-width="0.8"/>
<text x="463.40" y="696.80" font-size="9.9" text-anchor="end" textLength="65.60" lengthAdjust="spacingAndGlyphs">1HG0016790</text>
<line x1="468.80" y1="702.30" x2="471.50" y2="702.30" stroke="#555" stroke-width="0.8"/>
<text x="463.40" y="705.70" font-size="9.9" text-anchor="end" textLength="65.60" lengthAdjust="spacingAndGlyphs">7HG0721170</text>
<line x1="468.80" y1="711.20" x2="471.50" y2="711.20" stroke="#555" stroke-width="0.8"/>
<text x="463.40" y="714.60" font-size="9.9" text-anchor="end" textLength="65.60" lengthAdjust="spacingAndGlyphs">6HG0616500</text>
<line x1="468.80" y1="720.10" x2="471.50" y2="720.10" stroke="#555" stroke-width="0.8"/>
<text x="463.40" y="723.50" font-size="9.9" text-anchor="end" textLength="65.60" lengthAdjust="spacingAndGlyphs">6HG0599190</text>
<line x1="468.80" y1="729.00" x2="471.50" y2="729.00" stroke="#555" stroke-width="0.8"/>
<text x="463.40" y="732.40" font-size="9.9" text-anchor="end" textLength="65.60" lengthAdjust="spacingAndGlyphs">5HG0457160</text>
<line x1="468.80" y1="737.90" x2="471.50" y2="737.90" stroke="#555" stroke-width="0.8"/>
<text x="463.40" y="741.30" font-size="9.9" text-anchor="end" textLength="65.60" lengthAdjust="spacingAndGlyphs">5HG0501270</text>
<line x1="468.80" y1="746.80" x2="471.50" y2="746.80" stroke="#555" stroke-width="0.8"/>
<text x="463.40" y="750.20" font-size="9.9" text-anchor="end" textLength="65.60" lengthAdjust="spacingAndGlyphs">5HG0421570</text>
<line x1="468.80" y1="755.70" x2="471.50" y2="755.70" stroke="#555" stroke-width="0.8"/>
<text x="463.40" y="759.10" font-size="9.9" text-anchor="end" textLength="65.60" lengthAdjust="spacingAndGlyphs">2HG0167570</text>
<line x1="468.80" y1="764.60" x2="471.50" y2="764.60" stroke="#555" stroke-width="0.8"/>
<text x="463.40" y="768.00" font-size="9.9" text-anchor="end" textLength="65.60" lengthAdjust="spacingAndGlyphs">2HG0182800</text>
<line x1="468.80" y1="773.50" x2="471.50" y2="773.50" stroke="#555" stroke-width="0.8"/>
<text x="463.40" y="776.90" font-size="9.9" text-anchor="end" textLength="65.60" lengthAdjust="spacingAndGlyphs">1HG0073320</text>
<line x1="468.80" y1="782.40" x2="471.50" y2="782.40" stroke="#555" stroke-width="0.8"/>
<text x="463.40" y="785.80" font-size="9.9" text-anchor="end" textLength="65.60" lengthAdjust="spacingAndGlyphs">6HG0558870</text>
<line x1="468.80" y1="791.30" x2="471.50" y2="791.30" stroke="#555" stroke-width="0.8"/>
<text x="463.40" y="794.70" font-size="9.9" text-anchor="end" textLength="65.60" lengthAdjust="spacingAndGlyphs">5HG0522380</text>
<line x1="468.80" y1="800.20" x2="471.50" y2="800.20" stroke="#555" stroke-width="0.8"/>
<text x="463.40" y="803.60" font-size="9.9" text-anchor="end" textLength="65.60" lengthAdjust="spacingAndGlyphs">1HG0091770</text>
<line x1="468.80" y1="809.10" x2="471.50" y2="809.10" stroke="#555" stroke-width="0.8"/>
<text x="463.40" y="812.50" font-size="9.9" text-anchor="end" textLength="65.60" lengthAdjust="spacingAndGlyphs">1HG0047290</text>
<line x1="468.80" y1="818.00" x2="471.50" y2="818.00" stroke="#555" stroke-width="0.8"/>
<text x="463.40" y="821.40" font-size="9.9" text-anchor="end" textLength="65.60" lengthAdjust="spacingAndGlyphs">6HG0573950</text>
<line x1="468.80" y1="826.90" x2="471.50" y2="826.90" stroke="#555" stroke-width="0.8"/>
<text x="463.40" y="830.30" font-size="9.9" text-anchor="end" textLength="65.60" lengthAdjust="spacingAndGlyphs">5HG0491790</text>
<line x1="468.80" y1="835.80" x2="471.50" y2="835.80" stroke="#555" stroke-width="0.8"/>
<text x="463.40" y="839.20" font-size="9.9" text-anchor="end" textLength="65.60" lengthAdjust="spacingAndGlyphs">2HG0140950</text>
<line x1="468.80" y1="844.70" x2="471.50" y2="844.70" stroke="#555" stroke-width="0.8"/>
<text x="463.40" y="848.10" font-size="9.9" text-anchor="end" textLength="65.60" lengthAdjust="spacingAndGlyphs">7HG0736150</text>
<line x1="468.80" y1="853.60" x2="471.50" y2="853.60" stroke="#555" stroke-width="0.8"/>
<text x="463.40" y="857.00" font-size="9.9" text-anchor="end" textLength="65.60" lengthAdjust="spacingAndGlyphs">6HG0612790</text>
<line x1="468.80" y1="862.50" x2="471.50" y2="862.50" stroke="#555" stroke-width="0.8"/>
<text x="463.40" y="865.90" font-size="9.9" text-anchor="end" textLength="65.60" lengthAdjust="spacingAndGlyphs">6HG0611880</text>
<line x1="468.80" y1="871.40" x2="471.50" y2="871.40" stroke="#555" stroke-width="0.8"/>
<text x="463.40" y="874.80" font-size="9.9" text-anchor="end" textLength="65.60" lengthAdjust="spacingAndGlyphs">2HG0196520</text>
<line x1="468.80" y1="880.30" x2="471.50" y2="880.30" stroke="#555" stroke-width="0.8"/>
<text x="463.40" y="883.70" font-size="9.9" text-anchor="end" textLength="65.60" lengthAdjust="spacingAndGlyphs">4HG0417410</text>
<line x1="468.80" y1="889.20" x2="471.50" y2="889.20" stroke="#555" stroke-width="0.8"/>
<text x="463.40" y="892.60" font-size="9.9" text-anchor="end" textLength="65.60" lengthAdjust="spacingAndGlyphs">2HG0205980</text>
<line x1="468.80" y1="898.10" x2="471.50" y2="898.10" stroke="#555" stroke-width="0.8"/>
<text x="463.40" y="901.50" font-size="9.9" text-anchor="end" textLength="65.60" lengthAdjust="spacingAndGlyphs">1HG0067760</text>
<line x1="468.80" y1="907.00" x2="471.50" y2="907.00" stroke="#555" stroke-width="0.8"/>
<text x="463.40" y="910.40" font-size="9.9" text-anchor="end" textLength="65.60" lengthAdjust="spacingAndGlyphs">4HG0339120</text>
<line x1="468.80" y1="915.90" x2="471.50" y2="915.90" stroke="#555" stroke-width="0.8"/>
<text x="463.40" y="919.30" font-size="9.9" text-anchor="end" textLength="65.60" lengthAdjust="spacingAndGlyphs">5HG0444960</text>
<line x1="468.80" y1="924.80" x2="471.50" y2="924.80" stroke="#555" stroke-width="0.8"/>
<text x="463.40" y="928.20" font-size="9.9" text-anchor="end" textLength="65.60" lengthAdjust="spacingAndGlyphs">4HG0338620</text>
<line x1="468.80" y1="933.70" x2="471.50" y2="933.70" stroke="#555" stroke-width="0.8"/>
<text x="463.40" y="937.10" font-size="9.9" text-anchor="end" textLength="65.60" lengthAdjust="spacingAndGlyphs">3HG0250540</text>
<line x1="468.80" y1="942.60" x2="471.50" y2="942.60" stroke="#555" stroke-width="0.8"/>
<text x="463.40" y="946.00" font-size="9.9" text-anchor="end" textLength="65.60" lengthAdjust="spacingAndGlyphs">2HG0193990</text>
<g><circle cx="475.8" cy="559.9" r="3.2" fill="#2b3990"/><circle cx="483.6" cy="559.9" r="2.65" fill="#9ea1cd"/><circle cx="491.3" cy="559.9" r="2.65" fill="#9ea1cd"/><circle cx="499.1" cy="559.9" r="0.95" fill="#e3e3ec"/><circle cx="506.9" cy="559.9" r="2.15" fill="#b4b6d8"/><circle cx="514.6" cy="559.9" r="0.6" fill="#e4e4ec"/><circle cx="522.4" cy="559.9" r="0.6" fill="#e4e4ec"/><circle cx="530.2" cy="559.9" r="1.55" fill="#e3e3ec"/><circle cx="538.0" cy="559.9" r="1.55" fill="#e3e3ec"/><circle cx="545.7" cy="559.9" r="0.75" fill="#e4e4ec"/><circle cx="553.5" cy="559.9" r="0.9" fill="#e4e4ec"/><circle cx="561.3" cy="559.9" r="2.15" fill="#e3e3ec"/><circle cx="569.0" cy="559.9" r="0.6" fill="#e4e4ec"/><circle cx="576.8" cy="559.9" r="1.55" fill="#e3e3ec"/><circle cx="584.6" cy="559.9" r="0.6" fill="#e4e4ec"/><circle cx="592.4" cy="559.9" r="0.9" fill="#e4e4ec"/><circle cx="600.1" cy="559.9" r="0.75" fill="#e4e4ec"/><circle cx="607.9" cy="559.9" r="1.55" fill="#e3e3ec"/><circle cx="615.7" cy="559.9" r="0.6" fill="#e4e4ec"/><circle cx="623.4" cy="559.9" r="0.6" fill="#e4e4ec"/><circle cx="631.2" cy="559.9" r="0.9" fill="#e4e4ec"/><circle cx="639.0" cy="559.9" r="1.55" fill="#9ea1cd"/><circle cx="646.7" cy="559.9" r="1.55" fill="#e3e3ec"/><circle cx="654.5" cy="559.9" r="0.9" fill="#e4e4ec"/><circle cx="662.3" cy="559.9" r="0.9" fill="#e4e4ec"/><circle cx="670.0" cy="559.9" r="0.6" fill="#e4e4ec"/><circle cx="677.8" cy="559.9" r="1.55" fill="#e3e3ec"/><circle cx="475.8" cy="568.8" r="2.65" fill="#2b3990"/><circle cx="483.6" cy="568.8" r="2.15" fill="#c6c8e1"/><circle cx="491.3" cy="568.8" r="0.6" fill="#e4e4ec"/><circle cx="499.1" cy="568.8" r="0.6" fill="#e4e4ec"/><circle cx="506.9" cy="568.8" r="1.55" fill="#e3e3ec"/><circle cx="514.6" cy="568.8" r="1.55" fill="#c6c8e1"/><circle cx="522.4" cy="568.8" r="2.15" fill="#6268af"/><circle cx="530.2" cy="568.8" r="1.55" fill="#c6c8e1"/><circle cx="538.0" cy="568.8" r="1.55" fill="#e3e3ec"/><circle cx="545.7" cy="568.8" r="0.95" fill="#c6c8e1"/><circle cx="553.5" cy="568.8" r="0.9" fill="#e4e4ec"/><circle cx="561.3" cy="568.8" r="1.55" fill="#e3e3ec"/><circle cx="569.0" cy="568.8" r="0.6" fill="#e4e4ec"/><circle cx="576.8" cy="568.8" r="1.55" fill="#e3e3ec"/><circle cx="584.6" cy="568.8" r="0.6" fill="#e4e4ec"/><circle cx="592.4" cy="568.8" r="1.55" fill="#e3e3ec"/><circle cx="600.1" cy="568.8" r="0.6" fill="#e4e4ec"/><circle cx="607.9" cy="568.8" r="0.6" fill="#e4e4ec"/><circle cx="615.7" cy="568.8" r="1.55" fill="#e3e3ec"/><circle cx="623.4" cy="568.8" r="0.75" fill="#e4e4ec"/><circle cx="631.2" cy="568.8" r="1.55" fill="#9ea1cd"/><circle cx="639.0" cy="568.8" r="1.55" fill="#c6c8e1"/><circle cx="646.7" cy="568.8" r="1.55" fill="#2b3990"/><circle cx="654.5" cy="568.8" r="0.6" fill="#e4e4ec"/><circle cx="662.3" cy="568.8" r="0.75" fill="#e4e4ec"/><circle cx="670.0" cy="568.8" r="0.9" fill="#e4e4ec"/><circle cx="677.8" cy="568.8" r="0.9" fill="#e4e4ec"/><circle cx="475.8" cy="577.7" r="2.15" fill="#c6c8e1"/><circle cx="483.6" cy="577.7" r="3.2" fill="#2b3990"/><circle cx="491.3" cy="577.7" r="0.9" fill="#e4e4ec"/><circle cx="499.1" cy="577.7" r="1.55" fill="#e3e3ec"/><circle cx="506.9" cy="577.7" r="0.9" fill="#e4e4ec"/><circle cx="514.6" cy="577.7" r="0.9" fill="#e4e4ec"/><circle cx="522.4" cy="577.7" r="0.6" fill="#e4e4ec"/><circle cx="530.2" cy="577.7" r="0.75" fill="#e4e4ec"/><circle cx="538.0" cy="577.7" r="0.6" fill="#e4e4ec"/><circle cx="545.7" cy="577.7" r="0.6" fill="#e4e4ec"/><circle cx="553.5" cy="577.7" r="0.6" fill="#e4e4ec"/><circle cx="561.3" cy="577.7" r="1.55" fill="#e3e3ec"/><circle cx="569.0" cy="577.7" r="0.9" fill="#e4e4ec"/><circle cx="576.8" cy="577.7" r="0.6" fill="#e4e4ec"/><circle cx="584.6" cy="577.7" r="0.75" fill="#e4e4ec"/><circle cx="592.4" cy="577.7" r="0.9" fill="#e4e4ec"/><circle cx="600.1" cy="577.7" r="2.65" fill="#9ea1cd"/><circle cx="607.9" cy="577.7" r="2.15" fill="#c6c8e1"/><circle cx="615.7" cy="577.7" r="2.65" fill="#9ea1cd"/><circle cx="623.4" cy="577.7" r="2.15" fill="#c6c8e1"/><circle cx="631.2" cy="577.7" r="0.75" fill="#e4e4ec"/><circle cx="639.0" cy="577.7" r="1.55" fill="#e3e3ec"/><circle cx="646.7" cy="577.7" r="0.9" fill="#e4e4ec"/><circle cx="654.5" cy="577.7" r="1.55" fill="#e3e3ec"/><circle cx="662.3" cy="577.7" r="0.9" fill="#e4e4ec"/><circle cx="670.0" cy="577.7" r="0.75" fill="#e4e4ec"/><circle cx="677.8" cy="577.7" r="0.9" fill="#e4e4ec"/><circle cx="475.8" cy="586.6" r="2.15" fill="#c6c8e1"/><circle cx="483.6" cy="586.6" r="3.2" fill="#2b3990"/><circle cx="491.3" cy="586.6" r="1.55" fill="#6268af"/><circle cx="499.1" cy="586.6" r="2.15" fill="#c6c8e1"/><circle cx="506.9" cy="586.6" r="0.6" fill="#e4e4ec"/><circle cx="514.6" cy="586.6" r="0.75" fill="#e4e4ec"/><circle cx="522.4" cy="586.6" r="0.6" fill="#e4e4ec"/><circle cx="530.2" cy="586.6" r="0.75" fill="#e4e4ec"/><circle cx="538.0" cy="586.6" r="1.55" fill="#e3e3ec"/><circle cx="545.7" cy="586.6" r="0.6" fill="#e4e4ec"/><circle cx="553.5" cy="586.6" r="0.75" fill="#e4e4ec"/><circle cx="561.3" cy="586.6" r="0.6" fill="#e4e4ec"/><circle cx="569.0" cy="586.6" r="0.6" fill="#e4e4ec"/><circle cx="576.8" cy="586.6" r="1.55" fill="#e3e3ec"/><circle cx="584.6" cy="586.6" r="0.75" fill="#e4e4ec"/><circle cx="592.4" cy="586.6" r="1.55" fill="#e3e3ec"/><circle cx="600.1" cy="586.6" r="0.75" fill="#e4e4ec"/><circle cx="607.9" cy="586.6" r="1.55" fill="#e3e3ec"/><circle cx="615.7" cy="586.6" r="0.6" fill="#e4e4ec"/><circle cx="623.4" cy="586.6" r="0.6" fill="#e4e4ec"/><circle cx="631.2" cy="586.6" r="0.9" fill="#e4e4ec"/><circle cx="639.0" cy="586.6" r="0.9" fill="#e4e4ec"/><circle cx="646.7" cy="586.6" r="0.6" fill="#e4e4ec"/><circle cx="654.5" cy="586.6" r="1.55" fill="#9ea1cd"/><circle cx="662.3" cy="586.6" r="0.75" fill="#e4e4ec"/><circle cx="670.0" cy="586.6" r="0.6" fill="#e4e4ec"/><circle cx="677.8" cy="586.6" r="2.15" fill="#e3e3ec"/><circle cx="475.8" cy="595.5" r="0.9" fill="#e4e4ec"/><circle cx="483.6" cy="595.5" r="1.55" fill="#c6c8e1"/><circle cx="491.3" cy="595.5" r="2.65" fill="#2b3990"/><circle cx="499.1" cy="595.5" r="0.6" fill="#e4e4ec"/><circle cx="506.9" cy="595.5" r="0.6" fill="#e4e4ec"/><circle cx="514.6" cy="595.5" r="0.75" fill="#e4e4ec"/><circle cx="522.4" cy="595.5" r="0.9" fill="#e4e4ec"/><circle cx="530.2" cy="595.5" r="0.9" fill="#e4e4ec"/><circle cx="538.0" cy="595.5" r="0.6" fill="#e4e4ec"/><circle cx="545.7" cy="595.5" r="0.6" fill="#e4e4ec"/><circle cx="553.5" cy="595.5" r="0.6" fill="#e4e4ec"/><circle cx="561.3" cy="595.5" r="0.9" fill="#e4e4ec"/><circle cx="569.0" cy="595.5" r="0.75" fill="#e4e4ec"/><circle cx="576.8" cy="595.5" r="0.75" fill="#e4e4ec"/><circle cx="584.6" cy="595.5" r="0.6" fill="#e4e4ec"/><circle cx="592.4" cy="595.5" r="0.6" fill="#e4e4ec"/><circle cx="600.1" cy="595.5" r="0.75" fill="#e4e4ec"/><circle cx="607.9" cy="595.5" r="0.6" fill="#e4e4ec"/><circle cx="615.7" cy="595.5" r="0.6" fill="#e4e4ec"/><circle cx="623.4" cy="595.5" r="0.6" fill="#e4e4ec"/><circle cx="631.2" cy="595.5" r="0.6" fill="#e4e4ec"/><circle cx="639.0" cy="595.5" r="0.6" fill="#e4e4ec"/><circle cx="646.7" cy="595.5" r="0.9" fill="#e4e4ec"/><circle cx="654.5" cy="595.5" r="0.95" fill="#c6c8e1"/><circle cx="662.3" cy="595.5" r="0.75" fill="#e4e4ec"/><circle cx="670.0" cy="595.5" r="0.75" fill="#e4e4ec"/><circle cx="677.8" cy="595.5" r="0.6" fill="#e4e4ec"/><circle cx="475.8" cy="604.4" r="0.6" fill="#e4e4ec"/><circle cx="483.6" cy="604.4" r="0.95" fill="#e3e3ec"/><circle cx="491.3" cy="604.4" r="2.65" fill="#2b3990"/><circle cx="499.1" cy="604.4" r="0.75" fill="#e4e4ec"/><circle cx="506.9" cy="604.4" r="0.75" fill="#e4e4ec"/><circle cx="514.6" cy="604.4" r="0.75" fill="#e4e4ec"/><circle cx="522.4" cy="604.4" r="0.6" fill="#e4e4ec"/><circle cx="530.2" cy="604.4" r="0.9" fill="#e4e4ec"/><circle cx="538.0" cy="604.4" r="0.9" fill="#e4e4ec"/><circle cx="545.7" cy="604.4" r="0.9" fill="#e4e4ec"/><circle cx="553.5" cy="604.4" r="0.95" fill="#c6c8e1"/><circle cx="561.3" cy="604.4" r="1.55" fill="#c6c8e1"/><circle cx="569.0" cy="604.4" r="0.9" fill="#e4e4ec"/><circle cx="576.8" cy="604.4" r="0.6" fill="#e4e4ec"/><circle cx="584.6" cy="604.4" r="0.75" fill="#e4e4ec"/><circle cx="592.4" cy="604.4" r="0.9" fill="#e4e4ec"/><circle cx="600.1" cy="604.4" r="0.6" fill="#e4e4ec"/><circle cx="607.9" cy="604.4" r="0.75" fill="#e4e4ec"/><circle cx="615.7" cy="604.4" r="0.9" fill="#e4e4ec"/><circle cx="623.4" cy="604.4" r="0.75" fill="#e4e4ec"/><circle cx="631.2" cy="604.4" r="0.75" fill="#e4e4ec"/><circle cx="639.0" cy="604.4" r="0.75" fill="#e4e4ec"/><circle cx="646.7" cy="604.4" r="0.6" fill="#e4e4ec"/><circle cx="654.5" cy="604.4" r="0.9" fill="#e4e4ec"/><circle cx="662.3" cy="604.4" r="1.55" fill="#9ea1cd"/><circle cx="670.0" cy="604.4" r="0.75" fill="#e4e4ec"/><circle cx="677.8" cy="604.4" r="0.6" fill="#e4e4ec"/><circle cx="475.8" cy="613.3" r="0.9" fill="#e4e4ec"/><circle cx="483.6" cy="613.3" r="0.6" fill="#e4e4ec"/><circle cx="491.3" cy="613.3" r="0.6" fill="#e4e4ec"/><circle cx="499.1" cy="613.3" r="2.65" fill="#2b3990"/><circle cx="506.9" cy="613.3" r="0.75" fill="#e4e4ec"/><circle cx="514.6" cy="613.3" r="1.55" fill="#6268af"/><circle cx="522.4" cy="613.3" r="0.95" fill="#c6c8e1"/><circle cx="530.2" cy="613.3" r="1.55" fill="#c6c8e1"/><circle cx="538.0" cy="613.3" r="2.15" fill="#9ea1cd"/><circle cx="545.7" cy="613.3" r="0.9" fill="#e4e4ec"/><circle cx="553.5" cy="613.3" r="0.75" fill="#e4e4ec"/><circle cx="561.3" cy="613.3" r="0.75" fill="#e4e4ec"/><circle cx="569.0" cy="613.3" r="0.75" fill="#e4e4ec"/><circle cx="576.8" cy="613.3" r="0.9" fill="#e4e4ec"/><circle cx="584.6" cy="613.3" r="0.6" fill="#e4e4ec"/><circle cx="592.4" cy="613.3" r="1.55" fill="#e3e3ec"/><circle cx="600.1" cy="613.3" r="0.6" fill="#e4e4ec"/><circle cx="607.9" cy="613.3" r="0.6" fill="#e4e4ec"/><circle cx="615.7" cy="613.3" r="0.75" fill="#e4e4ec"/><circle cx="623.4" cy="613.3" r="0.75" fill="#e4e4ec"/><circle cx="631.2" cy="613.3" r="0.9" fill="#e4e4ec"/><circle cx="639.0" cy="613.3" r="1.55" fill="#6268af"/><circle cx="646.7" cy="613.3" r="0.75" fill="#e4e4ec"/><circle cx="654.5" cy="613.3" r="2.15" fill="#2b3990"/><circle cx="662.3" cy="613.3" r="0.95" fill="#c6c8e1"/><circle cx="670.0" cy="613.3" r="1.55" fill="#c6c8e1"/><circle cx="677.8" cy="613.3" r="2.15" fill="#e3e3ec"/><circle cx="475.8" cy="622.2" r="0.95" fill="#c6c8e1"/><circle cx="483.6" cy="622.2" r="1.55" fill="#c6c8e1"/><circle cx="491.3" cy="622.2" r="0.75" fill="#e4e4ec"/><circle cx="499.1" cy="622.2" r="2.15" fill="#2b3990"/><circle cx="506.9" cy="622.2" r="1.55" fill="#e3e3ec"/><circle cx="514.6" cy="622.2" r="1.55" fill="#6268af"/><circle cx="522.4" cy="622.2" r="0.95" fill="#9ea1cd"/><circle cx="530.2" cy="622.2" r="0.6" fill="#e4e4ec"/><circle cx="538.0" cy="622.2" r="0.75" fill="#e4e4ec"/><circle cx="545.7" cy="622.2" r="0.6" fill="#e4e4ec"/><circle cx="553.5" cy="622.2" r="0.75" fill="#e4e4ec"/><circle cx="561.3" cy="622.2" r="0.75" fill="#e4e4ec"/><circle cx="569.0" cy="622.2" r="0.75" fill="#e4e4ec"/><circle cx="576.8" cy="622.2" r="1.55" fill="#e3e3ec"/><circle cx="584.6" cy="622.2" r="0.75" fill="#e4e4ec"/><circle cx="592.4" cy="622.2" r="0.9" fill="#e4e4ec"/><circle cx="600.1" cy="622.2" r="0.6" fill="#e4e4ec"/><circle cx="607.9" cy="622.2" r="0.6" fill="#e4e4ec"/><circle cx="615.7" cy="622.2" r="0.6" fill="#e4e4ec"/><circle cx="623.4" cy="622.2" r="0.75" fill="#e4e4ec"/><circle cx="631.2" cy="622.2" r="1.55" fill="#6268af"/><circle cx="639.0" cy="622.2" r="1.55" fill="#6268af"/><circle cx="646.7" cy="622.2" r="0.95" fill="#9ea1cd"/><circle cx="654.5" cy="622.2" r="2.15" fill="#2b3990"/><circle cx="662.3" cy="622.2" r="1.55" fill="#9ea1cd"/><circle cx="670.0" cy="622.2" r="1.55" fill="#e3e3ec"/><circle cx="677.8" cy="622.2" r="1.55" fill="#e3e3ec"/><circle cx="475.8" cy="631.1" r="0.6" fill="#e4e4ec"/><circle cx="483.6" cy="631.1" r="0.75" fill="#e4e4ec"/><circle cx="491.3" cy="631.1" r="0.6" fill="#e4e4ec"/><circle cx="499.1" cy="631.1" r="0.75" fill="#e4e4ec"/><circle cx="506.9" cy="631.1" r="3.2" fill="#2b3990"/><circle cx="514.6" cy="631.1" r="0.6" fill="#e4e4ec"/><circle cx="522.4" cy="631.1" r="0.9" fill="#e4e4ec"/><circle cx="530.2" cy="631.1" r="0.6" fill="#e4e4ec"/><circle cx="538.0" cy="631.1" r="0.6" fill="#e4e4ec"/><circle cx="545.7" cy="631.1" r="0.75" fill="#e4e4ec"/><circle cx="553.5" cy="631.1" r="0.75" fill="#e4e4ec"/><circle cx="561.3" cy="631.1" r="0.6" fill="#e4e4ec"/><circle cx="569.0" cy="631.1" r="0.9" fill="#e4e4ec"/><circle cx="576.8" cy="631.1" r="2.15" fill="#9ea1cd"/><circle cx="584.6" cy="631.1" r="0.6" fill="#e4e4ec"/><circle cx="592.4" cy="631.1" r="0.6" fill="#e4e4ec"/><circle cx="600.1" cy="631.1" r="0.75" fill="#e4e4ec"/><circle cx="607.9" cy="631.1" r="0.6" fill="#e4e4ec"/><circle cx="615.7" cy="631.1" r="0.9" fill="#e4e4ec"/><circle cx="623.4" cy="631.1" r="0.75" fill="#e4e4ec"/><circle cx="631.2" cy="631.1" r="0.6" fill="#e4e4ec"/><circle cx="639.0" cy="631.1" r="0.6" fill="#e4e4ec"/><circle cx="646.7" cy="631.1" r="0.6" fill="#e4e4ec"/><circle cx="654.5" cy="631.1" r="1.55" fill="#c6c8e1"/><circle cx="662.3" cy="631.1" r="0.6" fill="#e4e4ec"/><circle cx="670.0" cy="631.1" r="1.55" fill="#c6c8e1"/><circle cx="677.8" cy="631.1" r="0.75" fill="#e4e4ec"/><circle cx="475.8" cy="640.0" r="0.6" fill="#e4e4ec"/><circle cx="483.6" cy="640.0" r="1.55" fill="#e3e3ec"/><circle cx="491.3" cy="640.0" r="0.75" fill="#e4e4ec"/><circle cx="499.1" cy="640.0" r="0.75" fill="#e4e4ec"/><circle cx="506.9" cy="640.0" r="2.65" fill="#2b3990"/><circle cx="514.6" cy="640.0" r="0.6" fill="#e4e4ec"/><circle cx="522.4" cy="640.0" r="0.75" fill="#e4e4ec"/><circle cx="530.2" cy="640.0" r="0.6" fill="#e4e4ec"/><circle cx="538.0" cy="640.0" r="0.95" fill="#c6c8e1"/><circle cx="545.7" cy="640.0" r="0.9" fill="#e4e4ec"/><circle cx="553.5" cy="640.0" r="0.75" fill="#e4e4ec"/><circle cx="561.3" cy="640.0" r="0.75" fill="#e4e4ec"/><circle cx="569.0" cy="640.0" r="0.9" fill="#e4e4ec"/><circle cx="576.8" cy="640.0" r="1.55" fill="#c6c8e1"/><circle cx="584.6" cy="640.0" r="0.75" fill="#e4e4ec"/><circle cx="592.4" cy="640.0" r="0.9" fill="#e4e4ec"/><circle cx="600.1" cy="640.0" r="0.75" fill="#e4e4ec"/><circle cx="607.9" cy="640.0" r="0.9" fill="#e4e4ec"/><circle cx="615.7" cy="640.0" r="0.9" fill="#e4e4ec"/><circle cx="623.4" cy="640.0" r="0.6" fill="#e4e4ec"/><circle cx="631.2" cy="640.0" r="0.9" fill="#e4e4ec"/><circle cx="639.0" cy="640.0" r="0.6" fill="#e4e4ec"/><circle cx="646.7" cy="640.0" r="0.6" fill="#e4e4ec"/><circle cx="654.5" cy="640.0" r="0.95" fill="#c6c8e1"/><circle cx="662.3" cy="640.0" r="0.6" fill="#e4e4ec"/><circle cx="670.0" cy="640.0" r="0.9" fill="#e4e4ec"/><circle cx="677.8" cy="640.0" r="0.9" fill="#e4e4ec"/><circle cx="475.8" cy="648.9" r="1.55" fill="#2b3990"/><circle cx="483.6" cy="648.9" r="0.6" fill="#e4e4ec"/><circle cx="491.3" cy="648.9" r="0.6" fill="#e4e4ec"/><circle cx="499.1" cy="648.9" r="0.9" fill="#e4e4ec"/><circle cx="506.9" cy="648.9" r="0.75" fill="#e4e4ec"/><circle cx="514.6" cy="648.9" r="2.65" fill="#2b3990"/><circle cx="522.4" cy="648.9" r="2.65" fill="#6268af"/><circle cx="530.2" cy="648.9" r="2.65" fill="#9ea1cd"/><circle cx="538.0" cy="648.9" r="2.15" fill="#c6c8e1"/><circle cx="545.7" cy="648.9" r="0.75" fill="#e4e4ec"/><circle cx="553.5" cy="648.9" r="0.6" fill="#e4e4ec"/><circle cx="561.3" cy="648.9" r="1.55" fill="#e3e3ec"/><circle cx="569.0" cy="648.9" r="0.6" fill="#e4e4ec"/><circle cx="576.8" cy="648.9" r="0.75" fill="#e4e4ec"/><circle cx="584.6" cy="648.9" r="0.6" fill="#e4e4ec"/><circle cx="592.4" cy="648.9" r="2.15" fill="#e3e3ec"/><circle cx="600.1" cy="648.9" r="0.6" fill="#e4e4ec"/><circle cx="607.9" cy="648.9" r="0.6" fill="#e4e4ec"/><circle cx="615.7" cy="648.9" r="2.15" fill="#c6c8e1"/><circle cx="623.4" cy="648.9" r="0.6" fill="#e4e4ec"/><circle cx="631.2" cy="648.9" r="0.6" fill="#e4e4ec"/><circle cx="639.0" cy="648.9" r="0.9" fill="#e4e4ec"/><circle cx="646.7" cy="648.9" r="0.6" fill="#e4e4ec"/><circle cx="654.5" cy="648.9" r="0.6" fill="#e4e4ec"/><circle cx="662.3" cy="648.9" r="0.9" fill="#e4e4ec"/><circle cx="670.0" cy="648.9" r="0.6" fill="#e4e4ec"/><circle cx="677.8" cy="648.9" r="0.6" fill="#e4e4ec"/><circle cx="475.8" cy="657.8" r="1.25" fill="#2b3990"/><circle cx="483.6" cy="657.8" r="0.75" fill="#e4e4ec"/><circle cx="491.3" cy="657.8" r="0.6" fill="#e4e4ec"/><circle cx="499.1" cy="657.8" r="0.6" fill="#e4e4ec"/><circle cx="506.9" cy="657.8" r="0.9" fill="#e4e4ec"/><circle cx="514.6" cy="657.8" r="2.15" fill="#6268af"/><circle cx="522.4" cy="657.8" r="2.15" fill="#9ea1cd"/><circle cx="530.2" cy="657.8" r="2.65" fill="#3b4499"/><circle cx="538.0" cy="657.8" r="2.65" fill="#9ea1cd"/><circle cx="545.7" cy="657.8" r="0.6" fill="#e4e4ec"/><circle cx="553.5" cy="657.8" r="0.6" fill="#e4e4ec"/><circle cx="561.3" cy="657.8" r="2.15" fill="#e3e3ec"/><circle cx="569.0" cy="657.8" r="0.75" fill="#e4e4ec"/><circle cx="576.8" cy="657.8" r="0.6" fill="#e4e4ec"/><circle cx="584.6" cy="657.8" r="0.75" fill="#e4e4ec"/><circle cx="592.4" cy="657.8" r="2.15" fill="#c6c8e1"/><circle cx="600.1" cy="657.8" r="0.9" fill="#e4e4ec"/><circle cx="607.9" cy="657.8" r="0.6" fill="#e4e4ec"/><circle cx="615.7" cy="657.8" r="2.15" fill="#9ea1cd"/><circle cx="623.4" cy="657.8" r="0.75" fill="#e4e4ec"/><circle cx="631.2" cy="657.8" r="0.6" fill="#e4e4ec"/><circle cx="639.0" cy="657.8" r="0.6" fill="#e4e4ec"/><circle cx="646.7" cy="657.8" r="0.6" fill="#e4e4ec"/><circle cx="654.5" cy="657.8" r="0.6" fill="#e4e4ec"/><circle cx="662.3" cy="657.8" r="0.6" fill="#e4e4ec"/><circle cx="670.0" cy="657.8" r="0.6" fill="#e4e4ec"/><circle cx="677.8" cy="657.8" r="0.75" fill="#e4e4ec"/><circle cx="475.8" cy="666.7" r="2.15" fill="#9ea1cd"/><circle cx="483.6" cy="666.7" r="2.15" fill="#9ea1cd"/><circle cx="491.3" cy="666.7" r="0.6" fill="#e4e4ec"/><circle cx="499.1" cy="666.7" r="2.15" fill="#c6c8e1"/><circle cx="506.9" cy="666.7" r="0.6" fill="#e4e4ec"/><circle cx="514.6" cy="666.7" r="1.55" fill="#c6c8e1"/><circle cx="522.4" cy="666.7" r="3.2" fill="#2b3990"/><circle cx="530.2" cy="666.7" r="0.9" fill="#e4e4ec"/><circle cx="538.0" cy="666.7" r="0.9" fill="#e4e4ec"/><circle cx="545.7" cy="666.7" r="0.6" fill="#e4e4ec"/><circle cx="553.5" cy="666.7" r="0.75" fill="#e4e4ec"/><circle cx="561.3" cy="666.7" r="0.6" fill="#e4e4ec"/><circle cx="569.0" cy="666.7" r="0.75" fill="#e4e4ec"/><circle cx="576.8" cy="666.7" r="0.9" fill="#e4e4ec"/><circle cx="584.6" cy="666.7" r="0.6" fill="#e4e4ec"/><circle cx="592.4" cy="666.7" r="0.9" fill="#e4e4ec"/><circle cx="600.1" cy="666.7" r="0.75" fill="#e4e4ec"/><circle cx="607.9" cy="666.7" r="0.6" fill="#e4e4ec"/><circle cx="615.7" cy="666.7" r="0.6" fill="#e4e4ec"/><circle cx="623.4" cy="666.7" r="0.6" fill="#e4e4ec"/><circle cx="631.2" cy="666.7" r="2.15" fill="#2b3990"/><circle cx="639.0" cy="666.7" r="1.55" fill="#c6c8e1"/><circle cx="646.7" cy="666.7" r="0.6" fill="#e4e4ec"/><circle cx="654.5" cy="666.7" r="0.6" fill="#e4e4ec"/><circle cx="662.3" cy="666.7" r="0.6" fill="#e4e4ec"/><circle cx="670.0" cy="666.7" r="0.6" fill="#e4e4ec"/><circle cx="677.8" cy="666.7" r="1.55" fill="#e3e3ec"/><circle cx="475.8" cy="675.6" r="0.9" fill="#e4e4ec"/><circle cx="483.6" cy="675.6" r="0.6" fill="#e4e4ec"/><circle cx="491.3" cy="675.6" r="0.6" fill="#e4e4ec"/><circle cx="499.1" cy="675.6" r="0.9" fill="#e4e4ec"/><circle cx="506.9" cy="675.6" r="0.75" fill="#e4e4ec"/><circle cx="514.6" cy="675.6" r="0.6" fill="#e4e4ec"/><circle cx="522.4" cy="675.6" r="3.2" fill="#2b3990"/><circle cx="530.2" cy="675.6" r="2.65" fill="#6268af"/><circle cx="538.0" cy="675.6" r="0.75" fill="#e4e4ec"/><circle cx="545.7" cy="675.6" r="3.2" fill="#2b3990"/><circle cx="553.5" cy="675.6" r="0.6" fill="#e4e4ec"/><circle cx="561.3" cy="675.6" r="1.55" fill="#e3e3ec"/><circle cx="569.0" cy="675.6" r="1.55" fill="#c6c8e1"/><circle cx="576.8" cy="675.6" r="0.75" fill="#e4e4ec"/><circle cx="584.6" cy="675.6" r="0.9" fill="#e4e4ec"/><circle cx="592.4" cy="675.6" r="1.55" fill="#e3e3ec"/><circle cx="600.1" cy="675.6" r="0.95" fill="#c6c8e1"/><circle cx="607.9" cy="675.6" r="0.9" fill="#e4e4ec"/><circle cx="615.7" cy="675.6" r="1.55" fill="#e3e3ec"/><circle cx="623.4" cy="675.6" r="0.75" fill="#e4e4ec"/><circle cx="631.2" cy="675.6" r="0.75" fill="#e4e4ec"/><circle cx="639.0" cy="675.6" r="0.75" fill="#e4e4ec"/><circle cx="646.7" cy="675.6" r="0.6" fill="#e4e4ec"/><circle cx="654.5" cy="675.6" r="0.75" fill="#e4e4ec"/><circle cx="662.3" cy="675.6" r="0.9" fill="#e4e4ec"/><circle cx="670.0" cy="675.6" r="0.6" fill="#e4e4ec"/><circle cx="677.8" cy="675.6" r="0.6" fill="#e4e4ec"/><circle cx="475.8" cy="684.5" r="0.6" fill="#e4e4ec"/><circle cx="483.6" cy="684.5" r="0.9" fill="#e4e4ec"/><circle cx="491.3" cy="684.5" r="0.6" fill="#e4e4ec"/><circle cx="499.1" cy="684.5" r="0.6" fill="#e4e4ec"/><circle cx="506.9" cy="684.5" r="0.6" fill="#e4e4ec"/><circle cx="514.6" cy="684.5" r="1.25" fill="#6268af"/><circle cx="522.4" cy="684.5" r="1.25" fill="#9ea1cd"/><circle cx="530.2" cy="684.5" r="2.15" fill="#2b3990"/><circle cx="538.0" cy="684.5" r="2.15" fill="#6268af"/><circle cx="545.7" cy="684.5" r="0.75" fill="#e4e4ec"/><circle cx="553.5" cy="684.5" r="0.9" fill="#e4e4ec"/><circle cx="561.3" cy="684.5" r="0.9" fill="#e4e4ec"/><circle cx="569.0" cy="684.5" r="0.6" fill="#e4e4ec"/><circle cx="576.8" cy="684.5" r="0.9" fill="#e4e4ec"/><circle cx="584.6" cy="684.5" r="0.6" fill="#e4e4ec"/><circle cx="592.4" cy="684.5" r="1.55" fill="#9ea1cd"/><circle cx="600.1" cy="684.5" r="0.75" fill="#e4e4ec"/><circle cx="607.9" cy="684.5" r="0.9" fill="#e4e4ec"/><circle cx="615.7" cy="684.5" r="1.55" fill="#9ea1cd"/><circle cx="623.4" cy="684.5" r="1.55" fill="#9ea1cd"/><circle cx="631.2" cy="684.5" r="0.75" fill="#e4e4ec"/><circle cx="639.0" cy="684.5" r="0.9" fill="#e4e4ec"/><circle cx="646.7" cy="684.5" r="0.9" fill="#e4e4ec"/><circle cx="654.5" cy="684.5" r="0.9" fill="#e4e4ec"/><circle cx="662.3" cy="684.5" r="0.6" fill="#e4e4ec"/><circle cx="670.0" cy="684.5" r="0.6" fill="#e4e4ec"/><circle cx="677.8" cy="684.5" r="0.6" fill="#e4e4ec"/><circle cx="475.8" cy="693.4" r="1.25" fill="#9ea1cd"/><circle cx="483.6" cy="693.4" r="0.75" fill="#e4e4ec"/><circle cx="491.3" cy="693.4" r="0.6" fill="#e4e4ec"/><circle cx="499.1" cy="693.4" r="0.9" fill="#e4e4ec"/><circle cx="506.9" cy="693.4" r="0.6" fill="#e4e4ec"/><circle cx="514.6" cy="693.4" r="0.9" fill="#e4e4ec"/><circle cx="522.4" cy="693.4" r="1.55" fill="#c6c8e1"/><circle cx="530.2" cy="693.4" r="2.15" fill="#2b3990"/><circle cx="538.0" cy="693.4" r="0.6" fill="#e4e4ec"/><circle cx="545.7" cy="693.4" r="2.15" fill="#2b3990"/><circle cx="553.5" cy="693.4" r="0.6" fill="#e4e4ec"/><circle cx="561.3" cy="693.4" r="1.55" fill="#9ea1cd"/><circle cx="569.0" cy="693.4" r="0.75" fill="#e4e4ec"/><circle cx="576.8" cy="693.4" r="0.75" fill="#e4e4ec"/><circle cx="584.6" cy="693.4" r="0.75" fill="#e4e4ec"/><circle cx="592.4" cy="693.4" r="0.6" fill="#e4e4ec"/><circle cx="600.1" cy="693.4" r="0.9" fill="#e4e4ec"/><circle cx="607.9" cy="693.4" r="0.6" fill="#e4e4ec"/><circle cx="615.7" cy="693.4" r="1.55" fill="#c6c8e1"/><circle cx="623.4" cy="693.4" r="0.9" fill="#e4e4ec"/><circle cx="631.2" cy="693.4" r="0.6" fill="#e4e4ec"/><circle cx="639.0" cy="693.4" r="0.75" fill="#e4e4ec"/><circle cx="646.7" cy="693.4" r="0.6" fill="#e4e4ec"/><circle cx="654.5" cy="693.4" r="0.6" fill="#e4e4ec"/><circle cx="662.3" cy="693.4" r="0.9" fill="#e4e4ec"/><circle cx="670.0" cy="693.4" r="0.6" fill="#e4e4ec"/><circle cx="677.8" cy="693.4" r="0.6" fill="#e4e4ec"/><circle cx="475.8" cy="702.3" r="0.9" fill="#e4e4ec"/><circle cx="483.6" cy="702.3" r="0.6" fill="#e4e4ec"/><circle cx="491.3" cy="702.3" r="0.6" fill="#e4e4ec"/><circle cx="499.1" cy="702.3" r="2.15" fill="#c6c8e1"/><circle cx="506.9" cy="702.3" r="0.6" fill="#e4e4ec"/><circle cx="514.6" cy="702.3" r="1.55" fill="#c6c8e1"/><circle cx="522.4" cy="702.3" r="0.9" fill="#e4e4ec"/><circle cx="530.2" cy="702.3" r="0.6" fill="#e4e4ec"/><circle cx="538.0" cy="702.3" r="3.2" fill="#2b3990"/><circle cx="545.7" cy="702.3" r="0.6" fill="#e4e4ec"/><circle cx="553.5" cy="702.3" r="0.75" fill="#e4e4ec"/><circle cx="561.3" cy="702.3" r="0.6" fill="#e4e4ec"/><circle cx="569.0" cy="702.3" r="0.6" fill="#e4e4ec"/><circle cx="576.8" cy="702.3" r="2.15" fill="#c6c8e1"/><circle cx="584.6" cy="702.3" r="0.6" fill="#e4e4ec"/><circle cx="592.4" cy="702.3" r="1.55" fill="#c6c8e1"/><circle cx="600.1" cy="702.3" r="0.95" fill="#c6c8e1"/><circle cx="607.9" cy="702.3" r="1.55" fill="#c6c8e1"/><circle cx="615.7" cy="702.3" r="1.55" fill="#c6c8e1"/><circle cx="623.4" cy="702.3" r="0.9" fill="#e4e4ec"/><circle cx="631.2" cy="702.3" r="0.75" fill="#e4e4ec"/><circle cx="639.0" cy="702.3" r="0.75" fill="#e4e4ec"/><circle cx="646.7" cy="702.3" r="0.6" fill="#e4e4ec"/><circle cx="654.5" cy="702.3" r="0.6" fill="#e4e4ec"/><circle cx="662.3" cy="702.3" r="0.6" fill="#e4e4ec"/><circle cx="670.0" cy="702.3" r="0.6" fill="#e4e4ec"/><circle cx="677.8" cy="702.3" r="3.2" fill="#2b3990"/><circle cx="475.8" cy="711.2" r="0.6" fill="#e4e4ec"/><circle cx="483.6" cy="711.2" r="1.55" fill="#e3e3ec"/><circle cx="491.3" cy="711.2" r="0.6" fill="#e4e4ec"/><circle cx="499.1" cy="711.2" r="2.15" fill="#c6c8e1"/><circle cx="506.9" cy="711.2" r="0.75" fill="#e4e4ec"/><circle cx="514.6" cy="711.2" r="1.55" fill="#c6c8e1"/><circle cx="522.4" cy="711.2" r="0.6" fill="#e4e4ec"/><circle cx="530.2" cy="711.2" r="0.6" fill="#e4e4ec"/><circle cx="538.0" cy="711.2" r="3.2" fill="#2b3990"/><circle cx="545.7" cy="711.2" r="0.6" fill="#e4e4ec"/><circle cx="553.5" cy="711.2" r="0.6" fill="#e4e4ec"/><circle cx="561.3" cy="711.2" r="0.6" fill="#e4e4ec"/><circle cx="569.0" cy="711.2" r="0.9" fill="#e4e4ec"/><circle cx="576.8" cy="711.2" r="2.15" fill="#c6c8e1"/><circle cx="584.6" cy="711.2" r="0.9" fill="#e4e4ec"/><circle cx="592.4" cy="711.2" r="1.55" fill="#9ea1cd"/><circle cx="600.1" cy="711.2" r="0.75" fill="#e4e4ec"/><circle cx="607.9" cy="711.2" r="1.55" fill="#e3e3ec"/><circle cx="615.7" cy="711.2" r="1.55" fill="#c6c8e1"/><circle cx="623.4" cy="711.2" r="0.75" fill="#e4e4ec"/><circle cx="631.2" cy="711.2" r="0.9" fill="#e4e4ec"/><circle cx="639.0" cy="711.2" r="0.75" fill="#e4e4ec"/><circle cx="646.7" cy="711.2" r="0.9" fill="#e4e4ec"/><circle cx="654.5" cy="711.2" r="0.6" fill="#e4e4ec"/><circle cx="662.3" cy="711.2" r="0.9" fill="#e4e4ec"/><circle cx="670.0" cy="711.2" r="0.6" fill="#e4e4ec"/><circle cx="677.8" cy="711.2" r="3.2" fill="#2b3990"/><circle cx="475.8" cy="720.1" r="0.9" fill="#e4e4ec"/><circle cx="483.6" cy="720.1" r="0.6" fill="#e4e4ec"/><circle cx="491.3" cy="720.1" r="1.25" fill="#6268af"/><circle cx="499.1" cy="720.1" r="0.9" fill="#e4e4ec"/><circle cx="506.9" cy="720.1" r="1.55" fill="#e3e3ec"/><circle cx="514.6" cy="720.1" r="0.95" fill="#c6c8e1"/><circle cx="522.4" cy="720.1" r="0.9" fill="#e4e4ec"/><circle cx="530.2" cy="720.1" r="1.55" fill="#c6c8e1"/><circle cx="538.0" cy="720.1" r="0.6" fill="#e4e4ec"/><circle cx="545.7" cy="720.1" r="1.25" fill="#9ea1cd"/><circle cx="553.5" cy="720.1" r="0.9" fill="#e4e4ec"/><circle cx="561.3" cy="720.1" r="2.15" fill="#2b3990"/><circle cx="569.0" cy="720.1" r="1.55" fill="#c6c8e1"/><circle cx="576.8" cy="720.1" r="0.6" fill="#e4e4ec"/><circle cx="584.6" cy="720.1" r="0.6" fill="#e4e4ec"/><circle cx="592.4" cy="720.1" r="0.6" fill="#e4e4ec"/><circle cx="600.1" cy="720.1" r="1.55" fill="#6268af"/><circle cx="607.9" cy="720.1" r="0.9" fill="#e4e4ec"/><circle cx="615.7" cy="720.1" r="1.55" fill="#9ea1cd"/><circle cx="623.4" cy="720.1" r="1.55" fill="#9ea1cd"/><circle cx="631.2" cy="720.1" r="1.25" fill="#6268af"/><circle cx="639.0" cy="720.1" r="0.9" fill="#e4e4ec"/><circle cx="646.7" cy="720.1" r="0.9" fill="#e4e4ec"/><circle cx="654.5" cy="720.1" r="0.6" fill="#e4e4ec"/><circle cx="662.3" cy="720.1" r="0.6" fill="#e4e4ec"/><circle cx="670.0" cy="720.1" r="0.75" fill="#e4e4ec"/><circle cx="677.8" cy="720.1" r="0.6" fill="#e4e4ec"/><circle cx="475.8" cy="729.0" r="0.6" fill="#e4e4ec"/><circle cx="483.6" cy="729.0" r="0.75" fill="#e4e4ec"/><circle cx="491.3" cy="729.0" r="1.55" fill="#6268af"/><circle cx="499.1" cy="729.0" r="0.6" fill="#e4e4ec"/><circle cx="506.9" cy="729.0" r="1.55" fill="#e3e3ec"/><circle cx="514.6" cy="729.0" r="0.75" fill="#e4e4ec"/><circle cx="522.4" cy="729.0" r="0.9" fill="#e4e4ec"/><circle cx="530.2" cy="729.0" r="1.55" fill="#c6c8e1"/><circle cx="538.0" cy="729.0" r="0.75" fill="#e4e4ec"/><circle cx="545.7" cy="729.0" r="1.55" fill="#6268af"/><circle cx="553.5" cy="729.0" r="1.25" fill="#9ea1cd"/><circle cx="561.3" cy="729.0" r="2.15" fill="#2b3990"/><circle cx="569.0" cy="729.0" r="2.15" fill="#6268af"/><circle cx="576.8" cy="729.0" r="0.6" fill="#e4e4ec"/><circle cx="584.6" cy="729.0" r="0.75" fill="#e4e4ec"/><circle cx="592.4" cy="729.0" r="0.6" fill="#e4e4ec"/><circle cx="600.1" cy="729.0" r="1.55" fill="#c6c8e1"/><circle cx="607.9" cy="729.0" r="0.75" fill="#e4e4ec"/><circle cx="615.7" cy="729.0" r="0.9" fill="#e4e4ec"/><circle cx="623.4" cy="729.0" r="1.55" fill="#9ea1cd"/><circle cx="631.2" cy="729.0" r="0.9" fill="#e4e4ec"/><circle cx="639.0" cy="729.0" r="0.6" fill="#e4e4ec"/><circle cx="646.7" cy="729.0" r="0.6" fill="#e4e4ec"/><circle cx="654.5" cy="729.0" r="0.75" fill="#e4e4ec"/><circle cx="662.3" cy="729.0" r="0.95" fill="#c6c8e1"/><circle cx="670.0" cy="729.0" r="0.95" fill="#c6c8e1"/><circle cx="677.8" cy="729.0" r="0.6" fill="#e4e4ec"/><circle cx="475.8" cy="737.9" r="0.75" fill="#e4e4ec"/><circle cx="483.6" cy="737.9" r="0.9" fill="#e4e4ec"/><circle cx="491.3" cy="737.9" r="0.6" fill="#e4e4ec"/><circle cx="499.1" cy="737.9" r="0.9" fill="#e4e4ec"/><circle cx="506.9" cy="737.9" r="0.9" fill="#e4e4ec"/><circle cx="514.6" cy="737.9" r="0.6" fill="#e4e4ec"/><circle cx="522.4" cy="737.9" r="0.9" fill="#e4e4ec"/><circle cx="530.2" cy="737.9" r="0.6" fill="#e4e4ec"/><circle cx="538.0" cy="737.9" r="0.9" fill="#e4e4ec"/><circle cx="545.7" cy="737.9" r="1.55" fill="#6268af"/><circle cx="553.5" cy="737.9" r="1.25" fill="#9ea1cd"/><circle cx="561.3" cy="737.9" r="0.6" fill="#e4e4ec"/><circle cx="569.0" cy="737.9" r="2.15" fill="#6268af"/><circle cx="576.8" cy="737.9" r="3.2" fill="#2b3990"/><circle cx="584.6" cy="737.9" r="2.15" fill="#6268af"/><circle cx="592.4" cy="737.9" r="2.15" fill="#9ea1cd"/><circle cx="600.1" cy="737.9" r="0.9" fill="#e4e4ec"/><circle cx="607.9" cy="737.9" r="0.6" fill="#e4e4ec"/><circle cx="615.7" cy="737.9" r="0.9" fill="#e4e4ec"/><circle cx="623.4" cy="737.9" r="0.6" fill="#e4e4ec"/><circle cx="631.2" cy="737.9" r="0.6" fill="#e4e4ec"/><circle cx="639.0" cy="737.9" r="0.6" fill="#e4e4ec"/><circle cx="646.7" cy="737.9" r="0.6" fill="#e4e4ec"/><circle cx="654.5" cy="737.9" r="0.75" fill="#e4e4ec"/><circle cx="662.3" cy="737.9" r="0.6" fill="#e4e4ec"/><circle cx="670.0" cy="737.9" r="0.6" fill="#e4e4ec"/><circle cx="677.8" cy="737.9" r="0.75" fill="#e4e4ec"/><circle cx="475.8" cy="746.8" r="0.6" fill="#e4e4ec"/><circle cx="483.6" cy="746.8" r="0.6" fill="#e4e4ec"/><circle cx="491.3" cy="746.8" r="0.6" fill="#e4e4ec"/><circle cx="499.1" cy="746.8" r="0.75" fill="#e4e4ec"/><circle cx="506.9" cy="746.8" r="0.6" fill="#e4e4ec"/><circle cx="514.6" cy="746.8" r="0.6" fill="#e4e4ec"/><circle cx="522.4" cy="746.8" r="0.75" fill="#e4e4ec"/><circle cx="530.2" cy="746.8" r="1.55" fill="#e3e3ec"/><circle cx="538.0" cy="746.8" r="2.15" fill="#9ea1cd"/><circle cx="545.7" cy="746.8" r="2.15" fill="#6268af"/><circle cx="553.5" cy="746.8" r="1.55" fill="#2b3990"/><circle cx="561.3" cy="746.8" r="0.6" fill="#e4e4ec"/><circle cx="569.0" cy="746.8" r="2.15" fill="#6268af"/><circle cx="576.8" cy="746.8" r="2.15" fill="#9ea1cd"/><circle cx="584.6" cy="746.8" r="0.9" fill="#e4e4ec"/><circle cx="592.4" cy="746.8" r="1.55" fill="#c6c8e1"/><circle cx="600.1" cy="746.8" r="0.6" fill="#e4e4ec"/><circle cx="607.9" cy="746.8" r="0.6" fill="#e4e4ec"/><circle cx="615.7" cy="746.8" r="0.6" fill="#e4e4ec"/><circle cx="623.4" cy="746.8" r="0.6" fill="#e4e4ec"/><circle cx="631.2" cy="746.8" r="0.75" fill="#e4e4ec"/><circle cx="639.0" cy="746.8" r="0.75" fill="#e4e4ec"/><circle cx="646.7" cy="746.8" r="0.6" fill="#e4e4ec"/><circle cx="654.5" cy="746.8" r="0.75" fill="#e4e4ec"/><circle cx="662.3" cy="746.8" r="0.9" fill="#e4e4ec"/><circle cx="670.0" cy="746.8" r="1.55" fill="#c6c8e1"/><circle cx="677.8" cy="746.8" r="2.15" fill="#6268af"/><circle cx="475.8" cy="755.7" r="0.75" fill="#e4e4ec"/><circle cx="483.6" cy="755.7" r="0.6" fill="#e4e4ec"/><circle cx="491.3" cy="755.7" r="0.6" fill="#e4e4ec"/><circle cx="499.1" cy="755.7" r="0.75" fill="#e4e4ec"/><circle cx="506.9" cy="755.7" r="0.75" fill="#e4e4ec"/><circle cx="514.6" cy="755.7" r="0.9" fill="#e4e4ec"/><circle cx="522.4" cy="755.7" r="0.9" fill="#e4e4ec"/><circle cx="530.2" cy="755.7" r="0.9" fill="#e4e4ec"/><circle cx="538.0" cy="755.7" r="0.6" fill="#e4e4ec"/><circle cx="545.7" cy="755.7" r="0.6" fill="#e4e4ec"/><circle cx="553.5" cy="755.7" r="0.9" fill="#e4e4ec"/><circle cx="561.3" cy="755.7" r="1.55" fill="#e3e3ec"/><circle cx="569.0" cy="755.7" r="2.15" fill="#c6c8e1"/><circle cx="576.8" cy="755.7" r="3.2" fill="#6268af"/><circle cx="584.6" cy="755.7" r="3.2" fill="#2b3990"/><circle cx="592.4" cy="755.7" r="3.2" fill="#2b3990"/><circle cx="600.1" cy="755.7" r="0.9" fill="#e4e4ec"/><circle cx="607.9" cy="755.7" r="2.15" fill="#e3e3ec"/><circle cx="615.7" cy="755.7" r="2.15" fill="#e3e3ec"/><circle cx="623.4" cy="755.7" r="0.6" fill="#e4e4ec"/><circle cx="631.2" cy="755.7" r="0.75" fill="#e4e4ec"/><circle cx="639.0" cy="755.7" r="0.6" fill="#e4e4ec"/><circle cx="646.7" cy="755.7" r="0.75" fill="#e4e4ec"/><circle cx="654.5" cy="755.7" r="0.6" fill="#e4e4ec"/><circle cx="662.3" cy="755.7" r="0.9" fill="#e4e4ec"/><circle cx="670.0" cy="755.7" r="0.6" fill="#e4e4ec"/><circle cx="677.8" cy="755.7" r="0.9" fill="#e4e4ec"/><circle cx="475.8" cy="764.6" r="0.75" fill="#e4e4ec"/><circle cx="483.6" cy="764.6" r="0.6" fill="#e4e4ec"/><circle cx="491.3" cy="764.6" r="0.75" fill="#e4e4ec"/><circle cx="499.1" cy="764.6" r="0.75" fill="#e4e4ec"/><circle cx="506.9" cy="764.6" r="0.9" fill="#e4e4ec"/><circle cx="514.6" cy="764.6" r="0.75" fill="#e4e4ec"/><circle cx="522.4" cy="764.6" r="0.75" fill="#e4e4ec"/><circle cx="530.2" cy="764.6" r="0.6" fill="#e4e4ec"/><circle cx="538.0" cy="764.6" r="0.75" fill="#e4e4ec"/><circle cx="545.7" cy="764.6" r="0.6" fill="#e4e4ec"/><circle cx="553.5" cy="764.6" r="0.9" fill="#e4e4ec"/><circle cx="561.3" cy="764.6" r="1.55" fill="#e3e3ec"/><circle cx="569.0" cy="764.6" r="2.15" fill="#c6c8e1"/><circle cx="576.8" cy="764.6" r="3.2" fill="#6268af"/><circle cx="584.6" cy="764.6" r="3.2" fill="#2b3990"/><circle cx="592.4" cy="764.6" r="3.2" fill="#2b3990"/><circle cx="600.1" cy="764.6" r="0.75" fill="#e4e4ec"/><circle cx="607.9" cy="764.6" r="1.55" fill="#e3e3ec"/><circle cx="615.7" cy="764.6" r="1.55" fill="#e3e3ec"/><circle cx="623.4" cy="764.6" r="0.6" fill="#e4e4ec"/><circle cx="631.2" cy="764.6" r="0.75" fill="#e4e4ec"/><circle cx="639.0" cy="764.6" r="0.6" fill="#e4e4ec"/><circle cx="646.7" cy="764.6" r="0.6" fill="#e4e4ec"/><circle cx="654.5" cy="764.6" r="0.6" fill="#e4e4ec"/><circle cx="662.3" cy="764.6" r="0.75" fill="#e4e4ec"/><circle cx="670.0" cy="764.6" r="0.9" fill="#e4e4ec"/><circle cx="677.8" cy="764.6" r="0.6" fill="#e4e4ec"/><circle cx="475.8" cy="773.5" r="0.6" fill="#e4e4ec"/><circle cx="483.6" cy="773.5" r="1.55" fill="#c6c8e1"/><circle cx="491.3" cy="773.5" r="0.6" fill="#e4e4ec"/><circle cx="499.1" cy="773.5" r="0.75" fill="#e4e4ec"/><circle cx="506.9" cy="773.5" r="0.9" fill="#e4e4ec"/><circle cx="514.6" cy="773.5" r="0.75" fill="#e4e4ec"/><circle cx="522.4" cy="773.5" r="0.6" fill="#e4e4ec"/><circle cx="530.2" cy="773.5" r="0.9" fill="#e4e4ec"/><circle cx="538.0" cy="773.5" r="0.9" fill="#e4e4ec"/><circle cx="545.7" cy="773.5" r="0.75" fill="#e4e4ec"/><circle cx="553.5" cy="773.5" r="0.6" fill="#e4e4ec"/><circle cx="561.3" cy="773.5" r="0.6" fill="#e4e4ec"/><circle cx="569.0" cy="773.5" r="1.55" fill="#e3e3ec"/><circle cx="576.8" cy="773.5" r="2.65" fill="#2b3990"/><circle cx="584.6" cy="773.5" r="2.65" fill="#2b3990"/><circle cx="592.4" cy="773.5" r="3.2" fill="#2b3990"/><circle cx="600.1" cy="773.5" r="0.6" fill="#e4e4ec"/><circle cx="607.9" cy="773.5" r="0.6" fill="#e4e4ec"/><circle cx="615.7" cy="773.5" r="0.9" fill="#e4e4ec"/><circle cx="623.4" cy="773.5" r="0.75" fill="#e4e4ec"/><circle cx="631.2" cy="773.5" r="0.6" fill="#e4e4ec"/><circle cx="639.0" cy="773.5" r="0.75" fill="#e4e4ec"/><circle cx="646.7" cy="773.5" r="0.75" fill="#e4e4ec"/><circle cx="654.5" cy="773.5" r="0.9" fill="#e4e4ec"/><circle cx="662.3" cy="773.5" r="0.6" fill="#e4e4ec"/><circle cx="670.0" cy="773.5" r="0.6" fill="#e4e4ec"/><circle cx="677.8" cy="773.5" r="0.6" fill="#e4e4ec"/><circle cx="475.8" cy="782.4" r="0.9" fill="#e4e4ec"/><circle cx="483.6" cy="782.4" r="0.75" fill="#e4e4ec"/><circle cx="491.3" cy="782.4" r="0.6" fill="#e4e4ec"/><circle cx="499.1" cy="782.4" r="0.75" fill="#e4e4ec"/><circle cx="506.9" cy="782.4" r="0.75" fill="#e4e4ec"/><circle cx="514.6" cy="782.4" r="0.9" fill="#e4e4ec"/><circle cx="522.4" cy="782.4" r="0.9" fill="#e4e4ec"/><circle cx="530.2" cy="782.4" r="0.6" fill="#e4e4ec"/><circle cx="538.0" cy="782.4" r="0.75" fill="#e4e4ec"/><circle cx="545.7" cy="782.4" r="0.9" fill="#e4e4ec"/><circle cx="553.5" cy="782.4" r="0.6" fill="#e4e4ec"/><circle cx="561.3" cy="782.4" r="1.55" fill="#e3e3ec"/><circle cx="569.0" cy="782.4" r="2.15" fill="#c6c8e1"/><circle cx="576.8" cy="782.4" r="2.65" fill="#3b4499"/><circle cx="584.6" cy="782.4" r="3.2" fill="#2b3990"/><circle cx="592.4" cy="782.4" r="3.2" fill="#2b3990"/><circle cx="600.1" cy="782.4" r="0.6" fill="#e4e4ec"/><circle cx="607.9" cy="782.4" r="0.75" fill="#e4e4ec"/><circle cx="615.7" cy="782.4" r="0.6" fill="#e4e4ec"/><circle cx="623.4" cy="782.4" r="0.6" fill="#e4e4ec"/><circle cx="631.2" cy="782.4" r="0.6" fill="#e4e4ec"/><circle cx="639.0" cy="782.4" r="0.6" fill="#e4e4ec"/><circle cx="646.7" cy="782.4" r="0.6" fill="#e4e4ec"/><circle cx="654.5" cy="782.4" r="0.9" fill="#e4e4ec"/><circle cx="662.3" cy="782.4" r="0.9" fill="#e4e4ec"/><circle cx="670.0" cy="782.4" r="0.6" fill="#e4e4ec"/><circle cx="677.8" cy="782.4" r="0.6" fill="#e4e4ec"/><circle cx="475.8" cy="791.3" r="0.9" fill="#e4e4ec"/><circle cx="483.6" cy="791.3" r="0.6" fill="#e4e4ec"/><circle cx="491.3" cy="791.3" r="0.6" fill="#e4e4ec"/><circle cx="499.1" cy="791.3" r="0.6" fill="#e4e4ec"/><circle cx="506.9" cy="791.3" r="0.6" fill="#e4e4ec"/><circle cx="514.6" cy="791.3" r="0.75" fill="#e4e4ec"/><circle cx="522.4" cy="791.3" r="0.75" fill="#e4e4ec"/><circle cx="530.2" cy="791.3" r="0.75" fill="#e4e4ec"/><circle cx="538.0" cy="791.3" r="0.6" fill="#e4e4ec"/><circle cx="545.7" cy="791.3" r="0.9" fill="#e4e4ec"/><circle cx="553.5" cy="791.3" r="0.9" fill="#e4e4ec"/><circle cx="561.3" cy="791.3" r="1.55" fill="#e3e3ec"/><circle cx="569.0" cy="791.3" r="2.15" fill="#c6c8e1"/><circle cx="576.8" cy="791.3" r="2.65" fill="#6268af"/><circle cx="584.6" cy="791.3" r="3.2" fill="#2b3990"/><circle cx="592.4" cy="791.3" r="3.2" fill="#2b3990"/><circle cx="600.1" cy="791.3" r="0.9" fill="#e4e4ec"/><circle cx="607.9" cy="791.3" r="0.75" fill="#e4e4ec"/><circle cx="615.7" cy="791.3" r="0.75" fill="#e4e4ec"/><circle cx="623.4" cy="791.3" r="0.9" fill="#e4e4ec"/><circle cx="631.2" cy="791.3" r="0.75" fill="#e4e4ec"/><circle cx="639.0" cy="791.3" r="0.9" fill="#e4e4ec"/><circle cx="646.7" cy="791.3" r="0.6" fill="#e4e4ec"/><circle cx="654.5" cy="791.3" r="0.6" fill="#e4e4ec"/><circle cx="662.3" cy="791.3" r="0.6" fill="#e4e4ec"/><circle cx="670.0" cy="791.3" r="0.6" fill="#e4e4ec"/><circle cx="677.8" cy="791.3" r="0.6" fill="#e4e4ec"/><circle cx="475.8" cy="800.2" r="0.9" fill="#e4e4ec"/><circle cx="483.6" cy="800.2" r="0.6" fill="#e4e4ec"/><circle cx="491.3" cy="800.2" r="0.9" fill="#e4e4ec"/><circle cx="499.1" cy="800.2" r="0.6" fill="#e4e4ec"/><circle cx="506.9" cy="800.2" r="0.6" fill="#e4e4ec"/><circle cx="514.6" cy="800.2" r="0.6" fill="#e4e4ec"/><circle cx="522.4" cy="800.2" r="0.6" fill="#e4e4ec"/><circle cx="530.2" cy="800.2" r="0.9" fill="#e4e4ec"/><circle cx="538.0" cy="800.2" r="0.6" fill="#e4e4ec"/><circle cx="545.7" cy="800.2" r="0.75" fill="#e4e4ec"/><circle cx="553.5" cy="800.2" r="0.6" fill="#e4e4ec"/><circle cx="561.3" cy="800.2" r="1.55" fill="#e3e3ec"/><circle cx="569.0" cy="800.2" r="2.15" fill="#e3e3ec"/><circle cx="576.8" cy="800.2" r="3.2" fill="#6268af"/><circle cx="584.6" cy="800.2" r="3.2" fill="#2b3990"/><circle cx="592.4" cy="800.2" r="3.2" fill="#2b3990"/><circle cx="600.1" cy="800.2" r="0.6" fill="#e4e4ec"/><circle cx="607.9" cy="800.2" r="2.15" fill="#e3e3ec"/><circle cx="615.7" cy="800.2" r="2.15" fill="#e3e3ec"/><circle cx="623.4" cy="800.2" r="0.9" fill="#e4e4ec"/><circle cx="631.2" cy="800.2" r="0.6" fill="#e4e4ec"/><circle cx="639.0" cy="800.2" r="0.6" fill="#e4e4ec"/><circle cx="646.7" cy="800.2" r="0.6" fill="#e4e4ec"/><circle cx="654.5" cy="800.2" r="0.75" fill="#e4e4ec"/><circle cx="662.3" cy="800.2" r="0.6" fill="#e4e4ec"/><circle cx="670.0" cy="800.2" r="0.6" fill="#e4e4ec"/><circle cx="677.8" cy="800.2" r="0.9" fill="#e4e4ec"/><circle cx="475.8" cy="809.1" r="0.6" fill="#e4e4ec"/><circle cx="483.6" cy="809.1" r="0.75" fill="#e4e4ec"/><circle cx="491.3" cy="809.1" r="0.75" fill="#e4e4ec"/><circle cx="499.1" cy="809.1" r="0.75" fill="#e4e4ec"/><circle cx="506.9" cy="809.1" r="0.75" fill="#e4e4ec"/><circle cx="514.6" cy="809.1" r="0.6" fill="#e4e4ec"/><circle cx="522.4" cy="809.1" r="0.6" fill="#e4e4ec"/><circle cx="530.2" cy="809.1" r="0.6" fill="#e4e4ec"/><circle cx="538.0" cy="809.1" r="0.6" fill="#e4e4ec"/><circle cx="545.7" cy="809.1" r="0.75" fill="#e4e4ec"/><circle cx="553.5" cy="809.1" r="0.6" fill="#e4e4ec"/><circle cx="561.3" cy="809.1" r="1.55" fill="#e3e3ec"/><circle cx="569.0" cy="809.1" r="1.55" fill="#e3e3ec"/><circle cx="576.8" cy="809.1" r="0.6" fill="#e4e4ec"/><circle cx="584.6" cy="809.1" r="0.6" fill="#e4e4ec"/><circle cx="592.4" cy="809.1" r="0.9" fill="#e4e4ec"/><circle cx="600.1" cy="809.1" r="3.2" fill="#2b3990"/><circle cx="607.9" cy="809.1" r="2.15" fill="#c6c8e1"/><circle cx="615.7" cy="809.1" r="2.15" fill="#9ea1cd"/><circle cx="623.4" cy="809.1" r="2.15" fill="#c6c8e1"/><circle cx="631.2" cy="809.1" r="0.6" fill="#e4e4ec"/><circle cx="639.0" cy="809.1" r="0.9" fill="#e4e4ec"/><circle cx="646.7" cy="809.1" r="0.75" fill="#e4e4ec"/><circle cx="654.5" cy="809.1" r="0.6" fill="#e4e4ec"/><circle cx="662.3" cy="809.1" r="0.6" fill="#e4e4ec"/><circle cx="670.0" cy="809.1" r="0.9" fill="#e4e4ec"/><circle cx="677.8" cy="809.1" r="0.6" fill="#e4e4ec"/><circle cx="475.8" cy="818.0" r="0.6" fill="#e4e4ec"/><circle cx="483.6" cy="818.0" r="0.6" fill="#e4e4ec"/><circle cx="491.3" cy="818.0" r="0.9" fill="#e4e4ec"/><circle cx="499.1" cy="818.0" r="0.9" fill="#e4e4ec"/><circle cx="506.9" cy="818.0" r="0.9" fill="#e4e4ec"/><circle cx="514.6" cy="818.0" r="0.6" fill="#e4e4ec"/><circle cx="522.4" cy="818.0" r="0.9" fill="#e4e4ec"/><circle cx="530.2" cy="818.0" r="0.6" fill="#e4e4ec"/><circle cx="538.0" cy="818.0" r="0.9" fill="#e4e4ec"/><circle cx="545.7" cy="818.0" r="0.75" fill="#e4e4ec"/><circle cx="553.5" cy="818.0" r="0.6" fill="#e4e4ec"/><circle cx="561.3" cy="818.0" r="0.9" fill="#e4e4ec"/><circle cx="569.0" cy="818.0" r="1.55" fill="#e3e3ec"/><circle cx="576.8" cy="818.0" r="0.9" fill="#e4e4ec"/><circle cx="584.6" cy="818.0" r="0.9" fill="#e4e4ec"/><circle cx="592.4" cy="818.0" r="0.9" fill="#e4e4ec"/><circle cx="600.1" cy="818.0" r="3.2" fill="#2b3990"/><circle cx="607.9" cy="818.0" r="2.15" fill="#c6c8e1"/><circle cx="615.7" cy="818.0" r="1.55" fill="#9ea1cd"/><circle cx="623.4" cy="818.0" r="1.55" fill="#c6c8e1"/><circle cx="631.2" cy="818.0" r="0.6" fill="#e4e4ec"/><circle cx="639.0" cy="818.0" r="0.9" fill="#e4e4ec"/><circle cx="646.7" cy="818.0" r="0.6" fill="#e4e4ec"/><circle cx="654.5" cy="818.0" r="0.75" fill="#e4e4ec"/><circle cx="662.3" cy="818.0" r="0.75" fill="#e4e4ec"/><circle cx="670.0" cy="818.0" r="0.75" fill="#e4e4ec"/><circle cx="677.8" cy="818.0" r="0.9" fill="#e4e4ec"/><circle cx="475.8" cy="826.9" r="1.55" fill="#e3e3ec"/><circle cx="483.6" cy="826.9" r="1.55" fill="#e3e3ec"/><circle cx="491.3" cy="826.9" r="0.75" fill="#e4e4ec"/><circle cx="499.1" cy="826.9" r="1.55" fill="#e3e3ec"/><circle cx="506.9" cy="826.9" r="1.55" fill="#e3e3ec"/><circle cx="514.6" cy="826.9" r="0.9" fill="#e4e4ec"/><circle cx="522.4" cy="826.9" r="0.6" fill="#e4e4ec"/><circle cx="530.2" cy="826.9" r="1.55" fill="#e3e3ec"/><circle cx="538.0" cy="826.9" r="1.55" fill="#e3e3ec"/><circle cx="545.7" cy="826.9" r="0.6" fill="#e4e4ec"/><circle cx="553.5" cy="826.9" r="0.6" fill="#e4e4ec"/><circle cx="561.3" cy="826.9" r="0.75" fill="#e4e4ec"/><circle cx="569.0" cy="826.9" r="0.75" fill="#e4e4ec"/><circle cx="576.8" cy="826.9" r="1.55" fill="#e3e3ec"/><circle cx="584.6" cy="826.9" r="0.6" fill="#e4e4ec"/><circle cx="592.4" cy="826.9" r="0.9" fill="#e4e4ec"/><circle cx="600.1" cy="826.9" r="1.55" fill="#c6c8e1"/><circle cx="607.9" cy="826.9" r="2.15" fill="#6268af"/><circle cx="615.7" cy="826.9" r="2.15" fill="#2b3990"/><circle cx="623.4" cy="826.9" r="2.15" fill="#6268af"/><circle cx="631.2" cy="826.9" r="1.55" fill="#e3e3ec"/><circle cx="639.0" cy="826.9" r="1.55" fill="#e3e3ec"/><circle cx="646.7" cy="826.9" r="1.55" fill="#e3e3ec"/><circle cx="654.5" cy="826.9" r="1.55" fill="#e3e3ec"/><circle cx="662.3" cy="826.9" r="1.55" fill="#e3e3ec"/><circle cx="670.0" cy="826.9" r="1.55" fill="#e3e3ec"/><circle cx="677.8" cy="826.9" r="1.55" fill="#e3e3ec"/><circle cx="475.8" cy="835.8" r="0.6" fill="#e4e4ec"/><circle cx="483.6" cy="835.8" r="0.6" fill="#e4e4ec"/><circle cx="491.3" cy="835.8" r="0.6" fill="#e4e4ec"/><circle cx="499.1" cy="835.8" r="0.6" fill="#e4e4ec"/><circle cx="506.9" cy="835.8" r="0.6" fill="#e4e4ec"/><circle cx="514.6" cy="835.8" r="0.9" fill="#e4e4ec"/><circle cx="522.4" cy="835.8" r="0.6" fill="#e4e4ec"/><circle cx="530.2" cy="835.8" r="0.6" fill="#e4e4ec"/><circle cx="538.0" cy="835.8" r="0.6" fill="#e4e4ec"/><circle cx="545.7" cy="835.8" r="0.6" fill="#e4e4ec"/><circle cx="553.5" cy="835.8" r="0.6" fill="#e4e4ec"/><circle cx="561.3" cy="835.8" r="0.9" fill="#e4e4ec"/><circle cx="569.0" cy="835.8" r="0.9" fill="#e4e4ec"/><circle cx="576.8" cy="835.8" r="2.15" fill="#c6c8e1"/><circle cx="584.6" cy="835.8" r="1.55" fill="#c6c8e1"/><circle cx="592.4" cy="835.8" r="1.55" fill="#c6c8e1"/><circle cx="600.1" cy="835.8" r="2.65" fill="#2b3990"/><circle cx="607.9" cy="835.8" r="2.65" fill="#6268af"/><circle cx="615.7" cy="835.8" r="2.65" fill="#3b4499"/><circle cx="623.4" cy="835.8" r="2.15" fill="#6268af"/><circle cx="631.2" cy="835.8" r="0.6" fill="#e4e4ec"/><circle cx="639.0" cy="835.8" r="0.6" fill="#e4e4ec"/><circle cx="646.7" cy="835.8" r="0.6" fill="#e4e4ec"/><circle cx="654.5" cy="835.8" r="0.9" fill="#e4e4ec"/><circle cx="662.3" cy="835.8" r="0.9" fill="#e4e4ec"/><circle cx="670.0" cy="835.8" r="0.75" fill="#e4e4ec"/><circle cx="677.8" cy="835.8" r="0.9" fill="#e4e4ec"/><circle cx="475.8" cy="844.7" r="0.6" fill="#e4e4ec"/><circle cx="483.6" cy="844.7" r="0.6" fill="#e4e4ec"/><circle cx="491.3" cy="844.7" r="0.6" fill="#e4e4ec"/><circle cx="499.1" cy="844.7" r="0.9" fill="#e4e4ec"/><circle cx="506.9" cy="844.7" r="0.6" fill="#e4e4ec"/><circle cx="514.6" cy="844.7" r="0.9" fill="#e4e4ec"/><circle cx="522.4" cy="844.7" r="0.9" fill="#e4e4ec"/><circle cx="530.2" cy="844.7" r="0.6" fill="#e4e4ec"/><circle cx="538.0" cy="844.7" r="0.6" fill="#e4e4ec"/><circle cx="545.7" cy="844.7" r="0.6" fill="#e4e4ec"/><circle cx="553.5" cy="844.7" r="0.6" fill="#e4e4ec"/><circle cx="561.3" cy="844.7" r="0.9" fill="#e4e4ec"/><circle cx="569.0" cy="844.7" r="0.9" fill="#e4e4ec"/><circle cx="576.8" cy="844.7" r="0.6" fill="#e4e4ec"/><circle cx="584.6" cy="844.7" r="0.6" fill="#e4e4ec"/><circle cx="592.4" cy="844.7" r="0.75" fill="#e4e4ec"/><circle cx="600.1" cy="844.7" r="1.55" fill="#e3e3ec"/><circle cx="607.9" cy="844.7" r="0.6" fill="#e4e4ec"/><circle cx="615.7" cy="844.7" r="0.75" fill="#e4e4ec"/><circle cx="623.4" cy="844.7" r="3.2" fill="#2b3990"/><circle cx="631.2" cy="844.7" r="0.6" fill="#e4e4ec"/><circle cx="639.0" cy="844.7" r="0.6" fill="#e4e4ec"/><circle cx="646.7" cy="844.7" r="0.75" fill="#e4e4ec"/><circle cx="654.5" cy="844.7" r="0.75" fill="#e4e4ec"/><circle cx="662.3" cy="844.7" r="0.9" fill="#e4e4ec"/><circle cx="670.0" cy="844.7" r="0.75" fill="#e4e4ec"/><circle cx="677.8" cy="844.7" r="0.9" fill="#e4e4ec"/><circle cx="475.8" cy="853.6" r="0.6" fill="#e4e4ec"/><circle cx="483.6" cy="853.6" r="0.75" fill="#e4e4ec"/><circle cx="491.3" cy="853.6" r="0.6" fill="#e4e4ec"/><circle cx="499.1" cy="853.6" r="0.75" fill="#e4e4ec"/><circle cx="506.9" cy="853.6" r="0.75" fill="#e4e4ec"/><circle cx="514.6" cy="853.6" r="0.75" fill="#e4e4ec"/><circle cx="522.4" cy="853.6" r="0.6" fill="#e4e4ec"/><circle cx="530.2" cy="853.6" r="0.6" fill="#e4e4ec"/><circle cx="538.0" cy="853.6" r="0.9" fill="#e4e4ec"/><circle cx="545.7" cy="853.6" r="0.6" fill="#e4e4ec"/><circle cx="553.5" cy="853.6" r="0.6" fill="#e4e4ec"/><circle cx="561.3" cy="853.6" r="0.6" fill="#e4e4ec"/><circle cx="569.0" cy="853.6" r="0.6" fill="#e4e4ec"/><circle cx="576.8" cy="853.6" r="0.6" fill="#e4e4ec"/><circle cx="584.6" cy="853.6" r="0.6" fill="#e4e4ec"/><circle cx="592.4" cy="853.6" r="0.6" fill="#e4e4ec"/><circle cx="600.1" cy="853.6" r="1.55" fill="#e3e3ec"/><circle cx="607.9" cy="853.6" r="0.6" fill="#e4e4ec"/><circle cx="615.7" cy="853.6" r="0.9" fill="#e4e4ec"/><circle cx="623.4" cy="853.6" r="3.2" fill="#2b3990"/><circle cx="631.2" cy="853.6" r="0.6" fill="#e4e4ec"/><circle cx="639.0" cy="853.6" r="0.6" fill="#e4e4ec"/><circle cx="646.7" cy="853.6" r="0.75" fill="#e4e4ec"/><circle cx="654.5" cy="853.6" r="0.6" fill="#e4e4ec"/><circle cx="662.3" cy="853.6" r="0.9" fill="#e4e4ec"/><circle cx="670.0" cy="853.6" r="0.75" fill="#e4e4ec"/><circle cx="677.8" cy="853.6" r="0.9" fill="#e4e4ec"/><circle cx="475.8" cy="862.5" r="0.75" fill="#e4e4ec"/><circle cx="483.6" cy="862.5" r="2.15" fill="#9ea1cd"/><circle cx="491.3" cy="862.5" r="1.55" fill="#c6c8e1"/><circle cx="499.1" cy="862.5" r="0.6" fill="#e4e4ec"/><circle cx="506.9" cy="862.5" r="0.9" fill="#e4e4ec"/><circle cx="514.6" cy="862.5" r="0.75" fill="#e4e4ec"/><circle cx="522.4" cy="862.5" r="2.15" fill="#c6c8e1"/><circle cx="530.2" cy="862.5" r="0.9" fill="#e4e4ec"/><circle cx="538.0" cy="862.5" r="0.6" fill="#e4e4ec"/><circle cx="545.7" cy="862.5" r="0.75" fill="#e4e4ec"/><circle cx="553.5" cy="862.5" r="0.6" fill="#e4e4ec"/><circle cx="561.3" cy="862.5" r="0.9" fill="#e4e4ec"/><circle cx="569.0" cy="862.5" r="0.6" fill="#e4e4ec"/><circle cx="576.8" cy="862.5" r="0.9" fill="#e4e4ec"/><circle cx="584.6" cy="862.5" r="0.75" fill="#e4e4ec"/><circle cx="592.4" cy="862.5" r="0.9" fill="#e4e4ec"/><circle cx="600.1" cy="862.5" r="0.6" fill="#e4e4ec"/><circle cx="607.9" cy="862.5" r="0.9" fill="#e4e4ec"/><circle cx="615.7" cy="862.5" r="0.75" fill="#e4e4ec"/><circle cx="623.4" cy="862.5" r="0.6" fill="#e4e4ec"/><circle cx="631.2" cy="862.5" r="2.65" fill="#2b3990"/><circle cx="639.0" cy="862.5" r="1.55" fill="#9ea1cd"/><circle cx="646.7" cy="862.5" r="2.15" fill="#6268af"/><circle cx="654.5" cy="862.5" r="0.75" fill="#e4e4ec"/><circle cx="662.3" cy="862.5" r="0.9" fill="#e4e4ec"/><circle cx="670.0" cy="862.5" r="0.9" fill="#e4e4ec"/><circle cx="677.8" cy="862.5" r="0.6" fill="#e4e4ec"/><circle cx="475.8" cy="871.4" r="0.9" fill="#e4e4ec"/><circle cx="483.6" cy="871.4" r="0.9" fill="#e4e4ec"/><circle cx="491.3" cy="871.4" r="0.75" fill="#e4e4ec"/><circle cx="499.1" cy="871.4" r="2.15" fill="#c6c8e1"/><circle cx="506.9" cy="871.4" r="2.15" fill="#9ea1cd"/><circle cx="514.6" cy="871.4" r="1.55" fill="#c6c8e1"/><circle cx="522.4" cy="871.4" r="2.15" fill="#9ea1cd"/><circle cx="530.2" cy="871.4" r="0.75" fill="#e4e4ec"/><circle cx="538.0" cy="871.4" r="0.6" fill="#e4e4ec"/><circle cx="545.7" cy="871.4" r="0.9" fill="#e4e4ec"/><circle cx="553.5" cy="871.4" r="0.9" fill="#e4e4ec"/><circle cx="561.3" cy="871.4" r="0.6" fill="#e4e4ec"/><circle cx="569.0" cy="871.4" r="0.6" fill="#e4e4ec"/><circle cx="576.8" cy="871.4" r="1.55" fill="#e3e3ec"/><circle cx="584.6" cy="871.4" r="0.6" fill="#e4e4ec"/><circle cx="592.4" cy="871.4" r="0.6" fill="#e4e4ec"/><circle cx="600.1" cy="871.4" r="0.9" fill="#e4e4ec"/><circle cx="607.9" cy="871.4" r="1.55" fill="#e3e3ec"/><circle cx="615.7" cy="871.4" r="0.6" fill="#e4e4ec"/><circle cx="623.4" cy="871.4" r="0.6" fill="#e4e4ec"/><circle cx="631.2" cy="871.4" r="2.65" fill="#2b3990"/><circle cx="639.0" cy="871.4" r="1.55" fill="#c6c8e1"/><circle cx="646.7" cy="871.4" r="2.15" fill="#9ea1cd"/><circle cx="654.5" cy="871.4" r="1.55" fill="#c6c8e1"/><circle cx="662.3" cy="871.4" r="2.15" fill="#9ea1cd"/><circle cx="670.0" cy="871.4" r="0.75" fill="#e4e4ec"/><circle cx="677.8" cy="871.4" r="2.15" fill="#e3e3ec"/><circle cx="475.8" cy="880.3" r="1.55" fill="#c6c8e1"/><circle cx="483.6" cy="880.3" r="0.6" fill="#e4e4ec"/><circle cx="491.3" cy="880.3" r="0.6" fill="#e4e4ec"/><circle cx="499.1" cy="880.3" r="1.55" fill="#e3e3ec"/><circle cx="506.9" cy="880.3" r="2.15" fill="#6268af"/><circle cx="514.6" cy="880.3" r="0.6" fill="#e4e4ec"/><circle cx="522.4" cy="880.3" r="2.15" fill="#6268af"/><circle cx="530.2" cy="880.3" r="1.55" fill="#e3e3ec"/><circle cx="538.0" cy="880.3" r="0.9" fill="#e4e4ec"/><circle cx="545.7" cy="880.3" r="0.9" fill="#e4e4ec"/><circle cx="553.5" cy="880.3" r="0.75" fill="#e4e4ec"/><circle cx="561.3" cy="880.3" r="0.75" fill="#e4e4ec"/><circle cx="569.0" cy="880.3" r="0.6" fill="#e4e4ec"/><circle cx="576.8" cy="880.3" r="1.55" fill="#e3e3ec"/><circle cx="584.6" cy="880.3" r="0.6" fill="#e4e4ec"/><circle cx="592.4" cy="880.3" r="0.6" fill="#e4e4ec"/><circle cx="600.1" cy="880.3" r="0.9" fill="#e4e4ec"/><circle cx="607.9" cy="880.3" r="2.15" fill="#e3e3ec"/><circle cx="615.7" cy="880.3" r="0.6" fill="#e4e4ec"/><circle cx="623.4" cy="880.3" r="0.75" fill="#e4e4ec"/><circle cx="631.2" cy="880.3" r="1.55" fill="#9ea1cd"/><circle cx="639.0" cy="880.3" r="2.15" fill="#9ea1cd"/><circle cx="646.7" cy="880.3" r="2.65" fill="#2b3990"/><circle cx="654.5" cy="880.3" r="0.75" fill="#e4e4ec"/><circle cx="662.3" cy="880.3" r="0.6" fill="#e4e4ec"/><circle cx="670.0" cy="880.3" r="1.55" fill="#e3e3ec"/><circle cx="677.8" cy="880.3" r="0.9" fill="#e4e4ec"/><circle cx="475.8" cy="889.2" r="1.55" fill="#c6c8e1"/><circle cx="483.6" cy="889.2" r="0.6" fill="#e4e4ec"/><circle cx="491.3" cy="889.2" r="0.95" fill="#c6c8e1"/><circle cx="499.1" cy="889.2" r="0.6" fill="#e4e4ec"/><circle cx="506.9" cy="889.2" r="2.65" fill="#2b3990"/><circle cx="514.6" cy="889.2" r="0.6" fill="#e4e4ec"/><circle cx="522.4" cy="889.2" r="0.6" fill="#e4e4ec"/><circle cx="530.2" cy="889.2" r="1.55" fill="#e3e3ec"/><circle cx="538.0" cy="889.2" r="0.6" fill="#e4e4ec"/><circle cx="545.7" cy="889.2" r="0.6" fill="#e4e4ec"/><circle cx="553.5" cy="889.2" r="0.6" fill="#e4e4ec"/><circle cx="561.3" cy="889.2" r="1.55" fill="#e3e3ec"/><circle cx="569.0" cy="889.2" r="0.6" fill="#e4e4ec"/><circle cx="576.8" cy="889.2" r="0.6" fill="#e4e4ec"/><circle cx="584.6" cy="889.2" r="0.75" fill="#e4e4ec"/><circle cx="592.4" cy="889.2" r="0.6" fill="#e4e4ec"/><circle cx="600.1" cy="889.2" r="0.6" fill="#e4e4ec"/><circle cx="607.9" cy="889.2" r="1.55" fill="#e3e3ec"/><circle cx="615.7" cy="889.2" r="0.9" fill="#e4e4ec"/><circle cx="623.4" cy="889.2" r="0.75" fill="#e4e4ec"/><circle cx="631.2" cy="889.2" r="0.95" fill="#c6c8e1"/><circle cx="639.0" cy="889.2" r="2.15" fill="#6268af"/><circle cx="646.7" cy="889.2" r="2.65" fill="#2b3990"/><circle cx="654.5" cy="889.2" r="1.55" fill="#e3e3ec"/><circle cx="662.3" cy="889.2" r="0.6" fill="#e4e4ec"/><circle cx="670.0" cy="889.2" r="1.55" fill="#e3e3ec"/><circle cx="677.8" cy="889.2" r="0.9" fill="#e4e4ec"/><circle cx="475.8" cy="898.1" r="0.6" fill="#e4e4ec"/><circle cx="483.6" cy="898.1" r="0.6" fill="#e4e4ec"/><circle cx="491.3" cy="898.1" r="0.6" fill="#e4e4ec"/><circle cx="499.1" cy="898.1" r="1.25" fill="#c6c8e1"/><circle cx="506.9" cy="898.1" r="0.6" fill="#e4e4ec"/><circle cx="514.6" cy="898.1" r="0.6" fill="#e4e4ec"/><circle cx="522.4" cy="898.1" r="0.6" fill="#e4e4ec"/><circle cx="530.2" cy="898.1" r="0.6" fill="#e4e4ec"/><circle cx="538.0" cy="898.1" r="0.75" fill="#e4e4ec"/><circle cx="545.7" cy="898.1" r="0.6" fill="#e4e4ec"/><circle cx="553.5" cy="898.1" r="1.25" fill="#c6c8e1"/><circle cx="561.3" cy="898.1" r="0.6" fill="#e4e4ec"/><circle cx="569.0" cy="898.1" r="0.9" fill="#e4e4ec"/><circle cx="576.8" cy="898.1" r="0.9" fill="#e4e4ec"/><circle cx="584.6" cy="898.1" r="0.6" fill="#e4e4ec"/><circle cx="592.4" cy="898.1" r="0.6" fill="#e4e4ec"/><circle cx="600.1" cy="898.1" r="0.9" fill="#e4e4ec"/><circle cx="607.9" cy="898.1" r="1.25" fill="#9ea1cd"/><circle cx="615.7" cy="898.1" r="0.75" fill="#e4e4ec"/><circle cx="623.4" cy="898.1" r="0.9" fill="#e4e4ec"/><circle cx="631.2" cy="898.1" r="0.9" fill="#e4e4ec"/><circle cx="639.0" cy="898.1" r="0.6" fill="#e4e4ec"/><circle cx="646.7" cy="898.1" r="1.25" fill="#9ea1cd"/><circle cx="654.5" cy="898.1" r="2.65" fill="#2b3990"/><circle cx="662.3" cy="898.1" r="2.15" fill="#6268af"/><circle cx="670.0" cy="898.1" r="0.75" fill="#e4e4ec"/><circle cx="677.8" cy="898.1" r="0.9" fill="#e4e4ec"/><circle cx="475.8" cy="907.0" r="0.9" fill="#e4e4ec"/><circle cx="483.6" cy="907.0" r="2.15" fill="#e3e3ec"/><circle cx="491.3" cy="907.0" r="3.2" fill="#2b3990"/><circle cx="499.1" cy="907.0" r="1.55" fill="#e3e3ec"/><circle cx="506.9" cy="907.0" r="1.55" fill="#e3e3ec"/><circle cx="514.6" cy="907.0" r="0.6" fill="#e4e4ec"/><circle cx="522.4" cy="907.0" r="0.6" fill="#e4e4ec"/><circle cx="530.2" cy="907.0" r="0.6" fill="#e4e4ec"/><circle cx="538.0" cy="907.0" r="0.9" fill="#e4e4ec"/><circle cx="545.7" cy="907.0" r="0.75" fill="#e4e4ec"/><circle cx="553.5" cy="907.0" r="2.15" fill="#6268af"/><circle cx="561.3" cy="907.0" r="2.15" fill="#c6c8e1"/><circle cx="569.0" cy="907.0" r="0.6" fill="#e4e4ec"/><circle cx="576.8" cy="907.0" r="0.75" fill="#e4e4ec"/><circle cx="584.6" cy="907.0" r="1.55" fill="#e3e3ec"/><circle cx="592.4" cy="907.0" r="0.75" fill="#e4e4ec"/><circle cx="600.1" cy="907.0" r="0.6" fill="#e4e4ec"/><circle cx="607.9" cy="907.0" r="1.55" fill="#e3e3ec"/><circle cx="615.7" cy="907.0" r="0.9" fill="#e4e4ec"/><circle cx="623.4" cy="907.0" r="0.6" fill="#e4e4ec"/><circle cx="631.2" cy="907.0" r="0.75" fill="#e4e4ec"/><circle cx="639.0" cy="907.0" r="2.15" fill="#e3e3ec"/><circle cx="646.7" cy="907.0" r="1.55" fill="#e3e3ec"/><circle cx="654.5" cy="907.0" r="2.65" fill="#b4b6d8"/><circle cx="662.3" cy="907.0" r="3.2" fill="#2b3990"/><circle cx="670.0" cy="907.0" r="0.9" fill="#e4e4ec"/><circle cx="677.8" cy="907.0" r="0.6" fill="#e4e4ec"/><circle cx="475.8" cy="915.9" r="0.6" fill="#e4e4ec"/><circle cx="483.6" cy="915.9" r="1.55" fill="#c6c8e1"/><circle cx="491.3" cy="915.9" r="1.25" fill="#c6c8e1"/><circle cx="499.1" cy="915.9" r="0.6" fill="#e4e4ec"/><circle cx="506.9" cy="915.9" r="0.75" fill="#e4e4ec"/><circle cx="514.6" cy="915.9" r="1.25" fill="#c6c8e1"/><circle cx="522.4" cy="915.9" r="1.55" fill="#6268af"/><circle cx="530.2" cy="915.9" r="0.6" fill="#e4e4ec"/><circle cx="538.0" cy="915.9" r="0.75" fill="#e4e4ec"/><circle cx="545.7" cy="915.9" r="0.6" fill="#e4e4ec"/><circle cx="553.5" cy="915.9" r="0.9" fill="#e4e4ec"/><circle cx="561.3" cy="915.9" r="0.9" fill="#e4e4ec"/><circle cx="569.0" cy="915.9" r="0.6" fill="#e4e4ec"/><circle cx="576.8" cy="915.9" r="1.55" fill="#e3e3ec"/><circle cx="584.6" cy="915.9" r="0.75" fill="#e4e4ec"/><circle cx="592.4" cy="915.9" r="0.6" fill="#e4e4ec"/><circle cx="600.1" cy="915.9" r="0.75" fill="#e4e4ec"/><circle cx="607.9" cy="915.9" r="0.6" fill="#e4e4ec"/><circle cx="615.7" cy="915.9" r="0.6" fill="#e4e4ec"/><circle cx="623.4" cy="915.9" r="0.6" fill="#e4e4ec"/><circle cx="631.2" cy="915.9" r="1.55" fill="#9ea1cd"/><circle cx="639.0" cy="915.9" r="0.9" fill="#e4e4ec"/><circle cx="646.7" cy="915.9" r="0.9" fill="#e4e4ec"/><circle cx="654.5" cy="915.9" r="0.75" fill="#e4e4ec"/><circle cx="662.3" cy="915.9" r="2.65" fill="#2b3990"/><circle cx="670.0" cy="915.9" r="1.55" fill="#e3e3ec"/><circle cx="677.8" cy="915.9" r="0.6" fill="#e4e4ec"/><circle cx="475.8" cy="924.8" r="0.9" fill="#e4e4ec"/><circle cx="483.6" cy="924.8" r="2.15" fill="#9ea1cd"/><circle cx="491.3" cy="924.8" r="1.25" fill="#9ea1cd"/><circle cx="499.1" cy="924.8" r="0.9" fill="#e4e4ec"/><circle cx="506.9" cy="924.8" r="0.9" fill="#e4e4ec"/><circle cx="514.6" cy="924.8" r="0.9" fill="#e4e4ec"/><circle cx="522.4" cy="924.8" r="1.25" fill="#c6c8e1"/><circle cx="530.2" cy="924.8" r="0.6" fill="#e4e4ec"/><circle cx="538.0" cy="924.8" r="0.75" fill="#e4e4ec"/><circle cx="545.7" cy="924.8" r="0.6" fill="#e4e4ec"/><circle cx="553.5" cy="924.8" r="0.6" fill="#e4e4ec"/><circle cx="561.3" cy="924.8" r="1.55" fill="#e3e3ec"/><circle cx="569.0" cy="924.8" r="0.6" fill="#e4e4ec"/><circle cx="576.8" cy="924.8" r="0.6" fill="#e4e4ec"/><circle cx="584.6" cy="924.8" r="0.6" fill="#e4e4ec"/><circle cx="592.4" cy="924.8" r="0.75" fill="#e4e4ec"/><circle cx="600.1" cy="924.8" r="0.6" fill="#e4e4ec"/><circle cx="607.9" cy="924.8" r="0.9" fill="#e4e4ec"/><circle cx="615.7" cy="924.8" r="0.6" fill="#e4e4ec"/><circle cx="623.4" cy="924.8" r="0.6" fill="#e4e4ec"/><circle cx="631.2" cy="924.8" r="1.55" fill="#9ea1cd"/><circle cx="639.0" cy="924.8" r="0.6" fill="#e4e4ec"/><circle cx="646.7" cy="924.8" r="0.75" fill="#e4e4ec"/><circle cx="654.5" cy="924.8" r="0.9" fill="#e4e4ec"/><circle cx="662.3" cy="924.8" r="2.65" fill="#2b3990"/><circle cx="670.0" cy="924.8" r="1.55" fill="#c6c8e1"/><circle cx="677.8" cy="924.8" r="0.9" fill="#e4e4ec"/><circle cx="475.8" cy="933.7" r="0.6" fill="#e4e4ec"/><circle cx="483.6" cy="933.7" r="0.75" fill="#e4e4ec"/><circle cx="491.3" cy="933.7" r="0.9" fill="#e4e4ec"/><circle cx="499.1" cy="933.7" r="0.6" fill="#e4e4ec"/><circle cx="506.9" cy="933.7" r="0.75" fill="#e4e4ec"/><circle cx="514.6" cy="933.7" r="0.6" fill="#e4e4ec"/><circle cx="522.4" cy="933.7" r="0.6" fill="#e4e4ec"/><circle cx="530.2" cy="933.7" r="0.9" fill="#e4e4ec"/><circle cx="538.0" cy="933.7" r="2.65" fill="#6268af"/><circle cx="545.7" cy="933.7" r="1.25" fill="#c6c8e1"/><circle cx="553.5" cy="933.7" r="0.75" fill="#e4e4ec"/><circle cx="561.3" cy="933.7" r="0.9" fill="#e4e4ec"/><circle cx="569.0" cy="933.7" r="1.55" fill="#c6c8e1"/><circle cx="576.8" cy="933.7" r="2.15" fill="#c6c8e1"/><circle cx="584.6" cy="933.7" r="0.9" fill="#e4e4ec"/><circle cx="592.4" cy="933.7" r="0.6" fill="#e4e4ec"/><circle cx="600.1" cy="933.7" r="1.55" fill="#6268af"/><circle cx="607.9" cy="933.7" r="1.55" fill="#c6c8e1"/><circle cx="615.7" cy="933.7" r="1.55" fill="#c6c8e1"/><circle cx="623.4" cy="933.7" r="2.15" fill="#6268af"/><circle cx="631.2" cy="933.7" r="0.6" fill="#e4e4ec"/><circle cx="639.0" cy="933.7" r="0.6" fill="#e4e4ec"/><circle cx="646.7" cy="933.7" r="0.9" fill="#e4e4ec"/><circle cx="654.5" cy="933.7" r="0.75" fill="#e4e4ec"/><circle cx="662.3" cy="933.7" r="0.9" fill="#e4e4ec"/><circle cx="670.0" cy="933.7" r="0.75" fill="#e4e4ec"/><circle cx="677.8" cy="933.7" r="3.2" fill="#2b3990"/><circle cx="475.8" cy="942.6" r="0.6" fill="#e4e4ec"/><circle cx="483.6" cy="942.6" r="0.9" fill="#e4e4ec"/><circle cx="491.3" cy="942.6" r="0.75" fill="#e4e4ec"/><circle cx="499.1" cy="942.6" r="1.55" fill="#c6c8e1"/><circle cx="506.9" cy="942.6" r="0.9" fill="#e4e4ec"/><circle cx="514.6" cy="942.6" r="1.55" fill="#c6c8e1"/><circle cx="522.4" cy="942.6" r="0.9" fill="#e4e4ec"/><circle cx="530.2" cy="942.6" r="0.6" fill="#e4e4ec"/><circle cx="538.0" cy="942.6" r="2.65" fill="#2b3990"/><circle cx="545.7" cy="942.6" r="1.25" fill="#9ea1cd"/><circle cx="553.5" cy="942.6" r="1.25" fill="#9ea1cd"/><circle cx="561.3" cy="942.6" r="0.75" fill="#e4e4ec"/><circle cx="569.0" cy="942.6" r="0.75" fill="#e4e4ec"/><circle cx="576.8" cy="942.6" r="2.15" fill="#c6c8e1"/><circle cx="584.6" cy="942.6" r="0.75" fill="#e4e4ec"/><circle cx="592.4" cy="942.6" r="1.55" fill="#c6c8e1"/><circle cx="600.1" cy="942.6" r="1.25" fill="#c6c8e1"/><circle cx="607.9" cy="942.6" r="0.6" fill="#e4e4ec"/><circle cx="615.7" cy="942.6" r="1.55" fill="#e3e3ec"/><circle cx="623.4" cy="942.6" r="0.9" fill="#e4e4ec"/><circle cx="631.2" cy="942.6" r="0.75" fill="#e4e4ec"/><circle cx="639.0" cy="942.6" r="0.75" fill="#e4e4ec"/><circle cx="646.7" cy="942.6" r="0.75" fill="#e4e4ec"/><circle cx="654.5" cy="942.6" r="0.6" fill="#e4e4ec"/><circle cx="662.3" cy="942.6" r="0.6" fill="#e4e4ec"/><circle cx="670.0" cy="942.6" r="0.6" fill="#e4e4ec"/><circle cx="677.8" cy="942.6" r="3.2" fill="#2b3990"/></g>
<line x1="475.80" y1="947.60" x2="475.80" y2="949.60" stroke="#555" stroke-width="0.8"/>
<text x="475.80" y="960.80" font-size="9.2" text-anchor="middle">25</text>
<line x1="483.57" y1="947.60" x2="483.57" y2="949.60" stroke="#555" stroke-width="0.8"/>
<text x="483.57" y="969.00" font-size="9.2" text-anchor="middle">14</text>
<line x1="491.34" y1="947.60" x2="491.34" y2="949.60" stroke="#555" stroke-width="0.8"/>
<text x="491.34" y="960.80" font-size="9.2" text-anchor="middle">21</text>
<line x1="499.11" y1="947.60" x2="499.11" y2="949.60" stroke="#555" stroke-width="0.8"/>
<text x="499.11" y="969.00" font-size="9.2" text-anchor="middle">17</text>
<line x1="506.88" y1="947.60" x2="506.88" y2="949.60" stroke="#555" stroke-width="0.8"/>
<text x="506.88" y="960.80" font-size="9.2" text-anchor="middle">24</text>
<line x1="514.65" y1="947.60" x2="514.65" y2="949.60" stroke="#555" stroke-width="0.8"/>
<text x="514.65" y="969.00" font-size="9.2" text-anchor="middle">11</text>
<line x1="522.42" y1="947.60" x2="522.42" y2="949.60" stroke="#555" stroke-width="0.8"/>
<text x="522.42" y="960.80" font-size="9.2" text-anchor="middle">22</text>
<line x1="530.19" y1="947.60" x2="530.19" y2="949.60" stroke="#555" stroke-width="0.8"/>
<text x="530.19" y="969.00" font-size="9.2" text-anchor="middle">1</text>
<line x1="537.96" y1="947.60" x2="537.96" y2="949.60" stroke="#555" stroke-width="0.8"/>
<text x="537.96" y="960.80" font-size="9.2" text-anchor="middle">7</text>
<line x1="545.73" y1="947.60" x2="545.73" y2="949.60" stroke="#555" stroke-width="0.8"/>
<text x="545.73" y="969.00" font-size="9.2" text-anchor="middle">20</text>
<line x1="553.50" y1="947.60" x2="553.50" y2="949.60" stroke="#555" stroke-width="0.8"/>
<text x="553.50" y="960.80" font-size="9.2" text-anchor="middle">6</text>
<line x1="561.27" y1="947.60" x2="561.27" y2="949.60" stroke="#555" stroke-width="0.8"/>
<text x="561.27" y="969.00" font-size="9.2" text-anchor="middle">19</text>
<line x1="569.04" y1="947.60" x2="569.04" y2="949.60" stroke="#555" stroke-width="0.8"/>
<text x="569.04" y="960.80" font-size="9.2" text-anchor="middle">0</text>
<line x1="576.81" y1="947.60" x2="576.81" y2="949.60" stroke="#555" stroke-width="0.8"/>
<text x="576.81" y="969.00" font-size="9.2" text-anchor="middle">13</text>
<line x1="584.58" y1="947.60" x2="584.58" y2="949.60" stroke="#555" stroke-width="0.8"/>
<text x="584.58" y="960.80" font-size="9.2" text-anchor="middle">5</text>
<line x1="592.35" y1="947.60" x2="592.35" y2="949.60" stroke="#555" stroke-width="0.8"/>
<text x="592.35" y="969.00" font-size="9.2" text-anchor="middle">9</text>
<line x1="600.12" y1="947.60" x2="600.12" y2="949.60" stroke="#555" stroke-width="0.8"/>
<text x="600.12" y="960.80" font-size="9.2" text-anchor="middle">23</text>
<line x1="607.89" y1="947.60" x2="607.89" y2="949.60" stroke="#555" stroke-width="0.8"/>
<text x="607.89" y="969.00" font-size="9.2" text-anchor="middle">15</text>
<line x1="615.66" y1="947.60" x2="615.66" y2="949.60" stroke="#555" stroke-width="0.8"/>
<text x="615.66" y="960.80" font-size="9.2" text-anchor="middle">10</text>
<line x1="623.43" y1="947.60" x2="623.43" y2="949.60" stroke="#555" stroke-width="0.8"/>
<text x="623.43" y="969.00" font-size="9.2" text-anchor="middle">12</text>
<line x1="631.20" y1="947.60" x2="631.20" y2="949.60" stroke="#555" stroke-width="0.8"/>
<text x="631.20" y="960.80" font-size="9.2" text-anchor="middle">16</text>
<line x1="638.97" y1="947.60" x2="638.97" y2="949.60" stroke="#555" stroke-width="0.8"/>
<text x="638.97" y="969.00" font-size="9.2" text-anchor="middle">3</text>
<line x1="646.74" y1="947.60" x2="646.74" y2="949.60" stroke="#555" stroke-width="0.8"/>
<text x="646.74" y="960.80" font-size="9.2" text-anchor="middle">26</text>
<line x1="654.51" y1="947.60" x2="654.51" y2="949.60" stroke="#555" stroke-width="0.8"/>
<text x="654.51" y="969.00" font-size="9.2" text-anchor="middle">8</text>
<line x1="662.28" y1="947.60" x2="662.28" y2="949.60" stroke="#555" stroke-width="0.8"/>
<text x="662.28" y="960.80" font-size="9.2" text-anchor="middle">18</text>
<line x1="670.05" y1="947.60" x2="670.05" y2="949.60" stroke="#555" stroke-width="0.8"/>
<text x="670.05" y="969.00" font-size="9.2" text-anchor="middle">2</text>
<line x1="677.82" y1="947.60" x2="677.82" y2="949.60" stroke="#555" stroke-width="0.8"/>
<text x="677.82" y="960.80" font-size="9.2" text-anchor="middle">4</text>
<rect x="470.8" y="971.6" width="39.2" height="11.5" fill="#6bbf6b"/>
<line x1="470.80" y1="971.80" x2="510.00" y2="971.80" stroke="#222" stroke-width="0.8"/>
<text x="490.40" y="980.50" font-size="7.7" text-anchor="middle" fill="#fff">Vasculature</text>
<rect x="513.5" y="971.6" width="25.3" height="11.5" fill="#6aaed6"/>
<line x1="513.50" y1="971.80" x2="538.80" y2="971.80" stroke="#222" stroke-width="0.8"/>
<text x="526.15" y="980.50" font-size="8.2" text-anchor="middle" fill="#fff">Tunica</text>
<rect x="543.1" y="971.6" width="82.8" height="11.5" fill="#c51b9d"/>
<line x1="543.10" y1="971.80" x2="625.90" y2="971.80" stroke="#222" stroke-width="0.8"/>
<text x="584.50" y="980.50" font-size="8.2" text-anchor="middle" fill="#fff">Cell cycle</text>
<rect x="629.8" y="971.6" width="51.9" height="11.5" fill="#f57c1f"/>
<line x1="629.80" y1="971.80" x2="681.70" y2="971.80" stroke="#222" stroke-width="0.8"/>
<text x="655.75" y="980.50" font-size="8.2" text-anchor="middle" fill="#fff">Corpus</text>
<text x="461.60" y="1000.80" font-size="9.4">Percent expressed</text>
<circle cx="471.5" cy="1008" r="1.0" fill="#111"/>
<text x="474.30" y="1010.40" font-size="7.8">25</text>
<circle cx="494.5" cy="1008" r="1.9" fill="#111"/>
<text x="498.20" y="1010.40" font-size="7.8">50</text>
<circle cx="517.5" cy="1008" r="2.9" fill="#111"/>
<text x="522.20" y="1010.40" font-size="7.8">75</text>
<text x="605.30" y="994.20" font-size="9.2" textLength="79.50" lengthAdjust="spacingAndGlyphs">Average expression</text>
<linearGradient id="avg" x1="0" x2="1" y1="0" y2="0"><stop offset="0" stop-color="#f4f4f8"/><stop offset="0.5" stop-color="#8e93c6"/><stop offset="1" stop-color="#27358c"/></linearGradient>
<rect x="617.7" y="997.9" width="54.2" height="7.2" fill="url(#avg)"/>
<text x="623.00" y="1012.00" font-size="7.3" text-anchor="end" transform="rotate(-45 623.00 1012.00)">0</text>
<text x="633.30" y="1012.00" font-size="7.3" text-anchor="end" transform="rotate(-45 633.30 1012.00)">0.5</text>
<text x="643.60" y="1012.00" font-size="7.3" text-anchor="end" transform="rotate(-45 643.60 1012.00)">1.0</text>
<text x="653.90" y="1012.00" font-size="7.3" text-anchor="end" transform="rotate(-45 653.90 1012.00)">1.5</text>
<text x="664.20" y="1012.00" font-size="7.3" text-anchor="end" transform="rotate(-45 664.20 1012.00)">2.0</text>
<text x="674.50" y="1012.00" font-size="7.3" text-anchor="end" transform="rotate(-45 674.50 1012.00)">2.5</text>
<g><polygon points="453.9,39.4 454.7,40.3 452.0,42.8 449.6,45.1 448.6,45.6 448.3,44.8 450.4,42.5 452.8,40.3" fill="#8040c0" stroke="#8040c0" stroke-width="0.9" stroke-linejoin="round"/><polygon points="454.0,32.0 455.9,31.2 457.0,32.0 456.5,33.7 455.6,35.4 455.9,37.4 455.6,39.5 454.3,39.7 452.7,38.9 452.1,37.1 452.5,35.4 452.3,34.0 452.9,32.5" fill="#2050a0" stroke="#2050a0" stroke-width="0.9" stroke-linejoin="round"/><polygon points="457.4,30.1 459.2,29.0 461.1,29.1 461.2,29.9 460.3,31.1 459.2,32.0 457.6,32.1 456.7,31.7 456.0,31.8" fill="#ff1f8f" stroke="#ff1f8f" stroke-width="0.9" stroke-linejoin="round"/><polygon points="441.6,58.9 444.7,57.7 447.8,57.3 450.1,56.4 451.7,56.0 452.5,56.8 450.9,58.1 448.6,58.9 446.2,60.5 443.9,61.4 442.3,60.5" fill="#e0a8ff" stroke="#e0a8ff" stroke-width="0.9" stroke-linejoin="round"/><polygon points="441.4,54.8 443.1,54.2 445.4,55.4 447.4,55.8 448.2,56.8 446.2,57.5 443.9,57.3 442.0,56.7 441.2,55.8" fill="#d01090" stroke="#d01090" stroke-width="0.9" stroke-linejoin="round"/><polygon points="435.5,60.1 437.3,59.1 439.2,58.7 440.8,58.5 442.3,59.5 442.7,61.4 442.1,63.0 441.6,64.6 442.0,67.9 441.6,70.0 440.4,70.8 439.0,69.6 438.4,67.9 438.2,65.9 437.8,63.8 436.9,62.6 435.9,62.2" fill="#e6e6e6" stroke="#e6e6e6" stroke-width="0.9" stroke-linejoin="round"/><polygon points="435.5,64.2 438.2,63.6 439.0,69.3 437.1,69.0 435.2,67.0" fill="#e6e6e6" stroke="#e6e6e6" stroke-width="0.9" stroke-linejoin="round"/><polygon points="431.2,72.6 432.8,70.9 434.7,69.5 436.6,68.4 437.9,69.0 438.3,71.2 437.4,73.8 435.8,75.2 433.9,76.0 432.0,75.7 431.0,74.3" fill="#b0006a" stroke="#b0006a" stroke-width="0.9" stroke-linejoin="round"/><polygon points="450.2,57.2 452.0,55.2 454.2,52.9 455.5,51.5 456.0,52.1 454.7,53.8 452.8,55.8 451.0,57.7" fill="#ff80ff" stroke="#ff80ff" stroke-width="0.9" stroke-linejoin="round"/><polygon points="454.7,47.2 456.3,45.5 459.0,45.3 460.6,46.2 461.1,48.0 460.6,50.5 459.8,52.5 458.2,53.5 456.3,52.9 455.1,51.7 454.3,49.6" fill="#0d7040" stroke="#0d7040" stroke-width="0.9" stroke-linejoin="round"/><polygon points="453.1,43.6 455.2,42.2 456.8,42.8 456.3,45.6 454.2,46.7 452.8,45.6" fill="#0d7040" stroke="#0d7040" stroke-width="0.9" stroke-linejoin="round"/><polygon points="459.8,46.4 461.7,46.2 463.3,47.6 463.6,50.5 463.3,52.9 462.1,54.6 460.2,54.6 459.0,53.3 459.8,51.3 460.7,48.4" fill="#ff20ff" stroke="#ff20ff" stroke-width="0.9" stroke-linejoin="round"/><polygon points="463.6,45.5 465.2,44.9 466.8,45.9 467.5,47.6 472.2,48.8 472.6,51.7 471.4,54.6 469.1,55.4 466.8,54.6 465.2,52.5 464.0,50.0 463.5,47.6" fill="#20d0d0" stroke="#20d0d0" stroke-width="0.9" stroke-linejoin="round"/><polygon points="463.6,51.7 466.8,51.3 469.9,52.5 471.0,55.4 469.1,57.0 466.8,57.4 464.4,56.2 463.3,54.1" fill="#c030b0" stroke="#c030b0" stroke-width="0.9" stroke-linejoin="round"/><polygon points="468.0,47.9 469.9,47.2 472.3,47.3 473.6,48.4 473.5,50.4 472.0,50.8 469.9,50.1 468.0,49.3" fill="#7a6020" stroke="#7a6020" stroke-width="0.9" stroke-linejoin="round"/><polygon points="462.9,55.8 465.6,55.5 468.0,56.9 469.9,59.4 471.2,61.9 470.7,64.8 468.8,65.0 466.7,63.9 464.5,63.9 461.9,63.4 460.7,61.7 461.1,59.7 462.7,57.7" fill="#ff2828" stroke="#ff2828" stroke-width="0.9" stroke-linejoin="round"/><polygon points="469.6,57.7 474.4,59.7 475.2,63.4 471.7,64.8 470.1,61.4" fill="#ff2828" stroke="#ff2828" stroke-width="0.9" stroke-linejoin="round"/><polygon points="466.8,65.3 468.7,65.7 469.9,67.7 469.5,69.8 468.7,69.4 467.5,67.7" fill="#505050" stroke="#505050" stroke-width="0.9" stroke-linejoin="round"/><polygon points="476.8,59.1 478.1,60.3 479.7,62.5 481.1,64.8 480.5,65.9 478.7,66.4 476.5,66.7 474.7,66.4 474.4,64.8 475.2,61.9" fill="#20f020" stroke="#20f020" stroke-width="0.9" stroke-linejoin="round"/><polygon points="445.9,75.7 448.3,76.1 449.4,75.5 451.4,77.4 452.2,79.4 453.7,81.5 454.1,82.7 452.9,82.7 451.4,81.5 450.2,80.7 449.0,79.0 447.5,77.4 446.3,76.5" fill="#18803c" stroke="#18803c" stroke-width="0.9" stroke-linejoin="round"/><polygon points="455.3,74.5 457.2,73.7 458.6,72.4 459.2,74.5 458.8,77.4 460.3,79.4 461.5,81.1 460.7,82.3 459.2,84.3 458.8,85.6 457.6,84.3 456.4,83.5 455.6,82.3 456.0,79.8 454.9,77.4" fill="#ffa010" stroke="#ffa010" stroke-width="0.9" stroke-linejoin="round"/><polygon points="445.2,86.0 446.3,84.3 447.9,84.0 449.4,85.6 451.0,86.8 450.2,88.5 448.3,89.3 446.7,88.5 445.2,87.6" fill="#e0d010" stroke="#e0d010" stroke-width="0.9" stroke-linejoin="round"/><polygon points="444.6,85.6 445.9,83.9 447.8,83.6 449.6,85.3 451.2,86.7 450.4,88.4 448.3,89.2 446.4,88.4 444.8,87.6" fill="#e0d010" stroke="#e0d010" stroke-width="0.9" stroke-linejoin="round"/><polygon points="469.7,88.4 473.0,87.4 474.8,88.9 476.2,89.1 474.8,91.4 472.5,92.3 470.2,91.9" fill="#a020f0" stroke="#a020f0" stroke-width="0.9" stroke-linejoin="round"/><polygon points="469.6,92.1 472.3,92.1 471.2,95.2 469.9,96.0" fill="#a020f0" stroke="#a020f0" stroke-width="0.9" stroke-linejoin="round"/><polygon points="462.1,108.1 464.3,105.3 466.4,102.2 468.3,99.1 469.6,96.8 470.7,96.0 471.7,93.7 472.3,92.9 471.7,95.7 470.1,99.1 468.5,101.9 466.4,105.3 464.3,108.7 462.9,109.8" fill="#30c8ff" stroke="#30c8ff" stroke-width="0.9" stroke-linejoin="round"/><polygon points="457.4,97.4 460.6,95.7 464.3,93.5 466.9,91.5 468.5,92.3 466.9,94.6 463.2,96.8 460.0,98.5 457.9,99.1" fill="#d2541e" stroke="#d2541e" stroke-width="0.9" stroke-linejoin="round"/><polygon points="456.8,105.3 460.0,103.0 463.7,99.9 466.9,97.4 468.8,96.0 469.6,97.1 467.5,99.1 464.5,101.6 461.1,104.7 458.4,107.0" fill="#d2541e" stroke="#d2541e" stroke-width="0.9" stroke-linejoin="round"/><polygon points="462.7,92.9 465.3,91.5 468.0,91.2 469.9,92.1 468.5,93.7 465.9,94.6 463.7,94.6" fill="#e0d0a0" stroke="#e0d0a0" stroke-width="0.9" stroke-linejoin="round"/><polygon points="448.8,89.5 450.4,87.0 452.6,86.4 455.2,86.1 457.4,87.6 459.0,89.2 460.8,90.9 462.7,91.8 461.6,93.2 459.0,93.2 456.8,93.5 455.2,94.9 453.6,96.0 452.0,95.7 450.2,94.0 448.6,92.1" fill="#555555" stroke="#555555" stroke-width="0.9" stroke-linejoin="round"/><polygon points="452.0,95.2 454.7,94.3 456.8,95.4 456.6,97.7 453.1,97.4" fill="#555555" stroke="#555555" stroke-width="0.9" stroke-linejoin="round"/><polygon points="450.2,97.4 453.1,96.6 456.6,97.1 457.6,99.1 456.8,101.9 454.4,102.8 451.0,102.5 449.9,100.2" fill="#f4a0a0" stroke="#f4a0a0" stroke-width="0.9" stroke-linejoin="round"/><polygon points="449.6,102.8 453.1,102.2 456.8,102.5 459.0,104.7 458.4,107.0 456.3,107.8 452.6,107.3 450.2,105.8" fill="#2080ff" stroke="#2080ff" stroke-width="0.9" stroke-linejoin="round"/><polygon points="455.8,106.4 459.0,105.3 461.6,106.4 463.7,108.1 463.2,110.6 461.6,111.5 458.4,110.4 456.3,108.7" fill="#90a828" stroke="#90a828" stroke-width="0.9" stroke-linejoin="round"/><path fill="#8040c0" d="M447.1 47.3h.9v.9h-.9zM447.8 45.1h.9v.9h-.9zM449.4 40.9h.9v.9h-.9zM453.2 43.0h.9v.9h-.9zM450.3 41.5h.9v.9h-.9zM453.8 41.8h.9v.9h-.9zM451.9 43.9h.9v.9h-.9zM452.9 37.6h.9v.9h-.9zM451.5 45.2h.9v.9h-.9zM448.2 45.4h.9v.9h-.9zM450.5 40.4h.9v.9h-.9zM455.0 38.3h.9v.9h-.9zM456.1 40.5h.9v.9h-.9zM451.2 46.2h.9v.9h-.9zM448.5 43.1h.9v.9h-.9z"/><path fill="#2050a0" d="M451.2 38.1h.9v.9h-.9zM455.5 30.4h.9v.9h-.9zM457.5 40.6h.9v.9h-.9zM452.3 39.6h.9v.9h-.9zM452.5 30.1h.9v.9h-.9zM455.0 30.6h.9v.9h-.9zM452.1 36.3h.9v.9h-.9zM454.3 31.3h.9v.9h-.9zM457.3 38.4h.9v.9h-.9zM456.4 36.3h.9v.9h-.9zM455.9 29.4h.9v.9h-.9zM456.5 31.6h.9v.9h-.9zM458.7 34.3h.9v.9h-.9zM458.6 32.2h.9v.9h-.9zM456.4 34.8h.9v.9h-.9z"/><path fill="#ff1f8f" d="M460.0 26.8h.9v.9h-.9zM463.2 31.0h.9v.9h-.9zM459.5 28.7h.9v.9h-.9zM457.8 27.6h.9v.9h-.9zM455.8 33.4h.9v.9h-.9zM455.8 30.6h.9v.9h-.9zM460.6 28.4h.9v.9h-.9zM461.6 30.3h.9v.9h-.9zM462.9 28.3h.9v.9h-.9zM457.9 29.5h.9v.9h-.9zM456.5 30.0h.9v.9h-.9zM457.9 29.7h.9v.9h-.9zM462.1 29.2h.9v.9h-.9zM454.4 32.4h.9v.9h-.9zM458.0 26.9h.9v.9h-.9z"/><path fill="#e0a8ff" d="M443.5 62.1h.9v.9h-.9zM444.9 62.2h.9v.9h-.9zM445.8 61.0h.9v.9h-.9zM450.3 58.8h.9v.9h-.9zM440.7 57.3h.9v.9h-.9zM449.7 53.9h.9v.9h-.9zM445.6 62.8h.9v.9h-.9zM450.3 56.3h.9v.9h-.9zM441.5 59.4h.9v.9h-.9zM448.7 56.6h.9v.9h-.9zM449.3 59.1h.9v.9h-.9zM440.4 58.5h.9v.9h-.9zM449.7 54.2h.9v.9h-.9zM440.6 60.4h.9v.9h-.9zM440.4 59.2h.9v.9h-.9z"/><path fill="#d01090" d="M448.1 55.0h.9v.9h-.9zM445.4 58.3h.9v.9h-.9zM442.5 58.3h.9v.9h-.9zM442.3 57.9h.9v.9h-.9zM449.6 58.6h.9v.9h-.9zM446.1 57.6h.9v.9h-.9zM442.8 57.6h.9v.9h-.9zM444.4 57.9h.9v.9h-.9zM450.0 57.6h.9v.9h-.9zM445.7 57.6h.9v.9h-.9zM448.6 57.1h.9v.9h-.9zM444.2 54.0h.9v.9h-.9zM450.1 57.4h.9v.9h-.9zM450.1 57.1h.9v.9h-.9zM448.7 53.7h.9v.9h-.9z"/><path fill="#e6e6e6" d="M441.7 57.8h.9v.9h-.9zM437.1 63.8h.9v.9h-.9zM439.4 72.9h.9v.9h-.9zM440.6 58.0h.9v.9h-.9zM442.5 69.0h.9v.9h-.9zM442.9 72.0h.9v.9h-.9zM442.4 64.9h.9v.9h-.9zM441.0 57.2h.9v.9h-.9zM441.8 57.3h.9v.9h-.9zM435.7 64.2h.9v.9h-.9zM444.8 61.8h.9v.9h-.9zM444.7 60.4h.9v.9h-.9zM444.6 61.5h.9v.9h-.9zM438.0 57.7h.9v.9h-.9zM443.0 62.0h.9v.9h-.9zM435.6 62.1h.9v.9h-.9z"/><path fill="#b0006a" d="M429.1 71.6h.9v.9h-.9zM437.4 75.3h.9v.9h-.9zM434.0 68.9h.9v.9h-.9zM438.8 69.4h.9v.9h-.9zM437.2 76.6h.9v.9h-.9zM431.6 75.4h.9v.9h-.9zM439.0 75.4h.9v.9h-.9zM433.6 69.2h.9v.9h-.9zM438.4 73.2h.9v.9h-.9zM432.0 78.1h.9v.9h-.9zM434.2 75.9h.9v.9h-.9zM433.5 69.7h.9v.9h-.9zM438.3 73.5h.9v.9h-.9zM437.4 67.1h.9v.9h-.9zM430.0 73.9h.9v.9h-.9z"/><path fill="#ff80ff" d="M449.7 56.7h.9v.9h-.9zM453.5 55.5h.9v.9h-.9zM454.1 54.8h.9v.9h-.9zM455.8 53.0h.9v.9h-.9zM449.0 55.5h.9v.9h-.9zM454.4 55.2h.9v.9h-.9zM450.1 56.1h.9v.9h-.9zM454.5 51.2h.9v.9h-.9zM455.9 52.2h.9v.9h-.9zM457.0 52.2h.9v.9h-.9zM453.1 53.2h.9v.9h-.9zM454.2 54.5h.9v.9h-.9zM453.5 56.7h.9v.9h-.9zM450.5 55.1h.9v.9h-.9zM450.0 57.3h.9v.9h-.9z"/><path fill="#0d7040" d="M454.1 50.3h.9v.9h-.9zM453.9 46.6h.9v.9h-.9zM454.2 54.1h.9v.9h-.9zM457.9 44.4h.9v.9h-.9zM452.6 50.7h.9v.9h-.9zM454.9 52.9h.9v.9h-.9zM454.1 45.8h.9v.9h-.9zM457.6 44.5h.9v.9h-.9zM454.1 44.3h.9v.9h-.9zM453.3 47.5h.9v.9h-.9zM460.6 52.2h.9v.9h-.9zM460.0 45.6h.9v.9h-.9zM461.5 44.2h.9v.9h-.9zM459.0 54.3h.9v.9h-.9zM459.5 43.3h.9v.9h-.9zM452.3 47.1h.9v.9h-.9z"/><path fill="#ff20ff" d="M458.2 44.5h.9v.9h-.9zM463.6 56.6h.9v.9h-.9zM457.1 53.8h.9v.9h-.9zM458.7 46.8h.9v.9h-.9zM459.2 45.2h.9v.9h-.9zM457.6 50.3h.9v.9h-.9zM465.2 49.6h.9v.9h-.9zM457.8 54.0h.9v.9h-.9zM464.1 55.2h.9v.9h-.9zM463.2 56.1h.9v.9h-.9zM463.5 53.0h.9v.9h-.9zM458.1 55.6h.9v.9h-.9zM464.4 48.5h.9v.9h-.9zM458.6 48.1h.9v.9h-.9zM458.7 55.1h.9v.9h-.9z"/><path fill="#20d0d0" d="M465.4 44.2h.9v.9h-.9zM473.3 53.7h.9v.9h-.9zM464.0 42.7h.9v.9h-.9zM467.0 55.8h.9v.9h-.9zM463.6 49.7h.9v.9h-.9zM461.4 48.0h.9v.9h-.9zM466.3 43.0h.9v.9h-.9zM462.9 48.8h.9v.9h-.9zM473.2 55.3h.9v.9h-.9zM472.2 56.4h.9v.9h-.9zM470.6 47.5h.9v.9h-.9zM465.6 43.5h.9v.9h-.9zM474.0 51.3h.9v.9h-.9zM473.2 55.1h.9v.9h-.9zM470.4 56.2h.9v.9h-.9z"/><path fill="#c030b0" d="M463.7 55.1h.9v.9h-.9zM470.7 53.9h.9v.9h-.9zM467.3 51.1h.9v.9h-.9zM464.3 57.5h.9v.9h-.9zM464.5 50.9h.9v.9h-.9zM470.7 56.5h.9v.9h-.9zM470.6 50.4h.9v.9h-.9zM465.7 50.2h.9v.9h-.9zM467.8 50.8h.9v.9h-.9zM462.3 51.4h.9v.9h-.9zM465.9 49.8h.9v.9h-.9zM467.3 57.9h.9v.9h-.9zM464.3 58.6h.9v.9h-.9zM462.1 55.3h.9v.9h-.9zM468.0 57.4h.9v.9h-.9z"/><path fill="#7a6020" d="M474.1 50.1h.9v.9h-.9zM471.1 46.7h.9v.9h-.9zM467.7 48.1h.9v.9h-.9zM474.0 46.4h.9v.9h-.9zM469.9 45.5h.9v.9h-.9zM470.2 46.5h.9v.9h-.9zM473.7 50.6h.9v.9h-.9zM468.3 51.3h.9v.9h-.9zM474.5 49.9h.9v.9h-.9zM475.2 48.2h.9v.9h-.9zM471.0 51.1h.9v.9h-.9zM467.8 49.3h.9v.9h-.9zM468.1 50.1h.9v.9h-.9zM474.6 47.0h.9v.9h-.9zM467.0 51.0h.9v.9h-.9z"/><path fill="#ff2828" d="M472.0 59.0h.9v.9h-.9zM465.6 54.5h.9v.9h-.9zM467.5 66.5h.9v.9h-.9zM459.3 60.2h.9v.9h-.9zM471.5 65.6h.9v.9h-.9zM468.1 65.3h.9v.9h-.9zM472.2 62.8h.9v.9h-.9zM470.3 67.1h.9v.9h-.9zM462.1 57.6h.9v.9h-.9zM460.8 55.5h.9v.9h-.9zM463.9 54.2h.9v.9h-.9zM471.6 59.8h.9v.9h-.9zM472.5 60.5h.9v.9h-.9zM470.4 57.4h.9v.9h-.9zM463.5 65.0h.9v.9h-.9zM472.9 58.2h.9v.9h-.9z"/><path fill="#505050" d="M465.2 66.8h.9v.9h-.9zM464.7 66.3h.9v.9h-.9zM469.5 64.8h.9v.9h-.9zM466.1 63.4h.9v.9h-.9zM468.2 70.5h.9v.9h-.9zM470.4 65.9h.9v.9h-.9zM467.4 70.2h.9v.9h-.9zM471.2 69.3h.9v.9h-.9zM469.4 63.4h.9v.9h-.9zM470.6 65.0h.9v.9h-.9zM465.4 64.5h.9v.9h-.9zM465.0 67.3h.9v.9h-.9zM470.9 71.1h.9v.9h-.9zM467.2 71.1h.9v.9h-.9zM470.5 69.2h.9v.9h-.9z"/><path fill="#20f020" d="M474.0 68.6h.9v.9h-.9zM477.9 57.6h.9v.9h-.9zM475.4 68.9h.9v.9h-.9zM478.6 67.5h.9v.9h-.9zM474.6 68.4h.9v.9h-.9zM474.6 61.7h.9v.9h-.9zM475.5 60.4h.9v.9h-.9zM482.5 62.8h.9v.9h-.9zM476.4 68.9h.9v.9h-.9zM479.1 68.0h.9v.9h-.9zM474.5 62.7h.9v.9h-.9zM473.3 66.5h.9v.9h-.9zM481.1 61.5h.9v.9h-.9zM475.0 68.7h.9v.9h-.9zM481.2 64.6h.9v.9h-.9z"/><path fill="#18803c" d="M450.2 73.8h.9v.9h-.9zM455.0 83.5h.9v.9h-.9zM448.8 80.9h.9v.9h-.9zM453.1 76.1h.9v.9h-.9zM444.5 75.8h.9v.9h-.9zM447.2 75.7h.9v.9h-.9zM444.5 74.9h.9v.9h-.9zM455.4 83.7h.9v.9h-.9zM446.0 75.7h.9v.9h-.9zM452.6 75.8h.9v.9h-.9zM452.9 83.5h.9v.9h-.9zM450.1 73.7h.9v.9h-.9zM452.9 76.6h.9v.9h-.9zM448.6 74.3h.9v.9h-.9zM452.8 84.7h.9v.9h-.9z"/><path fill="#ffa010" d="M460.2 85.9h.9v.9h-.9zM458.1 71.5h.9v.9h-.9zM454.9 78.3h.9v.9h-.9zM455.1 73.0h.9v.9h-.9zM458.1 86.0h.9v.9h-.9zM455.8 72.3h.9v.9h-.9zM459.4 78.0h.9v.9h-.9zM453.5 74.9h.9v.9h-.9zM454.4 76.7h.9v.9h-.9zM455.7 84.7h.9v.9h-.9zM453.4 79.7h.9v.9h-.9zM454.5 83.4h.9v.9h-.9zM455.7 73.1h.9v.9h-.9zM453.4 73.8h.9v.9h-.9zM461.1 81.8h.9v.9h-.9z"/><path fill="#e0d010" d="M448.9 83.5h.9v.9h-.9zM450.8 89.1h.9v.9h-.9zM447.5 90.1h.9v.9h-.9zM444.1 88.1h.9v.9h-.9zM451.4 84.6h.9v.9h-.9zM450.3 85.1h.9v.9h-.9zM446.5 82.3h.9v.9h-.9zM447.0 89.8h.9v.9h-.9zM443.9 88.1h.9v.9h-.9zM446.6 88.5h.9v.9h-.9zM451.8 89.8h.9v.9h-.9zM443.9 84.2h.9v.9h-.9zM445.1 89.1h.9v.9h-.9zM450.2 85.2h.9v.9h-.9zM447.4 89.1h.9v.9h-.9z"/><path fill="#a020f0" d="M477.5 88.8h.9v.9h-.9zM470.0 88.0h.9v.9h-.9zM474.4 85.7h.9v.9h-.9zM473.1 94.6h.9v.9h-.9zM476.7 92.6h.9v.9h-.9zM474.1 94.1h.9v.9h-.9zM469.2 92.9h.9v.9h-.9zM476.5 89.5h.9v.9h-.9zM469.8 87.6h.9v.9h-.9zM468.9 88.6h.9v.9h-.9zM469.8 89.4h.9v.9h-.9zM469.5 89.2h.9v.9h-.9zM468.6 92.5h.9v.9h-.9zM476.0 90.2h.9v.9h-.9zM471.9 92.3h.9v.9h-.9zM473.8 90.2h.9v.9h-.9z"/><path fill="#30c8ff" d="M465.2 101.8h.9v.9h-.9zM474.2 93.3h.9v.9h-.9zM470.4 99.9h.9v.9h-.9zM463.2 111.8h.9v.9h-.9zM467.3 107.5h.9v.9h-.9zM471.8 91.3h.9v.9h-.9zM473.3 95.5h.9v.9h-.9zM470.4 100.4h.9v.9h-.9zM466.2 102.3h.9v.9h-.9zM471.5 91.9h.9v.9h-.9zM471.3 92.8h.9v.9h-.9zM471.3 92.1h.9v.9h-.9zM464.8 103.3h.9v.9h-.9zM469.4 94.6h.9v.9h-.9zM462.9 103.6h.9v.9h-.9z"/><path fill="#d2541e" d="M460.5 98.8h.9v.9h-.9zM467.9 91.6h.9v.9h-.9zM460.1 94.2h.9v.9h-.9zM463.3 91.5h.9v.9h-.9zM461.5 99.2h.9v.9h-.9zM460.1 93.2h.9v.9h-.9zM467.0 94.9h.9v.9h-.9zM468.1 91.1h.9v.9h-.9zM460.4 99.2h.9v.9h-.9zM468.8 89.8h.9v.9h-.9zM463.2 99.0h.9v.9h-.9zM458.4 95.0h.9v.9h-.9zM463.1 98.9h.9v.9h-.9zM462.4 92.9h.9v.9h-.9zM460.9 94.2h.9v.9h-.9z"/><path fill="#e0d0a0" d="M466.8 91.1h.9v.9h-.9zM466.3 89.7h.9v.9h-.9zM465.6 96.5h.9v.9h-.9zM463.8 91.4h.9v.9h-.9zM464.3 91.5h.9v.9h-.9zM471.0 94.5h.9v.9h-.9zM467.9 89.6h.9v.9h-.9zM464.1 90.3h.9v.9h-.9zM469.1 93.6h.9v.9h-.9zM470.7 93.6h.9v.9h-.9zM466.4 94.5h.9v.9h-.9zM470.3 91.8h.9v.9h-.9zM471.4 91.7h.9v.9h-.9zM465.7 96.5h.9v.9h-.9zM462.8 92.5h.9v.9h-.9z"/><path fill="#555555" d="M449.2 87.7h.9v.9h-.9zM459.0 86.6h.9v.9h-.9zM448.6 86.9h.9v.9h-.9zM463.8 90.8h.9v.9h-.9zM459.8 89.6h.9v.9h-.9zM448.3 90.7h.9v.9h-.9zM447.4 93.6h.9v.9h-.9zM450.7 97.4h.9v.9h-.9zM453.8 84.1h.9v.9h-.9zM462.2 93.6h.9v.9h-.9zM458.0 87.0h.9v.9h-.9zM463.5 91.6h.9v.9h-.9zM455.8 84.9h.9v.9h-.9zM449.8 85.7h.9v.9h-.9zM458.7 87.9h.9v.9h-.9zM455.3 92.7h.9v.9h-.9z"/><path fill="#f4a0a0" d="M452.9 103.8h.9v.9h-.9zM452.1 104.2h.9v.9h-.9zM448.0 101.2h.9v.9h-.9zM456.1 103.0h.9v.9h-.9zM456.3 102.8h.9v.9h-.9zM457.3 104.3h.9v.9h-.9zM458.6 97.5h.9v.9h-.9zM450.9 102.7h.9v.9h-.9zM449.3 103.5h.9v.9h-.9zM449.2 102.3h.9v.9h-.9zM458.8 96.8h.9v.9h-.9zM449.5 96.0h.9v.9h-.9zM457.7 101.5h.9v.9h-.9zM454.3 96.6h.9v.9h-.9zM452.3 102.8h.9v.9h-.9z"/><path fill="#2080ff" d="M453.3 100.1h.9v.9h-.9zM447.7 104.4h.9v.9h-.9zM452.1 101.3h.9v.9h-.9zM461.0 105.8h.9v.9h-.9zM455.8 100.5h.9v.9h-.9zM451.8 100.5h.9v.9h-.9zM457.7 102.7h.9v.9h-.9zM453.0 101.7h.9v.9h-.9zM450.5 106.6h.9v.9h-.9zM457.5 102.2h.9v.9h-.9zM457.4 108.2h.9v.9h-.9zM460.1 102.5h.9v.9h-.9zM454.7 101.8h.9v.9h-.9zM448.9 106.7h.9v.9h-.9zM449.1 103.8h.9v.9h-.9z"/><path fill="#90a828" d="M456.2 109.5h.9v.9h-.9zM463.0 111.9h.9v.9h-.9zM460.9 113.0h.9v.9h-.9zM459.7 104.2h.9v.9h-.9zM461.0 104.3h.9v.9h-.9zM455.2 109.2h.9v.9h-.9zM456.6 110.1h.9v.9h-.9zM454.4 105.7h.9v.9h-.9zM464.2 111.5h.9v.9h-.9zM455.3 110.8h.9v.9h-.9zM463.1 113.1h.9v.9h-.9zM459.3 104.2h.9v.9h-.9zM457.5 112.4h.9v.9h-.9zM458.4 112.3h.9v.9h-.9zM458.9 112.6h.9v.9h-.9z"/></g>
<text x="460.50" y="32.00" font-size="4.2" text-anchor="middle" fill="#222">21</text>
<text x="453.00" y="39.50" font-size="4.2" text-anchor="middle" fill="#222">14</text>
<text x="455.00" y="53.50" font-size="4.2" text-anchor="middle" fill="#222">16</text>
<text x="466.00" y="57.50" font-size="4.2" text-anchor="middle" fill="#222">18</text>
<text x="463.00" y="62.50" font-size="4.2" text-anchor="middle" fill="#222">2</text>
<text x="477.00" y="65.50" font-size="4.2" text-anchor="middle" fill="#222">4</text>
<text x="438.00" y="65.50" font-size="4.2" text-anchor="middle" fill="#222">1</text>
<text x="446.00" y="61.50" font-size="4.2" text-anchor="middle" fill="#222">11</text>
<text x="443.00" y="56.50" font-size="4.2" text-anchor="middle" fill="#222">22</text>
<text x="434.00" y="75.50" font-size="4.2" text-anchor="middle" fill="#222">7</text>
<text x="449.00" y="80.50" font-size="4.2" text-anchor="middle" fill="#222">20</text>
<text x="457.00" y="79.50" font-size="4.2" text-anchor="middle" fill="#222">6</text>
<text x="446.00" y="87.50" font-size="4.2" text-anchor="middle" fill="#222">19</text>
<text x="454.00" y="92.50" font-size="4.2" text-anchor="middle" fill="#222">0</text>
<text x="466.00" y="94.50" font-size="4.2" text-anchor="middle" fill="#222">23</text>
<text x="462.00" y="98.50" font-size="4.2" text-anchor="middle" fill="#222">15</text>
<text x="453.00" y="100.50" font-size="4.2" text-anchor="middle" fill="#222">13</text>
<text x="466.00" y="102.50" font-size="4.2" text-anchor="middle" fill="#222">10</text>
<text x="452.00" y="105.50" font-size="4.2" text-anchor="middle" fill="#222">5</text>
<text x="462.00" y="108.50" font-size="4.2" text-anchor="middle" fill="#222">9</text>
<text x="474.00" y="90.50" font-size="4.2" text-anchor="middle" fill="#222">12</text>
<line x1="427.50" y1="24.90" x2="427.50" y2="117.20" stroke="#333" stroke-width="0.8"/>
<line x1="427.50" y1="117.20" x2="513.70" y2="117.20" stroke="#333" stroke-width="0.8"/>
<line x1="425.40" y1="27.30" x2="427.40" y2="27.30" stroke="#333" stroke-width="0.8"/>
<text x="423.00" y="30.50" font-size="8.8" text-anchor="end">10</text>
<line x1="425.40" y1="49.30" x2="427.40" y2="49.30" stroke="#333" stroke-width="0.8"/>
<text x="423.00" y="52.50" font-size="8.8" text-anchor="end">5</text>
<line x1="425.40" y1="72.40" x2="427.40" y2="72.40" stroke="#333" stroke-width="0.8"/>
<text x="423.00" y="75.60" font-size="8.8" text-anchor="end">0</text>
<line x1="425.40" y1="94.40" x2="427.40" y2="94.40" stroke="#333" stroke-width="0.8"/>
<text x="423.00" y="97.60" font-size="8.8" text-anchor="end">−5</text>
<line x1="433.50" y1="116.90" x2="433.50" y2="118.90" stroke="#333" stroke-width="0.8"/>
<text x="433.50" y="127.60" font-size="8.8" text-anchor="middle">−5</text>
<line x1="457.30" y1="116.90" x2="457.30" y2="118.90" stroke="#333" stroke-width="0.8"/>
<text x="457.30" y="127.60" font-size="8.8" text-anchor="middle">0</text>
<line x1="481.40" y1="116.90" x2="481.40" y2="118.90" stroke="#333" stroke-width="0.8"/>
<text x="481.40" y="127.60" font-size="8.8" text-anchor="middle">5</text>
<line x1="505.50" y1="116.90" x2="505.50" y2="118.90" stroke="#333" stroke-width="0.8"/>
<text x="505.50" y="127.60" font-size="8.8" text-anchor="middle">10</text>
<text x="411.40" y="71.00" font-size="10.3" text-anchor="middle" textLength="37.20" lengthAdjust="spacingAndGlyphs" transform="rotate(-90 411.40 71.00)">UMAP_2</text>
<circle cx="506.2" cy="72.0" r="0.7" fill="#f4a0a0"/><circle cx="488.6" cy="112.4" r="0.7" fill="#d2541e"/>
<text x="470.80" y="17.50" font-size="10.9" text-anchor="middle">Cluster analysis</text>
<text x="470.50" y="141.80" font-size="10.9" text-anchor="middle" textLength="37.00" lengthAdjust="spacingAndGlyphs">UMAP_1</text>
<text x="470.50" y="154.60" font-size="10.9" text-anchor="middle">Data filtering</text>
<text x="470.60" y="166.50" font-size="10.9" text-anchor="middle">pseudotime analysis</text>
<line x1="521.80" y1="81.00" x2="540.80" y2="81.00" stroke="#231f20" stroke-width="1.3"/>
<path d="M544.80 81.00 L538.80 78.20 L538.80 83.80Z" fill="#231f20"/>
<defs><clipPath id="vclip"><path d="M583.5 25.6 Q591.6 26.1 593.4 35.9 L594.5 51.5 L596.1 63.3 Q607.9 69.2 598.3 80.6 Q612.5 90.2 602.6 97.2 Q613.2 104.5 604.6 112.5 Q613.5 117.8 609.0 128.7 L558.9 128.7 Q555.0 123.4 563.2 119.2 Q559.2 110.3 566.8 103.5 Q560.2 95.2 568.8 87.6 Q563.1 82.6 572.1 74.1 Q567.6 68.2 574.0 62.7 L574.8 51.5 L575.7 35.9 Q575.9 26.1 583.5 25.6 Z"/></clipPath>
<filter id="purp" x="0" y="0" width="1" height="1"><feTurbulence type="fractalNoise" baseFrequency="0.22" numOctaves="2" seed="5"/><feColorMatrix type="matrix" values="0 0 0 0 0.45  0 0 0 0 0.1  0 0 0 0 0.7  5 0 0 0 -2.45"/></filter>
<filter id="wsp" x="0" y="0" width="1" height="1"><feTurbulence type="fractalNoise" baseFrequency="0.85" numOctaves="1" seed="2"/><feColorMatrix type="matrix" values="0 0 0 0 0.85  0 0 0 0 0.82  0 0 0 0 0.82  6 0 0 0 -3.2"/></filter><filter id="dsp" x="0" y="0" width="1" height="1"><feTurbulence type="fractalNoise" baseFrequency="0.8" numOctaves="1" seed="12"/><feColorMatrix type="matrix" values="0 0 0 0 0.25  0 0 0 0 0.05  0 0 0 0 0.2  6 0 0 0 -3.3"/></filter>
<filter id="gsp" x="0" y="0" width="1" height="1"><feTurbulence type="fractalNoise" baseFrequency="0.75" numOctaves="1" seed="7"/><feColorMatrix type="matrix" values="0 0 0 0 0.35  0 0 0 0 0.78  0 0 0 0 0.3  7 0 0 0 -3.7"/></filter>
<filter id="bgn" x="0" y="0" width="1" height="1"><feTurbulence type="fractalNoise" baseFrequency="0.9" numOctaves="1" seed="4"/><feColorMatrix type="matrix" values="0 0 0 0 0.7  0 0 0 0 0.3  0 0 0 0 0.5  9 0 0 0 -6.1"/></filter>
<filter id="vblur"><feGaussianBlur stdDeviation="3"/></filter>
</defs>
<rect x="554.2" y="20.8" width="61.8" height="107.9" fill="#060606"/>
<rect x="554.2" y="20.8" width="61.8" height="107.9" filter="url(#bgn)" opacity="0.55"/>
<g clip-path="url(#vclip)"><rect x="554" y="20" width="63" height="110" fill="#d23030"/><rect x="554" y="20" width="63" height="110" filter="url(#purp)"/><ellipse cx="585" cy="102" rx="8" ry="40" fill="#7a9c50" filter="url(#vblur)" opacity="0.85"/><rect x="554" y="20" width="63" height="110" filter="url(#gsp)" opacity="0.55"/><rect x="554" y="20" width="63" height="110" filter="url(#wsp)" opacity="0.55"/><rect x="554" y="20" width="63" height="110" filter="url(#dsp)" opacity="0.5"/></g>
<path d="M583.5 25.6 Q591.6 26.1 593.4 35.9 L594.5 51.5 L596.1 63.3 Q607.9 69.2 598.3 80.6 Q612.5 90.2 602.6 97.2 Q613.2 104.5 604.6 112.5 Q613.5 117.8 609.0 128.7 L558.9 128.7 Q555.0 123.4 563.2 119.2 Q559.2 110.3 566.8 103.5 Q560.2 95.2 568.8 87.6 Q563.1 82.6 572.1 74.1 Q567.6 68.2 574.0 62.7 L574.8 51.5 L575.7 35.9 Q575.9 26.1 583.5 25.6 Z" fill="none" stroke="#f0e0e0" stroke-width="0.6" opacity="0.6"/>
<rect x="596.2" y="122" width="16.4" height="3" fill="#fff"/>
<text x="584.60" y="17.50" font-size="10.9" text-anchor="middle">Validation</text>
<text x="584.60" y="140.90" font-size="10.9" text-anchor="middle">Multiplex</text>
<text x="584.60" y="153.70" font-size="10.9" text-anchor="middle">FISH</text>
</svg>
</body></html>
